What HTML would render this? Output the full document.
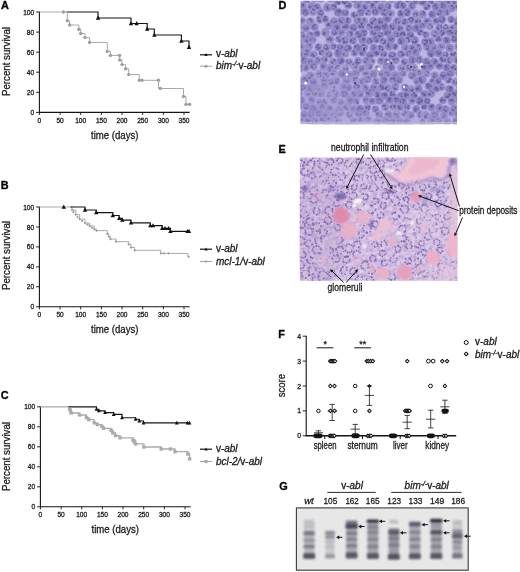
<!DOCTYPE html><html><head><meta charset="utf-8"><title>Figure</title><style>html,body{margin:0;padding:0;background:#fff}svg{display:block}</style></head><body><svg width="520" height="572" viewBox="0 0 520 572" font-family="Liberation Sans, sans-serif">
<rect width="520" height="572" fill="#fff"/>
<text x="1" y="9" font-size="10.9" text-anchor="start" fill="#000" font-weight="bold" stroke="#000" stroke-width="0.3" stroke-linejoin="round" >A</text>
<path d="M39.4 11.5V112.4H189.6" fill="none" stroke="#141414" stroke-width="1.1"/>
<path d="M36.0 12.0H39.4" stroke="#141414" stroke-width="0.9"/>
<text x="34.199999999999996" y="14.5" font-size="6.6" text-anchor="end" fill="#1a1a1a" stroke="#1a1a1a" stroke-width="0.28" >100</text>
<path d="M36.0 32.1H39.4" stroke="#141414" stroke-width="0.9"/>
<text x="34.199999999999996" y="34.6" font-size="6.6" text-anchor="end" fill="#1a1a1a" stroke="#1a1a1a" stroke-width="0.28" >80</text>
<path d="M36.0 52.2H39.4" stroke="#141414" stroke-width="0.9"/>
<text x="34.199999999999996" y="54.7" font-size="6.6" text-anchor="end" fill="#1a1a1a" stroke="#1a1a1a" stroke-width="0.28" >60</text>
<path d="M36.0 72.2H39.4" stroke="#141414" stroke-width="0.9"/>
<text x="34.199999999999996" y="74.7" font-size="6.6" text-anchor="end" fill="#1a1a1a" stroke="#1a1a1a" stroke-width="0.28" >40</text>
<path d="M36.0 92.3H39.4" stroke="#141414" stroke-width="0.9"/>
<text x="34.199999999999996" y="94.8" font-size="6.6" text-anchor="end" fill="#1a1a1a" stroke="#1a1a1a" stroke-width="0.28" >20</text>
<path d="M36.0 112.4H39.4" stroke="#141414" stroke-width="0.9"/>
<text x="34.199999999999996" y="114.9" font-size="6.6" text-anchor="end" fill="#1a1a1a" stroke="#1a1a1a" stroke-width="0.28" >0</text>
<path d="M39.4 112.4V115.0" stroke="#141414" stroke-width="0.9"/>
<text x="39.4" y="123.0" font-size="6.6" text-anchor="middle" fill="#1a1a1a" stroke="#1a1a1a" stroke-width="0.28" >0</text>
<path d="M60.1 112.4V115.0" stroke="#141414" stroke-width="0.9"/>
<text x="60.1" y="123.0" font-size="6.6" text-anchor="middle" fill="#1a1a1a" stroke="#1a1a1a" stroke-width="0.28" >50</text>
<path d="M80.7 112.4V115.0" stroke="#141414" stroke-width="0.9"/>
<text x="80.7" y="123.0" font-size="6.6" text-anchor="middle" fill="#1a1a1a" stroke="#1a1a1a" stroke-width="0.28" >100</text>
<path d="M101.4 112.4V115.0" stroke="#141414" stroke-width="0.9"/>
<text x="101.4" y="123.0" font-size="6.6" text-anchor="middle" fill="#1a1a1a" stroke="#1a1a1a" stroke-width="0.28" >150</text>
<path d="M122.0 112.4V115.0" stroke="#141414" stroke-width="0.9"/>
<text x="122.0" y="123.0" font-size="6.6" text-anchor="middle" fill="#1a1a1a" stroke="#1a1a1a" stroke-width="0.28" >200</text>
<path d="M142.7 112.4V115.0" stroke="#141414" stroke-width="0.9"/>
<text x="142.7" y="123.0" font-size="6.6" text-anchor="middle" fill="#1a1a1a" stroke="#1a1a1a" stroke-width="0.28" >250</text>
<path d="M163.4 112.4V115.0" stroke="#141414" stroke-width="0.9"/>
<text x="163.4" y="123.0" font-size="6.6" text-anchor="middle" fill="#1a1a1a" stroke="#1a1a1a" stroke-width="0.28" >300</text>
<path d="M184.0 112.4V115.0" stroke="#141414" stroke-width="0.9"/>
<text x="184.0" y="123.0" font-size="6.6" text-anchor="middle" fill="#1a1a1a" stroke="#1a1a1a" stroke-width="0.28" >350</text>
<text x="9.6" y="96" font-size="10" text-anchor="start" fill="#1a1a1a" textLength="69" lengthAdjust="spacingAndGlyphs" transform="rotate(-90 9.6 96)" stroke="#1a1a1a" stroke-width="0.28" >Percent survival</text>
<text x="91" y="138.8" font-size="10" text-anchor="start" fill="#1a1a1a" textLength="47.5" lengthAdjust="spacingAndGlyphs" stroke="#1a1a1a" stroke-width="0.28" >time (days)</text>
<path d="M66.5 12.0H98.0V18.0H131.0V23.5H147.2V29.0H154.3V35.0H181.4V41.0H189.0V47.2" fill="none" stroke="#141414" stroke-width="1.15"/>
<path d="M95.8 19.7L100.2 19.7L98.0 15.6Z" fill="#111"/>
<path d="M128.8 25.2L133.2 25.2L131.0 21.1Z" fill="#111"/>
<path d="M134.4 25.2L138.8 25.2L136.6 21.1Z" fill="#111"/>
<path d="M145.0 30.7L149.3 30.7L147.2 26.6Z" fill="#111"/>
<path d="M152.2 36.7L156.5 36.7L154.3 32.6Z" fill="#111"/>
<path d="M179.2 42.7L183.6 42.7L181.4 38.6Z" fill="#111"/>
<path d="M186.8 48.9L191.2 48.9L189.0 44.8Z" fill="#111"/>
<path d="M39.4 12.0H67.3V20.7H69.6V25.0H78.8V29.3H80.7V33.5H85.0V37.6H89.6V42.4H107.3V51.4H110.4V55.4H119.6V60.0H122.0V64.6H125.6V68.8H128.7V74.6H139.3V80.3H158.5V88.5H183.5V96.5H186.0V104.4H189.6" fill="none" stroke="#9f9f9f" stroke-width="0.9"/>
<circle cx="63.5" cy="12.0" r="1.7" fill="#9f9f9f"/>
<circle cx="67.3" cy="20.7" r="1.7" fill="#9f9f9f"/>
<circle cx="69.6" cy="25.0" r="1.7" fill="#9f9f9f"/>
<circle cx="78.8" cy="29.3" r="1.7" fill="#9f9f9f"/>
<circle cx="80.7" cy="33.5" r="1.7" fill="#9f9f9f"/>
<circle cx="85.0" cy="37.6" r="1.7" fill="#9f9f9f"/>
<circle cx="89.6" cy="42.4" r="1.7" fill="#9f9f9f"/>
<circle cx="107.3" cy="51.4" r="1.7" fill="#9f9f9f"/>
<circle cx="110.4" cy="55.4" r="1.7" fill="#9f9f9f"/>
<circle cx="119.6" cy="55.4" r="1.7" fill="#9f9f9f"/>
<circle cx="119.8" cy="60.0" r="1.7" fill="#9f9f9f"/>
<circle cx="122.0" cy="64.6" r="1.7" fill="#9f9f9f"/>
<circle cx="125.6" cy="68.8" r="1.7" fill="#9f9f9f"/>
<circle cx="128.7" cy="74.6" r="1.7" fill="#9f9f9f"/>
<circle cx="139.3" cy="80.3" r="1.7" fill="#9f9f9f"/>
<circle cx="142.0" cy="80.3" r="1.7" fill="#9f9f9f"/>
<circle cx="158.5" cy="80.3" r="1.7" fill="#9f9f9f"/>
<circle cx="160.3" cy="88.5" r="1.7" fill="#9f9f9f"/>
<circle cx="183.5" cy="96.5" r="1.7" fill="#9f9f9f"/>
<circle cx="186.0" cy="104.4" r="1.7" fill="#9f9f9f"/>
<circle cx="189.6" cy="104.4" r="1.7" fill="#9f9f9f"/>
<path d="M200 54.8H212" stroke="#141414" stroke-width="1.2"/>
<path d="M204.4 56.1L207.6 56.1L206.0 53.0Z" fill="#111"/>
<path d="M200 66.2H212" stroke="#9f9f9f" stroke-width="1"/>
<circle cx="206.0" cy="66.2" r="1.5" fill="#9f9f9f"/>
<text x="215.9" y="57.2" font-size="10" text-anchor="start" fill="#1a1a1a" stroke="#1a1a1a" stroke-width="0.28" >v-<tspan font-style="italic">abl</tspan></text>
<text x="215.9" y="68.6" font-size="10" text-anchor="start" fill="#1a1a1a" stroke="#1a1a1a" stroke-width="0.28" ><tspan font-style="italic">bim</tspan><tspan font-size="6.8" dy="-3" font-style="italic">-/-</tspan><tspan dy="3">v-</tspan><tspan font-style="italic">abl</tspan></text>
<text x="0.8" y="189" font-size="10.9" text-anchor="start" fill="#000" font-weight="bold" stroke="#000" stroke-width="0.3" stroke-linejoin="round" >B</text>
<path d="M39.4 206.5V306.8H189.6" fill="none" stroke="#141414" stroke-width="1.1"/>
<path d="M36.0 207.0H39.4" stroke="#141414" stroke-width="0.9"/>
<text x="34.199999999999996" y="209.5" font-size="6.6" text-anchor="end" fill="#1a1a1a" stroke="#1a1a1a" stroke-width="0.28" >100</text>
<path d="M36.0 227.0H39.4" stroke="#141414" stroke-width="0.9"/>
<text x="34.199999999999996" y="229.5" font-size="6.6" text-anchor="end" fill="#1a1a1a" stroke="#1a1a1a" stroke-width="0.28" >80</text>
<path d="M36.0 246.9H39.4" stroke="#141414" stroke-width="0.9"/>
<text x="34.199999999999996" y="249.4" font-size="6.6" text-anchor="end" fill="#1a1a1a" stroke="#1a1a1a" stroke-width="0.28" >60</text>
<path d="M36.0 266.9H39.4" stroke="#141414" stroke-width="0.9"/>
<text x="34.199999999999996" y="269.4" font-size="6.6" text-anchor="end" fill="#1a1a1a" stroke="#1a1a1a" stroke-width="0.28" >40</text>
<path d="M36.0 286.8H39.4" stroke="#141414" stroke-width="0.9"/>
<text x="34.199999999999996" y="289.3" font-size="6.6" text-anchor="end" fill="#1a1a1a" stroke="#1a1a1a" stroke-width="0.28" >20</text>
<path d="M36.0 306.8H39.4" stroke="#141414" stroke-width="0.9"/>
<text x="34.199999999999996" y="309.3" font-size="6.6" text-anchor="end" fill="#1a1a1a" stroke="#1a1a1a" stroke-width="0.28" >0</text>
<path d="M39.4 306.8V309.40000000000003" stroke="#141414" stroke-width="0.9"/>
<text x="39.4" y="317.40000000000003" font-size="6.6" text-anchor="middle" fill="#1a1a1a" stroke="#1a1a1a" stroke-width="0.28" >0</text>
<path d="M60.1 306.8V309.40000000000003" stroke="#141414" stroke-width="0.9"/>
<text x="60.1" y="317.40000000000003" font-size="6.6" text-anchor="middle" fill="#1a1a1a" stroke="#1a1a1a" stroke-width="0.28" >50</text>
<path d="M80.7 306.8V309.40000000000003" stroke="#141414" stroke-width="0.9"/>
<text x="80.7" y="317.40000000000003" font-size="6.6" text-anchor="middle" fill="#1a1a1a" stroke="#1a1a1a" stroke-width="0.28" >100</text>
<path d="M101.4 306.8V309.40000000000003" stroke="#141414" stroke-width="0.9"/>
<text x="101.4" y="317.40000000000003" font-size="6.6" text-anchor="middle" fill="#1a1a1a" stroke="#1a1a1a" stroke-width="0.28" >150</text>
<path d="M122.0 306.8V309.40000000000003" stroke="#141414" stroke-width="0.9"/>
<text x="122.0" y="317.40000000000003" font-size="6.6" text-anchor="middle" fill="#1a1a1a" stroke="#1a1a1a" stroke-width="0.28" >200</text>
<path d="M142.7 306.8V309.40000000000003" stroke="#141414" stroke-width="0.9"/>
<text x="142.7" y="317.40000000000003" font-size="6.6" text-anchor="middle" fill="#1a1a1a" stroke="#1a1a1a" stroke-width="0.28" >250</text>
<path d="M163.4 306.8V309.40000000000003" stroke="#141414" stroke-width="0.9"/>
<text x="163.4" y="317.40000000000003" font-size="6.6" text-anchor="middle" fill="#1a1a1a" stroke="#1a1a1a" stroke-width="0.28" >300</text>
<path d="M184.0 306.8V309.40000000000003" stroke="#141414" stroke-width="0.9"/>
<text x="184.0" y="317.40000000000003" font-size="6.6" text-anchor="middle" fill="#1a1a1a" stroke="#1a1a1a" stroke-width="0.28" >350</text>
<text x="9.6" y="290" font-size="10" text-anchor="start" fill="#1a1a1a" textLength="69" lengthAdjust="spacingAndGlyphs" transform="rotate(-90 9.6 290)" stroke="#1a1a1a" stroke-width="0.28" >Percent survival</text>
<text x="91" y="333.4" font-size="10" text-anchor="start" fill="#1a1a1a" textLength="47.5" lengthAdjust="spacingAndGlyphs" stroke="#1a1a1a" stroke-width="0.28" >time (days)</text>
<path d="M39.4 207.0H71.2H72.0V210.0H75.8V214.6H79.6V219.2H85.0V223.0H89.6V226.0H94.2V229.2H96.5V230.6H106.4H107.3V233.8H108.8V236.6H110.4V239.0H116.0V241.7H128.7V244.4H131.0V247.5H134.7V250.3H160.9V253.4H187.8V256.7H188.7" fill="none" stroke="#9f9f9f" stroke-width="0.9"/>
<path d="M70.5 207.0H85.0V210.0H96.2V212.6H112.8V215.5H119.2V218.3H122.3V220.1H131.0V222.9H150.3V225.6H162.2V228.3H170.4V231.4H188.7" fill="none" stroke="#141414" stroke-width="1.15"/>
<path d="M61.6 208.7L66.0 208.7L63.8 204.6Z" fill="#111"/>
<path d="M82.8 211.7L87.2 211.7L85.0 207.6Z" fill="#111"/>
<path d="M94.0 214.3L98.4 214.3L96.2 210.2Z" fill="#111"/>
<path d="M110.6 217.2L115.0 217.2L112.8 213.1Z" fill="#111"/>
<path d="M117.0 220.0L121.4 220.0L119.2 215.9Z" fill="#111"/>
<path d="M120.1 221.8L124.5 221.8L122.3 217.7Z" fill="#111"/>
<path d="M128.8 224.6L133.2 224.6L131.0 220.5Z" fill="#111"/>
<path d="M148.2 227.3L152.5 227.3L150.3 223.2Z" fill="#111"/>
<path d="M150.8 227.3L155.2 227.3L153.0 223.2Z" fill="#111"/>
<path d="M160.0 230.0L164.3 230.0L162.2 225.9Z" fill="#111"/>
<path d="M162.8 230.0L167.2 230.0L165.0 225.9Z" fill="#111"/>
<path d="M166.4 230.0L170.8 230.0L168.6 225.9Z" fill="#111"/>
<path d="M168.2 233.1L172.6 233.1L170.4 229.0Z" fill="#111"/>
<path d="M185.4 233.1L189.8 233.1L187.6 229.0Z" fill="#111"/>
<path d="M186.8 233.1L191.2 233.1L189.0 229.0Z" fill="#111"/>
<path d="M70.6 210.0L72.0 208.6L73.4 210.0L72.0 211.4Z" fill="#9f9f9f"/>
<path d="M72.1 212.0L73.5 210.6L74.9 212.0L73.5 213.4Z" fill="#9f9f9f"/>
<path d="M74.4 214.6L75.8 213.2L77.2 214.6L75.8 216.0Z" fill="#9f9f9f"/>
<path d="M76.1 217.0L77.5 215.6L78.9 217.0L77.5 218.4Z" fill="#9f9f9f"/>
<path d="M78.2 219.2L79.6 217.8L81.0 219.2L79.6 220.6Z" fill="#9f9f9f"/>
<path d="M80.6 221.0L82.0 219.6L83.4 221.0L82.0 222.4Z" fill="#9f9f9f"/>
<path d="M83.6 223.0L85.0 221.6L86.4 223.0L85.0 224.4Z" fill="#9f9f9f"/>
<path d="M86.1 224.6L87.5 223.2L88.9 224.6L87.5 226.0Z" fill="#9f9f9f"/>
<path d="M88.2 226.0L89.6 224.6L91.0 226.0L89.6 227.4Z" fill="#9f9f9f"/>
<path d="M90.6 227.7L92.0 226.3L93.4 227.7L92.0 229.1Z" fill="#9f9f9f"/>
<path d="M92.8 229.2L94.2 227.8L95.6 229.2L94.2 230.6Z" fill="#9f9f9f"/>
<path d="M95.1 230.6L96.5 229.2L97.9 230.6L96.5 232.0Z" fill="#9f9f9f"/>
<path d="M105.9 233.8L107.3 232.4L108.7 233.8L107.3 235.2Z" fill="#9f9f9f"/>
<path d="M107.4 236.6L108.8 235.2L110.2 236.6L108.8 238.0Z" fill="#9f9f9f"/>
<path d="M109.0 239.0L110.4 237.6L111.8 239.0L110.4 240.4Z" fill="#9f9f9f"/>
<path d="M114.6 241.7L116.0 240.3L117.4 241.7L116.0 243.1Z" fill="#9f9f9f"/>
<path d="M127.3 244.4L128.7 243.0L130.1 244.4L128.7 245.8Z" fill="#9f9f9f"/>
<path d="M129.6 247.5L131.0 246.1L132.4 247.5L131.0 248.9Z" fill="#9f9f9f"/>
<path d="M133.3 250.3L134.7 248.9L136.1 250.3L134.7 251.7Z" fill="#9f9f9f"/>
<path d="M159.5 253.4L160.9 252.0L162.3 253.4L160.9 254.8Z" fill="#9f9f9f"/>
<path d="M162.6 253.4L164.0 252.0L165.4 253.4L164.0 254.8Z" fill="#9f9f9f"/>
<path d="M167.2 253.4L168.6 252.0L170.0 253.4L168.6 254.8Z" fill="#9f9f9f"/>
<path d="M187.3 256.7L188.7 255.3L190.1 256.7L188.7 258.1Z" fill="#9f9f9f"/>
<path d="M200 249.2H212" stroke="#141414" stroke-width="1.2"/>
<path d="M204.4 250.5L207.6 250.5L206.0 247.4Z" fill="#111"/>
<path d="M200 261.5H212" stroke="#9f9f9f" stroke-width="1"/>
<path d="M204.6 261.5L206.0 260.1L207.4 261.5L206.0 262.9Z" fill="#9f9f9f"/>
<text x="215.9" y="252.2" font-size="10" text-anchor="start" fill="#1a1a1a" stroke="#1a1a1a" stroke-width="0.28" >v-<tspan font-style="italic">abl</tspan></text>
<text x="215.9" y="264.5" font-size="10" text-anchor="start" fill="#1a1a1a" stroke="#1a1a1a" stroke-width="0.28" ><tspan font-style="italic">mcl-1/</tspan>v-<tspan font-style="italic">abl</tspan></text>
<text x="0.8" y="399" font-size="10.9" text-anchor="start" fill="#000" font-weight="bold" stroke="#000" stroke-width="0.3" stroke-linejoin="round" >C</text>
<path d="M40.4 406.3V506.8H190.6" fill="none" stroke="#141414" stroke-width="1.1"/>
<path d="M37.0 406.8H40.4" stroke="#141414" stroke-width="0.9"/>
<text x="35.199999999999996" y="409.3" font-size="6.6" text-anchor="end" fill="#1a1a1a" stroke="#1a1a1a" stroke-width="0.28" >100</text>
<path d="M37.0 426.8H40.4" stroke="#141414" stroke-width="0.9"/>
<text x="35.199999999999996" y="429.3" font-size="6.6" text-anchor="end" fill="#1a1a1a" stroke="#1a1a1a" stroke-width="0.28" >80</text>
<path d="M37.0 446.8H40.4" stroke="#141414" stroke-width="0.9"/>
<text x="35.199999999999996" y="449.3" font-size="6.6" text-anchor="end" fill="#1a1a1a" stroke="#1a1a1a" stroke-width="0.28" >60</text>
<path d="M37.0 466.8H40.4" stroke="#141414" stroke-width="0.9"/>
<text x="35.199999999999996" y="469.3" font-size="6.6" text-anchor="end" fill="#1a1a1a" stroke="#1a1a1a" stroke-width="0.28" >40</text>
<path d="M37.0 486.8H40.4" stroke="#141414" stroke-width="0.9"/>
<text x="35.199999999999996" y="489.3" font-size="6.6" text-anchor="end" fill="#1a1a1a" stroke="#1a1a1a" stroke-width="0.28" >20</text>
<path d="M37.0 506.8H40.4" stroke="#141414" stroke-width="0.9"/>
<text x="35.199999999999996" y="509.3" font-size="6.6" text-anchor="end" fill="#1a1a1a" stroke="#1a1a1a" stroke-width="0.28" >0</text>
<path d="M40.4 506.8V509.40000000000003" stroke="#141414" stroke-width="0.9"/>
<text x="40.4" y="517.4" font-size="6.6" text-anchor="middle" fill="#1a1a1a" stroke="#1a1a1a" stroke-width="0.28" >0</text>
<path d="M61.1 506.8V509.40000000000003" stroke="#141414" stroke-width="0.9"/>
<text x="61.1" y="517.4" font-size="6.6" text-anchor="middle" fill="#1a1a1a" stroke="#1a1a1a" stroke-width="0.28" >50</text>
<path d="M81.7 506.8V509.40000000000003" stroke="#141414" stroke-width="0.9"/>
<text x="81.7" y="517.4" font-size="6.6" text-anchor="middle" fill="#1a1a1a" stroke="#1a1a1a" stroke-width="0.28" >100</text>
<path d="M102.4 506.8V509.40000000000003" stroke="#141414" stroke-width="0.9"/>
<text x="102.4" y="517.4" font-size="6.6" text-anchor="middle" fill="#1a1a1a" stroke="#1a1a1a" stroke-width="0.28" >150</text>
<path d="M123.0 506.8V509.40000000000003" stroke="#141414" stroke-width="0.9"/>
<text x="123.0" y="517.4" font-size="6.6" text-anchor="middle" fill="#1a1a1a" stroke="#1a1a1a" stroke-width="0.28" >200</text>
<path d="M143.7 506.8V509.40000000000003" stroke="#141414" stroke-width="0.9"/>
<text x="143.7" y="517.4" font-size="6.6" text-anchor="middle" fill="#1a1a1a" stroke="#1a1a1a" stroke-width="0.28" >250</text>
<path d="M164.4 506.8V509.40000000000003" stroke="#141414" stroke-width="0.9"/>
<text x="164.4" y="517.4" font-size="6.6" text-anchor="middle" fill="#1a1a1a" stroke="#1a1a1a" stroke-width="0.28" >300</text>
<path d="M185.0 506.8V509.40000000000003" stroke="#141414" stroke-width="0.9"/>
<text x="185.0" y="517.4" font-size="6.6" text-anchor="middle" fill="#1a1a1a" stroke="#1a1a1a" stroke-width="0.28" >350</text>
<text x="9.6" y="491" font-size="10" text-anchor="start" fill="#1a1a1a" textLength="69" lengthAdjust="spacingAndGlyphs" transform="rotate(-90 9.6 491)" stroke="#1a1a1a" stroke-width="0.28" >Percent survival</text>
<text x="91.5" y="533.4" font-size="10" text-anchor="start" fill="#1a1a1a" textLength="47.5" lengthAdjust="spacingAndGlyphs" stroke="#1a1a1a" stroke-width="0.28" >time (days)</text>
<path d="M40.4 406.8H68.8H69.6V409.2H71.2V413.0H79.6V415.0H86.5V417.7H88.8V419.7H94.2V422.8H97.3V424.6H101.8V426.5H103.7V428.3H111.0V430.2H112.8V432.9H115.5V435.6H120.0V437.8H133.0V440.2H135.6V443.9H143.9V447.0H161.2V449.0H175.0V451.7H187.8V454.0H189.6V458.9" fill="none" stroke="#ababab" stroke-width="1.3"/>
<path d="M68.5 406.8H96.5V409.2H98.8V410.8H105.0V412.6H113.7V414.4H122.0V417.7H135.6V419.2H139.3V421.0H143.5V422.9H189.6" fill="none" stroke="#141414" stroke-width="1.15"/>
<path d="M94.6 410.7L98.4 410.7L96.5 407.1Z" fill="#111"/>
<path d="M96.9 412.3L100.7 412.3L98.8 408.7Z" fill="#111"/>
<path d="M103.1 414.1L106.9 414.1L105.0 410.5Z" fill="#111"/>
<path d="M111.8 415.9L115.6 415.9L113.7 412.3Z" fill="#111"/>
<path d="M120.1 419.2L123.9 419.2L122.0 415.6Z" fill="#111"/>
<path d="M133.7 420.7L137.5 420.7L135.6 417.1Z" fill="#111"/>
<path d="M137.4 422.5L141.2 422.5L139.3 418.9Z" fill="#111"/>
<path d="M141.6 424.4L145.4 424.4L143.5 420.8Z" fill="#111"/>
<path d="M174.9 424.4L178.7 424.4L176.8 420.8Z" fill="#111"/>
<path d="M185.6 424.4L189.4 424.4L187.5 420.8Z" fill="#111"/>
<path d="M187.6 424.4L191.4 424.4L189.5 420.8Z" fill="#111"/>
<rect x="67.9" y="407.5" width="3.4" height="3.4" fill="#ababab"/>
<rect x="68.7" y="409.3" width="3.4" height="3.4" fill="#ababab"/>
<rect x="69.5" y="411.3" width="3.4" height="3.4" fill="#ababab"/>
<rect x="77.9" y="413.3" width="3.4" height="3.4" fill="#ababab"/>
<rect x="84.8" y="416.0" width="3.4" height="3.4" fill="#ababab"/>
<rect x="87.1" y="418.0" width="3.4" height="3.4" fill="#ababab"/>
<rect x="92.5" y="421.1" width="3.4" height="3.4" fill="#ababab"/>
<rect x="95.6" y="422.9" width="3.4" height="3.4" fill="#ababab"/>
<rect x="100.1" y="424.8" width="3.4" height="3.4" fill="#ababab"/>
<rect x="102.0" y="426.6" width="3.4" height="3.4" fill="#ababab"/>
<rect x="109.3" y="428.5" width="3.4" height="3.4" fill="#ababab"/>
<rect x="111.1" y="431.2" width="3.4" height="3.4" fill="#ababab"/>
<rect x="113.8" y="433.9" width="3.4" height="3.4" fill="#ababab"/>
<rect x="118.3" y="436.1" width="3.4" height="3.4" fill="#ababab"/>
<rect x="131.3" y="438.5" width="3.4" height="3.4" fill="#ababab"/>
<rect x="132.6" y="440.3" width="3.4" height="3.4" fill="#ababab"/>
<rect x="133.9" y="442.2" width="3.4" height="3.4" fill="#ababab"/>
<rect x="142.2" y="445.3" width="3.4" height="3.4" fill="#ababab"/>
<rect x="159.5" y="447.3" width="3.4" height="3.4" fill="#ababab"/>
<rect x="168.7" y="447.3" width="3.4" height="3.4" fill="#ababab"/>
<rect x="173.3" y="450.0" width="3.4" height="3.4" fill="#ababab"/>
<rect x="186.1" y="452.3" width="3.4" height="3.4" fill="#ababab"/>
<rect x="187.9" y="457.2" width="3.4" height="3.4" fill="#ababab"/>
<path d="M200 449.2H212" stroke="#141414" stroke-width="1.2"/>
<path d="M204.4 450.5L207.6 450.5L206.0 447.4Z" fill="#111"/>
<path d="M200 461.5H212" stroke="#9f9f9f" stroke-width="1"/>
<rect x="204.4" y="459.9" width="3.2" height="3.2" fill="#ababab"/>
<text x="215.9" y="452.2" font-size="10" text-anchor="start" fill="#1a1a1a" stroke="#1a1a1a" stroke-width="0.28" >v-<tspan font-style="italic">abl</tspan></text>
<text x="215.9" y="464.5" font-size="10" text-anchor="start" fill="#1a1a1a" stroke="#1a1a1a" stroke-width="0.28" ><tspan font-style="italic">bcl-2/</tspan>v-<tspan font-style="italic">abl</tspan></text>
<text x="278.5" y="9" font-size="10.9" text-anchor="start" fill="#000" font-weight="bold" stroke="#000" stroke-width="0.3" stroke-linejoin="round" >D</text>
<text x="278.5" y="152.6" font-size="10.9" text-anchor="start" fill="#000" font-weight="bold" stroke="#000" stroke-width="0.3" stroke-linejoin="round" >E</text>
<text x="278.3" y="338" font-size="10.9" text-anchor="start" fill="#000" font-weight="bold" stroke="#000" stroke-width="0.3" stroke-linejoin="round" >F</text>
<text x="279.2" y="489.6" font-size="10.9" text-anchor="start" fill="#000" font-weight="bold" stroke="#000" stroke-width="0.3" stroke-linejoin="round" >G</text>
<defs><clipPath id="cd"><rect x="300.6" y="0.8" width="156.4" height="123.4"/></clipPath><filter id="fd" x="0" y="0" width="100%" height="100%"><feGaussianBlur stdDeviation="0.55"/></filter><filter id="fb3" x="-30%" y="-30%" width="160%" height="160%"><feGaussianBlur stdDeviation="3"/></filter><filter id="fb1" x="-30%" y="-30%" width="160%" height="160%"><feGaussianBlur stdDeviation="1.2"/></filter></defs>
<g clip-path="url(#cd)">
<rect x="300.6" y="0.8" width="156.4" height="123.4" fill="#bdb6e3"/>
<g filter="url(#fb3)">
<ellipse cx="326" cy="95" rx="34" ry="24" fill="#a79dd5" opacity="0.8"/>
<ellipse cx="370" cy="119" rx="70" ry="8" fill="#b0a6d9" opacity="0.8"/>
<ellipse cx="380" cy="72" rx="45" ry="8" fill="#b4acdc" opacity="0.5"/>
<ellipse cx="447" cy="118" rx="18" ry="6" fill="#b4acdc" opacity="0.6"/>
<ellipse cx="379" cy="69" rx="6" ry="5" fill="#ffffff" opacity="0.6"/>
<ellipse cx="421" cy="66" rx="8" ry="6" fill="#e2ddf2" opacity="0.7"/>
<ellipse cx="347" cy="75" rx="7" ry="5" fill="#d6d0ec" opacity="0.6"/>
</g>
<g filter="url(#fd)">
<ellipse cx="364.6" cy="7.7" rx="3.8" ry="4.3" fill="#8e86c0" stroke="#a39bd0" stroke-width="0.5"/>
<circle cx="364.0" cy="8.6" r="0.8" fill="#695ba4"/>
<circle cx="364.4" cy="6.9" r="1.3" fill="#715ba4"/>
<circle cx="363.2" cy="8.8" r="0.9" fill="#6863a4"/>
<circle cx="365.1" cy="8.2" r="1.2" fill="#6f61a4"/>
<circle cx="366.0" cy="8.3" r="0.8" fill="#6a60a4"/>
<circle cx="363.6" cy="6.0" r="0.7" fill="#705ba4"/>
<ellipse cx="443.6" cy="75.7" rx="4.2" ry="4.4" fill="#8b83bf" stroke="#a39bd0" stroke-width="0.5"/>
<circle cx="445.6" cy="77.1" r="0.8" fill="#646aa6"/>
<circle cx="442.9" cy="77.6" r="0.7" fill="#725fa6"/>
<circle cx="445.4" cy="75.9" r="1.0" fill="#6e6ba6"/>
<circle cx="441.4" cy="75.4" r="1.1" fill="#7163a6"/>
<circle cx="443.0" cy="76.1" r="1.3" fill="#6f66a6"/>
<ellipse cx="426.9" cy="6.8" rx="3.8" ry="3.5" fill="#938bc3" stroke="#a39bd0" stroke-width="0.5"/>
<circle cx="428.3" cy="5.6" r="1.1" fill="#685aa4"/>
<circle cx="429.2" cy="6.6" r="1.0" fill="#655ba4"/>
<circle cx="426.6" cy="8.5" r="1.3" fill="#6965a4"/>
<circle cx="425.5" cy="8.3" r="1.2" fill="#6d5ca4"/>
<circle cx="426.4" cy="8.4" r="1.2" fill="#6964a4"/>
<ellipse cx="404.9" cy="128.6" rx="3.4" ry="4.0" fill="#8a81bf" stroke="#a39bd0" stroke-width="0.5"/>
<circle cx="403.9" cy="127.6" r="1.3" fill="#6c68a8"/>
<circle cx="405.8" cy="127.0" r="1.1" fill="#6c6ea8"/>
<circle cx="404.0" cy="128.7" r="1.3" fill="#7660a8"/>
<circle cx="406.0" cy="130.5" r="1.0" fill="#6e6ba8"/>
<circle cx="404.6" cy="130.7" r="1.1" fill="#6c63a8"/>
<circle cx="403.6" cy="126.8" r="1.1" fill="#706ca8"/>
<circle cx="404.5" cy="128.9" r="0.8" fill="#a59cd2"/>
<ellipse cx="301.7" cy="20.7" rx="3.8" ry="4.0" fill="#9990c6" stroke="#a39bd0" stroke-width="0.5"/>
<circle cx="301.9" cy="19.6" r="0.9" fill="#6e69a7"/>
<circle cx="301.6" cy="21.6" r="1.2" fill="#756ba7"/>
<circle cx="301.5" cy="21.5" r="0.8" fill="#756ea7"/>
<circle cx="303.9" cy="20.3" r="1.0" fill="#6f6ba7"/>
<circle cx="300.1" cy="20.3" r="1.2" fill="#6e64a7"/>
<ellipse cx="340.4" cy="47.8" rx="3.9" ry="4.2" fill="#8c84bf" stroke="#a39bd0" stroke-width="0.5"/>
<circle cx="342.0" cy="47.0" r="1.0" fill="#6260a4"/>
<circle cx="339.1" cy="47.5" r="1.0" fill="#6360a4"/>
<circle cx="340.2" cy="50.1" r="0.8" fill="#6762a4"/>
<circle cx="340.6" cy="48.6" r="1.0" fill="#6f5fa4"/>
<circle cx="339.0" cy="49.5" r="1.3" fill="#705ea4"/>
<circle cx="338.0" cy="47.9" r="0.7" fill="#6862a4"/>
<circle cx="339.9" cy="47.6" r="0.8" fill="#a59cd2"/>
<ellipse cx="311.1" cy="114.4" rx="3.8" ry="4.4" fill="#958bc6" stroke="#a39bd0" stroke-width="0.5"/>
<circle cx="310.3" cy="113.9" r="0.8" fill="#8976b7"/>
<circle cx="309.5" cy="115.0" r="1.2" fill="#8473b7"/>
<circle cx="309.8" cy="116.6" r="0.7" fill="#8072b7"/>
<circle cx="309.8" cy="115.9" r="1.2" fill="#827fb7"/>
<circle cx="312.4" cy="113.0" r="0.8" fill="#897cb7"/>
<circle cx="310.9" cy="114.0" r="0.8" fill="#a59cd2"/>
<ellipse cx="382.0" cy="73.5" rx="4.0" ry="4.5" fill="#998fc8" stroke="#a39bd0" stroke-width="0.5"/>
<circle cx="382.2" cy="75.5" r="1.3" fill="#787cb3"/>
<circle cx="383.6" cy="74.1" r="0.9" fill="#767bb3"/>
<circle cx="379.9" cy="73.3" r="0.8" fill="#8174b3"/>
<circle cx="381.8" cy="74.1" r="1.1" fill="#7879b3"/>
<circle cx="380.2" cy="74.2" r="0.9" fill="#7d73b3"/>
<ellipse cx="311.7" cy="6.5" rx="4.2" ry="4.3" fill="#9088c2" stroke="#a39bd0" stroke-width="0.5"/>
<circle cx="309.3" cy="7.0" r="1.2" fill="#7360a7"/>
<circle cx="313.3" cy="7.3" r="1.2" fill="#6c6aa7"/>
<circle cx="314.1" cy="5.8" r="0.7" fill="#6c5ea7"/>
<circle cx="312.9" cy="6.3" r="0.9" fill="#6a60a7"/>
<circle cx="310.7" cy="8.3" r="1.2" fill="#6965a7"/>
<circle cx="310.9" cy="6.8" r="0.7" fill="#6d62a7"/>
<ellipse cx="367.4" cy="107.4" rx="3.7" ry="3.6" fill="#9990c7" stroke="#a39bd0" stroke-width="0.5"/>
<circle cx="366.5" cy="107.5" r="1.2" fill="#746dab"/>
<circle cx="368.9" cy="106.6" r="1.2" fill="#7965ab"/>
<circle cx="368.8" cy="107.1" r="0.8" fill="#7067ab"/>
<circle cx="366.3" cy="108.3" r="1.3" fill="#6e71ab"/>
<circle cx="368.6" cy="108.9" r="1.0" fill="#736bab"/>
<ellipse cx="360.8" cy="120.5" rx="4.0" ry="4.1" fill="#a59bcf" stroke="#a39bd0" stroke-width="0.5"/>
<circle cx="359.9" cy="121.1" r="1.0" fill="#8284bb"/>
<circle cx="361.0" cy="121.5" r="1.2" fill="#8984bb"/>
<circle cx="360.6" cy="118.4" r="1.1" fill="#8279bb"/>
<circle cx="360.2" cy="119.8" r="1.1" fill="#8477bb"/>
<ellipse cx="354.4" cy="65.8" rx="4.2" ry="4.1" fill="#9c93c9" stroke="#a39bd0" stroke-width="0.5"/>
<circle cx="352.8" cy="63.9" r="1.2" fill="#706dae"/>
<circle cx="355.7" cy="67.3" r="1.3" fill="#736fae"/>
<circle cx="356.3" cy="66.3" r="0.9" fill="#7874ae"/>
<circle cx="356.7" cy="64.8" r="0.8" fill="#706cae"/>
<ellipse cx="359.8" cy="-0.8" rx="4.6" ry="4.3" fill="#938bc3" stroke="#a39bd0" stroke-width="0.5"/>
<circle cx="359.6" cy="-0.0" r="0.7" fill="#6d61a4"/>
<circle cx="360.1" cy="-1.6" r="1.1" fill="#655ba4"/>
<circle cx="360.4" cy="0.3" r="0.7" fill="#6a69a4"/>
<circle cx="361.6" cy="-1.7" r="1.1" fill="#6667a4"/>
<circle cx="358.7" cy="-0.6" r="0.8" fill="#695fa4"/>
<circle cx="360.3" cy="0.2" r="1.2" fill="#6963a4"/>
<circle cx="359.4" cy="-0.4" r="0.8" fill="#a59cd2"/>
<ellipse cx="320.9" cy="93.4" rx="3.8" ry="4.2" fill="#9b91ca" stroke="#a39bd0" stroke-width="0.5"/>
<circle cx="318.9" cy="94.9" r="1.1" fill="#8283bd"/>
<circle cx="319.4" cy="92.4" r="0.7" fill="#8389bd"/>
<circle cx="319.9" cy="94.5" r="1.2" fill="#9085bd"/>
<circle cx="318.5" cy="92.4" r="1.0" fill="#8780bd"/>
<circle cx="320.4" cy="94.2" r="1.2" fill="#8d7fbd"/>
<ellipse cx="385.9" cy="66.5" rx="3.5" ry="3.6" fill="#8f86c2" stroke="#a39bd0" stroke-width="0.5"/>
<circle cx="385.4" cy="65.6" r="1.3" fill="#766dae"/>
<circle cx="385.2" cy="66.7" r="0.7" fill="#7f76ae"/>
<circle cx="387.1" cy="65.2" r="1.1" fill="#7e71ae"/>
<circle cx="386.1" cy="65.9" r="0.7" fill="#7169ae"/>
<circle cx="385.5" cy="66.2" r="0.8" fill="#a59cd2"/>
<ellipse cx="320.7" cy="12.9" rx="3.6" ry="4.3" fill="#8a82bf" stroke="#a39bd0" stroke-width="0.5"/>
<circle cx="321.3" cy="12.4" r="1.0" fill="#6d6ba5"/>
<circle cx="318.4" cy="12.7" r="0.9" fill="#7265a5"/>
<circle cx="320.5" cy="10.8" r="1.1" fill="#6863a5"/>
<circle cx="321.0" cy="14.2" r="1.2" fill="#6d62a5"/>
<circle cx="320.2" cy="14.3" r="0.9" fill="#715ca5"/>
<circle cx="321.4" cy="14.4" r="1.3" fill="#7362a5"/>
<circle cx="321.2" cy="12.7" r="0.8" fill="#a59cd2"/>
<ellipse cx="344.9" cy="12.9" rx="4.2" ry="3.7" fill="#8b83bf" stroke="#a39bd0" stroke-width="0.5"/>
<circle cx="346.6" cy="13.1" r="1.1" fill="#6b5fa4"/>
<circle cx="342.7" cy="12.6" r="1.0" fill="#6766a4"/>
<circle cx="346.9" cy="12.7" r="1.1" fill="#7060a4"/>
<circle cx="345.6" cy="13.7" r="1.2" fill="#6b5ea4"/>
<circle cx="345.3" cy="13.3" r="0.8" fill="#a59cd2"/>
<ellipse cx="387.5" cy="32.5" rx="4.4" ry="4.4" fill="#8b83bf" stroke="#a39bd0" stroke-width="0.5"/>
<circle cx="386.8" cy="32.9" r="0.8" fill="#6862a4"/>
<circle cx="385.5" cy="34.0" r="0.9" fill="#6467a4"/>
<circle cx="386.9" cy="31.9" r="0.9" fill="#6f65a4"/>
<circle cx="386.7" cy="33.5" r="1.1" fill="#6a63a4"/>
<circle cx="389.6" cy="32.5" r="0.9" fill="#7160a4"/>
<circle cx="385.4" cy="31.9" r="0.8" fill="#6860a4"/>
<ellipse cx="371.3" cy="61.3" rx="4.0" ry="3.7" fill="#9990c6" stroke="#a39bd0" stroke-width="0.5"/>
<circle cx="373.6" cy="60.9" r="0.9" fill="#765fa8"/>
<circle cx="372.2" cy="60.6" r="1.1" fill="#7064a8"/>
<circle cx="369.2" cy="62.2" r="1.0" fill="#7366a8"/>
<circle cx="373.1" cy="61.8" r="0.7" fill="#6e5fa8"/>
<circle cx="371.2" cy="61.3" r="0.8" fill="#a59cd2"/>
<ellipse cx="336.9" cy="66.5" rx="3.8" ry="3.8" fill="#9d93c9" stroke="#a39bd0" stroke-width="0.5"/>
<circle cx="335.1" cy="67.8" r="1.1" fill="#7e70ae"/>
<circle cx="336.8" cy="65.8" r="0.7" fill="#756dae"/>
<circle cx="336.5" cy="67.4" r="0.9" fill="#7a6cae"/>
<circle cx="338.4" cy="65.9" r="1.0" fill="#7f71ae"/>
<circle cx="337.3" cy="65.6" r="0.7" fill="#7d6dae"/>
<ellipse cx="325.1" cy="115.1" rx="3.9" ry="3.9" fill="#a096cd" stroke="#a39bd0" stroke-width="0.5"/>
<circle cx="325.7" cy="115.1" r="1.3" fill="#8c81bc"/>
<circle cx="324.5" cy="115.6" r="0.8" fill="#8179bc"/>
<circle cx="325.3" cy="113.4" r="1.0" fill="#8f86bc"/>
<circle cx="325.7" cy="115.9" r="1.0" fill="#8b7abc"/>
<circle cx="324.5" cy="115.0" r="1.0" fill="#8287bc"/>
<circle cx="323.7" cy="115.4" r="1.1" fill="#8e83bc"/>
<ellipse cx="399.9" cy="-0.8" rx="3.6" ry="3.4" fill="#8a82be" stroke="#a39bd0" stroke-width="0.5"/>
<circle cx="401.4" cy="-2.8" r="1.1" fill="#635da4"/>
<circle cx="400.9" cy="-0.7" r="0.7" fill="#6866a4"/>
<circle cx="400.9" cy="-0.5" r="1.1" fill="#655ca4"/>
<circle cx="400.1" cy="-0.3" r="1.0" fill="#6f61a4"/>
<circle cx="399.8" cy="1.5" r="1.1" fill="#715ba4"/>
<ellipse cx="373.8" cy="88.1" rx="4.0" ry="4.2" fill="#9088c2" stroke="#a39bd0" stroke-width="0.5"/>
<circle cx="374.3" cy="87.6" r="0.7" fill="#6a65a8"/>
<circle cx="374.8" cy="87.2" r="1.2" fill="#6d65a8"/>
<circle cx="372.8" cy="89.8" r="1.2" fill="#7766a8"/>
<circle cx="372.5" cy="87.7" r="1.0" fill="#6f65a8"/>
<circle cx="373.3" cy="88.4" r="0.8" fill="#a59cd2"/>
<ellipse cx="380.2" cy="21.5" rx="3.6" ry="3.9" fill="#8981be" stroke="#a39bd0" stroke-width="0.5"/>
<circle cx="378.7" cy="21.0" r="0.9" fill="#6e5da4"/>
<circle cx="380.5" cy="22.9" r="0.9" fill="#6c63a4"/>
<circle cx="379.2" cy="21.6" r="1.3" fill="#6f64a4"/>
<circle cx="382.0" cy="21.5" r="1.0" fill="#6969a4"/>
<circle cx="378.9" cy="22.4" r="1.1" fill="#6466a4"/>
<circle cx="382.1" cy="22.7" r="0.7" fill="#6d66a4"/>
<ellipse cx="401.2" cy="96.0" rx="3.9" ry="3.9" fill="#877fbd" stroke="#a39bd0" stroke-width="0.5"/>
<circle cx="401.3" cy="96.9" r="1.2" fill="#705ba4"/>
<circle cx="401.9" cy="94.0" r="0.8" fill="#6565a4"/>
<circle cx="400.6" cy="98.1" r="1.2" fill="#6860a4"/>
<circle cx="399.4" cy="96.4" r="1.3" fill="#6c68a4"/>
<circle cx="401.8" cy="97.1" r="1.2" fill="#6f65a4"/>
<circle cx="403.1" cy="96.3" r="0.9" fill="#696aa4"/>
<ellipse cx="373.7" cy="129.2" rx="3.6" ry="3.8" fill="#8e86c1" stroke="#a39bd0" stroke-width="0.5"/>
<circle cx="373.1" cy="127.9" r="1.2" fill="#7166a8"/>
<circle cx="374.9" cy="130.9" r="1.3" fill="#7069a8"/>
<circle cx="372.7" cy="128.7" r="1.3" fill="#6f68a8"/>
<circle cx="372.9" cy="127.6" r="1.2" fill="#7661a8"/>
<ellipse cx="458.2" cy="6.2" rx="4.3" ry="4.4" fill="#958dc4" stroke="#a39bd0" stroke-width="0.5"/>
<circle cx="457.9" cy="5.6" r="0.9" fill="#6766a4"/>
<circle cx="459.4" cy="5.5" r="1.1" fill="#6d69a4"/>
<circle cx="458.5" cy="7.9" r="1.0" fill="#6769a4"/>
<circle cx="457.3" cy="7.6" r="1.1" fill="#6d67a4"/>
<circle cx="456.2" cy="6.1" r="1.2" fill="#6564a4"/>
<circle cx="458.4" cy="4.7" r="1.2" fill="#6569a4"/>
<ellipse cx="396.3" cy="34.2" rx="4.0" ry="3.6" fill="#8981be" stroke="#a39bd0" stroke-width="0.5"/>
<circle cx="397.2" cy="34.0" r="1.1" fill="#675ba4"/>
<circle cx="397.6" cy="35.7" r="1.1" fill="#6961a4"/>
<circle cx="398.3" cy="34.3" r="1.1" fill="#6464a4"/>
<circle cx="397.7" cy="35.7" r="1.1" fill="#6b5da4"/>
<circle cx="396.3" cy="34.7" r="0.8" fill="#a59cd2"/>
<ellipse cx="422.7" cy="1.3" rx="4.5" ry="4.4" fill="#8981be" stroke="#a39bd0" stroke-width="0.5"/>
<circle cx="423.3" cy="3.2" r="0.7" fill="#6261a4"/>
<circle cx="423.7" cy="0.6" r="1.3" fill="#635ea4"/>
<circle cx="423.5" cy="2.6" r="1.0" fill="#6b5ea4"/>
<circle cx="424.2" cy="1.8" r="1.1" fill="#7161a4"/>
<circle cx="421.7" cy="3.1" r="1.3" fill="#6664a4"/>
<ellipse cx="381.3" cy="61.1" rx="4.1" ry="3.8" fill="#8e86c1" stroke="#a39bd0" stroke-width="0.5"/>
<circle cx="379.7" cy="59.7" r="0.7" fill="#7169a7"/>
<circle cx="381.3" cy="60.4" r="0.9" fill="#6d60a7"/>
<circle cx="382.9" cy="60.7" r="0.8" fill="#7569a7"/>
<circle cx="381.1" cy="59.9" r="1.1" fill="#7064a7"/>
<ellipse cx="348.0" cy="87.6" rx="4.2" ry="4.1" fill="#958bc6" stroke="#a39bd0" stroke-width="0.5"/>
<circle cx="348.8" cy="87.9" r="1.3" fill="#857eb5"/>
<circle cx="347.4" cy="88.0" r="1.1" fill="#7c76b5"/>
<circle cx="349.8" cy="87.6" r="0.8" fill="#8272b5"/>
<circle cx="349.2" cy="89.0" r="1.2" fill="#7f7fb5"/>
<ellipse cx="311.7" cy="99.9" rx="3.5" ry="3.9" fill="#9a90c9" stroke="#a39bd0" stroke-width="0.5"/>
<circle cx="310.8" cy="99.8" r="1.1" fill="#7d74b8"/>
<circle cx="312.2" cy="99.4" r="0.8" fill="#7c82b8"/>
<circle cx="311.4" cy="98.5" r="1.1" fill="#7c80b8"/>
<circle cx="310.3" cy="99.2" r="1.0" fill="#847bb8"/>
<circle cx="309.9" cy="99.5" r="1.1" fill="#7e79b8"/>
<circle cx="313.6" cy="101.0" r="1.1" fill="#8778b8"/>
<ellipse cx="439.6" cy="66.1" rx="4.1" ry="3.7" fill="#8e86c0" stroke="#a39bd0" stroke-width="0.5"/>
<circle cx="437.8" cy="65.8" r="1.1" fill="#7260a6"/>
<circle cx="439.3" cy="65.3" r="1.3" fill="#6d65a6"/>
<circle cx="438.9" cy="66.9" r="0.8" fill="#6b60a6"/>
<circle cx="440.6" cy="65.9" r="1.2" fill="#7060a6"/>
<circle cx="439.1" cy="65.3" r="0.8" fill="#6f67a6"/>
<circle cx="438.0" cy="66.5" r="1.2" fill="#6f68a6"/>
<ellipse cx="313.4" cy="54.6" rx="4.5" ry="3.9" fill="#948cc4" stroke="#a39bd0" stroke-width="0.5"/>
<circle cx="311.1" cy="54.5" r="1.3" fill="#7669a8"/>
<circle cx="311.9" cy="54.5" r="1.3" fill="#7268a8"/>
<circle cx="314.0" cy="56.1" r="1.1" fill="#6965a8"/>
<circle cx="312.8" cy="55.0" r="1.3" fill="#686aa8"/>
<circle cx="312.6" cy="54.8" r="0.8" fill="#696da8"/>
<ellipse cx="310.3" cy="35.1" rx="4.0" ry="3.7" fill="#8e85c1" stroke="#a39bd0" stroke-width="0.5"/>
<circle cx="311.5" cy="33.3" r="0.9" fill="#7864ac"/>
<circle cx="310.4" cy="36.8" r="1.0" fill="#756aac"/>
<circle cx="310.8" cy="33.9" r="1.1" fill="#7269ac"/>
<circle cx="312.6" cy="35.7" r="1.1" fill="#706aac"/>
<circle cx="312.8" cy="35.5" r="1.0" fill="#7471ac"/>
<circle cx="310.0" cy="34.8" r="0.8" fill="#a59cd2"/>
<ellipse cx="426.2" cy="72.7" rx="4.4" ry="4.5" fill="#9890c6" stroke="#a39bd0" stroke-width="0.5"/>
<circle cx="426.2" cy="75.3" r="1.0" fill="#7565a9"/>
<circle cx="428.7" cy="73.1" r="0.7" fill="#7169a9"/>
<circle cx="426.5" cy="72.0" r="1.1" fill="#736ba9"/>
<circle cx="427.5" cy="70.6" r="0.8" fill="#7468a9"/>
<circle cx="427.7" cy="72.2" r="0.9" fill="#6f69a9"/>
<circle cx="426.3" cy="72.4" r="0.8" fill="#a59cd2"/>
<ellipse cx="362.0" cy="81.7" rx="4.1" ry="4.2" fill="#9a91c8" stroke="#a39bd0" stroke-width="0.5"/>
<circle cx="361.5" cy="82.9" r="0.8" fill="#786baf"/>
<circle cx="363.3" cy="80.4" r="0.8" fill="#7a73af"/>
<circle cx="361.5" cy="82.2" r="1.0" fill="#806daf"/>
<circle cx="361.2" cy="81.3" r="1.2" fill="#7b76af"/>
<circle cx="362.8" cy="82.3" r="0.8" fill="#7771af"/>
<circle cx="362.6" cy="79.6" r="0.8" fill="#7474af"/>
<circle cx="362.5" cy="81.6" r="0.8" fill="#a59cd2"/>
<ellipse cx="395.3" cy="86.8" rx="3.7" ry="4.2" fill="#958dc4" stroke="#a39bd0" stroke-width="0.5"/>
<circle cx="394.3" cy="88.5" r="1.2" fill="#6e69a5"/>
<circle cx="392.9" cy="86.7" r="0.8" fill="#706ba5"/>
<circle cx="396.0" cy="89.1" r="0.9" fill="#6e62a5"/>
<circle cx="395.6" cy="84.4" r="1.1" fill="#6d5ea5"/>
<circle cx="395.3" cy="88.5" r="0.7" fill="#6e6ba5"/>
<circle cx="396.2" cy="89.1" r="0.9" fill="#6d60a5"/>
<ellipse cx="396.9" cy="99.6" rx="4.5" ry="4.6" fill="#928ac2" stroke="#a39bd0" stroke-width="0.5"/>
<circle cx="396.5" cy="100.5" r="1.2" fill="#7063a4"/>
<circle cx="396.2" cy="98.9" r="1.0" fill="#625ba4"/>
<circle cx="397.8" cy="98.9" r="0.8" fill="#6a5ca4"/>
<circle cx="397.7" cy="99.9" r="1.2" fill="#635ba4"/>
<circle cx="395.1" cy="98.7" r="1.1" fill="#625ea4"/>
<circle cx="398.2" cy="99.8" r="1.2" fill="#635fa4"/>
<circle cx="396.9" cy="99.8" r="0.8" fill="#a59cd2"/>
<ellipse cx="318.9" cy="113.2" rx="4.5" ry="4.4" fill="#988ec8" stroke="#a39bd0" stroke-width="0.5"/>
<circle cx="317.2" cy="111.8" r="1.3" fill="#8d7bb9"/>
<circle cx="319.3" cy="112.7" r="0.9" fill="#827fb9"/>
<circle cx="317.1" cy="114.2" r="0.7" fill="#8b77b9"/>
<circle cx="319.3" cy="114.8" r="0.9" fill="#8b7ab9"/>
<circle cx="319.1" cy="113.6" r="0.8" fill="#a59cd2"/>
<ellipse cx="394.9" cy="46.6" rx="3.8" ry="3.6" fill="#968ec4" stroke="#a39bd0" stroke-width="0.5"/>
<circle cx="395.5" cy="45.2" r="1.1" fill="#6264a4"/>
<circle cx="393.0" cy="46.0" r="1.0" fill="#6a5fa4"/>
<circle cx="394.8" cy="47.7" r="1.2" fill="#6a5ba4"/>
<circle cx="395.8" cy="46.5" r="1.3" fill="#6c60a4"/>
<circle cx="396.6" cy="45.9" r="0.8" fill="#6362a4"/>
<ellipse cx="345.6" cy="26.3" rx="4.0" ry="4.2" fill="#9088c1" stroke="#a39bd0" stroke-width="0.5"/>
<circle cx="346.9" cy="24.6" r="1.1" fill="#6a5fa4"/>
<circle cx="343.4" cy="27.1" r="1.2" fill="#6568a4"/>
<circle cx="344.8" cy="26.9" r="1.1" fill="#6e5aa4"/>
<circle cx="347.8" cy="26.5" r="0.9" fill="#7064a4"/>
<circle cx="345.8" cy="27.6" r="1.1" fill="#7060a4"/>
<circle cx="346.0" cy="25.8" r="0.8" fill="#6265a4"/>
<ellipse cx="343.1" cy="86.9" rx="3.7" ry="4.2" fill="#9b91c9" stroke="#a39bd0" stroke-width="0.5"/>
<circle cx="345.2" cy="86.6" r="1.2" fill="#8382b8"/>
<circle cx="343.9" cy="86.6" r="0.7" fill="#8074b8"/>
<circle cx="343.8" cy="86.1" r="1.3" fill="#807cb8"/>
<circle cx="343.2" cy="87.5" r="1.1" fill="#8880b8"/>
<circle cx="345.1" cy="87.5" r="0.8" fill="#827ab8"/>
<ellipse cx="433.7" cy="47.8" rx="3.8" ry="4.5" fill="#938bc3" stroke="#a39bd0" stroke-width="0.5"/>
<circle cx="433.2" cy="49.4" r="1.0" fill="#6766a4"/>
<circle cx="432.6" cy="48.7" r="0.9" fill="#6c64a4"/>
<circle cx="432.5" cy="49.9" r="1.1" fill="#6b5da4"/>
<circle cx="434.6" cy="47.9" r="1.1" fill="#6b63a4"/>
<ellipse cx="378.0" cy="68.4" rx="3.4" ry="3.4" fill="#9e95ca" stroke="#a39bd0" stroke-width="0.5"/>
<circle cx="379.6" cy="68.1" r="1.0" fill="#736eb1"/>
<circle cx="376.8" cy="67.1" r="1.2" fill="#8373b1"/>
<circle cx="378.7" cy="68.2" r="1.3" fill="#8278b1"/>
<circle cx="378.1" cy="69.1" r="0.9" fill="#7e6bb1"/>
<circle cx="378.9" cy="68.2" r="1.3" fill="#7477b1"/>
<circle cx="377.8" cy="69.6" r="0.9" fill="#7372b1"/>
<circle cx="377.9" cy="68.9" r="0.8" fill="#a59cd2"/>
<ellipse cx="435.7" cy="6.6" rx="4.1" ry="4.2" fill="#8b83bf" stroke="#a39bd0" stroke-width="0.5"/>
<circle cx="436.9" cy="8.3" r="1.2" fill="#7066a4"/>
<circle cx="435.0" cy="5.8" r="1.1" fill="#6a69a4"/>
<circle cx="435.4" cy="4.0" r="0.8" fill="#6f64a4"/>
<circle cx="435.2" cy="6.1" r="1.0" fill="#6d60a4"/>
<circle cx="435.1" cy="5.2" r="1.0" fill="#6c61a4"/>
<ellipse cx="308.8" cy="46.5" rx="4.0" ry="4.1" fill="#9289c3" stroke="#a39bd0" stroke-width="0.5"/>
<circle cx="309.8" cy="44.5" r="0.7" fill="#7767aa"/>
<circle cx="309.9" cy="46.3" r="0.7" fill="#746eaa"/>
<circle cx="309.3" cy="44.6" r="0.9" fill="#786daa"/>
<circle cx="310.0" cy="44.5" r="1.0" fill="#6f6aaa"/>
<circle cx="309.5" cy="46.5" r="0.8" fill="#7567aa"/>
<circle cx="308.6" cy="46.6" r="0.8" fill="#a59cd2"/>
<ellipse cx="319.6" cy="19.6" rx="3.5" ry="4.1" fill="#938bc3" stroke="#a39bd0" stroke-width="0.5"/>
<circle cx="318.2" cy="17.7" r="1.2" fill="#6b63a7"/>
<circle cx="318.3" cy="20.3" r="0.9" fill="#7163a7"/>
<circle cx="318.7" cy="18.2" r="0.9" fill="#6a68a7"/>
<circle cx="319.2" cy="21.1" r="1.1" fill="#6767a7"/>
<circle cx="320.3" cy="21.1" r="1.0" fill="#655fa7"/>
<circle cx="318.6" cy="18.1" r="0.9" fill="#6e6aa7"/>
<ellipse cx="454.0" cy="0.4" rx="3.8" ry="3.6" fill="#8b83bf" stroke="#a39bd0" stroke-width="0.5"/>
<circle cx="455.0" cy="-0.1" r="1.0" fill="#6661a4"/>
<circle cx="453.2" cy="0.5" r="0.9" fill="#6469a4"/>
<circle cx="454.5" cy="-2.0" r="0.7" fill="#6d60a4"/>
<circle cx="454.0" cy="-2.1" r="0.9" fill="#6863a4"/>
<circle cx="454.2" cy="2.7" r="1.3" fill="#6463a4"/>
<ellipse cx="373.5" cy="74.1" rx="3.8" ry="4.3" fill="#9289c4" stroke="#a39bd0" stroke-width="0.5"/>
<circle cx="372.2" cy="74.6" r="1.1" fill="#7c7cb4"/>
<circle cx="373.7" cy="73.3" r="1.1" fill="#7f7cb4"/>
<circle cx="371.1" cy="75.1" r="0.9" fill="#796eb4"/>
<circle cx="374.9" cy="75.7" r="0.8" fill="#7671b4"/>
<ellipse cx="414.5" cy="40.2" rx="4.1" ry="4.2" fill="#8b83bf" stroke="#a39bd0" stroke-width="0.5"/>
<circle cx="416.4" cy="41.4" r="1.0" fill="#6b5aa4"/>
<circle cx="415.1" cy="39.3" r="0.8" fill="#6967a4"/>
<circle cx="413.3" cy="42.2" r="1.2" fill="#6a65a4"/>
<circle cx="415.4" cy="41.2" r="0.9" fill="#6264a4"/>
<circle cx="415.4" cy="42.5" r="1.0" fill="#6462a4"/>
<circle cx="414.4" cy="40.3" r="0.8" fill="#a59cd2"/>
<ellipse cx="430.4" cy="41.8" rx="4.2" ry="4.0" fill="#8d85c0" stroke="#a39bd0" stroke-width="0.5"/>
<circle cx="430.4" cy="43.2" r="0.9" fill="#6862a4"/>
<circle cx="431.1" cy="42.6" r="1.1" fill="#6c68a4"/>
<circle cx="430.2" cy="41.0" r="1.0" fill="#705fa4"/>
<circle cx="429.9" cy="40.0" r="0.7" fill="#6d5aa4"/>
<ellipse cx="376.1" cy="38.9" rx="4.0" ry="4.1" fill="#877fbd" stroke="#a39bd0" stroke-width="0.5"/>
<circle cx="376.8" cy="41.4" r="1.1" fill="#6b60a4"/>
<circle cx="376.4" cy="39.9" r="0.8" fill="#6467a4"/>
<circle cx="377.7" cy="40.7" r="0.7" fill="#6f61a4"/>
<circle cx="375.7" cy="36.9" r="1.1" fill="#645da4"/>
<ellipse cx="412.0" cy="5.8" rx="3.9" ry="4.4" fill="#8f87c1" stroke="#a39bd0" stroke-width="0.5"/>
<circle cx="410.5" cy="5.6" r="0.7" fill="#655ba4"/>
<circle cx="412.4" cy="8.0" r="1.0" fill="#6d61a4"/>
<circle cx="413.6" cy="4.0" r="1.0" fill="#645ca4"/>
<circle cx="412.1" cy="3.4" r="1.1" fill="#6e65a4"/>
<circle cx="411.6" cy="6.8" r="1.3" fill="#6a5da4"/>
<circle cx="411.4" cy="4.9" r="0.8" fill="#715fa4"/>
<circle cx="412.1" cy="6.0" r="0.8" fill="#a59cd2"/>
<ellipse cx="411.2" cy="20.2" rx="3.6" ry="3.7" fill="#8981be" stroke="#a39bd0" stroke-width="0.5"/>
<circle cx="412.5" cy="20.5" r="1.1" fill="#6c5da4"/>
<circle cx="410.5" cy="20.1" r="1.2" fill="#695aa4"/>
<circle cx="413.1" cy="18.7" r="0.9" fill="#655ea4"/>
<circle cx="409.4" cy="19.2" r="1.2" fill="#6561a4"/>
<circle cx="411.4" cy="17.8" r="1.0" fill="#6b5ea4"/>
<circle cx="410.7" cy="19.9" r="0.8" fill="#a59cd2"/>
<ellipse cx="348.0" cy="20.6" rx="3.5" ry="3.7" fill="#8b83bf" stroke="#a39bd0" stroke-width="0.5"/>
<circle cx="347.3" cy="21.7" r="1.2" fill="#6367a4"/>
<circle cx="347.7" cy="19.1" r="0.8" fill="#6d5ba4"/>
<circle cx="347.4" cy="21.0" r="0.9" fill="#6263a4"/>
<circle cx="347.5" cy="19.2" r="1.1" fill="#6f5ba4"/>
<circle cx="347.8" cy="19.3" r="0.7" fill="#6c5ba4"/>
<ellipse cx="424.4" cy="94.1" rx="4.0" ry="3.9" fill="#8b83bf" stroke="#a39bd0" stroke-width="0.5"/>
<circle cx="425.1" cy="95.0" r="0.8" fill="#6a5fa4"/>
<circle cx="423.8" cy="93.8" r="0.9" fill="#6669a4"/>
<circle cx="422.0" cy="93.2" r="1.0" fill="#7065a4"/>
<circle cx="424.5" cy="94.9" r="1.2" fill="#635aa4"/>
<ellipse cx="324.5" cy="59.3" rx="3.5" ry="3.6" fill="#958dc4" stroke="#a39bd0" stroke-width="0.5"/>
<circle cx="325.9" cy="59.3" r="1.0" fill="#7060a7"/>
<circle cx="325.9" cy="60.6" r="1.2" fill="#6a62a7"/>
<circle cx="322.2" cy="59.1" r="0.9" fill="#735fa7"/>
<circle cx="325.3" cy="59.9" r="0.9" fill="#7361a7"/>
<circle cx="326.3" cy="60.4" r="0.9" fill="#7061a7"/>
<circle cx="326.4" cy="58.4" r="0.8" fill="#676ba7"/>
<ellipse cx="369.7" cy="26.8" rx="4.0" ry="3.6" fill="#938bc3" stroke="#a39bd0" stroke-width="0.5"/>
<circle cx="368.9" cy="25.0" r="1.2" fill="#635aa4"/>
<circle cx="371.3" cy="27.2" r="1.1" fill="#675ba4"/>
<circle cx="371.8" cy="27.7" r="0.9" fill="#625fa4"/>
<circle cx="368.2" cy="24.8" r="1.0" fill="#6b66a4"/>
<circle cx="369.9" cy="25.3" r="0.9" fill="#6665a4"/>
<circle cx="371.1" cy="27.3" r="0.8" fill="#6e64a4"/>
<ellipse cx="432.7" cy="82.3" rx="4.1" ry="4.3" fill="#968ec5" stroke="#a39bd0" stroke-width="0.5"/>
<circle cx="431.6" cy="80.8" r="1.2" fill="#6468a5"/>
<circle cx="432.7" cy="80.0" r="1.0" fill="#6764a5"/>
<circle cx="433.9" cy="81.1" r="0.7" fill="#7269a5"/>
<circle cx="431.9" cy="81.1" r="0.9" fill="#6d67a5"/>
<circle cx="430.9" cy="84.0" r="1.2" fill="#6766a5"/>
<ellipse cx="314.5" cy="121.4" rx="4.1" ry="4.1" fill="#9990c8" stroke="#a39bd0" stroke-width="0.5"/>
<circle cx="316.8" cy="120.7" r="0.9" fill="#8076b5"/>
<circle cx="315.6" cy="122.7" r="1.0" fill="#7a76b5"/>
<circle cx="315.8" cy="121.7" r="1.2" fill="#8873b5"/>
<circle cx="313.1" cy="122.3" r="1.1" fill="#7c73b5"/>
<circle cx="312.8" cy="123.1" r="0.8" fill="#7f75b5"/>
<circle cx="314.4" cy="121.7" r="0.8" fill="#a59cd2"/>
<ellipse cx="409.0" cy="28.2" rx="4.1" ry="4.1" fill="#968ec4" stroke="#a39bd0" stroke-width="0.5"/>
<circle cx="409.5" cy="26.5" r="0.9" fill="#6f69a4"/>
<circle cx="411.3" cy="28.4" r="1.0" fill="#635da4"/>
<circle cx="407.9" cy="26.5" r="1.1" fill="#6c69a4"/>
<circle cx="409.0" cy="26.3" r="0.9" fill="#6466a4"/>
<circle cx="407.6" cy="29.1" r="0.9" fill="#675ea4"/>
<circle cx="408.3" cy="30.1" r="1.2" fill="#6c69a4"/>
<circle cx="409.2" cy="28.2" r="0.8" fill="#a59cd2"/>
<ellipse cx="381.5" cy="7.7" rx="4.4" ry="4.4" fill="#877fbd" stroke="#a39bd0" stroke-width="0.5"/>
<circle cx="380.6" cy="8.6" r="1.1" fill="#6a5ca4"/>
<circle cx="379.1" cy="8.4" r="1.3" fill="#695aa4"/>
<circle cx="381.4" cy="8.7" r="1.3" fill="#7062a4"/>
<circle cx="382.3" cy="9.3" r="0.8" fill="#7164a4"/>
<ellipse cx="420.5" cy="32.2" rx="3.6" ry="3.4" fill="#8f87c1" stroke="#a39bd0" stroke-width="0.5"/>
<circle cx="419.4" cy="31.0" r="1.2" fill="#715fa4"/>
<circle cx="419.4" cy="34.3" r="1.0" fill="#695aa4"/>
<circle cx="421.2" cy="31.6" r="0.9" fill="#6e5aa4"/>
<circle cx="418.5" cy="32.0" r="1.3" fill="#7063a4"/>
<circle cx="420.7" cy="30.9" r="1.2" fill="#6d5ea4"/>
<circle cx="418.6" cy="32.5" r="1.1" fill="#7060a4"/>
<ellipse cx="436.3" cy="21.1" rx="3.9" ry="3.6" fill="#938bc3" stroke="#a39bd0" stroke-width="0.5"/>
<circle cx="435.1" cy="20.0" r="1.2" fill="#685ca4"/>
<circle cx="437.4" cy="21.4" r="1.2" fill="#6a64a4"/>
<circle cx="435.7" cy="21.5" r="0.9" fill="#6865a4"/>
<circle cx="437.1" cy="19.0" r="0.7" fill="#6361a4"/>
<circle cx="434.3" cy="20.7" r="0.9" fill="#6663a4"/>
<circle cx="438.6" cy="20.8" r="1.1" fill="#705ba4"/>
<ellipse cx="310.1" cy="21.5" rx="4.6" ry="3.9" fill="#978ec6" stroke="#a39bd0" stroke-width="0.5"/>
<circle cx="309.8" cy="19.4" r="1.2" fill="#6e6aac"/>
<circle cx="310.7" cy="19.3" r="0.9" fill="#726bac"/>
<circle cx="311.5" cy="19.9" r="0.9" fill="#6e6fac"/>
<circle cx="311.2" cy="20.9" r="1.3" fill="#6f6eac"/>
<circle cx="309.6" cy="21.5" r="0.8" fill="#a59cd2"/>
<ellipse cx="399.4" cy="80.1" rx="3.6" ry="4.0" fill="#9189c3" stroke="#a39bd0" stroke-width="0.5"/>
<circle cx="398.4" cy="78.1" r="1.2" fill="#6b64a9"/>
<circle cx="399.5" cy="81.0" r="1.3" fill="#6d61a9"/>
<circle cx="400.6" cy="79.6" r="1.2" fill="#6e6ba9"/>
<circle cx="397.6" cy="81.7" r="1.1" fill="#746da9"/>
<circle cx="397.6" cy="80.0" r="0.9" fill="#7766a9"/>
<circle cx="397.3" cy="79.1" r="1.0" fill="#6a61a9"/>
<circle cx="399.9" cy="79.9" r="0.8" fill="#a59cd2"/>
<ellipse cx="404.7" cy="62.1" rx="3.9" ry="4.0" fill="#958dc4" stroke="#a39bd0" stroke-width="0.5"/>
<circle cx="403.2" cy="61.2" r="1.0" fill="#6666a7"/>
<circle cx="403.5" cy="62.2" r="1.0" fill="#756da7"/>
<circle cx="404.9" cy="63.8" r="1.3" fill="#7362a7"/>
<circle cx="402.9" cy="61.2" r="1.2" fill="#6961a7"/>
<circle cx="404.5" cy="63.5" r="0.8" fill="#7562a7"/>
<circle cx="405.7" cy="63.0" r="1.1" fill="#7564a7"/>
<ellipse cx="431.6" cy="107.4" rx="3.8" ry="3.9" fill="#8e85c0" stroke="#a39bd0" stroke-width="0.5"/>
<circle cx="430.5" cy="106.1" r="1.2" fill="#6b6ba5"/>
<circle cx="430.9" cy="106.8" r="0.8" fill="#6e5da5"/>
<circle cx="431.7" cy="106.7" r="1.2" fill="#725ca5"/>
<circle cx="432.2" cy="105.4" r="1.2" fill="#705fa5"/>
<ellipse cx="317.7" cy="60.4" rx="3.5" ry="4.1" fill="#968ec5" stroke="#a39bd0" stroke-width="0.5"/>
<circle cx="319.0" cy="60.5" r="1.1" fill="#6e6da8"/>
<circle cx="317.6" cy="58.7" r="1.0" fill="#7069a8"/>
<circle cx="317.1" cy="61.6" r="1.1" fill="#696ba8"/>
<circle cx="317.1" cy="60.7" r="0.9" fill="#736ca8"/>
<circle cx="318.5" cy="59.3" r="0.7" fill="#7667a8"/>
<circle cx="317.5" cy="60.8" r="0.8" fill="#a59cd2"/>
<ellipse cx="408.5" cy="53.0" rx="4.3" ry="4.1" fill="#948cc3" stroke="#a39bd0" stroke-width="0.5"/>
<circle cx="407.3" cy="54.5" r="0.9" fill="#715da4"/>
<circle cx="409.1" cy="51.5" r="0.8" fill="#6e65a4"/>
<circle cx="409.6" cy="52.1" r="1.1" fill="#645ba4"/>
<circle cx="407.8" cy="52.9" r="0.8" fill="#6f69a4"/>
<circle cx="408.6" cy="52.0" r="1.2" fill="#6b68a4"/>
<circle cx="408.5" cy="52.9" r="0.8" fill="#a59cd2"/>
<ellipse cx="453.4" cy="55.2" rx="3.8" ry="3.9" fill="#958dc4" stroke="#a39bd0" stroke-width="0.5"/>
<circle cx="454.0" cy="54.7" r="1.0" fill="#7069a4"/>
<circle cx="451.2" cy="54.1" r="1.2" fill="#6d68a4"/>
<circle cx="451.5" cy="54.3" r="1.1" fill="#6f5ca4"/>
<circle cx="455.0" cy="53.2" r="1.2" fill="#6d61a4"/>
<circle cx="452.7" cy="54.7" r="1.1" fill="#6a60a4"/>
<ellipse cx="299.2" cy="54.7" rx="4.3" ry="4.4" fill="#8880bd" stroke="#a39bd0" stroke-width="0.5"/>
<circle cx="299.0" cy="52.8" r="0.8" fill="#686aa5"/>
<circle cx="300.7" cy="54.7" r="1.3" fill="#6a6ba5"/>
<circle cx="299.3" cy="54.0" r="0.9" fill="#6d65a5"/>
<circle cx="300.7" cy="55.1" r="1.2" fill="#6c6ba5"/>
<ellipse cx="369.5" cy="40.8" rx="3.8" ry="3.8" fill="#8981be" stroke="#a39bd0" stroke-width="0.5"/>
<circle cx="367.0" cy="40.6" r="0.7" fill="#6868a4"/>
<circle cx="371.3" cy="41.1" r="1.1" fill="#6363a4"/>
<circle cx="369.9" cy="39.1" r="1.1" fill="#6d64a4"/>
<circle cx="367.6" cy="41.3" r="0.8" fill="#6b5da4"/>
<ellipse cx="312.9" cy="108.6" rx="4.4" ry="4.4" fill="#968cc7" stroke="#a39bd0" stroke-width="0.5"/>
<circle cx="314.7" cy="108.4" r="1.1" fill="#7a78b6"/>
<circle cx="313.8" cy="109.2" r="0.8" fill="#8780b6"/>
<circle cx="312.7" cy="109.8" r="1.0" fill="#7d78b6"/>
<circle cx="312.4" cy="109.5" r="1.1" fill="#7a71b6"/>
<circle cx="313.0" cy="107.6" r="1.3" fill="#7f80b6"/>
<circle cx="312.0" cy="108.2" r="0.7" fill="#857cb6"/>
<circle cx="312.4" cy="108.9" r="0.8" fill="#a59cd2"/>
<ellipse cx="379.3" cy="100.3" rx="4.4" ry="4.3" fill="#8a82bf" stroke="#a39bd0" stroke-width="0.5"/>
<circle cx="378.4" cy="99.5" r="1.2" fill="#695fa6"/>
<circle cx="379.7" cy="99.8" r="0.8" fill="#6b5fa6"/>
<circle cx="381.1" cy="99.7" r="1.2" fill="#6d67a6"/>
<circle cx="379.3" cy="99.1" r="1.0" fill="#725da6"/>
<circle cx="379.3" cy="100.2" r="0.8" fill="#a59cd2"/>
<ellipse cx="379.1" cy="129.3" rx="4.4" ry="4.0" fill="#8981bf" stroke="#a39bd0" stroke-width="0.5"/>
<circle cx="379.9" cy="129.8" r="1.0" fill="#676ca8"/>
<circle cx="378.7" cy="129.9" r="0.8" fill="#6966a8"/>
<circle cx="380.9" cy="130.0" r="1.3" fill="#6b6da8"/>
<circle cx="377.0" cy="129.1" r="0.8" fill="#7169a8"/>
<circle cx="379.2" cy="126.9" r="0.8" fill="#7266a8"/>
<ellipse cx="323.5" cy="66.2" rx="3.8" ry="4.4" fill="#968dc6" stroke="#a39bd0" stroke-width="0.5"/>
<circle cx="322.5" cy="67.0" r="1.2" fill="#7c66ac"/>
<circle cx="322.3" cy="64.7" r="0.8" fill="#7770ac"/>
<circle cx="324.2" cy="66.5" r="1.1" fill="#7366ac"/>
<circle cx="322.8" cy="66.0" r="1.1" fill="#6e6dac"/>
<ellipse cx="333.1" cy="72.6" rx="4.3" ry="4.0" fill="#a096cb" stroke="#a39bd0" stroke-width="0.5"/>
<circle cx="333.0" cy="74.0" r="1.3" fill="#8271b4"/>
<circle cx="334.8" cy="71.0" r="0.8" fill="#7e73b4"/>
<circle cx="331.4" cy="74.0" r="0.9" fill="#7872b4"/>
<circle cx="332.1" cy="74.2" r="0.8" fill="#846fb4"/>
<circle cx="333.5" cy="70.7" r="0.7" fill="#7c72b4"/>
<circle cx="330.8" cy="72.8" r="0.8" fill="#7872b4"/>
<ellipse cx="336.2" cy="80.8" rx="3.6" ry="4.1" fill="#998fc8" stroke="#a39bd0" stroke-width="0.5"/>
<circle cx="335.1" cy="82.1" r="1.1" fill="#7e79b8"/>
<circle cx="335.5" cy="81.5" r="1.2" fill="#8681b8"/>
<circle cx="337.2" cy="82.6" r="1.1" fill="#8a73b8"/>
<circle cx="337.8" cy="79.4" r="1.2" fill="#8977b8"/>
<circle cx="336.1" cy="81.4" r="0.9" fill="#7d79b8"/>
<circle cx="335.9" cy="82.3" r="1.0" fill="#8374b8"/>
<ellipse cx="317.1" cy="88.4" rx="4.3" ry="4.3" fill="#9d93cb" stroke="#a39bd0" stroke-width="0.5"/>
<circle cx="318.0" cy="88.8" r="0.8" fill="#837dba"/>
<circle cx="316.8" cy="89.0" r="0.8" fill="#867dba"/>
<circle cx="315.1" cy="86.8" r="0.7" fill="#8d7cba"/>
<circle cx="316.5" cy="88.7" r="0.9" fill="#877eba"/>
<circle cx="318.4" cy="89.3" r="1.2" fill="#8685ba"/>
<circle cx="317.4" cy="88.6" r="0.8" fill="#a59cd2"/>
<ellipse cx="422.2" cy="25.6" rx="4.0" ry="3.4" fill="#8b83bf" stroke="#a39bd0" stroke-width="0.5"/>
<circle cx="421.1" cy="25.8" r="1.2" fill="#6a64a4"/>
<circle cx="423.8" cy="24.5" r="1.1" fill="#6c5aa4"/>
<circle cx="422.5" cy="23.7" r="0.9" fill="#645fa4"/>
<circle cx="423.2" cy="24.8" r="1.1" fill="#6267a4"/>
<circle cx="421.1" cy="24.0" r="1.1" fill="#6261a4"/>
<circle cx="420.1" cy="26.3" r="1.2" fill="#6669a4"/>
<circle cx="422.1" cy="25.3" r="0.8" fill="#a59cd2"/>
<ellipse cx="451.0" cy="19.3" rx="3.5" ry="3.6" fill="#877fbd" stroke="#a39bd0" stroke-width="0.5"/>
<circle cx="452.2" cy="19.8" r="1.1" fill="#6f65a4"/>
<circle cx="451.5" cy="21.6" r="0.9" fill="#6561a4"/>
<circle cx="451.2" cy="18.2" r="0.7" fill="#7166a4"/>
<circle cx="451.6" cy="20.6" r="1.2" fill="#6d63a4"/>
<circle cx="451.1" cy="21.6" r="1.1" fill="#6466a4"/>
<ellipse cx="302.8" cy="6.4" rx="3.8" ry="4.1" fill="#8e86c1" stroke="#a39bd0" stroke-width="0.5"/>
<circle cx="300.7" cy="7.6" r="0.9" fill="#745ea6"/>
<circle cx="302.8" cy="5.5" r="1.2" fill="#6b5da6"/>
<circle cx="303.0" cy="5.3" r="0.8" fill="#6d60a6"/>
<circle cx="302.7" cy="3.9" r="1.0" fill="#705ea6"/>
<ellipse cx="301.2" cy="46.8" rx="3.9" ry="4.5" fill="#978fc5" stroke="#a39bd0" stroke-width="0.5"/>
<circle cx="301.7" cy="47.3" r="1.1" fill="#6b62a6"/>
<circle cx="300.7" cy="45.1" r="1.0" fill="#6c65a6"/>
<circle cx="300.6" cy="45.6" r="1.0" fill="#6e66a6"/>
<circle cx="300.3" cy="46.2" r="1.3" fill="#6b6ba6"/>
<ellipse cx="345.2" cy="68.8" rx="3.8" ry="4.2" fill="#9f96cb" stroke="#a39bd0" stroke-width="0.5"/>
<circle cx="347.1" cy="69.5" r="1.3" fill="#7770b2"/>
<circle cx="344.0" cy="69.2" r="1.2" fill="#807ab2"/>
<circle cx="344.0" cy="69.1" r="0.8" fill="#837bb2"/>
<circle cx="346.9" cy="68.5" r="1.1" fill="#7a6db2"/>
<circle cx="343.8" cy="70.3" r="0.9" fill="#7a73b2"/>
<circle cx="347.1" cy="68.8" r="1.0" fill="#826db2"/>
<ellipse cx="338.5" cy="122.1" rx="4.0" ry="4.0" fill="#a095cc" stroke="#a39bd0" stroke-width="0.5"/>
<circle cx="337.3" cy="121.7" r="1.2" fill="#8a7aba"/>
<circle cx="337.8" cy="120.2" r="0.8" fill="#8a7bba"/>
<circle cx="337.7" cy="121.2" r="0.8" fill="#8678ba"/>
<circle cx="336.7" cy="120.9" r="1.1" fill="#8382ba"/>
<circle cx="338.1" cy="122.0" r="0.8" fill="#a59cd2"/>
<ellipse cx="326.4" cy="47.8" rx="3.7" ry="4.4" fill="#938bc3" stroke="#a39bd0" stroke-width="0.5"/>
<circle cx="324.9" cy="48.7" r="1.2" fill="#6367a4"/>
<circle cx="327.3" cy="48.3" r="1.2" fill="#655da4"/>
<circle cx="326.6" cy="46.7" r="0.8" fill="#635ca4"/>
<circle cx="326.9" cy="49.2" r="0.9" fill="#6460a4"/>
<circle cx="326.4" cy="45.4" r="0.9" fill="#6869a4"/>
<circle cx="326.0" cy="47.3" r="0.8" fill="#a59cd2"/>
<ellipse cx="342.1" cy="73.8" rx="4.6" ry="4.1" fill="#958bc6" stroke="#a39bd0" stroke-width="0.5"/>
<circle cx="343.2" cy="75.2" r="1.2" fill="#887db6"/>
<circle cx="342.8" cy="72.6" r="0.9" fill="#7d70b6"/>
<circle cx="343.4" cy="74.5" r="1.2" fill="#7a72b6"/>
<circle cx="340.6" cy="74.3" r="1.2" fill="#867ab6"/>
<circle cx="340.6" cy="74.1" r="0.8" fill="#797fb6"/>
<ellipse cx="459.9" cy="87.2" rx="4.0" ry="4.0" fill="#938bc3" stroke="#a39bd0" stroke-width="0.5"/>
<circle cx="460.9" cy="87.6" r="0.8" fill="#6262a4"/>
<circle cx="459.6" cy="85.7" r="1.3" fill="#655da4"/>
<circle cx="462.3" cy="87.1" r="1.0" fill="#645ba4"/>
<circle cx="458.8" cy="88.9" r="1.2" fill="#6c65a4"/>
<ellipse cx="316.7" cy="7.2" rx="4.2" ry="3.9" fill="#8d85c0" stroke="#a39bd0" stroke-width="0.5"/>
<circle cx="316.2" cy="8.2" r="0.8" fill="#6767a6"/>
<circle cx="317.9" cy="7.4" r="1.2" fill="#7168a6"/>
<circle cx="316.1" cy="5.8" r="1.1" fill="#6a5ea6"/>
<circle cx="315.6" cy="6.2" r="1.0" fill="#6669a6"/>
<ellipse cx="372.5" cy="6.7" rx="4.1" ry="4.4" fill="#968ec4" stroke="#a39bd0" stroke-width="0.5"/>
<circle cx="372.9" cy="4.7" r="1.2" fill="#675aa4"/>
<circle cx="374.6" cy="8.0" r="1.3" fill="#6467a4"/>
<circle cx="371.9" cy="6.5" r="1.1" fill="#6c5aa4"/>
<circle cx="373.7" cy="5.2" r="0.8" fill="#6762a4"/>
<circle cx="371.9" cy="4.8" r="1.2" fill="#6d5aa4"/>
<ellipse cx="439.0" cy="-1.7" rx="3.9" ry="4.3" fill="#928ac2" stroke="#a39bd0" stroke-width="0.5"/>
<circle cx="438.1" cy="-1.1" r="1.1" fill="#6866a4"/>
<circle cx="437.4" cy="0.1" r="0.8" fill="#6962a4"/>
<circle cx="441.3" cy="-2.6" r="0.8" fill="#6d60a4"/>
<circle cx="439.8" cy="0.4" r="0.8" fill="#6e60a4"/>
<circle cx="439.4" cy="-3.7" r="1.2" fill="#7061a4"/>
<ellipse cx="419.8" cy="100.9" rx="4.2" ry="4.4" fill="#877fbd" stroke="#a39bd0" stroke-width="0.5"/>
<circle cx="421.6" cy="100.6" r="1.2" fill="#6765a4"/>
<circle cx="419.0" cy="99.1" r="0.8" fill="#635aa4"/>
<circle cx="418.6" cy="102.7" r="0.7" fill="#665aa4"/>
<circle cx="420.8" cy="100.9" r="1.3" fill="#6768a4"/>
<circle cx="419.2" cy="102.6" r="1.3" fill="#685ea4"/>
<circle cx="421.7" cy="101.0" r="1.0" fill="#6e66a4"/>
<ellipse cx="439.2" cy="108.1" rx="3.8" ry="4.5" fill="#928ac3" stroke="#a39bd0" stroke-width="0.5"/>
<circle cx="439.9" cy="109.1" r="1.0" fill="#6d62a6"/>
<circle cx="438.8" cy="109.1" r="0.7" fill="#7067a6"/>
<circle cx="439.9" cy="107.6" r="1.2" fill="#6a69a6"/>
<circle cx="441.4" cy="107.5" r="1.2" fill="#6d6ba6"/>
<ellipse cx="333.0" cy="62.0" rx="4.3" ry="4.3" fill="#9991c7" stroke="#a39bd0" stroke-width="0.5"/>
<circle cx="334.1" cy="60.2" r="0.8" fill="#6e62a9"/>
<circle cx="334.8" cy="60.4" r="1.1" fill="#6966a9"/>
<circle cx="332.3" cy="62.0" r="0.9" fill="#766ba9"/>
<circle cx="331.7" cy="62.2" r="1.0" fill="#736fa9"/>
<circle cx="332.5" cy="63.2" r="0.9" fill="#766ca9"/>
<circle cx="334.6" cy="61.1" r="0.7" fill="#796fa9"/>
<ellipse cx="452.0" cy="113.2" rx="3.5" ry="3.5" fill="#9e95ca" stroke="#a39bd0" stroke-width="0.5"/>
<circle cx="453.7" cy="112.3" r="1.0" fill="#7f74b0"/>
<circle cx="450.3" cy="113.6" r="1.3" fill="#726bb0"/>
<circle cx="452.5" cy="114.3" r="0.8" fill="#7a75b0"/>
<circle cx="452.5" cy="111.4" r="1.3" fill="#726fb0"/>
<circle cx="451.9" cy="112.3" r="1.0" fill="#7c6ab0"/>
<circle cx="452.5" cy="113.2" r="0.8" fill="#a59cd2"/>
<ellipse cx="438.5" cy="120.6" rx="4.5" ry="3.9" fill="#9d92ca" stroke="#a39bd0" stroke-width="0.5"/>
<circle cx="437.4" cy="119.7" r="0.8" fill="#8a82b9"/>
<circle cx="440.3" cy="120.8" r="1.0" fill="#8b76b9"/>
<circle cx="439.1" cy="120.8" r="1.2" fill="#8582b9"/>
<circle cx="438.0" cy="118.6" r="0.8" fill="#807bb9"/>
<circle cx="438.7" cy="121.4" r="0.8" fill="#8474b9"/>
<circle cx="437.8" cy="118.9" r="1.1" fill="#8077b9"/>
<circle cx="438.7" cy="120.9" r="0.8" fill="#a59cd2"/>
<ellipse cx="325.1" cy="75.6" rx="4.5" ry="4.3" fill="#958bc6" stroke="#a39bd0" stroke-width="0.5"/>
<circle cx="325.6" cy="74.6" r="1.3" fill="#7a7db5"/>
<circle cx="324.9" cy="74.8" r="0.8" fill="#7f78b5"/>
<circle cx="325.8" cy="74.3" r="0.7" fill="#8077b5"/>
<circle cx="326.7" cy="73.9" r="0.9" fill="#8678b5"/>
<circle cx="324.8" cy="75.3" r="0.8" fill="#a59cd2"/>
<ellipse cx="454.3" cy="108.8" rx="4.2" ry="4.4" fill="#8f87c1" stroke="#a39bd0" stroke-width="0.5"/>
<circle cx="455.2" cy="107.9" r="1.1" fill="#6c62a6"/>
<circle cx="453.4" cy="109.1" r="0.9" fill="#6e5fa6"/>
<circle cx="452.3" cy="110.0" r="1.0" fill="#7166a6"/>
<circle cx="454.0" cy="110.4" r="1.0" fill="#6c65a6"/>
<circle cx="454.1" cy="108.7" r="0.8" fill="#a59cd2"/>
<ellipse cx="348.2" cy="5.3" rx="3.9" ry="3.6" fill="#8880bd" stroke="#a39bd0" stroke-width="0.5"/>
<circle cx="349.2" cy="3.7" r="1.0" fill="#6967a4"/>
<circle cx="350.3" cy="5.9" r="1.1" fill="#6962a4"/>
<circle cx="347.1" cy="3.1" r="1.1" fill="#6b5ca4"/>
<circle cx="348.2" cy="4.7" r="1.1" fill="#6c64a4"/>
<circle cx="347.2" cy="6.1" r="1.2" fill="#6b5da4"/>
<circle cx="349.2" cy="6.7" r="0.8" fill="#6c5ea4"/>
<ellipse cx="432.0" cy="120.8" rx="4.5" ry="4.2" fill="#9d93ca" stroke="#a39bd0" stroke-width="0.5"/>
<circle cx="431.4" cy="120.7" r="0.9" fill="#817db6"/>
<circle cx="432.8" cy="120.5" r="1.0" fill="#7d7ab6"/>
<circle cx="432.4" cy="120.3" r="1.2" fill="#8571b6"/>
<circle cx="431.6" cy="120.4" r="1.0" fill="#8775b6"/>
<ellipse cx="301.4" cy="100.4" rx="3.7" ry="4.1" fill="#9188c4" stroke="#a39bd0" stroke-width="0.5"/>
<circle cx="301.0" cy="101.4" r="1.3" fill="#7a6db1"/>
<circle cx="302.0" cy="100.0" r="1.3" fill="#7573b1"/>
<circle cx="301.5" cy="99.5" r="1.0" fill="#816bb1"/>
<circle cx="301.2" cy="99.0" r="0.8" fill="#7d76b1"/>
<circle cx="301.2" cy="100.0" r="0.8" fill="#a59cd2"/>
<ellipse cx="306.5" cy="-0.6" rx="3.7" ry="3.9" fill="#8880be" stroke="#a39bd0" stroke-width="0.5"/>
<circle cx="305.7" cy="-0.4" r="1.3" fill="#6761a5"/>
<circle cx="306.8" cy="0.2" r="0.9" fill="#7161a5"/>
<circle cx="305.0" cy="-0.1" r="1.2" fill="#6466a5"/>
<circle cx="307.7" cy="1.4" r="1.1" fill="#7066a5"/>
<ellipse cx="417.9" cy="21.6" rx="4.3" ry="4.1" fill="#958dc4" stroke="#a39bd0" stroke-width="0.5"/>
<circle cx="419.4" cy="21.7" r="1.1" fill="#6264a4"/>
<circle cx="417.1" cy="21.5" r="1.0" fill="#6266a4"/>
<circle cx="416.0" cy="21.6" r="1.0" fill="#6464a4"/>
<circle cx="419.7" cy="20.6" r="0.9" fill="#7167a4"/>
<circle cx="417.7" cy="20.6" r="0.9" fill="#6864a4"/>
<circle cx="416.2" cy="21.8" r="1.2" fill="#715ca4"/>
<circle cx="418.4" cy="21.3" r="0.8" fill="#a59cd2"/>
<ellipse cx="414.1" cy="68.3" rx="3.7" ry="4.2" fill="#958dc5" stroke="#a39bd0" stroke-width="0.5"/>
<circle cx="413.0" cy="66.9" r="1.0" fill="#7868ab"/>
<circle cx="411.7" cy="67.5" r="1.0" fill="#7973ab"/>
<circle cx="414.5" cy="67.6" r="0.9" fill="#7264ab"/>
<circle cx="413.7" cy="69.8" r="1.1" fill="#7663ab"/>
<circle cx="414.0" cy="68.6" r="0.8" fill="#a59cd2"/>
<ellipse cx="304.1" cy="114.9" rx="4.4" ry="4.3" fill="#988ec7" stroke="#a39bd0" stroke-width="0.5"/>
<circle cx="302.8" cy="115.3" r="0.9" fill="#767ab3"/>
<circle cx="305.1" cy="115.3" r="1.0" fill="#8270b3"/>
<circle cx="302.4" cy="114.9" r="1.1" fill="#8278b3"/>
<circle cx="303.7" cy="116.7" r="1.1" fill="#7a78b3"/>
<ellipse cx="349.7" cy="33.6" rx="4.0" ry="3.6" fill="#948cc3" stroke="#a39bd0" stroke-width="0.5"/>
<circle cx="351.1" cy="32.1" r="1.2" fill="#715fa4"/>
<circle cx="350.4" cy="32.7" r="0.7" fill="#6a61a4"/>
<circle cx="351.6" cy="34.7" r="1.1" fill="#705da4"/>
<circle cx="350.2" cy="33.1" r="1.1" fill="#6667a4"/>
<circle cx="351.5" cy="33.1" r="1.2" fill="#6e64a4"/>
<circle cx="349.4" cy="34.0" r="0.8" fill="#a59cd2"/>
<ellipse cx="345.3" cy="53.7" rx="3.6" ry="3.6" fill="#958dc4" stroke="#a39bd0" stroke-width="0.5"/>
<circle cx="346.7" cy="55.9" r="0.7" fill="#686ba5"/>
<circle cx="343.9" cy="55.0" r="0.9" fill="#735ea5"/>
<circle cx="344.1" cy="54.0" r="1.1" fill="#6461a5"/>
<circle cx="343.6" cy="53.9" r="1.0" fill="#665fa5"/>
<circle cx="345.1" cy="54.1" r="0.8" fill="#a59cd2"/>
<ellipse cx="417.9" cy="48.0" rx="4.2" ry="4.6" fill="#958dc4" stroke="#a39bd0" stroke-width="0.5"/>
<circle cx="419.2" cy="49.0" r="0.9" fill="#715fa4"/>
<circle cx="419.0" cy="48.8" r="1.0" fill="#6369a4"/>
<circle cx="417.7" cy="49.3" r="1.2" fill="#6b5ca4"/>
<circle cx="417.3" cy="49.4" r="0.9" fill="#7161a4"/>
<circle cx="418.3" cy="45.6" r="1.3" fill="#6d61a4"/>
<circle cx="418.4" cy="48.2" r="0.8" fill="#a59cd2"/>
<ellipse cx="412.1" cy="127.5" rx="3.6" ry="3.6" fill="#8d84c0" stroke="#a39bd0" stroke-width="0.5"/>
<circle cx="411.7" cy="125.7" r="0.7" fill="#6f63a9"/>
<circle cx="410.2" cy="127.3" r="0.8" fill="#7464a9"/>
<circle cx="411.9" cy="128.2" r="1.1" fill="#6b69a9"/>
<circle cx="411.9" cy="130.0" r="1.2" fill="#6964a9"/>
<circle cx="411.5" cy="125.9" r="1.0" fill="#6e6ba9"/>
<circle cx="412.9" cy="129.0" r="0.8" fill="#786ea9"/>
<circle cx="411.7" cy="127.5" r="0.8" fill="#a59cd2"/>
<ellipse cx="365.5" cy="73.1" rx="4.3" ry="4.0" fill="#a197cc" stroke="#a39bd0" stroke-width="0.5"/>
<circle cx="367.3" cy="73.4" r="1.2" fill="#8275b4"/>
<circle cx="366.8" cy="72.1" r="0.7" fill="#7e7cb4"/>
<circle cx="366.2" cy="73.3" r="0.9" fill="#7e77b4"/>
<circle cx="364.6" cy="74.1" r="0.9" fill="#797db4"/>
<circle cx="364.6" cy="72.9" r="1.2" fill="#7970b4"/>
<circle cx="366.3" cy="74.0" r="1.0" fill="#8070b4"/>
<ellipse cx="418.2" cy="129.0" rx="3.9" ry="3.9" fill="#948cc4" stroke="#a39bd0" stroke-width="0.5"/>
<circle cx="420.6" cy="129.1" r="1.2" fill="#6b6aa7"/>
<circle cx="417.0" cy="128.2" r="1.3" fill="#6d5ea7"/>
<circle cx="418.9" cy="128.9" r="0.7" fill="#7561a7"/>
<circle cx="419.1" cy="128.5" r="1.2" fill="#696aa7"/>
<circle cx="417.8" cy="129.6" r="1.2" fill="#715ea7"/>
<circle cx="416.4" cy="129.6" r="1.3" fill="#6864a7"/>
<circle cx="418.2" cy="129.4" r="0.8" fill="#a59cd2"/>
<ellipse cx="363.7" cy="47.2" rx="4.4" ry="4.2" fill="#8f87c1" stroke="#a39bd0" stroke-width="0.5"/>
<circle cx="364.7" cy="45.2" r="0.7" fill="#665aa4"/>
<circle cx="361.7" cy="46.9" r="0.8" fill="#6560a4"/>
<circle cx="364.0" cy="48.2" r="1.0" fill="#695ea4"/>
<circle cx="363.2" cy="45.3" r="1.0" fill="#6360a4"/>
<circle cx="363.4" cy="48.5" r="0.9" fill="#6664a4"/>
<circle cx="365.1" cy="47.5" r="0.8" fill="#6f5ba4"/>
<circle cx="363.4" cy="46.9" r="0.8" fill="#a59cd2"/>
<ellipse cx="362.5" cy="39.8" rx="4.2" ry="3.9" fill="#8d85c0" stroke="#a39bd0" stroke-width="0.5"/>
<circle cx="364.1" cy="39.0" r="1.1" fill="#695ba4"/>
<circle cx="363.2" cy="39.3" r="1.1" fill="#6361a4"/>
<circle cx="363.5" cy="40.0" r="1.2" fill="#7165a4"/>
<circle cx="362.7" cy="39.1" r="0.8" fill="#6e5da4"/>
<ellipse cx="354.3" cy="-0.9" rx="4.1" ry="3.8" fill="#8981be" stroke="#a39bd0" stroke-width="0.5"/>
<circle cx="355.1" cy="0.4" r="1.0" fill="#645ca4"/>
<circle cx="353.4" cy="-0.4" r="0.9" fill="#7064a4"/>
<circle cx="356.0" cy="0.6" r="0.8" fill="#635da4"/>
<circle cx="354.9" cy="-1.4" r="1.2" fill="#6663a4"/>
<circle cx="354.3" cy="-2.6" r="1.3" fill="#7061a4"/>
<circle cx="354.8" cy="-3.1" r="0.8" fill="#6a5ea4"/>
<ellipse cx="416.2" cy="109.1" rx="3.8" ry="4.1" fill="#8e86c1" stroke="#a39bd0" stroke-width="0.5"/>
<circle cx="415.7" cy="108.4" r="1.1" fill="#6665a7"/>
<circle cx="417.3" cy="109.5" r="1.0" fill="#6868a7"/>
<circle cx="415.1" cy="110.2" r="1.0" fill="#716ca7"/>
<circle cx="415.0" cy="108.8" r="0.9" fill="#735ea7"/>
<circle cx="415.3" cy="110.9" r="1.1" fill="#716ba7"/>
<ellipse cx="352.9" cy="40.4" rx="3.9" ry="4.0" fill="#8c84bf" stroke="#a39bd0" stroke-width="0.5"/>
<circle cx="351.0" cy="41.2" r="0.7" fill="#665fa4"/>
<circle cx="351.6" cy="40.0" r="1.1" fill="#6861a4"/>
<circle cx="354.7" cy="38.9" r="0.9" fill="#6766a4"/>
<circle cx="350.9" cy="40.7" r="0.8" fill="#6d5da4"/>
<circle cx="353.6" cy="42.6" r="0.9" fill="#625ca4"/>
<circle cx="350.7" cy="41.6" r="0.8" fill="#665ca4"/>
<ellipse cx="451.6" cy="7.8" rx="3.8" ry="4.3" fill="#8c84bf" stroke="#a39bd0" stroke-width="0.5"/>
<circle cx="452.5" cy="8.0" r="0.8" fill="#6260a4"/>
<circle cx="451.9" cy="6.2" r="1.0" fill="#635ea4"/>
<circle cx="454.2" cy="7.7" r="0.8" fill="#7160a4"/>
<circle cx="452.0" cy="5.7" r="0.8" fill="#635fa4"/>
<circle cx="451.8" cy="7.5" r="0.8" fill="#a59cd2"/>
<ellipse cx="341.1" cy="102.4" rx="3.8" ry="3.7" fill="#9e94cb" stroke="#a39bd0" stroke-width="0.5"/>
<circle cx="341.8" cy="101.5" r="1.2" fill="#8480b9"/>
<circle cx="342.4" cy="103.6" r="0.8" fill="#8581b9"/>
<circle cx="340.1" cy="102.7" r="1.2" fill="#8484b9"/>
<circle cx="342.2" cy="102.5" r="1.1" fill="#827ab9"/>
<circle cx="340.0" cy="103.0" r="1.0" fill="#807eb9"/>
<circle cx="340.0" cy="102.0" r="1.0" fill="#847fb9"/>
<circle cx="341.3" cy="102.4" r="0.8" fill="#a59cd2"/>
<ellipse cx="392.3" cy="55.3" rx="4.1" ry="4.0" fill="#8a82be" stroke="#a39bd0" stroke-width="0.5"/>
<circle cx="393.6" cy="57.4" r="1.1" fill="#7266a4"/>
<circle cx="394.5" cy="54.4" r="1.1" fill="#6768a4"/>
<circle cx="394.5" cy="56.3" r="0.9" fill="#655aa4"/>
<circle cx="389.9" cy="56.0" r="1.1" fill="#6860a4"/>
<circle cx="393.6" cy="56.3" r="1.0" fill="#645fa4"/>
<circle cx="392.5" cy="56.6" r="1.0" fill="#7064a4"/>
<circle cx="392.5" cy="55.4" r="0.8" fill="#a59cd2"/>
<ellipse cx="319.3" cy="74.0" rx="4.0" ry="4.5" fill="#9e94ca" stroke="#a39bd0" stroke-width="0.5"/>
<circle cx="320.6" cy="75.5" r="0.7" fill="#766eb2"/>
<circle cx="320.2" cy="73.4" r="0.8" fill="#747cb2"/>
<circle cx="318.0" cy="73.8" r="1.1" fill="#786fb2"/>
<circle cx="320.6" cy="76.1" r="0.9" fill="#816db2"/>
<circle cx="320.3" cy="73.2" r="1.0" fill="#7b6cb2"/>
<ellipse cx="410.3" cy="35.0" rx="3.8" ry="3.8" fill="#8880bd" stroke="#a39bd0" stroke-width="0.5"/>
<circle cx="408.3" cy="35.0" r="1.2" fill="#6e64a4"/>
<circle cx="409.9" cy="36.6" r="0.8" fill="#6d65a4"/>
<circle cx="410.2" cy="36.2" r="1.2" fill="#6569a4"/>
<circle cx="412.4" cy="34.1" r="0.9" fill="#6c65a4"/>
<circle cx="411.9" cy="36.6" r="0.8" fill="#6962a4"/>
<circle cx="412.6" cy="35.9" r="1.1" fill="#6363a4"/>
<ellipse cx="344.4" cy="93.8" rx="4.3" ry="3.7" fill="#978dc8" stroke="#a39bd0" stroke-width="0.5"/>
<circle cx="345.0" cy="93.6" r="0.8" fill="#8678b9"/>
<circle cx="345.1" cy="92.4" r="0.9" fill="#8077b9"/>
<circle cx="343.2" cy="92.4" r="1.2" fill="#7f7ab9"/>
<circle cx="346.4" cy="94.1" r="1.1" fill="#7d7fb9"/>
<circle cx="343.7" cy="95.7" r="1.3" fill="#7e77b9"/>
<circle cx="342.4" cy="92.2" r="0.7" fill="#8574b9"/>
<circle cx="344.2" cy="94.2" r="0.8" fill="#a59cd2"/>
<ellipse cx="376.2" cy="-0.0" rx="4.2" ry="4.4" fill="#8e86c0" stroke="#a39bd0" stroke-width="0.5"/>
<circle cx="374.9" cy="-0.4" r="1.3" fill="#6e67a4"/>
<circle cx="376.4" cy="1.1" r="0.8" fill="#7162a4"/>
<circle cx="376.0" cy="0.6" r="1.2" fill="#6361a4"/>
<circle cx="374.9" cy="0.3" r="1.2" fill="#6963a4"/>
<circle cx="376.8" cy="-2.0" r="1.0" fill="#685ca4"/>
<ellipse cx="342.9" cy="127.6" rx="4.5" ry="4.2" fill="#8f86c2" stroke="#a39bd0" stroke-width="0.5"/>
<circle cx="343.9" cy="127.5" r="0.8" fill="#7c6fad"/>
<circle cx="340.7" cy="126.6" r="0.8" fill="#716aad"/>
<circle cx="342.5" cy="129.4" r="1.2" fill="#7b6aad"/>
<circle cx="343.7" cy="126.8" r="1.0" fill="#7a67ad"/>
<ellipse cx="431.1" cy="93.3" rx="4.0" ry="4.4" fill="#928ac2" stroke="#a39bd0" stroke-width="0.5"/>
<circle cx="432.5" cy="93.0" r="1.1" fill="#6967a4"/>
<circle cx="429.0" cy="94.2" r="1.2" fill="#645ca4"/>
<circle cx="430.3" cy="95.0" r="0.8" fill="#685ea4"/>
<circle cx="430.7" cy="91.0" r="0.8" fill="#6463a4"/>
<ellipse cx="299.8" cy="68.1" rx="4.4" ry="4.3" fill="#8b83c0" stroke="#a39bd0" stroke-width="0.5"/>
<circle cx="301.3" cy="66.9" r="1.2" fill="#6967a8"/>
<circle cx="301.7" cy="68.0" r="0.8" fill="#716fa8"/>
<circle cx="299.4" cy="68.8" r="0.8" fill="#756fa8"/>
<circle cx="299.5" cy="69.2" r="0.7" fill="#756ca8"/>
<circle cx="297.7" cy="67.1" r="0.9" fill="#6b63a8"/>
<ellipse cx="438.2" cy="80.6" rx="3.5" ry="4.2" fill="#8a82bf" stroke="#a39bd0" stroke-width="0.5"/>
<circle cx="438.3" cy="83.0" r="1.2" fill="#6a67a5"/>
<circle cx="439.8" cy="82.0" r="0.7" fill="#6a63a5"/>
<circle cx="438.4" cy="81.9" r="1.1" fill="#6861a5"/>
<circle cx="437.2" cy="80.4" r="1.2" fill="#6a65a5"/>
<ellipse cx="306.4" cy="39.3" rx="4.1" ry="4.3" fill="#958cc4" stroke="#a39bd0" stroke-width="0.5"/>
<circle cx="307.5" cy="37.2" r="0.7" fill="#7765aa"/>
<circle cx="306.9" cy="41.7" r="1.0" fill="#7972aa"/>
<circle cx="307.9" cy="40.6" r="0.7" fill="#7969aa"/>
<circle cx="306.3" cy="40.9" r="1.2" fill="#6d65aa"/>
<ellipse cx="458.4" cy="99.9" rx="4.3" ry="3.7" fill="#9189c2" stroke="#a39bd0" stroke-width="0.5"/>
<circle cx="459.6" cy="99.9" r="1.0" fill="#6865a4"/>
<circle cx="458.5" cy="100.6" r="0.7" fill="#625ba4"/>
<circle cx="457.8" cy="102.0" r="0.8" fill="#6d5ca4"/>
<circle cx="456.8" cy="97.8" r="1.2" fill="#6666a4"/>
<circle cx="457.9" cy="98.1" r="1.2" fill="#6c65a4"/>
<circle cx="458.4" cy="99.9" r="0.8" fill="#a59cd2"/>
<ellipse cx="402.7" cy="101.4" rx="4.3" ry="3.9" fill="#8880be" stroke="#a39bd0" stroke-width="0.5"/>
<circle cx="400.7" cy="101.7" r="1.0" fill="#6862a4"/>
<circle cx="403.6" cy="99.9" r="1.3" fill="#6c5ea4"/>
<circle cx="403.5" cy="102.6" r="1.1" fill="#6c60a4"/>
<circle cx="403.1" cy="102.2" r="0.8" fill="#6667a4"/>
<circle cx="402.3" cy="101.6" r="0.8" fill="#a59cd2"/>
<ellipse cx="305.3" cy="79.3" rx="4.4" ry="4.0" fill="#9b92c8" stroke="#a39bd0" stroke-width="0.5"/>
<circle cx="307.1" cy="80.6" r="1.2" fill="#7771b0"/>
<circle cx="305.8" cy="78.0" r="0.7" fill="#7e6ab0"/>
<circle cx="303.5" cy="79.2" r="1.1" fill="#7e71b0"/>
<circle cx="306.4" cy="79.8" r="1.1" fill="#806fb0"/>
<circle cx="304.4" cy="81.6" r="1.0" fill="#7a78b0"/>
<circle cx="304.7" cy="78.3" r="1.0" fill="#726ab0"/>
<ellipse cx="449.4" cy="60.1" rx="4.1" ry="4.0" fill="#948cc3" stroke="#a39bd0" stroke-width="0.5"/>
<circle cx="448.8" cy="59.8" r="1.0" fill="#695fa4"/>
<circle cx="448.3" cy="58.9" r="0.9" fill="#6362a4"/>
<circle cx="448.6" cy="61.0" r="0.9" fill="#6f5fa4"/>
<circle cx="449.4" cy="62.5" r="1.1" fill="#6a63a4"/>
<circle cx="449.3" cy="60.1" r="0.8" fill="#a59cd2"/>
<ellipse cx="397.4" cy="21.0" rx="4.5" ry="4.0" fill="#948cc3" stroke="#a39bd0" stroke-width="0.5"/>
<circle cx="398.9" cy="22.6" r="1.1" fill="#625ea4"/>
<circle cx="396.1" cy="22.6" r="0.8" fill="#7060a4"/>
<circle cx="396.7" cy="20.1" r="1.1" fill="#6e5ca4"/>
<circle cx="396.0" cy="20.8" r="0.9" fill="#7069a4"/>
<circle cx="397.0" cy="20.1" r="1.3" fill="#6c62a4"/>
<circle cx="397.6" cy="20.9" r="0.8" fill="#a59cd2"/>
<ellipse cx="447.2" cy="122.0" rx="3.7" ry="3.9" fill="#998fc8" stroke="#a39bd0" stroke-width="0.5"/>
<circle cx="446.6" cy="121.8" r="0.7" fill="#797ab5"/>
<circle cx="446.3" cy="121.7" r="1.2" fill="#7e7cb5"/>
<circle cx="446.0" cy="122.3" r="1.2" fill="#827fb5"/>
<circle cx="447.9" cy="123.6" r="1.2" fill="#7b71b5"/>
<circle cx="445.7" cy="121.7" r="0.8" fill="#8678b5"/>
<ellipse cx="346.4" cy="106.9" rx="4.7" ry="4.1" fill="#9f96cb" stroke="#a39bd0" stroke-width="0.5"/>
<circle cx="347.1" cy="109.2" r="1.0" fill="#8773b5"/>
<circle cx="344.7" cy="107.6" r="1.3" fill="#8471b5"/>
<circle cx="345.5" cy="107.5" r="1.0" fill="#8177b5"/>
<circle cx="346.0" cy="106.2" r="0.7" fill="#7f73b5"/>
<ellipse cx="348.9" cy="62.1" rx="3.9" ry="3.8" fill="#988fc6" stroke="#a39bd0" stroke-width="0.5"/>
<circle cx="346.9" cy="60.8" r="0.9" fill="#7163a9"/>
<circle cx="350.1" cy="61.1" r="0.8" fill="#6e63a9"/>
<circle cx="351.1" cy="61.8" r="1.0" fill="#7366a9"/>
<circle cx="349.3" cy="63.2" r="1.0" fill="#7461a9"/>
<circle cx="348.2" cy="62.0" r="1.3" fill="#6d6ca9"/>
<circle cx="348.7" cy="62.0" r="0.8" fill="#a59cd2"/>
<ellipse cx="444.3" cy="115.4" rx="4.0" ry="4.1" fill="#9c92ca" stroke="#a39bd0" stroke-width="0.5"/>
<circle cx="443.9" cy="114.5" r="1.1" fill="#7e7fb9"/>
<circle cx="444.0" cy="114.4" r="0.8" fill="#7f7eb9"/>
<circle cx="443.3" cy="117.2" r="1.2" fill="#8474b9"/>
<circle cx="444.6" cy="114.7" r="0.7" fill="#8374b9"/>
<circle cx="445.8" cy="114.0" r="0.8" fill="#8475b9"/>
<circle cx="444.8" cy="115.9" r="1.1" fill="#8379b9"/>
<ellipse cx="445.2" cy="54.6" rx="3.4" ry="3.4" fill="#958dc4" stroke="#a39bd0" stroke-width="0.5"/>
<circle cx="444.3" cy="55.1" r="1.2" fill="#715aa4"/>
<circle cx="446.6" cy="52.8" r="0.9" fill="#6961a4"/>
<circle cx="446.3" cy="55.4" r="1.1" fill="#6769a4"/>
<circle cx="443.1" cy="56.0" r="0.8" fill="#6a62a4"/>
<circle cx="446.8" cy="55.7" r="1.0" fill="#6a60a4"/>
<circle cx="447.2" cy="55.0" r="1.2" fill="#6966a4"/>
<circle cx="445.3" cy="54.6" r="0.8" fill="#a59cd2"/>
<ellipse cx="317.2" cy="128.5" rx="3.7" ry="4.0" fill="#968dc5" stroke="#a39bd0" stroke-width="0.5"/>
<circle cx="316.3" cy="129.8" r="1.1" fill="#6b6caa"/>
<circle cx="318.3" cy="128.9" r="0.9" fill="#6e6faa"/>
<circle cx="318.8" cy="127.1" r="1.2" fill="#7468aa"/>
<circle cx="316.0" cy="127.2" r="0.9" fill="#6c6daa"/>
<circle cx="317.7" cy="128.1" r="0.8" fill="#6e6caa"/>
<circle cx="316.7" cy="126.6" r="1.2" fill="#7665aa"/>
<circle cx="316.9" cy="128.8" r="0.8" fill="#a59cd2"/>
<ellipse cx="373.7" cy="21.6" rx="4.4" ry="4.6" fill="#928ac2" stroke="#a39bd0" stroke-width="0.5"/>
<circle cx="373.0" cy="21.0" r="0.8" fill="#6e67a4"/>
<circle cx="371.5" cy="22.5" r="1.0" fill="#715ca4"/>
<circle cx="375.1" cy="19.5" r="1.0" fill="#665fa4"/>
<circle cx="373.9" cy="20.9" r="0.7" fill="#6367a4"/>
<circle cx="374.7" cy="19.9" r="0.7" fill="#6d5fa4"/>
<circle cx="371.9" cy="23.3" r="1.2" fill="#6a5aa4"/>
<ellipse cx="446.3" cy="11.8" rx="4.0" ry="4.2" fill="#938bc3" stroke="#a39bd0" stroke-width="0.5"/>
<circle cx="447.0" cy="11.2" r="0.7" fill="#6668a4"/>
<circle cx="447.3" cy="11.2" r="1.0" fill="#705ca4"/>
<circle cx="444.1" cy="11.5" r="0.8" fill="#7169a4"/>
<circle cx="447.1" cy="13.6" r="1.1" fill="#685ca4"/>
<ellipse cx="373.8" cy="48.1" rx="3.9" ry="4.3" fill="#9088c1" stroke="#a39bd0" stroke-width="0.5"/>
<circle cx="374.9" cy="49.7" r="0.8" fill="#6268a4"/>
<circle cx="373.6" cy="48.6" r="1.3" fill="#6765a4"/>
<circle cx="372.8" cy="46.1" r="0.8" fill="#6a61a4"/>
<circle cx="373.0" cy="48.6" r="0.7" fill="#6569a4"/>
<circle cx="374.9" cy="47.3" r="0.7" fill="#6461a4"/>
<ellipse cx="298.4" cy="93.6" rx="4.0" ry="3.8" fill="#9188c3" stroke="#a39bd0" stroke-width="0.5"/>
<circle cx="297.2" cy="94.1" r="1.2" fill="#796fb0"/>
<circle cx="299.0" cy="93.1" r="0.8" fill="#786eb0"/>
<circle cx="297.1" cy="94.2" r="1.2" fill="#7577b0"/>
<circle cx="297.8" cy="95.3" r="0.7" fill="#736bb0"/>
<circle cx="297.1" cy="94.1" r="0.8" fill="#796fb0"/>
<ellipse cx="397.6" cy="5.4" rx="3.8" ry="3.7" fill="#8f87c1" stroke="#a39bd0" stroke-width="0.5"/>
<circle cx="398.9" cy="3.3" r="1.0" fill="#6764a4"/>
<circle cx="397.4" cy="4.7" r="0.9" fill="#685ca4"/>
<circle cx="398.4" cy="6.3" r="1.2" fill="#6f5ea4"/>
<circle cx="397.8" cy="3.7" r="0.8" fill="#6b63a4"/>
<circle cx="397.5" cy="7.0" r="1.2" fill="#6265a4"/>
<circle cx="397.3" cy="7.1" r="1.2" fill="#6968a4"/>
<ellipse cx="441.4" cy="87.0" rx="3.9" ry="3.9" fill="#978fc5" stroke="#a39bd0" stroke-width="0.5"/>
<circle cx="443.0" cy="88.0" r="0.8" fill="#725fa4"/>
<circle cx="440.1" cy="88.3" r="1.0" fill="#6d61a4"/>
<circle cx="440.6" cy="87.6" r="1.1" fill="#675ca4"/>
<circle cx="441.6" cy="84.5" r="1.1" fill="#6c63a4"/>
<circle cx="441.5" cy="88.8" r="0.9" fill="#6a6aa4"/>
<circle cx="439.5" cy="88.7" r="1.0" fill="#6d5aa4"/>
<ellipse cx="307.8" cy="93.1" rx="3.7" ry="3.9" fill="#a096cc" stroke="#a39bd0" stroke-width="0.5"/>
<circle cx="308.2" cy="94.7" r="0.9" fill="#7e7fb6"/>
<circle cx="309.7" cy="94.1" r="0.8" fill="#7c74b6"/>
<circle cx="308.8" cy="94.5" r="0.8" fill="#8577b6"/>
<circle cx="307.2" cy="94.4" r="0.9" fill="#7b72b6"/>
<ellipse cx="353.2" cy="109.3" rx="3.8" ry="4.3" fill="#9d93ca" stroke="#a39bd0" stroke-width="0.5"/>
<circle cx="352.3" cy="109.5" r="1.2" fill="#817cb3"/>
<circle cx="353.2" cy="108.5" r="1.2" fill="#817ab3"/>
<circle cx="354.3" cy="109.8" r="0.8" fill="#7b71b3"/>
<circle cx="353.8" cy="107.7" r="0.9" fill="#7b77b3"/>
<circle cx="353.4" cy="109.3" r="0.8" fill="#a59cd2"/>
<ellipse cx="386.9" cy="62.0" rx="4.1" ry="4.1" fill="#8f87c2" stroke="#a39bd0" stroke-width="0.5"/>
<circle cx="387.3" cy="63.8" r="0.9" fill="#7067a8"/>
<circle cx="386.0" cy="59.7" r="1.0" fill="#686da8"/>
<circle cx="386.9" cy="60.2" r="1.1" fill="#7269a8"/>
<circle cx="385.4" cy="62.0" r="0.8" fill="#7169a8"/>
<ellipse cx="362.4" cy="52.3" rx="3.8" ry="4.2" fill="#958dc4" stroke="#a39bd0" stroke-width="0.5"/>
<circle cx="361.9" cy="54.2" r="1.2" fill="#6466a4"/>
<circle cx="360.8" cy="50.7" r="0.8" fill="#6762a4"/>
<circle cx="364.5" cy="50.9" r="0.9" fill="#695aa4"/>
<circle cx="363.2" cy="51.8" r="0.9" fill="#6561a4"/>
<circle cx="361.2" cy="53.6" r="1.2" fill="#725fa4"/>
<circle cx="360.8" cy="53.3" r="1.2" fill="#6968a4"/>
<ellipse cx="443.5" cy="5.1" rx="4.4" ry="4.7" fill="#8c84bf" stroke="#a39bd0" stroke-width="0.5"/>
<circle cx="443.6" cy="6.2" r="0.9" fill="#6e66a4"/>
<circle cx="442.3" cy="6.9" r="1.0" fill="#6c5ea4"/>
<circle cx="444.3" cy="4.9" r="0.9" fill="#6764a4"/>
<circle cx="442.0" cy="5.1" r="1.0" fill="#6368a4"/>
<circle cx="442.4" cy="6.3" r="1.0" fill="#6f5aa4"/>
<circle cx="442.7" cy="4.3" r="1.2" fill="#6461a4"/>
<circle cx="443.2" cy="5.3" r="0.8" fill="#a59cd2"/>
<ellipse cx="329.1" cy="54.4" rx="3.6" ry="3.6" fill="#8c83bf" stroke="#a39bd0" stroke-width="0.5"/>
<circle cx="330.4" cy="55.8" r="0.9" fill="#6c69a5"/>
<circle cx="330.9" cy="55.1" r="1.0" fill="#6764a5"/>
<circle cx="330.3" cy="54.7" r="1.0" fill="#6561a5"/>
<circle cx="326.7" cy="54.2" r="1.0" fill="#7366a5"/>
<circle cx="329.9" cy="55.5" r="0.9" fill="#6965a5"/>
<circle cx="329.0" cy="54.7" r="0.8" fill="#a59cd2"/>
<ellipse cx="411.4" cy="89.2" rx="3.5" ry="3.8" fill="#938bc3" stroke="#a39bd0" stroke-width="0.5"/>
<circle cx="411.9" cy="90.7" r="1.0" fill="#7165a4"/>
<circle cx="412.4" cy="89.0" r="0.8" fill="#6e5fa4"/>
<circle cx="412.0" cy="90.8" r="0.7" fill="#6c60a4"/>
<circle cx="412.7" cy="90.2" r="1.2" fill="#6764a4"/>
<circle cx="410.3" cy="89.5" r="1.2" fill="#6767a4"/>
<circle cx="411.0" cy="88.9" r="0.8" fill="#a59cd2"/>
<ellipse cx="366.0" cy="100.1" rx="3.7" ry="4.1" fill="#958cc5" stroke="#a39bd0" stroke-width="0.5"/>
<circle cx="365.1" cy="98.7" r="0.8" fill="#7963ab"/>
<circle cx="364.4" cy="99.8" r="0.9" fill="#7a6dab"/>
<circle cx="367.2" cy="99.4" r="0.9" fill="#746bab"/>
<circle cx="365.0" cy="100.4" r="0.7" fill="#7967ab"/>
<ellipse cx="375.5" cy="11.8" rx="4.1" ry="4.0" fill="#8b83bf" stroke="#a39bd0" stroke-width="0.5"/>
<circle cx="373.7" cy="12.6" r="1.0" fill="#6a69a4"/>
<circle cx="373.5" cy="10.6" r="0.8" fill="#6f60a4"/>
<circle cx="375.6" cy="10.8" r="1.2" fill="#6e60a4"/>
<circle cx="373.1" cy="11.7" r="0.8" fill="#665ba4"/>
<circle cx="376.7" cy="11.2" r="1.0" fill="#6367a4"/>
<circle cx="376.2" cy="13.3" r="0.8" fill="#645ba4"/>
<circle cx="375.1" cy="11.5" r="0.8" fill="#a59cd2"/>
<ellipse cx="381.6" cy="87.0" rx="4.0" ry="3.9" fill="#9088c2" stroke="#a39bd0" stroke-width="0.5"/>
<circle cx="381.9" cy="88.3" r="0.8" fill="#7167a6"/>
<circle cx="380.9" cy="85.6" r="1.0" fill="#6d5ea6"/>
<circle cx="381.9" cy="88.2" r="1.0" fill="#7469a6"/>
<circle cx="383.1" cy="88.4" r="1.3" fill="#6b65a6"/>
<circle cx="380.8" cy="86.5" r="0.9" fill="#705ea6"/>
<circle cx="383.3" cy="87.0" r="0.9" fill="#6c5ea6"/>
<ellipse cx="403.0" cy="5.7" rx="3.8" ry="3.8" fill="#8a82be" stroke="#a39bd0" stroke-width="0.5"/>
<circle cx="403.0" cy="6.9" r="0.9" fill="#6b61a4"/>
<circle cx="404.2" cy="6.7" r="0.7" fill="#645ba4"/>
<circle cx="402.2" cy="5.3" r="1.2" fill="#6265a4"/>
<circle cx="401.9" cy="3.6" r="1.1" fill="#705da4"/>
<ellipse cx="312.8" cy="11.7" rx="4.5" ry="4.1" fill="#988fc6" stroke="#a39bd0" stroke-width="0.5"/>
<circle cx="313.6" cy="13.8" r="0.9" fill="#7465a8"/>
<circle cx="313.6" cy="9.9" r="1.3" fill="#746ea8"/>
<circle cx="311.9" cy="12.2" r="1.0" fill="#7367a8"/>
<circle cx="313.4" cy="9.3" r="1.1" fill="#7462a8"/>
<circle cx="312.7" cy="11.7" r="0.8" fill="#a59cd2"/>
<ellipse cx="393.5" cy="106.9" rx="4.2" ry="4.1" fill="#9890c6" stroke="#a39bd0" stroke-width="0.5"/>
<circle cx="394.2" cy="106.5" r="1.1" fill="#6e6aa6"/>
<circle cx="391.0" cy="106.7" r="1.2" fill="#705ea6"/>
<circle cx="394.6" cy="107.1" r="1.0" fill="#745fa6"/>
<circle cx="394.4" cy="105.7" r="1.2" fill="#6a60a6"/>
<ellipse cx="356.2" cy="100.8" rx="3.6" ry="4.1" fill="#9f95ca" stroke="#a39bd0" stroke-width="0.5"/>
<circle cx="354.3" cy="101.5" r="0.8" fill="#7775b0"/>
<circle cx="354.8" cy="99.7" r="1.1" fill="#7977b0"/>
<circle cx="357.2" cy="102.8" r="1.3" fill="#7777b0"/>
<circle cx="357.0" cy="101.9" r="1.1" fill="#7377b0"/>
<circle cx="357.3" cy="103.0" r="1.3" fill="#776db0"/>
<circle cx="356.6" cy="100.1" r="1.2" fill="#8079b0"/>
<ellipse cx="340.8" cy="60.6" rx="4.2" ry="4.5" fill="#8c83c0" stroke="#a39bd0" stroke-width="0.5"/>
<circle cx="340.6" cy="62.6" r="1.3" fill="#7362a8"/>
<circle cx="341.4" cy="61.1" r="1.1" fill="#6c67a8"/>
<circle cx="343.0" cy="60.4" r="1.1" fill="#746aa8"/>
<circle cx="342.7" cy="61.3" r="1.0" fill="#706aa8"/>
<circle cx="342.5" cy="60.9" r="1.1" fill="#7560a8"/>
<circle cx="341.4" cy="59.9" r="1.2" fill="#6f68a8"/>
<ellipse cx="434.6" cy="115.1" rx="4.6" ry="4.4" fill="#978dc7" stroke="#a39bd0" stroke-width="0.5"/>
<circle cx="435.0" cy="113.0" r="1.1" fill="#817bb5"/>
<circle cx="436.8" cy="114.4" r="0.9" fill="#817bb5"/>
<circle cx="434.3" cy="116.9" r="0.8" fill="#7c7cb5"/>
<circle cx="433.3" cy="116.3" r="0.9" fill="#8275b5"/>
<circle cx="433.0" cy="113.4" r="0.9" fill="#8777b5"/>
<ellipse cx="406.8" cy="106.8" rx="3.8" ry="4.1" fill="#9088c2" stroke="#a39bd0" stroke-width="0.5"/>
<circle cx="408.4" cy="108.7" r="0.8" fill="#6a65a5"/>
<circle cx="406.2" cy="107.3" r="0.7" fill="#6e69a5"/>
<circle cx="407.7" cy="107.1" r="1.2" fill="#6969a5"/>
<circle cx="408.4" cy="106.4" r="1.1" fill="#666aa5"/>
<circle cx="405.6" cy="106.5" r="1.0" fill="#6663a5"/>
<circle cx="406.6" cy="106.4" r="0.8" fill="#a59cd2"/>
<ellipse cx="323.0" cy="120.3" rx="3.8" ry="4.1" fill="#998fc9" stroke="#a39bd0" stroke-width="0.5"/>
<circle cx="321.8" cy="119.4" r="1.2" fill="#8a77ba"/>
<circle cx="321.3" cy="119.7" r="1.1" fill="#8c7eba"/>
<circle cx="323.7" cy="121.4" r="0.8" fill="#8c75ba"/>
<circle cx="324.1" cy="122.6" r="0.9" fill="#8584ba"/>
<circle cx="325.0" cy="121.1" r="0.9" fill="#8277ba"/>
<ellipse cx="365.4" cy="113.1" rx="4.4" ry="3.9" fill="#998fc8" stroke="#a39bd0" stroke-width="0.5"/>
<circle cx="365.2" cy="112.3" r="1.1" fill="#7c6fb4"/>
<circle cx="363.5" cy="112.7" r="1.1" fill="#7c77b4"/>
<circle cx="364.6" cy="113.4" r="1.1" fill="#787cb4"/>
<circle cx="364.7" cy="111.3" r="1.3" fill="#7e6fb4"/>
<circle cx="365.8" cy="112.8" r="0.8" fill="#a59cd2"/>
<ellipse cx="439.8" cy="12.4" rx="3.9" ry="4.0" fill="#8f87c1" stroke="#a39bd0" stroke-width="0.5"/>
<circle cx="441.2" cy="12.0" r="0.7" fill="#6b67a4"/>
<circle cx="439.8" cy="13.5" r="1.3" fill="#6d66a4"/>
<circle cx="438.1" cy="14.1" r="1.2" fill="#6467a4"/>
<circle cx="439.9" cy="10.7" r="0.7" fill="#7166a4"/>
<circle cx="440.3" cy="11.5" r="1.2" fill="#6762a4"/>
<circle cx="440.4" cy="12.1" r="1.1" fill="#685ca4"/>
<circle cx="439.9" cy="12.6" r="0.8" fill="#a59cd2"/>
<ellipse cx="406.8" cy="95.1" rx="4.1" ry="4.3" fill="#9189c2" stroke="#a39bd0" stroke-width="0.5"/>
<circle cx="405.2" cy="94.6" r="1.2" fill="#6261a4"/>
<circle cx="405.4" cy="96.1" r="1.2" fill="#6262a4"/>
<circle cx="406.1" cy="95.2" r="1.1" fill="#685da4"/>
<circle cx="405.9" cy="93.9" r="1.3" fill="#6a67a4"/>
<circle cx="405.4" cy="94.3" r="1.2" fill="#6a61a4"/>
<circle cx="407.9" cy="95.0" r="1.0" fill="#6960a4"/>
<ellipse cx="363.9" cy="21.0" rx="4.2" ry="3.8" fill="#958dc4" stroke="#a39bd0" stroke-width="0.5"/>
<circle cx="364.0" cy="22.3" r="0.7" fill="#685ea4"/>
<circle cx="361.7" cy="22.2" r="1.1" fill="#6e60a4"/>
<circle cx="364.0" cy="19.2" r="1.0" fill="#6c5ca4"/>
<circle cx="364.7" cy="19.9" r="0.9" fill="#6369a4"/>
<ellipse cx="357.5" cy="47.8" rx="4.2" ry="4.4" fill="#877fbd" stroke="#a39bd0" stroke-width="0.5"/>
<circle cx="357.7" cy="49.2" r="0.9" fill="#6c63a4"/>
<circle cx="355.4" cy="46.6" r="1.3" fill="#6866a4"/>
<circle cx="358.4" cy="47.0" r="0.8" fill="#6d67a4"/>
<circle cx="357.7" cy="47.2" r="1.0" fill="#6f68a4"/>
<circle cx="358.7" cy="47.7" r="0.7" fill="#6562a4"/>
<circle cx="357.8" cy="49.2" r="1.0" fill="#665fa4"/>
<circle cx="357.5" cy="48.0" r="0.8" fill="#a59cd2"/>
<ellipse cx="384.8" cy="26.8" rx="4.1" ry="4.3" fill="#8880bd" stroke="#a39bd0" stroke-width="0.5"/>
<circle cx="382.6" cy="25.7" r="0.7" fill="#6e5fa4"/>
<circle cx="384.6" cy="27.4" r="1.0" fill="#625aa4"/>
<circle cx="383.3" cy="26.6" r="1.0" fill="#6b5fa4"/>
<circle cx="384.7" cy="27.6" r="1.2" fill="#7165a4"/>
<circle cx="385.6" cy="25.6" r="1.1" fill="#655ca4"/>
<ellipse cx="346.7" cy="79.9" rx="4.5" ry="4.2" fill="#988ec7" stroke="#a39bd0" stroke-width="0.5"/>
<circle cx="346.7" cy="81.7" r="0.8" fill="#817cb5"/>
<circle cx="348.4" cy="79.7" r="1.2" fill="#8670b5"/>
<circle cx="347.3" cy="78.7" r="0.9" fill="#7e7db5"/>
<circle cx="347.4" cy="81.7" r="0.8" fill="#8578b5"/>
<circle cx="345.1" cy="80.5" r="1.1" fill="#837bb5"/>
<circle cx="347.4" cy="79.8" r="0.7" fill="#8574b5"/>
<circle cx="346.5" cy="79.5" r="0.8" fill="#a59cd2"/>
<ellipse cx="383.5" cy="54.1" rx="4.1" ry="3.8" fill="#968ec4" stroke="#a39bd0" stroke-width="0.5"/>
<circle cx="384.9" cy="55.1" r="1.3" fill="#6461a4"/>
<circle cx="385.5" cy="53.2" r="0.9" fill="#6a5ca4"/>
<circle cx="381.9" cy="54.6" r="1.0" fill="#6d5ca4"/>
<circle cx="382.7" cy="54.1" r="1.2" fill="#6667a4"/>
<circle cx="383.7" cy="54.0" r="0.8" fill="#a59cd2"/>
<ellipse cx="313.7" cy="82.3" rx="4.0" ry="4.6" fill="#988fc8" stroke="#a39bd0" stroke-width="0.5"/>
<circle cx="314.8" cy="81.8" r="1.2" fill="#7a79b5"/>
<circle cx="314.4" cy="83.4" r="0.8" fill="#827db5"/>
<circle cx="311.6" cy="83.1" r="1.0" fill="#8678b5"/>
<circle cx="311.6" cy="81.8" r="1.2" fill="#7a73b5"/>
<circle cx="313.4" cy="83.0" r="1.0" fill="#7a72b5"/>
<ellipse cx="447.6" cy="0.0" rx="4.1" ry="4.3" fill="#8e86c0" stroke="#a39bd0" stroke-width="0.5"/>
<circle cx="448.6" cy="2.4" r="1.2" fill="#715ca4"/>
<circle cx="447.0" cy="1.1" r="0.8" fill="#6564a4"/>
<circle cx="448.6" cy="-0.4" r="1.3" fill="#7069a4"/>
<circle cx="447.6" cy="-2.3" r="0.7" fill="#6264a4"/>
<circle cx="447.0" cy="-2.4" r="1.3" fill="#6269a4"/>
<ellipse cx="320.6" cy="-1.5" rx="4.4" ry="3.7" fill="#8d85c0" stroke="#a39bd0" stroke-width="0.5"/>
<circle cx="319.5" cy="-2.6" r="1.2" fill="#6c5da4"/>
<circle cx="320.3" cy="-3.0" r="1.2" fill="#6b66a4"/>
<circle cx="319.5" cy="-1.3" r="1.2" fill="#715ba4"/>
<circle cx="322.0" cy="-0.9" r="1.2" fill="#6f63a4"/>
<circle cx="321.0" cy="-3.0" r="1.2" fill="#705ca4"/>
<circle cx="320.5" cy="-1.1" r="0.8" fill="#a59cd2"/>
<ellipse cx="442.2" cy="128.8" rx="4.4" ry="3.9" fill="#928ac3" stroke="#a39bd0" stroke-width="0.5"/>
<circle cx="441.5" cy="127.2" r="1.1" fill="#7065a6"/>
<circle cx="443.9" cy="128.5" r="1.1" fill="#6765a6"/>
<circle cx="441.8" cy="128.4" r="0.8" fill="#6760a6"/>
<circle cx="443.6" cy="128.8" r="1.1" fill="#7262a6"/>
<ellipse cx="459.3" cy="72.6" rx="4.0" ry="3.8" fill="#8a82bf" stroke="#a39bd0" stroke-width="0.5"/>
<circle cx="460.3" cy="72.5" r="0.8" fill="#6a6aa4"/>
<circle cx="460.5" cy="72.9" r="1.3" fill="#695ea4"/>
<circle cx="458.7" cy="73.1" r="1.0" fill="#6463a4"/>
<circle cx="459.8" cy="72.0" r="0.7" fill="#6e5ba4"/>
<circle cx="459.7" cy="72.6" r="0.8" fill="#a59cd2"/>
<ellipse cx="439.5" cy="27.7" rx="3.9" ry="3.9" fill="#8d85c0" stroke="#a39bd0" stroke-width="0.5"/>
<circle cx="438.7" cy="29.0" r="1.3" fill="#7161a4"/>
<circle cx="437.3" cy="28.2" r="0.9" fill="#655da4"/>
<circle cx="441.1" cy="26.6" r="1.0" fill="#6b66a4"/>
<circle cx="438.3" cy="26.1" r="0.7" fill="#6a65a4"/>
<circle cx="441.6" cy="27.6" r="0.8" fill="#6c67a4"/>
<circle cx="439.6" cy="27.6" r="0.8" fill="#a59cd2"/>
<ellipse cx="387.2" cy="18.9" rx="4.5" ry="4.3" fill="#8e86c0" stroke="#a39bd0" stroke-width="0.5"/>
<circle cx="388.0" cy="19.7" r="1.0" fill="#675ca4"/>
<circle cx="386.6" cy="20.5" r="0.7" fill="#6c64a4"/>
<circle cx="385.4" cy="19.2" r="0.8" fill="#6f61a4"/>
<circle cx="388.7" cy="18.3" r="0.8" fill="#715aa4"/>
<circle cx="386.3" cy="18.6" r="1.0" fill="#6b66a4"/>
<circle cx="386.7" cy="18.0" r="0.9" fill="#6b67a4"/>
<ellipse cx="319.1" cy="102.6" rx="3.5" ry="3.8" fill="#9d93cb" stroke="#a39bd0" stroke-width="0.5"/>
<circle cx="321.4" cy="101.6" r="0.9" fill="#8379ba"/>
<circle cx="320.1" cy="103.6" r="1.0" fill="#837cba"/>
<circle cx="318.2" cy="102.4" r="1.1" fill="#8c78ba"/>
<circle cx="320.4" cy="104.3" r="1.0" fill="#8a86ba"/>
<circle cx="320.0" cy="102.3" r="1.0" fill="#827cba"/>
<circle cx="318.6" cy="101.5" r="0.7" fill="#8985ba"/>
<ellipse cx="408.4" cy="-1.0" rx="3.8" ry="4.1" fill="#9189c2" stroke="#a39bd0" stroke-width="0.5"/>
<circle cx="409.5" cy="-0.2" r="1.3" fill="#7060a4"/>
<circle cx="407.0" cy="0.4" r="1.3" fill="#6b62a4"/>
<circle cx="408.1" cy="-1.9" r="1.2" fill="#6c68a4"/>
<circle cx="409.1" cy="-1.3" r="0.8" fill="#665da4"/>
<circle cx="406.5" cy="0.4" r="1.1" fill="#6861a4"/>
<circle cx="410.4" cy="-0.1" r="0.9" fill="#685ea4"/>
<ellipse cx="419.2" cy="59.5" rx="4.1" ry="4.3" fill="#938bc3" stroke="#a39bd0" stroke-width="0.5"/>
<circle cx="420.7" cy="60.0" r="0.8" fill="#6b65a5"/>
<circle cx="419.8" cy="58.5" r="1.2" fill="#6b5ca5"/>
<circle cx="416.8" cy="60.5" r="0.9" fill="#6b5fa5"/>
<circle cx="418.0" cy="58.5" r="0.9" fill="#6d5ca5"/>
<circle cx="420.4" cy="61.3" r="1.1" fill="#6861a5"/>
<circle cx="419.5" cy="58.7" r="0.8" fill="#7269a5"/>
<circle cx="418.8" cy="59.6" r="0.8" fill="#a59cd2"/>
<ellipse cx="392.8" cy="26.7" rx="3.7" ry="4.1" fill="#8f87c1" stroke="#a39bd0" stroke-width="0.5"/>
<circle cx="393.0" cy="28.6" r="1.3" fill="#6d5ca4"/>
<circle cx="390.6" cy="25.7" r="1.0" fill="#6660a4"/>
<circle cx="391.7" cy="27.8" r="0.8" fill="#6562a4"/>
<circle cx="391.9" cy="26.8" r="1.3" fill="#6d62a4"/>
<circle cx="390.5" cy="27.1" r="1.1" fill="#7162a4"/>
<circle cx="392.8" cy="27.4" r="1.0" fill="#6e5ba4"/>
<circle cx="392.4" cy="27.0" r="0.8" fill="#a59cd2"/>
<ellipse cx="427.3" cy="47.2" rx="4.2" ry="3.6" fill="#948cc3" stroke="#a39bd0" stroke-width="0.5"/>
<circle cx="427.0" cy="46.2" r="0.8" fill="#6963a4"/>
<circle cx="427.2" cy="47.8" r="1.1" fill="#6865a4"/>
<circle cx="427.5" cy="49.5" r="0.9" fill="#665ba4"/>
<circle cx="428.0" cy="46.3" r="1.1" fill="#6c68a4"/>
<circle cx="425.5" cy="45.6" r="0.7" fill="#715ca4"/>
<circle cx="427.9" cy="49.3" r="1.3" fill="#675ea4"/>
<circle cx="427.1" cy="47.2" r="0.8" fill="#a59cd2"/>
<ellipse cx="388.0" cy="6.1" rx="3.6" ry="4.1" fill="#8b83bf" stroke="#a39bd0" stroke-width="0.5"/>
<circle cx="388.9" cy="6.8" r="1.2" fill="#715da4"/>
<circle cx="388.6" cy="7.2" r="0.8" fill="#6760a4"/>
<circle cx="389.5" cy="8.2" r="1.0" fill="#6866a4"/>
<circle cx="388.7" cy="6.4" r="1.1" fill="#715ca4"/>
<circle cx="388.9" cy="6.8" r="1.2" fill="#6764a4"/>
<circle cx="389.6" cy="5.7" r="1.2" fill="#6365a4"/>
<circle cx="388.0" cy="6.1" r="0.8" fill="#a59cd2"/>
<ellipse cx="412.1" cy="100.5" rx="3.8" ry="4.0" fill="#948cc3" stroke="#a39bd0" stroke-width="0.5"/>
<circle cx="411.1" cy="101.3" r="1.0" fill="#6563a4"/>
<circle cx="413.3" cy="100.9" r="1.2" fill="#6764a4"/>
<circle cx="413.2" cy="98.2" r="0.8" fill="#6661a4"/>
<circle cx="411.9" cy="99.9" r="1.1" fill="#6466a4"/>
<ellipse cx="436.1" cy="88.7" rx="3.8" ry="3.5" fill="#8981be" stroke="#a39bd0" stroke-width="0.5"/>
<circle cx="437.2" cy="89.4" r="1.2" fill="#6569a4"/>
<circle cx="436.5" cy="89.6" r="0.7" fill="#6862a4"/>
<circle cx="436.9" cy="89.3" r="0.9" fill="#6265a4"/>
<circle cx="436.0" cy="87.4" r="0.7" fill="#6861a4"/>
<circle cx="436.7" cy="88.3" r="1.1" fill="#695ba4"/>
<circle cx="434.8" cy="89.0" r="0.7" fill="#6b60a4"/>
<ellipse cx="360.9" cy="12.0" rx="3.8" ry="4.3" fill="#877fbd" stroke="#a39bd0" stroke-width="0.5"/>
<circle cx="359.4" cy="11.7" r="0.8" fill="#6f68a4"/>
<circle cx="361.6" cy="12.6" r="0.9" fill="#6267a4"/>
<circle cx="361.4" cy="11.0" r="0.9" fill="#675ca4"/>
<circle cx="360.4" cy="10.8" r="1.1" fill="#6663a4"/>
<circle cx="361.3" cy="11.8" r="0.8" fill="#a59cd2"/>
<ellipse cx="401.0" cy="53.9" rx="3.9" ry="4.0" fill="#8b83bf" stroke="#a39bd0" stroke-width="0.5"/>
<circle cx="402.3" cy="54.7" r="1.0" fill="#6e5ca4"/>
<circle cx="401.8" cy="52.9" r="1.0" fill="#6c62a4"/>
<circle cx="400.6" cy="52.5" r="0.7" fill="#625fa4"/>
<circle cx="403.4" cy="54.7" r="1.3" fill="#685fa4"/>
<circle cx="400.5" cy="53.9" r="0.8" fill="#a59cd2"/>
<ellipse cx="358.4" cy="113.5" rx="3.6" ry="3.8" fill="#978dc8" stroke="#a39bd0" stroke-width="0.5"/>
<circle cx="357.8" cy="114.0" r="0.9" fill="#8472b7"/>
<circle cx="357.7" cy="113.4" r="1.1" fill="#7c77b7"/>
<circle cx="360.2" cy="114.6" r="1.3" fill="#7d7fb7"/>
<circle cx="360.5" cy="112.1" r="1.3" fill="#8a76b7"/>
<circle cx="356.7" cy="114.5" r="0.9" fill="#7d7bb7"/>
<circle cx="358.8" cy="113.8" r="0.8" fill="#a59cd2"/>
<ellipse cx="329.4" cy="109.3" rx="4.5" ry="4.3" fill="#9d92cb" stroke="#a39bd0" stroke-width="0.5"/>
<circle cx="329.5" cy="106.9" r="1.2" fill="#8c81ba"/>
<circle cx="330.0" cy="108.5" r="1.2" fill="#8077ba"/>
<circle cx="328.2" cy="108.7" r="0.9" fill="#8485ba"/>
<circle cx="331.2" cy="108.1" r="0.8" fill="#8b81ba"/>
<ellipse cx="358.1" cy="61.0" rx="3.6" ry="3.9" fill="#8e86c1" stroke="#a39bd0" stroke-width="0.5"/>
<circle cx="357.5" cy="62.6" r="0.9" fill="#6a64a8"/>
<circle cx="356.6" cy="62.5" r="1.2" fill="#6f60a8"/>
<circle cx="357.6" cy="60.4" r="1.3" fill="#6961a8"/>
<circle cx="357.0" cy="63.4" r="1.2" fill="#7666a8"/>
<circle cx="358.6" cy="62.7" r="1.1" fill="#6866a8"/>
<circle cx="357.9" cy="61.8" r="1.0" fill="#746ca8"/>
<circle cx="358.5" cy="61.2" r="0.8" fill="#a59cd2"/>
<ellipse cx="405.1" cy="87.9" rx="3.9" ry="4.1" fill="#8d85c0" stroke="#a39bd0" stroke-width="0.5"/>
<circle cx="404.1" cy="89.0" r="0.8" fill="#6661a4"/>
<circle cx="406.5" cy="90.0" r="1.2" fill="#6d5fa4"/>
<circle cx="406.3" cy="85.9" r="0.9" fill="#665aa4"/>
<circle cx="403.1" cy="87.1" r="1.0" fill="#6b5fa4"/>
<ellipse cx="375.5" cy="109.1" rx="3.6" ry="3.7" fill="#8c83c0" stroke="#a39bd0" stroke-width="0.5"/>
<circle cx="374.4" cy="107.1" r="0.7" fill="#7863ab"/>
<circle cx="374.1" cy="107.7" r="0.8" fill="#706cab"/>
<circle cx="376.5" cy="109.8" r="1.0" fill="#7364ab"/>
<circle cx="375.6" cy="111.7" r="1.1" fill="#7870ab"/>
<ellipse cx="307.8" cy="120.2" rx="4.0" ry="3.6" fill="#9c93ca" stroke="#a39bd0" stroke-width="0.5"/>
<circle cx="307.3" cy="121.5" r="1.0" fill="#8374b4"/>
<circle cx="308.3" cy="122.4" r="1.0" fill="#7f7ab4"/>
<circle cx="306.8" cy="120.3" r="1.3" fill="#8276b4"/>
<circle cx="309.6" cy="120.4" r="1.0" fill="#7a73b4"/>
<circle cx="307.0" cy="120.1" r="1.3" fill="#8474b4"/>
<circle cx="308.7" cy="121.2" r="1.2" fill="#7a75b4"/>
<ellipse cx="354.0" cy="121.3" rx="4.5" ry="3.8" fill="#9f94cc" stroke="#a39bd0" stroke-width="0.5"/>
<circle cx="353.9" cy="120.3" r="0.7" fill="#867fbb"/>
<circle cx="352.0" cy="121.8" r="1.3" fill="#8879bb"/>
<circle cx="353.5" cy="121.8" r="1.0" fill="#8284bb"/>
<circle cx="354.7" cy="119.7" r="1.3" fill="#8981bb"/>
<circle cx="354.4" cy="122.9" r="0.7" fill="#807cbb"/>
<ellipse cx="306.9" cy="52.5" rx="4.4" ry="4.6" fill="#978fc5" stroke="#a39bd0" stroke-width="0.5"/>
<circle cx="307.8" cy="51.2" r="1.1" fill="#6966a8"/>
<circle cx="305.8" cy="54.4" r="1.0" fill="#7560a8"/>
<circle cx="306.2" cy="50.4" r="0.9" fill="#7662a8"/>
<circle cx="305.6" cy="54.3" r="1.3" fill="#6a6ea8"/>
<circle cx="307.2" cy="54.1" r="1.0" fill="#696da8"/>
<ellipse cx="330.8" cy="-1.4" rx="4.0" ry="3.8" fill="#8a82be" stroke="#a39bd0" stroke-width="0.5"/>
<circle cx="332.3" cy="-1.6" r="0.9" fill="#6661a4"/>
<circle cx="329.0" cy="-2.9" r="1.2" fill="#6e5da4"/>
<circle cx="331.5" cy="-3.6" r="1.1" fill="#6965a4"/>
<circle cx="330.9" cy="-2.2" r="1.2" fill="#6361a4"/>
<circle cx="331.0" cy="-3.1" r="1.0" fill="#6d67a4"/>
<ellipse cx="302.8" cy="87.1" rx="3.7" ry="3.4" fill="#9188c4" stroke="#a39bd0" stroke-width="0.5"/>
<circle cx="301.9" cy="89.5" r="1.2" fill="#836bb2"/>
<circle cx="305.0" cy="88.0" r="1.3" fill="#7771b2"/>
<circle cx="301.9" cy="87.3" r="0.8" fill="#7a79b2"/>
<circle cx="302.0" cy="87.9" r="0.8" fill="#7870b2"/>
<circle cx="301.2" cy="86.1" r="0.9" fill="#7b6eb2"/>
<circle cx="301.3" cy="87.8" r="1.1" fill="#8078b2"/>
<circle cx="302.4" cy="87.4" r="0.8" fill="#a59cd2"/>
<ellipse cx="324.7" cy="102.5" rx="3.5" ry="3.5" fill="#a399ce" stroke="#a39bd0" stroke-width="0.5"/>
<circle cx="324.8" cy="100.6" r="0.8" fill="#8680bc"/>
<circle cx="325.7" cy="102.9" r="1.3" fill="#8380bc"/>
<circle cx="323.4" cy="102.2" r="1.3" fill="#897dbc"/>
<circle cx="324.5" cy="101.9" r="0.9" fill="#8c80bc"/>
<circle cx="324.1" cy="100.3" r="1.2" fill="#8187bc"/>
<circle cx="323.5" cy="100.8" r="1.1" fill="#8f79bc"/>
<ellipse cx="450.1" cy="129.6" rx="4.2" ry="3.8" fill="#958dc4" stroke="#a39bd0" stroke-width="0.5"/>
<circle cx="450.6" cy="128.7" r="1.0" fill="#735da5"/>
<circle cx="449.3" cy="130.0" r="1.2" fill="#6a68a5"/>
<circle cx="451.1" cy="129.5" r="0.8" fill="#735da5"/>
<circle cx="450.6" cy="127.9" r="1.0" fill="#6b5ca5"/>
<circle cx="448.9" cy="130.6" r="1.0" fill="#6562a5"/>
<ellipse cx="336.0" cy="93.8" rx="3.7" ry="3.8" fill="#9d93cb" stroke="#a39bd0" stroke-width="0.5"/>
<circle cx="336.2" cy="95.4" r="0.8" fill="#837bbd"/>
<circle cx="335.4" cy="93.7" r="1.1" fill="#8a83bd"/>
<circle cx="337.1" cy="93.3" r="1.1" fill="#8986bd"/>
<circle cx="336.6" cy="96.3" r="1.0" fill="#8683bd"/>
<circle cx="336.5" cy="94.3" r="0.9" fill="#8b7abd"/>
<ellipse cx="438.5" cy="38.7" rx="3.9" ry="4.1" fill="#938bc3" stroke="#a39bd0" stroke-width="0.5"/>
<circle cx="439.6" cy="39.7" r="1.1" fill="#645ca4"/>
<circle cx="438.8" cy="37.3" r="1.0" fill="#6c5ba4"/>
<circle cx="437.3" cy="40.0" r="1.1" fill="#6a66a4"/>
<circle cx="437.5" cy="38.0" r="0.8" fill="#695da4"/>
<circle cx="437.5" cy="38.9" r="0.8" fill="#6b69a4"/>
<circle cx="436.6" cy="39.9" r="0.9" fill="#695aa4"/>
<ellipse cx="387.4" cy="73.2" rx="4.2" ry="4.2" fill="#988ec7" stroke="#a39bd0" stroke-width="0.5"/>
<circle cx="387.7" cy="74.5" r="0.8" fill="#8171b2"/>
<circle cx="388.1" cy="72.9" r="0.8" fill="#7a7bb2"/>
<circle cx="388.6" cy="74.7" r="1.1" fill="#8371b2"/>
<circle cx="388.4" cy="75.6" r="0.8" fill="#7d79b2"/>
<circle cx="387.1" cy="72.7" r="1.0" fill="#7e79b2"/>
<circle cx="385.2" cy="72.5" r="1.0" fill="#7778b2"/>
<ellipse cx="422.6" cy="122.2" rx="3.5" ry="3.8" fill="#9b92c9" stroke="#a39bd0" stroke-width="0.5"/>
<circle cx="424.7" cy="121.9" r="0.7" fill="#7b78b1"/>
<circle cx="421.8" cy="122.0" r="0.7" fill="#7f6eb1"/>
<circle cx="422.3" cy="121.3" r="0.7" fill="#7a77b1"/>
<circle cx="422.3" cy="120.1" r="1.0" fill="#7d79b1"/>
<ellipse cx="330.8" cy="81.9" rx="3.9" ry="3.4" fill="#968cc7" stroke="#a39bd0" stroke-width="0.5"/>
<circle cx="330.7" cy="83.9" r="1.0" fill="#8079b9"/>
<circle cx="331.8" cy="83.0" r="1.0" fill="#7e80b9"/>
<circle cx="332.3" cy="82.6" r="1.1" fill="#7e78b9"/>
<circle cx="331.4" cy="82.8" r="0.9" fill="#7f80b9"/>
<circle cx="330.4" cy="81.8" r="0.8" fill="#a59cd2"/>
<ellipse cx="377.4" cy="28.1" rx="4.1" ry="4.1" fill="#8c84bf" stroke="#a39bd0" stroke-width="0.5"/>
<circle cx="379.9" cy="27.9" r="1.3" fill="#7163a4"/>
<circle cx="377.4" cy="29.2" r="0.8" fill="#6f67a4"/>
<circle cx="377.9" cy="27.1" r="1.0" fill="#635aa4"/>
<circle cx="375.4" cy="27.4" r="1.2" fill="#715ca4"/>
<circle cx="376.9" cy="26.6" r="1.1" fill="#6461a4"/>
<ellipse cx="323.5" cy="79.9" rx="3.5" ry="3.9" fill="#a399cd" stroke="#a39bd0" stroke-width="0.5"/>
<circle cx="323.2" cy="77.7" r="1.0" fill="#8681b7"/>
<circle cx="323.6" cy="78.3" r="0.8" fill="#8379b7"/>
<circle cx="322.6" cy="79.9" r="0.9" fill="#7f73b7"/>
<circle cx="325.7" cy="80.2" r="1.0" fill="#7e72b7"/>
<circle cx="324.0" cy="81.2" r="1.3" fill="#8980b7"/>
<circle cx="323.1" cy="80.8" r="1.1" fill="#8381b7"/>
<ellipse cx="390.7" cy="13.4" rx="4.0" ry="3.7" fill="#968ec4" stroke="#a39bd0" stroke-width="0.5"/>
<circle cx="390.6" cy="14.1" r="1.0" fill="#6c5ca4"/>
<circle cx="391.7" cy="12.8" r="0.7" fill="#685fa4"/>
<circle cx="390.4" cy="14.9" r="1.1" fill="#645ea4"/>
<circle cx="390.0" cy="13.9" r="1.0" fill="#6a60a4"/>
<circle cx="389.4" cy="11.2" r="0.8" fill="#675aa4"/>
<ellipse cx="298.2" cy="80.5" rx="4.2" ry="4.0" fill="#8e85c1" stroke="#a39bd0" stroke-width="0.5"/>
<circle cx="298.7" cy="78.4" r="1.2" fill="#7872ad"/>
<circle cx="298.1" cy="79.8" r="1.2" fill="#6e69ad"/>
<circle cx="298.5" cy="82.8" r="0.8" fill="#7a6cad"/>
<circle cx="300.2" cy="81.8" r="0.8" fill="#6e6ead"/>
<circle cx="297.6" cy="79.5" r="1.1" fill="#796aad"/>
<ellipse cx="310.0" cy="62.2" rx="3.8" ry="4.2" fill="#938bc4" stroke="#a39bd0" stroke-width="0.5"/>
<circle cx="309.0" cy="61.5" r="1.2" fill="#786ba9"/>
<circle cx="312.3" cy="61.8" r="1.1" fill="#7462a9"/>
<circle cx="311.5" cy="61.4" r="0.9" fill="#786ea9"/>
<circle cx="308.6" cy="63.7" r="0.8" fill="#6e6ca9"/>
<circle cx="311.2" cy="61.0" r="0.8" fill="#7865a9"/>
<ellipse cx="388.6" cy="114.9" rx="3.9" ry="4.4" fill="#988fc7" stroke="#a39bd0" stroke-width="0.5"/>
<circle cx="387.9" cy="114.8" r="0.7" fill="#7978b3"/>
<circle cx="389.5" cy="113.6" r="1.0" fill="#7b72b3"/>
<circle cx="389.1" cy="114.1" r="1.2" fill="#8577b3"/>
<circle cx="386.6" cy="114.1" r="1.3" fill="#8375b3"/>
<circle cx="389.9" cy="116.4" r="1.1" fill="#837bb3"/>
<ellipse cx="428.9" cy="86.3" rx="4.1" ry="3.7" fill="#8b83bf" stroke="#a39bd0" stroke-width="0.5"/>
<circle cx="428.0" cy="86.5" r="1.2" fill="#685ca4"/>
<circle cx="428.4" cy="84.6" r="1.2" fill="#6967a4"/>
<circle cx="428.4" cy="87.8" r="0.9" fill="#6869a4"/>
<circle cx="430.8" cy="86.2" r="0.9" fill="#6f5da4"/>
<circle cx="427.0" cy="84.6" r="1.1" fill="#6564a4"/>
<ellipse cx="446.7" cy="40.3" rx="4.1" ry="3.8" fill="#8a82be" stroke="#a39bd0" stroke-width="0.5"/>
<circle cx="445.6" cy="38.4" r="1.1" fill="#6462a4"/>
<circle cx="446.5" cy="39.6" r="1.0" fill="#7069a4"/>
<circle cx="447.3" cy="40.4" r="1.1" fill="#6260a4"/>
<circle cx="445.7" cy="41.0" r="1.0" fill="#6569a4"/>
<circle cx="446.8" cy="41.6" r="0.9" fill="#6a62a4"/>
<ellipse cx="419.2" cy="73.2" rx="3.9" ry="3.6" fill="#9990c7" stroke="#a39bd0" stroke-width="0.5"/>
<circle cx="418.6" cy="71.7" r="0.9" fill="#756aab"/>
<circle cx="419.3" cy="71.8" r="0.9" fill="#716bab"/>
<circle cx="419.9" cy="72.7" r="1.2" fill="#6c68ab"/>
<circle cx="418.4" cy="71.8" r="0.8" fill="#776dab"/>
<circle cx="418.9" cy="73.7" r="0.8" fill="#7070ab"/>
<circle cx="418.7" cy="71.1" r="0.9" fill="#7a67ab"/>
<circle cx="419.5" cy="72.7" r="0.8" fill="#a59cd2"/>
<ellipse cx="367.8" cy="0.1" rx="4.1" ry="3.9" fill="#8880bd" stroke="#a39bd0" stroke-width="0.5"/>
<circle cx="366.4" cy="-1.2" r="1.2" fill="#6e5da4"/>
<circle cx="368.7" cy="-0.0" r="1.2" fill="#655ba4"/>
<circle cx="367.6" cy="-0.9" r="1.3" fill="#6f5aa4"/>
<circle cx="368.6" cy="0.5" r="0.8" fill="#6364a4"/>
<circle cx="366.9" cy="-0.8" r="0.9" fill="#6f5aa4"/>
<circle cx="369.4" cy="-1.3" r="0.8" fill="#6262a4"/>
<ellipse cx="406.9" cy="122.6" rx="4.4" ry="4.5" fill="#968cc6" stroke="#a39bd0" stroke-width="0.5"/>
<circle cx="407.5" cy="123.2" r="1.1" fill="#7f74b1"/>
<circle cx="407.8" cy="124.0" r="0.9" fill="#826bb1"/>
<circle cx="405.6" cy="122.8" r="1.2" fill="#7a6db1"/>
<circle cx="404.7" cy="121.7" r="1.3" fill="#7571b1"/>
<circle cx="406.8" cy="121.1" r="0.8" fill="#837ab1"/>
<circle cx="405.9" cy="122.6" r="1.2" fill="#806bb1"/>
<ellipse cx="339.0" cy="39.1" rx="3.6" ry="3.8" fill="#9189c2" stroke="#a39bd0" stroke-width="0.5"/>
<circle cx="339.2" cy="39.8" r="1.3" fill="#7061a4"/>
<circle cx="338.5" cy="37.5" r="0.7" fill="#6367a4"/>
<circle cx="339.9" cy="41.2" r="1.0" fill="#675ca4"/>
<circle cx="337.4" cy="38.2" r="1.0" fill="#6f5ca4"/>
<circle cx="339.4" cy="38.8" r="0.8" fill="#a59cd2"/>
<ellipse cx="369.1" cy="65.7" rx="4.2" ry="4.5" fill="#9a91c7" stroke="#a39bd0" stroke-width="0.5"/>
<circle cx="368.6" cy="67.1" r="0.7" fill="#7e6bae"/>
<circle cx="370.3" cy="65.4" r="1.1" fill="#7d6bae"/>
<circle cx="371.0" cy="66.9" r="1.2" fill="#7d70ae"/>
<circle cx="367.7" cy="64.2" r="1.2" fill="#776fae"/>
<circle cx="370.1" cy="67.9" r="1.3" fill="#716cae"/>
<circle cx="369.6" cy="67.0" r="0.7" fill="#7a73ae"/>
<circle cx="368.7" cy="66.2" r="0.8" fill="#a59cd2"/>
<ellipse cx="453.5" cy="28.0" rx="3.9" ry="3.7" fill="#968ec4" stroke="#a39bd0" stroke-width="0.5"/>
<circle cx="452.5" cy="27.9" r="1.0" fill="#655aa4"/>
<circle cx="453.0" cy="25.9" r="0.7" fill="#6e63a4"/>
<circle cx="452.0" cy="27.1" r="0.8" fill="#6260a4"/>
<circle cx="451.0" cy="27.8" r="1.0" fill="#665aa4"/>
<ellipse cx="448.2" cy="79.8" rx="3.5" ry="3.8" fill="#9088c1" stroke="#a39bd0" stroke-width="0.5"/>
<circle cx="448.7" cy="80.4" r="0.9" fill="#7064a4"/>
<circle cx="447.7" cy="80.2" r="0.8" fill="#6466a4"/>
<circle cx="448.4" cy="81.6" r="1.3" fill="#7260a4"/>
<circle cx="449.9" cy="81.4" r="0.9" fill="#725ca4"/>
<circle cx="450.6" cy="79.1" r="1.2" fill="#6464a4"/>
<circle cx="449.1" cy="80.0" r="0.9" fill="#6d60a4"/>
<circle cx="447.7" cy="79.7" r="0.8" fill="#a59cd2"/>
<ellipse cx="434.2" cy="61.9" rx="4.4" ry="3.9" fill="#8e86c0" stroke="#a39bd0" stroke-width="0.5"/>
<circle cx="434.7" cy="63.1" r="1.3" fill="#6f69a5"/>
<circle cx="436.0" cy="61.3" r="1.2" fill="#6764a5"/>
<circle cx="435.6" cy="61.2" r="1.1" fill="#6c63a5"/>
<circle cx="435.4" cy="59.8" r="0.7" fill="#7163a5"/>
<ellipse cx="328.8" cy="25.2" rx="3.7" ry="4.2" fill="#948cc3" stroke="#a39bd0" stroke-width="0.5"/>
<circle cx="328.7" cy="24.3" r="1.0" fill="#7062a4"/>
<circle cx="327.9" cy="25.1" r="1.3" fill="#6f60a4"/>
<circle cx="329.0" cy="24.0" r="0.9" fill="#6e60a4"/>
<circle cx="329.8" cy="25.5" r="0.8" fill="#6b64a4"/>
<ellipse cx="299.5" cy="119.8" rx="4.6" ry="4.1" fill="#9b91c8" stroke="#a39bd0" stroke-width="0.5"/>
<circle cx="299.4" cy="121.6" r="1.2" fill="#766fb1"/>
<circle cx="297.4" cy="119.2" r="0.9" fill="#7476b1"/>
<circle cx="299.0" cy="118.5" r="1.2" fill="#7a6db1"/>
<circle cx="299.1" cy="118.9" r="0.9" fill="#766fb1"/>
<circle cx="301.9" cy="119.5" r="1.1" fill="#7977b1"/>
<circle cx="300.9" cy="121.1" r="1.0" fill="#7c76b1"/>
<circle cx="299.7" cy="119.7" r="0.8" fill="#a59cd2"/>
<ellipse cx="327.2" cy="127.0" rx="4.4" ry="4.0" fill="#978ec6" stroke="#a39bd0" stroke-width="0.5"/>
<circle cx="326.6" cy="127.7" r="0.9" fill="#7b72ae"/>
<circle cx="326.2" cy="126.3" r="1.1" fill="#7e67ae"/>
<circle cx="326.8" cy="127.9" r="0.8" fill="#7772ae"/>
<circle cx="327.9" cy="125.0" r="1.0" fill="#7569ae"/>
<ellipse cx="356.9" cy="86.8" rx="3.9" ry="3.9" fill="#988fc7" stroke="#a39bd0" stroke-width="0.5"/>
<circle cx="359.1" cy="86.1" r="1.0" fill="#726bb0"/>
<circle cx="356.1" cy="84.4" r="1.3" fill="#7670b0"/>
<circle cx="357.5" cy="86.0" r="1.3" fill="#7278b0"/>
<circle cx="359.3" cy="86.8" r="0.8" fill="#7373b0"/>
<circle cx="357.6" cy="86.9" r="1.3" fill="#756cb0"/>
<circle cx="354.3" cy="86.9" r="0.9" fill="#806eb0"/>
<circle cx="357.0" cy="87.0" r="0.8" fill="#a59cd2"/>
<ellipse cx="354.5" cy="52.9" rx="3.7" ry="3.5" fill="#928ac3" stroke="#a39bd0" stroke-width="0.5"/>
<circle cx="353.9" cy="53.6" r="1.0" fill="#6c5fa4"/>
<circle cx="355.3" cy="52.9" r="0.9" fill="#6a60a4"/>
<circle cx="353.5" cy="51.0" r="1.1" fill="#6b5fa4"/>
<circle cx="354.6" cy="54.1" r="1.2" fill="#6461a4"/>
<ellipse cx="375.9" cy="52.9" rx="3.6" ry="3.6" fill="#8a81be" stroke="#a39bd0" stroke-width="0.5"/>
<circle cx="377.7" cy="53.7" r="1.3" fill="#6c65a4"/>
<circle cx="375.0" cy="53.0" r="1.1" fill="#7264a4"/>
<circle cx="376.8" cy="54.2" r="1.0" fill="#6466a4"/>
<circle cx="376.5" cy="52.5" r="0.8" fill="#7061a4"/>
<circle cx="376.9" cy="52.5" r="1.3" fill="#665da4"/>
<ellipse cx="359.7" cy="94.0" rx="4.1" ry="4.2" fill="#968dc6" stroke="#a39bd0" stroke-width="0.5"/>
<circle cx="358.5" cy="93.6" r="1.2" fill="#7474af"/>
<circle cx="361.1" cy="95.7" r="0.8" fill="#776aaf"/>
<circle cx="359.6" cy="95.5" r="1.1" fill="#8073af"/>
<circle cx="360.7" cy="94.4" r="1.1" fill="#7a6daf"/>
<circle cx="362.0" cy="94.5" r="0.9" fill="#7973af"/>
<circle cx="359.9" cy="93.5" r="0.8" fill="#a59cd2"/>
<ellipse cx="334.4" cy="32.0" rx="3.7" ry="4.0" fill="#9189c2" stroke="#a39bd0" stroke-width="0.5"/>
<circle cx="333.0" cy="33.2" r="0.8" fill="#695fa4"/>
<circle cx="335.2" cy="32.5" r="1.1" fill="#715ea4"/>
<circle cx="334.9" cy="31.0" r="0.9" fill="#6568a4"/>
<circle cx="336.2" cy="32.9" r="0.8" fill="#715ca4"/>
<circle cx="336.0" cy="33.9" r="0.8" fill="#675fa4"/>
<circle cx="334.1" cy="33.9" r="1.0" fill="#6865a4"/>
<circle cx="334.3" cy="32.2" r="0.8" fill="#a59cd2"/>
<ellipse cx="400.0" cy="107.3" rx="3.8" ry="3.7" fill="#9088c2" stroke="#a39bd0" stroke-width="0.5"/>
<circle cx="398.3" cy="106.2" r="1.0" fill="#745ea6"/>
<circle cx="400.3" cy="108.5" r="1.1" fill="#6963a6"/>
<circle cx="399.3" cy="107.4" r="0.8" fill="#6566a6"/>
<circle cx="399.0" cy="108.1" r="1.2" fill="#6b64a6"/>
<ellipse cx="441.5" cy="46.3" rx="4.2" ry="3.6" fill="#968ec4" stroke="#a39bd0" stroke-width="0.5"/>
<circle cx="440.7" cy="46.4" r="1.1" fill="#6561a4"/>
<circle cx="441.2" cy="45.7" r="1.0" fill="#6d68a4"/>
<circle cx="441.9" cy="46.9" r="0.8" fill="#6668a4"/>
<circle cx="442.2" cy="46.3" r="0.9" fill="#6f65a4"/>
<circle cx="442.5" cy="47.1" r="0.9" fill="#715fa4"/>
<circle cx="441.7" cy="46.1" r="0.8" fill="#a59cd2"/>
<ellipse cx="338.0" cy="1.2" rx="4.3" ry="4.0" fill="#8a82be" stroke="#a39bd0" stroke-width="0.5"/>
<circle cx="338.6" cy="3.2" r="1.2" fill="#6b61a4"/>
<circle cx="339.3" cy="3.1" r="0.9" fill="#655ba4"/>
<circle cx="337.6" cy="-1.0" r="1.2" fill="#675fa4"/>
<circle cx="339.6" cy="3.2" r="0.8" fill="#6d69a4"/>
<circle cx="337.3" cy="2.3" r="0.7" fill="#6e5ca4"/>
<circle cx="336.9" cy="1.5" r="0.7" fill="#6d66a4"/>
<ellipse cx="375.8" cy="81.6" rx="3.6" ry="4.0" fill="#9890c6" stroke="#a39bd0" stroke-width="0.5"/>
<circle cx="375.8" cy="80.7" r="1.0" fill="#7268ab"/>
<circle cx="374.8" cy="79.5" r="0.8" fill="#736cab"/>
<circle cx="374.9" cy="79.6" r="1.1" fill="#6b6eab"/>
<circle cx="377.8" cy="83.2" r="1.0" fill="#7971ab"/>
<circle cx="375.9" cy="80.5" r="1.2" fill="#7372ab"/>
<circle cx="376.1" cy="82.9" r="1.0" fill="#7163ab"/>
<ellipse cx="312.7" cy="39.5" rx="3.6" ry="4.1" fill="#948bc4" stroke="#a39bd0" stroke-width="0.5"/>
<circle cx="310.2" cy="40.1" r="1.0" fill="#776fab"/>
<circle cx="311.6" cy="39.6" r="0.8" fill="#7670ab"/>
<circle cx="314.4" cy="40.0" r="0.9" fill="#776dab"/>
<circle cx="311.9" cy="39.0" r="1.1" fill="#7870ab"/>
<circle cx="312.6" cy="38.7" r="0.7" fill="#6e68ab"/>
<circle cx="312.4" cy="39.8" r="0.8" fill="#a59cd2"/>
<ellipse cx="363.6" cy="32.8" rx="4.0" ry="4.1" fill="#8e86c0" stroke="#a39bd0" stroke-width="0.5"/>
<circle cx="363.7" cy="35.0" r="0.8" fill="#6668a4"/>
<circle cx="364.2" cy="34.7" r="1.2" fill="#645ba4"/>
<circle cx="361.9" cy="32.7" r="1.2" fill="#715ca4"/>
<circle cx="365.4" cy="31.6" r="1.0" fill="#6e5ca4"/>
<circle cx="361.6" cy="32.8" r="1.2" fill="#6c69a4"/>
<circle cx="363.3" cy="31.7" r="1.1" fill="#625aa4"/>
<ellipse cx="408.6" cy="67.2" rx="4.0" ry="4.4" fill="#9b92c8" stroke="#a39bd0" stroke-width="0.5"/>
<circle cx="408.0" cy="66.8" r="1.2" fill="#776aab"/>
<circle cx="408.0" cy="65.9" r="1.0" fill="#746aab"/>
<circle cx="408.0" cy="68.1" r="1.2" fill="#7266ab"/>
<circle cx="410.0" cy="69.4" r="1.0" fill="#7871ab"/>
<circle cx="408.3" cy="66.8" r="0.8" fill="#a59cd2"/>
<ellipse cx="350.3" cy="100.0" rx="4.0" ry="4.5" fill="#978dc7" stroke="#a39bd0" stroke-width="0.5"/>
<circle cx="349.6" cy="100.3" r="1.2" fill="#7873b4"/>
<circle cx="349.2" cy="99.8" r="0.8" fill="#7e76b4"/>
<circle cx="351.0" cy="99.0" r="0.8" fill="#7c73b4"/>
<circle cx="351.5" cy="100.8" r="1.2" fill="#827db4"/>
<circle cx="350.8" cy="99.6" r="1.0" fill="#867eb4"/>
<circle cx="349.7" cy="101.5" r="1.3" fill="#867eb4"/>
<ellipse cx="299.0" cy="11.9" rx="4.3" ry="4.1" fill="#9188c2" stroke="#a39bd0" stroke-width="0.5"/>
<circle cx="300.7" cy="10.2" r="1.1" fill="#656aa5"/>
<circle cx="298.4" cy="11.1" r="0.8" fill="#6565a5"/>
<circle cx="297.7" cy="10.6" r="1.2" fill="#6766a5"/>
<circle cx="297.3" cy="12.1" r="1.2" fill="#726ba5"/>
<circle cx="300.1" cy="11.5" r="1.1" fill="#7267a5"/>
<ellipse cx="458.5" cy="46.7" rx="4.0" ry="4.2" fill="#938bc3" stroke="#a39bd0" stroke-width="0.5"/>
<circle cx="456.7" cy="46.4" r="0.9" fill="#6564a4"/>
<circle cx="460.1" cy="46.5" r="0.9" fill="#7061a4"/>
<circle cx="458.3" cy="44.2" r="1.2" fill="#715da4"/>
<circle cx="460.6" cy="45.4" r="1.1" fill="#705ba4"/>
<circle cx="460.9" cy="46.1" r="1.3" fill="#6e61a4"/>
<circle cx="459.9" cy="47.8" r="0.8" fill="#6567a4"/>
<ellipse cx="450.2" cy="73.1" rx="4.4" ry="4.2" fill="#8981be" stroke="#a39bd0" stroke-width="0.5"/>
<circle cx="449.0" cy="71.1" r="1.2" fill="#675fa5"/>
<circle cx="450.9" cy="73.6" r="0.8" fill="#6d5da5"/>
<circle cx="449.8" cy="71.4" r="1.1" fill="#656aa5"/>
<circle cx="448.6" cy="74.5" r="1.3" fill="#6569a5"/>
<circle cx="450.0" cy="73.1" r="0.8" fill="#a59cd2"/>
<ellipse cx="334.0" cy="115.2" rx="4.1" ry="4.5" fill="#a499cf" stroke="#a39bd0" stroke-width="0.5"/>
<circle cx="335.4" cy="113.1" r="0.8" fill="#9387be"/>
<circle cx="331.4" cy="114.9" r="1.3" fill="#8d89be"/>
<circle cx="335.4" cy="116.9" r="1.3" fill="#8d89be"/>
<circle cx="332.6" cy="114.2" r="1.2" fill="#857fbe"/>
<circle cx="334.0" cy="114.8" r="0.8" fill="#a59cd2"/>
<ellipse cx="317.0" cy="33.4" rx="3.5" ry="3.7" fill="#8c83c0" stroke="#a39bd0" stroke-width="0.5"/>
<circle cx="317.5" cy="34.2" r="0.8" fill="#7364a9"/>
<circle cx="314.9" cy="33.1" r="0.8" fill="#6d6ca9"/>
<circle cx="318.4" cy="32.6" r="0.9" fill="#726aa9"/>
<circle cx="316.7" cy="32.6" r="1.2" fill="#6966a9"/>
<circle cx="317.9" cy="34.2" r="1.3" fill="#6d62a9"/>
<circle cx="316.2" cy="33.1" r="1.2" fill="#706fa9"/>
<ellipse cx="442.7" cy="59.4" rx="3.7" ry="3.7" fill="#948cc3" stroke="#a39bd0" stroke-width="0.5"/>
<circle cx="442.2" cy="60.7" r="1.2" fill="#6566a4"/>
<circle cx="445.1" cy="59.8" r="0.9" fill="#7163a4"/>
<circle cx="442.2" cy="59.0" r="0.7" fill="#725fa4"/>
<circle cx="441.3" cy="57.4" r="0.9" fill="#6469a4"/>
<circle cx="440.8" cy="59.1" r="1.2" fill="#6f5fa4"/>
<circle cx="444.8" cy="60.7" r="1.1" fill="#6c61a4"/>
<ellipse cx="325.0" cy="19.1" rx="4.0" ry="3.7" fill="#948cc3" stroke="#a39bd0" stroke-width="0.5"/>
<circle cx="324.7" cy="20.1" r="1.3" fill="#6b68a4"/>
<circle cx="326.4" cy="19.4" r="0.8" fill="#656aa4"/>
<circle cx="326.4" cy="19.2" r="1.0" fill="#705ca4"/>
<circle cx="326.5" cy="20.4" r="1.0" fill="#7269a4"/>
<circle cx="325.2" cy="17.0" r="1.2" fill="#6e60a4"/>
<circle cx="324.2" cy="19.3" r="1.1" fill="#656aa4"/>
<ellipse cx="358.7" cy="34.5" rx="4.4" ry="4.2" fill="#8b83bf" stroke="#a39bd0" stroke-width="0.5"/>
<circle cx="357.7" cy="33.2" r="0.7" fill="#685ca4"/>
<circle cx="357.3" cy="32.4" r="0.9" fill="#6a62a4"/>
<circle cx="360.1" cy="34.9" r="1.0" fill="#6d5ca4"/>
<circle cx="359.4" cy="36.5" r="1.2" fill="#6a60a4"/>
<circle cx="357.6" cy="33.5" r="1.2" fill="#6f64a4"/>
<ellipse cx="349.8" cy="75.5" rx="4.2" ry="4.6" fill="#9c92ca" stroke="#a39bd0" stroke-width="0.5"/>
<circle cx="351.5" cy="74.7" r="0.9" fill="#857bb5"/>
<circle cx="348.4" cy="75.5" r="0.9" fill="#8676b5"/>
<circle cx="350.1" cy="74.6" r="1.3" fill="#7c75b5"/>
<circle cx="348.9" cy="75.3" r="1.2" fill="#7d7bb5"/>
<circle cx="348.1" cy="74.4" r="1.2" fill="#8076b5"/>
<circle cx="348.2" cy="74.1" r="1.0" fill="#7d73b5"/>
<circle cx="349.3" cy="75.0" r="0.8" fill="#a59cd2"/>
<ellipse cx="333.3" cy="7.1" rx="3.8" ry="3.6" fill="#8c84bf" stroke="#a39bd0" stroke-width="0.5"/>
<circle cx="333.6" cy="6.0" r="1.3" fill="#6469a4"/>
<circle cx="333.0" cy="5.8" r="1.3" fill="#6b5ba4"/>
<circle cx="335.7" cy="6.9" r="1.0" fill="#6860a4"/>
<circle cx="331.1" cy="7.6" r="1.1" fill="#6e68a4"/>
<circle cx="334.3" cy="8.6" r="0.8" fill="#6265a4"/>
<circle cx="334.9" cy="5.7" r="1.2" fill="#6e64a4"/>
<circle cx="333.6" cy="7.2" r="0.8" fill="#a59cd2"/>
<ellipse cx="438.5" cy="53.2" rx="4.0" ry="3.9" fill="#8b83bf" stroke="#a39bd0" stroke-width="0.5"/>
<circle cx="439.2" cy="54.0" r="1.3" fill="#6867a4"/>
<circle cx="438.8" cy="53.8" r="1.0" fill="#6e67a4"/>
<circle cx="437.3" cy="51.7" r="1.0" fill="#6d67a4"/>
<circle cx="440.5" cy="52.5" r="0.8" fill="#6a5fa4"/>
<circle cx="439.3" cy="54.3" r="0.7" fill="#6968a4"/>
<circle cx="437.6" cy="52.9" r="0.9" fill="#6761a4"/>
<ellipse cx="449.8" cy="47.9" rx="4.1" ry="4.1" fill="#8f87c1" stroke="#a39bd0" stroke-width="0.5"/>
<circle cx="450.2" cy="48.2" r="1.3" fill="#6c63a4"/>
<circle cx="449.0" cy="48.1" r="1.3" fill="#6f63a4"/>
<circle cx="449.1" cy="48.9" r="0.7" fill="#645ba4"/>
<circle cx="450.2" cy="46.9" r="0.8" fill="#6569a4"/>
<circle cx="448.8" cy="47.4" r="1.0" fill="#7066a4"/>
<circle cx="449.8" cy="47.5" r="0.8" fill="#a59cd2"/>
<ellipse cx="358.0" cy="20.9" rx="4.3" ry="4.3" fill="#8e86c0" stroke="#a39bd0" stroke-width="0.5"/>
<circle cx="357.7" cy="19.9" r="0.7" fill="#6468a4"/>
<circle cx="358.9" cy="19.6" r="1.1" fill="#625ba4"/>
<circle cx="358.6" cy="21.8" r="1.3" fill="#6566a4"/>
<circle cx="358.8" cy="23.0" r="1.2" fill="#6565a4"/>
<circle cx="357.6" cy="21.4" r="0.8" fill="#a59cd2"/>
<ellipse cx="298.5" cy="27.1" rx="4.1" ry="4.1" fill="#8e85c0" stroke="#a39bd0" stroke-width="0.5"/>
<circle cx="298.6" cy="28.3" r="1.1" fill="#6b67a6"/>
<circle cx="297.6" cy="25.8" r="1.1" fill="#6c6aa6"/>
<circle cx="297.7" cy="27.2" r="1.0" fill="#6c63a6"/>
<circle cx="297.2" cy="28.0" r="0.9" fill="#6b67a6"/>
<circle cx="299.3" cy="28.8" r="1.2" fill="#6b63a6"/>
<circle cx="299.1" cy="26.8" r="1.3" fill="#6b61a6"/>
<ellipse cx="347.8" cy="126.7" rx="3.8" ry="4.1" fill="#978ec6" stroke="#a39bd0" stroke-width="0.5"/>
<circle cx="348.7" cy="126.9" r="1.0" fill="#7175af"/>
<circle cx="347.7" cy="124.4" r="1.2" fill="#776eaf"/>
<circle cx="347.8" cy="126.1" r="0.7" fill="#7676af"/>
<circle cx="349.9" cy="126.7" r="0.8" fill="#7e6daf"/>
<circle cx="349.7" cy="127.9" r="0.9" fill="#7868af"/>
<ellipse cx="425.9" cy="34.7" rx="3.5" ry="3.5" fill="#8b83bf" stroke="#a39bd0" stroke-width="0.5"/>
<circle cx="425.9" cy="32.7" r="0.8" fill="#6367a4"/>
<circle cx="425.7" cy="33.7" r="0.7" fill="#6c5fa4"/>
<circle cx="424.8" cy="36.4" r="0.8" fill="#685fa4"/>
<circle cx="424.2" cy="33.1" r="1.0" fill="#695ca4"/>
<ellipse cx="334.1" cy="21.3" rx="4.3" ry="4.1" fill="#9189c2" stroke="#a39bd0" stroke-width="0.5"/>
<circle cx="336.2" cy="21.3" r="0.9" fill="#6a5ca4"/>
<circle cx="334.3" cy="22.1" r="0.8" fill="#6f5da4"/>
<circle cx="333.4" cy="21.9" r="1.1" fill="#6364a4"/>
<circle cx="335.5" cy="21.8" r="0.9" fill="#6565a4"/>
<circle cx="331.7" cy="21.3" r="0.7" fill="#6366a4"/>
<circle cx="333.6" cy="21.3" r="0.8" fill="#a59cd2"/>
<ellipse cx="399.9" cy="28.2" rx="3.9" ry="4.0" fill="#9088c1" stroke="#a39bd0" stroke-width="0.5"/>
<circle cx="398.9" cy="29.8" r="1.0" fill="#685ca4"/>
<circle cx="401.4" cy="28.0" r="1.1" fill="#6b5ea4"/>
<circle cx="399.4" cy="28.6" r="1.0" fill="#6461a4"/>
<circle cx="399.1" cy="27.4" r="1.0" fill="#7065a4"/>
<ellipse cx="416.9" cy="81.3" rx="3.6" ry="4.0" fill="#948bc3" stroke="#a39bd0" stroke-width="0.5"/>
<circle cx="416.6" cy="82.3" r="1.1" fill="#6c6da6"/>
<circle cx="416.0" cy="81.7" r="0.9" fill="#7268a6"/>
<circle cx="418.5" cy="81.3" r="1.1" fill="#6869a6"/>
<circle cx="418.4" cy="81.8" r="0.8" fill="#7465a6"/>
<circle cx="417.6" cy="81.7" r="1.1" fill="#6a69a6"/>
<circle cx="417.6" cy="80.9" r="0.8" fill="#6d5ea6"/>
<ellipse cx="434.6" cy="33.7" rx="3.9" ry="4.2" fill="#948cc3" stroke="#a39bd0" stroke-width="0.5"/>
<circle cx="435.9" cy="35.6" r="0.7" fill="#6468a4"/>
<circle cx="434.1" cy="35.5" r="0.9" fill="#6a5aa4"/>
<circle cx="436.9" cy="33.3" r="0.8" fill="#6a5ca4"/>
<circle cx="434.9" cy="36.0" r="0.8" fill="#6e5ba4"/>
<circle cx="435.5" cy="31.9" r="0.8" fill="#6765a4"/>
<circle cx="434.9" cy="33.7" r="0.8" fill="#a59cd2"/>
<ellipse cx="391.1" cy="67.4" rx="4.0" ry="4.0" fill="#9087c3" stroke="#a39bd0" stroke-width="0.5"/>
<circle cx="392.0" cy="67.8" r="0.8" fill="#7271af"/>
<circle cx="390.9" cy="68.9" r="1.3" fill="#716daf"/>
<circle cx="392.1" cy="66.9" r="1.2" fill="#796faf"/>
<circle cx="391.1" cy="65.5" r="1.3" fill="#716daf"/>
<circle cx="393.2" cy="68.0" r="0.9" fill="#7f73af"/>
<circle cx="389.5" cy="67.0" r="1.2" fill="#7a6aaf"/>
<ellipse cx="430.0" cy="66.6" rx="4.2" ry="3.6" fill="#9087c2" stroke="#a39bd0" stroke-width="0.5"/>
<circle cx="429.2" cy="65.7" r="0.9" fill="#7566a7"/>
<circle cx="431.2" cy="66.3" r="0.9" fill="#7164a7"/>
<circle cx="428.2" cy="67.3" r="1.2" fill="#6e6da7"/>
<circle cx="428.9" cy="66.4" r="0.8" fill="#7466a7"/>
<circle cx="431.3" cy="65.9" r="1.3" fill="#6c6da7"/>
<ellipse cx="330.0" cy="39.3" rx="4.4" ry="4.1" fill="#968ec5" stroke="#a39bd0" stroke-width="0.5"/>
<circle cx="328.3" cy="39.3" r="1.3" fill="#6e5ca4"/>
<circle cx="330.8" cy="39.2" r="1.1" fill="#6a5aa4"/>
<circle cx="330.8" cy="40.3" r="0.9" fill="#6765a4"/>
<circle cx="329.8" cy="37.6" r="0.9" fill="#705da4"/>
<ellipse cx="399.2" cy="121.8" rx="4.1" ry="4.5" fill="#998fc8" stroke="#a39bd0" stroke-width="0.5"/>
<circle cx="400.9" cy="122.1" r="1.1" fill="#7f76b4"/>
<circle cx="397.9" cy="122.3" r="1.0" fill="#7b70b4"/>
<circle cx="397.9" cy="121.6" r="1.0" fill="#7977b4"/>
<circle cx="400.6" cy="122.0" r="1.3" fill="#7c76b4"/>
<circle cx="399.2" cy="122.3" r="0.8" fill="#a59cd2"/>
<ellipse cx="330.2" cy="68.5" rx="4.2" ry="4.4" fill="#9990c8" stroke="#a39bd0" stroke-width="0.5"/>
<circle cx="331.8" cy="67.1" r="1.2" fill="#7573b0"/>
<circle cx="329.9" cy="70.1" r="0.8" fill="#7d69b0"/>
<circle cx="329.2" cy="67.8" r="1.0" fill="#7e6cb0"/>
<circle cx="329.4" cy="69.0" r="0.8" fill="#7f6eb0"/>
<circle cx="329.6" cy="70.5" r="1.0" fill="#7c6cb0"/>
<circle cx="330.4" cy="69.7" r="0.7" fill="#7d6db0"/>
<ellipse cx="372.4" cy="101.2" rx="3.8" ry="3.6" fill="#9289c3" stroke="#a39bd0" stroke-width="0.5"/>
<circle cx="372.9" cy="100.6" r="1.1" fill="#7568a8"/>
<circle cx="371.9" cy="99.1" r="0.8" fill="#6d61a8"/>
<circle cx="370.8" cy="101.0" r="1.0" fill="#7062a8"/>
<circle cx="372.2" cy="101.8" r="0.8" fill="#7366a8"/>
<ellipse cx="404.9" cy="21.6" rx="3.9" ry="3.7" fill="#8d85c0" stroke="#a39bd0" stroke-width="0.5"/>
<circle cx="404.0" cy="23.5" r="0.9" fill="#7160a4"/>
<circle cx="405.1" cy="22.3" r="0.9" fill="#6e65a4"/>
<circle cx="402.8" cy="22.8" r="0.9" fill="#655da4"/>
<circle cx="404.9" cy="19.9" r="1.0" fill="#655aa4"/>
<ellipse cx="383.0" cy="-1.1" rx="3.5" ry="3.9" fill="#9189c2" stroke="#a39bd0" stroke-width="0.5"/>
<circle cx="380.6" cy="-1.8" r="0.9" fill="#6263a4"/>
<circle cx="382.4" cy="-1.0" r="0.9" fill="#6267a4"/>
<circle cx="384.0" cy="-0.2" r="1.2" fill="#6c5aa4"/>
<circle cx="382.4" cy="-0.2" r="0.8" fill="#6f61a4"/>
<circle cx="383.2" cy="-1.1" r="0.8" fill="#a59cd2"/>
<ellipse cx="363.5" cy="128.4" rx="3.8" ry="3.7" fill="#978ec5" stroke="#a39bd0" stroke-width="0.5"/>
<circle cx="363.8" cy="129.6" r="1.1" fill="#6b6caa"/>
<circle cx="364.1" cy="127.7" r="1.0" fill="#7666aa"/>
<circle cx="361.5" cy="128.2" r="1.2" fill="#6b68aa"/>
<circle cx="363.5" cy="129.1" r="1.2" fill="#7167aa"/>
<circle cx="361.5" cy="128.6" r="1.1" fill="#7563aa"/>
<ellipse cx="380.8" cy="48.3" rx="3.9" ry="3.6" fill="#9189c2" stroke="#a39bd0" stroke-width="0.5"/>
<circle cx="379.4" cy="46.3" r="1.1" fill="#715aa4"/>
<circle cx="382.5" cy="49.5" r="1.2" fill="#7160a4"/>
<circle cx="380.4" cy="46.8" r="0.9" fill="#705ea4"/>
<circle cx="381.2" cy="47.0" r="1.1" fill="#6363a4"/>
<circle cx="379.9" cy="49.0" r="1.1" fill="#6666a4"/>
<circle cx="381.2" cy="48.3" r="0.8" fill="#a59cd2"/>
<ellipse cx="385.4" cy="106.7" rx="3.9" ry="4.2" fill="#9890c6" stroke="#a39bd0" stroke-width="0.5"/>
<circle cx="384.4" cy="105.8" r="1.0" fill="#7265a7"/>
<circle cx="383.9" cy="105.5" r="0.9" fill="#6863a7"/>
<circle cx="382.9" cy="106.1" r="1.0" fill="#7464a7"/>
<circle cx="385.5" cy="108.8" r="1.2" fill="#6c60a7"/>
<circle cx="385.1" cy="105.5" r="1.1" fill="#7268a7"/>
<ellipse cx="402.5" cy="34.2" rx="4.0" ry="3.8" fill="#9088c1" stroke="#a39bd0" stroke-width="0.5"/>
<circle cx="400.9" cy="34.3" r="1.2" fill="#6261a4"/>
<circle cx="404.4" cy="34.4" r="1.1" fill="#6362a4"/>
<circle cx="404.4" cy="34.9" r="0.9" fill="#635fa4"/>
<circle cx="400.5" cy="34.1" r="0.7" fill="#6c61a4"/>
<circle cx="403.4" cy="33.0" r="1.2" fill="#705aa4"/>
<circle cx="401.8" cy="32.8" r="0.8" fill="#6a5fa4"/>
<ellipse cx="456.1" cy="121.3" rx="3.9" ry="4.1" fill="#938ac5" stroke="#a39bd0" stroke-width="0.5"/>
<circle cx="454.0" cy="121.8" r="0.9" fill="#7b7db3"/>
<circle cx="456.0" cy="122.6" r="0.8" fill="#7f72b3"/>
<circle cx="456.5" cy="120.7" r="1.0" fill="#7d72b3"/>
<circle cx="454.9" cy="120.4" r="1.0" fill="#7a6eb3"/>
<circle cx="457.3" cy="120.2" r="1.2" fill="#8172b3"/>
<circle cx="455.5" cy="123.2" r="1.1" fill="#7b6fb3"/>
<ellipse cx="306.1" cy="67.4" rx="4.3" ry="4.2" fill="#9a91c7" stroke="#a39bd0" stroke-width="0.5"/>
<circle cx="306.7" cy="65.7" r="1.0" fill="#7865aa"/>
<circle cx="306.6" cy="68.6" r="1.0" fill="#6a69aa"/>
<circle cx="305.2" cy="67.7" r="1.0" fill="#6b72aa"/>
<circle cx="307.0" cy="67.9" r="1.1" fill="#7663aa"/>
<circle cx="305.1" cy="69.7" r="0.9" fill="#6d70aa"/>
<ellipse cx="345.1" cy="1.3" rx="4.4" ry="3.9" fill="#928ac2" stroke="#a39bd0" stroke-width="0.5"/>
<circle cx="344.9" cy="3.0" r="1.3" fill="#685ca4"/>
<circle cx="343.2" cy="2.4" r="1.0" fill="#675fa4"/>
<circle cx="345.3" cy="2.0" r="1.0" fill="#685fa4"/>
<circle cx="345.7" cy="1.6" r="0.7" fill="#675ea4"/>
<circle cx="343.0" cy="0.9" r="1.0" fill="#6969a4"/>
<circle cx="346.6" cy="1.4" r="1.1" fill="#6c64a4"/>
<circle cx="345.3" cy="1.0" r="0.8" fill="#a59cd2"/>
<ellipse cx="306.4" cy="106.4" rx="3.8" ry="3.4" fill="#9188c4" stroke="#a39bd0" stroke-width="0.5"/>
<circle cx="306.5" cy="108.0" r="1.3" fill="#796db3"/>
<circle cx="305.8" cy="108.1" r="0.8" fill="#8379b3"/>
<circle cx="304.6" cy="108.0" r="1.0" fill="#7b77b3"/>
<circle cx="306.5" cy="104.5" r="0.9" fill="#7b7ab3"/>
<circle cx="305.6" cy="108.2" r="1.2" fill="#7974b3"/>
<circle cx="306.6" cy="107.6" r="0.8" fill="#7d76b3"/>
<circle cx="306.2" cy="106.3" r="0.8" fill="#a59cd2"/>
<ellipse cx="389.6" cy="99.7" rx="4.2" ry="3.9" fill="#8e86c0" stroke="#a39bd0" stroke-width="0.5"/>
<circle cx="390.2" cy="98.0" r="1.1" fill="#7064a5"/>
<circle cx="389.4" cy="100.3" r="1.2" fill="#6c60a5"/>
<circle cx="388.5" cy="99.7" r="1.1" fill="#645fa5"/>
<circle cx="388.9" cy="99.4" r="1.3" fill="#6a61a5"/>
<circle cx="390.9" cy="97.9" r="0.9" fill="#6769a5"/>
<circle cx="388.3" cy="97.8" r="0.9" fill="#676aa5"/>
<ellipse cx="426.4" cy="61.9" rx="3.9" ry="4.5" fill="#8a82bf" stroke="#a39bd0" stroke-width="0.5"/>
<circle cx="428.6" cy="63.3" r="1.2" fill="#7068a5"/>
<circle cx="427.2" cy="62.2" r="0.7" fill="#6464a5"/>
<circle cx="428.6" cy="63.0" r="1.0" fill="#6668a5"/>
<circle cx="425.3" cy="63.3" r="1.0" fill="#6f61a5"/>
<circle cx="425.7" cy="60.2" r="0.8" fill="#6961a5"/>
<ellipse cx="424.3" cy="106.6" rx="3.5" ry="3.5" fill="#8b83bf" stroke="#a39bd0" stroke-width="0.5"/>
<circle cx="423.0" cy="107.7" r="1.2" fill="#6762a5"/>
<circle cx="425.3" cy="105.8" r="0.9" fill="#645ea5"/>
<circle cx="424.7" cy="107.6" r="1.2" fill="#6e69a5"/>
<circle cx="422.7" cy="106.3" r="0.8" fill="#6e5ea5"/>
<ellipse cx="318.4" cy="47.2" rx="3.8" ry="3.9" fill="#8e86c1" stroke="#a39bd0" stroke-width="0.5"/>
<circle cx="318.3" cy="49.2" r="0.8" fill="#755ea7"/>
<circle cx="318.0" cy="45.1" r="1.2" fill="#6763a7"/>
<circle cx="318.8" cy="48.5" r="1.2" fill="#7565a7"/>
<circle cx="316.7" cy="47.1" r="1.2" fill="#6e66a7"/>
<circle cx="319.2" cy="48.0" r="1.3" fill="#7366a7"/>
<ellipse cx="415.7" cy="14.2" rx="3.5" ry="3.9" fill="#938bc3" stroke="#a39bd0" stroke-width="0.5"/>
<circle cx="414.5" cy="14.1" r="1.2" fill="#6464a4"/>
<circle cx="414.1" cy="14.3" r="0.8" fill="#6769a4"/>
<circle cx="416.6" cy="13.4" r="1.0" fill="#6460a4"/>
<circle cx="416.6" cy="14.6" r="1.2" fill="#6a5da4"/>
<circle cx="415.3" cy="14.7" r="0.8" fill="#a59cd2"/>
<ellipse cx="422.5" cy="14.3" rx="4.1" ry="4.1" fill="#958dc4" stroke="#a39bd0" stroke-width="0.5"/>
<circle cx="421.4" cy="14.0" r="0.8" fill="#6468a4"/>
<circle cx="423.9" cy="14.6" r="0.8" fill="#6662a4"/>
<circle cx="421.3" cy="14.5" r="0.8" fill="#6568a4"/>
<circle cx="423.4" cy="12.0" r="1.2" fill="#6b65a4"/>
<circle cx="424.3" cy="13.2" r="1.0" fill="#675da4"/>
<ellipse cx="357.5" cy="128.8" rx="4.0" ry="4.4" fill="#9088c2" stroke="#a39bd0" stroke-width="0.5"/>
<circle cx="356.7" cy="128.6" r="1.0" fill="#6e66aa"/>
<circle cx="356.1" cy="128.6" r="0.8" fill="#796faa"/>
<circle cx="357.5" cy="127.1" r="1.0" fill="#6b66aa"/>
<circle cx="355.8" cy="130.1" r="0.7" fill="#7665aa"/>
<circle cx="357.2" cy="130.6" r="0.9" fill="#7870aa"/>
<circle cx="358.4" cy="128.9" r="0.7" fill="#7270aa"/>
<circle cx="357.3" cy="129.1" r="0.8" fill="#a59cd2"/>
<ellipse cx="454.6" cy="38.7" rx="3.6" ry="4.2" fill="#8981be" stroke="#a39bd0" stroke-width="0.5"/>
<circle cx="454.9" cy="37.2" r="0.8" fill="#655ba4"/>
<circle cx="455.6" cy="39.7" r="1.2" fill="#6367a4"/>
<circle cx="453.1" cy="36.6" r="1.2" fill="#6c67a4"/>
<circle cx="452.6" cy="39.9" r="1.0" fill="#6c63a4"/>
<circle cx="454.4" cy="39.7" r="1.1" fill="#6563a4"/>
<circle cx="454.5" cy="38.8" r="0.8" fill="#a59cd2"/>
<ellipse cx="446.9" cy="67.6" rx="4.0" ry="4.4" fill="#8f86c1" stroke="#a39bd0" stroke-width="0.5"/>
<circle cx="446.2" cy="66.3" r="1.3" fill="#6764a5"/>
<circle cx="448.2" cy="68.7" r="0.8" fill="#6c60a5"/>
<circle cx="445.9" cy="66.8" r="1.3" fill="#6d63a5"/>
<circle cx="445.9" cy="69.2" r="1.0" fill="#6d62a5"/>
<ellipse cx="388.9" cy="46.2" rx="4.2" ry="4.5" fill="#8f87c1" stroke="#a39bd0" stroke-width="0.5"/>
<circle cx="387.8" cy="45.3" r="0.9" fill="#695aa4"/>
<circle cx="388.2" cy="45.9" r="1.3" fill="#6c62a4"/>
<circle cx="387.1" cy="46.5" r="0.8" fill="#6e69a4"/>
<circle cx="388.4" cy="43.7" r="1.0" fill="#6a5fa4"/>
<circle cx="388.9" cy="47.0" r="0.9" fill="#675aa4"/>
<ellipse cx="322.0" cy="106.5" rx="3.8" ry="3.5" fill="#9e94cb" stroke="#a39bd0" stroke-width="0.5"/>
<circle cx="320.3" cy="108.2" r="0.8" fill="#837aba"/>
<circle cx="322.6" cy="104.8" r="1.0" fill="#8479ba"/>
<circle cx="323.0" cy="107.1" r="1.2" fill="#8181ba"/>
<circle cx="321.3" cy="105.9" r="1.0" fill="#7f76ba"/>
<ellipse cx="427.4" cy="21.5" rx="4.3" ry="3.8" fill="#8c84bf" stroke="#a39bd0" stroke-width="0.5"/>
<circle cx="426.9" cy="20.9" r="1.3" fill="#7063a4"/>
<circle cx="425.6" cy="21.2" r="0.8" fill="#6963a4"/>
<circle cx="427.3" cy="20.8" r="1.1" fill="#6c5ca4"/>
<circle cx="427.7" cy="20.8" r="0.9" fill="#635fa4"/>
<ellipse cx="442.1" cy="19.4" rx="3.9" ry="4.6" fill="#8981be" stroke="#a39bd0" stroke-width="0.5"/>
<circle cx="443.6" cy="19.3" r="1.0" fill="#685aa4"/>
<circle cx="443.5" cy="19.1" r="1.3" fill="#6d5da4"/>
<circle cx="442.9" cy="20.3" r="1.0" fill="#6b64a4"/>
<circle cx="441.6" cy="21.0" r="1.1" fill="#6c67a4"/>
<circle cx="439.9" cy="20.7" r="0.9" fill="#6a64a4"/>
<circle cx="441.9" cy="19.8" r="0.8" fill="#a59cd2"/>
<ellipse cx="412.2" cy="60.0" rx="3.9" ry="4.3" fill="#8c84bf" stroke="#a39bd0" stroke-width="0.5"/>
<circle cx="412.6" cy="61.4" r="1.2" fill="#726aa5"/>
<circle cx="413.1" cy="58.9" r="0.7" fill="#6864a5"/>
<circle cx="413.1" cy="59.5" r="0.8" fill="#6665a5"/>
<circle cx="412.9" cy="58.6" r="0.9" fill="#6c6aa5"/>
<ellipse cx="301.6" cy="35.0" rx="3.7" ry="4.0" fill="#9087c2" stroke="#a39bd0" stroke-width="0.5"/>
<circle cx="303.8" cy="36.2" r="1.2" fill="#6b69a8"/>
<circle cx="302.5" cy="35.6" r="0.7" fill="#756ea8"/>
<circle cx="299.9" cy="33.9" r="1.1" fill="#6c6ca8"/>
<circle cx="300.8" cy="35.4" r="0.9" fill="#756fa8"/>
<circle cx="301.1" cy="33.3" r="0.8" fill="#7262a8"/>
<circle cx="301.7" cy="34.3" r="0.8" fill="#686da8"/>
<circle cx="301.8" cy="34.6" r="0.8" fill="#a59cd2"/>
<ellipse cx="354.1" cy="94.5" rx="4.4" ry="4.0" fill="#9c92c9" stroke="#a39bd0" stroke-width="0.5"/>
<circle cx="354.9" cy="94.3" r="1.1" fill="#7b75b2"/>
<circle cx="352.9" cy="93.0" r="1.2" fill="#7775b2"/>
<circle cx="354.2" cy="93.8" r="0.8" fill="#8073b2"/>
<circle cx="354.1" cy="95.8" r="0.9" fill="#766eb2"/>
<circle cx="354.9" cy="95.5" r="0.8" fill="#7f71b2"/>
<ellipse cx="410.4" cy="115.1" rx="4.2" ry="3.6" fill="#9389c4" stroke="#a39bd0" stroke-width="0.5"/>
<circle cx="409.1" cy="113.8" r="0.9" fill="#756cb0"/>
<circle cx="410.8" cy="116.7" r="1.1" fill="#7e6db0"/>
<circle cx="410.1" cy="116.0" r="0.8" fill="#7d76b0"/>
<circle cx="412.7" cy="115.7" r="1.0" fill="#7b73b0"/>
<circle cx="410.7" cy="115.6" r="1.1" fill="#7877b0"/>
<ellipse cx="401.2" cy="13.9" rx="4.0" ry="4.1" fill="#938bc3" stroke="#a39bd0" stroke-width="0.5"/>
<circle cx="400.2" cy="11.6" r="1.3" fill="#6662a4"/>
<circle cx="402.4" cy="13.0" r="0.8" fill="#6661a4"/>
<circle cx="398.9" cy="14.4" r="1.0" fill="#6365a4"/>
<circle cx="399.6" cy="12.3" r="0.8" fill="#6a66a4"/>
<circle cx="400.7" cy="13.4" r="0.9" fill="#6e61a4"/>
<circle cx="401.3" cy="14.6" r="1.3" fill="#6560a4"/>
<ellipse cx="391.1" cy="39.0" rx="4.3" ry="4.5" fill="#8b83bf" stroke="#a39bd0" stroke-width="0.5"/>
<circle cx="390.2" cy="40.1" r="0.9" fill="#6d61a4"/>
<circle cx="391.4" cy="40.5" r="0.8" fill="#6a64a4"/>
<circle cx="389.9" cy="39.3" r="0.8" fill="#6763a4"/>
<circle cx="392.5" cy="39.0" r="1.1" fill="#6865a4"/>
<circle cx="390.4" cy="39.0" r="0.9" fill="#705ea4"/>
<ellipse cx="429.8" cy="26.0" rx="3.8" ry="3.9" fill="#968ec4" stroke="#a39bd0" stroke-width="0.5"/>
<circle cx="430.8" cy="25.4" r="0.9" fill="#635ba4"/>
<circle cx="429.8" cy="25.2" r="0.9" fill="#6c68a4"/>
<circle cx="429.8" cy="24.3" r="0.8" fill="#6c66a4"/>
<circle cx="432.2" cy="26.9" r="0.9" fill="#6669a4"/>
<circle cx="430.2" cy="25.7" r="0.8" fill="#a59cd2"/>
<ellipse cx="414.0" cy="95.7" rx="3.9" ry="3.5" fill="#8e86c0" stroke="#a39bd0" stroke-width="0.5"/>
<circle cx="415.6" cy="95.2" r="1.3" fill="#7165a4"/>
<circle cx="415.7" cy="95.7" r="1.2" fill="#6a62a4"/>
<circle cx="414.3" cy="93.1" r="1.1" fill="#645ca4"/>
<circle cx="414.6" cy="95.8" r="1.3" fill="#6769a4"/>
<circle cx="416.2" cy="96.1" r="0.8" fill="#6368a4"/>
<circle cx="411.7" cy="94.9" r="0.8" fill="#6269a4"/>
<ellipse cx="457.1" cy="32.6" rx="4.0" ry="3.8" fill="#8880bd" stroke="#a39bd0" stroke-width="0.5"/>
<circle cx="457.6" cy="32.0" r="1.0" fill="#6763a4"/>
<circle cx="455.5" cy="33.5" r="1.0" fill="#6a5ba4"/>
<circle cx="458.4" cy="31.5" r="0.7" fill="#6d5ea4"/>
<circle cx="457.4" cy="31.6" r="1.1" fill="#6a5ca4"/>
<circle cx="457.4" cy="32.1" r="1.1" fill="#7063a4"/>
<circle cx="457.4" cy="32.3" r="0.8" fill="#a59cd2"/>
<ellipse cx="314.3" cy="26.9" rx="4.2" ry="4.0" fill="#938ac4" stroke="#a39bd0" stroke-width="0.5"/>
<circle cx="315.0" cy="28.1" r="0.8" fill="#7465ab"/>
<circle cx="313.5" cy="25.9" r="1.3" fill="#6d64ab"/>
<circle cx="315.5" cy="25.1" r="0.9" fill="#7768ab"/>
<circle cx="313.5" cy="28.0" r="1.2" fill="#6c6eab"/>
<circle cx="312.9" cy="27.1" r="0.9" fill="#766fab"/>
<circle cx="314.3" cy="24.5" r="0.8" fill="#6f69ab"/>
<ellipse cx="396.5" cy="114.6" rx="4.3" ry="4.5" fill="#9f95ca" stroke="#a39bd0" stroke-width="0.5"/>
<circle cx="395.4" cy="114.1" r="1.0" fill="#8175b1"/>
<circle cx="394.6" cy="115.2" r="0.7" fill="#7479b1"/>
<circle cx="397.4" cy="116.7" r="0.9" fill="#7a78b1"/>
<circle cx="397.3" cy="114.4" r="0.9" fill="#7c6db1"/>
<ellipse cx="359.9" cy="108.8" rx="4.1" ry="4.0" fill="#9188c3" stroke="#a39bd0" stroke-width="0.5"/>
<circle cx="358.2" cy="108.4" r="0.8" fill="#7a6cb0"/>
<circle cx="359.9" cy="108.1" r="1.3" fill="#7a77b0"/>
<circle cx="359.6" cy="106.8" r="0.9" fill="#7670b0"/>
<circle cx="358.4" cy="110.0" r="0.8" fill="#7870b0"/>
<circle cx="360.4" cy="108.3" r="0.9" fill="#8071b0"/>
<circle cx="362.3" cy="108.5" r="0.9" fill="#7174b0"/>
<ellipse cx="451.6" cy="101.0" rx="3.9" ry="4.6" fill="#9189c2" stroke="#a39bd0" stroke-width="0.5"/>
<circle cx="451.8" cy="100.3" r="0.8" fill="#7162a4"/>
<circle cx="453.2" cy="100.9" r="0.7" fill="#6468a4"/>
<circle cx="451.6" cy="100.0" r="1.2" fill="#625ca4"/>
<circle cx="451.0" cy="100.5" r="1.2" fill="#6f65a4"/>
<circle cx="450.0" cy="100.2" r="0.8" fill="#6b67a4"/>
<ellipse cx="345.2" cy="40.3" rx="4.2" ry="4.5" fill="#928ac2" stroke="#a39bd0" stroke-width="0.5"/>
<circle cx="344.4" cy="41.6" r="1.1" fill="#665aa4"/>
<circle cx="343.3" cy="39.2" r="0.8" fill="#6e5ca4"/>
<circle cx="346.7" cy="41.8" r="0.9" fill="#6369a4"/>
<circle cx="343.3" cy="39.0" r="1.1" fill="#715fa4"/>
<circle cx="343.6" cy="39.7" r="1.0" fill="#6b69a4"/>
<circle cx="344.4" cy="42.4" r="1.2" fill="#6c5ea4"/>
<circle cx="345.2" cy="40.1" r="0.8" fill="#a59cd2"/>
<ellipse cx="329.2" cy="119.9" rx="4.2" ry="4.3" fill="#a197cd" stroke="#a39bd0" stroke-width="0.5"/>
<circle cx="329.2" cy="118.1" r="0.8" fill="#8278bc"/>
<circle cx="329.2" cy="119.2" r="0.7" fill="#8479bc"/>
<circle cx="328.2" cy="122.3" r="0.8" fill="#8587bc"/>
<circle cx="328.2" cy="119.1" r="1.0" fill="#817dbc"/>
<circle cx="328.1" cy="118.3" r="1.0" fill="#8387bc"/>
<ellipse cx="349.7" cy="114.4" rx="3.9" ry="4.1" fill="#a297cd" stroke="#a39bd0" stroke-width="0.5"/>
<circle cx="349.6" cy="116.8" r="0.9" fill="#877fbb"/>
<circle cx="347.8" cy="113.1" r="1.0" fill="#837ebb"/>
<circle cx="347.4" cy="115.3" r="0.9" fill="#8b82bb"/>
<circle cx="349.2" cy="115.7" r="1.1" fill="#8e79bb"/>
<circle cx="350.8" cy="115.6" r="1.2" fill="#8286bb"/>
<circle cx="350.0" cy="114.5" r="0.8" fill="#a59cd2"/>
<ellipse cx="405.0" cy="47.3" rx="3.9" ry="3.7" fill="#948cc3" stroke="#a39bd0" stroke-width="0.5"/>
<circle cx="405.5" cy="49.0" r="0.8" fill="#6565a4"/>
<circle cx="405.9" cy="47.0" r="1.2" fill="#635aa4"/>
<circle cx="405.0" cy="47.9" r="1.1" fill="#6768a4"/>
<circle cx="406.5" cy="47.1" r="0.9" fill="#6468a4"/>
<circle cx="406.2" cy="49.2" r="0.8" fill="#6d5ea4"/>
<circle cx="406.2" cy="47.4" r="0.8" fill="#6b60a4"/>
<circle cx="405.3" cy="46.9" r="0.8" fill="#a59cd2"/>
<ellipse cx="424.9" cy="41.8" rx="3.7" ry="3.6" fill="#8c84bf" stroke="#a39bd0" stroke-width="0.5"/>
<circle cx="424.6" cy="40.7" r="1.1" fill="#675ea4"/>
<circle cx="424.8" cy="44.2" r="1.2" fill="#695ca4"/>
<circle cx="427.0" cy="40.7" r="1.3" fill="#7062a4"/>
<circle cx="427.1" cy="42.3" r="0.8" fill="#6c62a4"/>
<circle cx="426.7" cy="43.7" r="0.8" fill="#7060a4"/>
<circle cx="426.2" cy="40.8" r="1.1" fill="#695aa4"/>
<circle cx="424.4" cy="41.8" r="0.8" fill="#a59cd2"/>
<ellipse cx="445.7" cy="27.5" rx="3.6" ry="3.4" fill="#938bc3" stroke="#a39bd0" stroke-width="0.5"/>
<circle cx="447.6" cy="27.5" r="1.1" fill="#7062a4"/>
<circle cx="447.1" cy="29.1" r="0.8" fill="#6b68a4"/>
<circle cx="444.8" cy="28.2" r="1.2" fill="#6c5aa4"/>
<circle cx="444.5" cy="27.7" r="0.8" fill="#715ba4"/>
<circle cx="445.8" cy="25.2" r="0.9" fill="#645da4"/>
<circle cx="444.2" cy="28.4" r="1.2" fill="#6f69a4"/>
<circle cx="445.3" cy="27.5" r="0.8" fill="#a59cd2"/>
<ellipse cx="421.9" cy="80.0" rx="4.5" ry="4.5" fill="#9087c1" stroke="#a39bd0" stroke-width="0.5"/>
<circle cx="419.8" cy="78.5" r="1.2" fill="#7063a7"/>
<circle cx="421.6" cy="81.5" r="1.2" fill="#7061a7"/>
<circle cx="421.2" cy="79.4" r="1.0" fill="#705ea7"/>
<circle cx="419.7" cy="80.2" r="1.2" fill="#736aa7"/>
<circle cx="421.7" cy="81.5" r="0.8" fill="#725fa7"/>
<ellipse cx="298.0" cy="41.2" rx="4.3" ry="4.3" fill="#8981be" stroke="#a39bd0" stroke-width="0.5"/>
<circle cx="299.2" cy="41.0" r="0.9" fill="#6e5ca5"/>
<circle cx="297.1" cy="39.2" r="1.0" fill="#666aa5"/>
<circle cx="298.3" cy="40.2" r="1.2" fill="#6a62a5"/>
<circle cx="298.0" cy="43.5" r="1.1" fill="#676ba5"/>
<circle cx="295.4" cy="40.7" r="1.1" fill="#7364a5"/>
<circle cx="298.1" cy="43.6" r="0.8" fill="#6463a5"/>
<ellipse cx="402.9" cy="73.2" rx="3.8" ry="3.8" fill="#9289c4" stroke="#a39bd0" stroke-width="0.5"/>
<circle cx="403.2" cy="74.3" r="1.2" fill="#756baf"/>
<circle cx="402.8" cy="71.0" r="1.0" fill="#7972af"/>
<circle cx="402.4" cy="74.0" r="0.9" fill="#796faf"/>
<circle cx="403.8" cy="73.2" r="1.2" fill="#7270af"/>
<circle cx="402.1" cy="71.6" r="0.9" fill="#756daf"/>
<circle cx="402.8" cy="73.4" r="0.8" fill="#a59cd2"/>
<ellipse cx="369.8" cy="55.3" rx="3.9" ry="3.7" fill="#8a82be" stroke="#a39bd0" stroke-width="0.5"/>
<circle cx="371.3" cy="55.7" r="1.2" fill="#655da4"/>
<circle cx="372.0" cy="55.8" r="0.8" fill="#725fa4"/>
<circle cx="367.7" cy="56.5" r="1.1" fill="#6d5fa4"/>
<circle cx="369.1" cy="56.0" r="0.8" fill="#6b64a4"/>
<ellipse cx="445.5" cy="109.5" rx="4.3" ry="4.2" fill="#9087c2" stroke="#a39bd0" stroke-width="0.5"/>
<circle cx="445.4" cy="106.9" r="0.8" fill="#7466a8"/>
<circle cx="443.9" cy="109.6" r="1.0" fill="#736ba8"/>
<circle cx="446.2" cy="110.8" r="0.8" fill="#736aa8"/>
<circle cx="445.7" cy="110.8" r="1.1" fill="#6d63a8"/>
<ellipse cx="425.7" cy="115.1" rx="4.1" ry="4.2" fill="#988fc7" stroke="#a39bd0" stroke-width="0.5"/>
<circle cx="425.7" cy="117.1" r="1.1" fill="#8179b2"/>
<circle cx="424.7" cy="116.0" r="1.0" fill="#776fb2"/>
<circle cx="425.6" cy="117.2" r="1.2" fill="#806fb2"/>
<circle cx="426.0" cy="116.4" r="1.0" fill="#7a6cb2"/>
<circle cx="426.7" cy="114.3" r="0.9" fill="#7f76b2"/>
<ellipse cx="383.8" cy="95.8" rx="4.7" ry="3.8" fill="#8c84c0" stroke="#a39bd0" stroke-width="0.5"/>
<circle cx="381.8" cy="95.0" r="0.7" fill="#695ea5"/>
<circle cx="386.1" cy="95.0" r="1.3" fill="#6c65a5"/>
<circle cx="385.1" cy="93.7" r="1.3" fill="#6468a5"/>
<circle cx="382.8" cy="94.1" r="0.9" fill="#716ca5"/>
<circle cx="384.5" cy="95.5" r="0.9" fill="#6960a5"/>
<ellipse cx="383.0" cy="41.1" rx="4.0" ry="3.5" fill="#928ac2" stroke="#a39bd0" stroke-width="0.5"/>
<circle cx="381.2" cy="39.9" r="0.9" fill="#6668a4"/>
<circle cx="382.0" cy="39.3" r="1.0" fill="#6b62a4"/>
<circle cx="383.1" cy="40.2" r="0.8" fill="#6c66a4"/>
<circle cx="384.9" cy="42.8" r="0.9" fill="#6a5da4"/>
<circle cx="385.1" cy="41.4" r="1.1" fill="#645ba4"/>
<circle cx="383.8" cy="43.4" r="1.2" fill="#6a5ea4"/>
<circle cx="383.5" cy="41.5" r="0.8" fill="#a59cd2"/>
<ellipse cx="310.2" cy="75.6" rx="4.3" ry="4.0" fill="#988fc7" stroke="#a39bd0" stroke-width="0.5"/>
<circle cx="310.7" cy="75.9" r="1.0" fill="#7f73b0"/>
<circle cx="311.1" cy="75.2" r="1.2" fill="#816cb0"/>
<circle cx="311.7" cy="74.9" r="1.2" fill="#7572b0"/>
<circle cx="309.4" cy="78.0" r="1.2" fill="#756cb0"/>
<circle cx="310.2" cy="75.6" r="0.8" fill="#a59cd2"/>
<ellipse cx="412.2" cy="75.5" rx="4.2" ry="4.1" fill="#948bc4" stroke="#a39bd0" stroke-width="0.5"/>
<circle cx="412.9" cy="76.7" r="0.9" fill="#716dac"/>
<circle cx="413.3" cy="74.5" r="1.0" fill="#6e6fac"/>
<circle cx="414.3" cy="74.6" r="1.2" fill="#786dac"/>
<circle cx="411.0" cy="77.8" r="1.1" fill="#7865ac"/>
<circle cx="413.5" cy="75.8" r="0.8" fill="#756cac"/>
<ellipse cx="353.4" cy="27.7" rx="4.0" ry="4.0" fill="#877fbd" stroke="#a39bd0" stroke-width="0.5"/>
<circle cx="353.1" cy="28.5" r="0.9" fill="#6f69a4"/>
<circle cx="354.1" cy="30.0" r="0.8" fill="#7168a4"/>
<circle cx="351.1" cy="27.7" r="1.0" fill="#6d67a4"/>
<circle cx="355.2" cy="29.0" r="0.9" fill="#635da4"/>
<ellipse cx="322.2" cy="52.3" rx="3.5" ry="3.6" fill="#958dc4" stroke="#a39bd0" stroke-width="0.5"/>
<circle cx="322.6" cy="51.3" r="0.9" fill="#6a68a6"/>
<circle cx="321.9" cy="51.6" r="1.1" fill="#6468a6"/>
<circle cx="320.0" cy="51.5" r="0.8" fill="#6f62a6"/>
<circle cx="320.2" cy="53.6" r="1.3" fill="#6565a6"/>
<circle cx="320.3" cy="53.6" r="1.3" fill="#6a66a6"/>
<circle cx="320.5" cy="52.3" r="1.2" fill="#6d66a6"/>
<circle cx="321.9" cy="52.5" r="0.8" fill="#a59cd2"/>
<ellipse cx="449.7" cy="89.1" rx="4.4" ry="3.8" fill="#877fbd" stroke="#a39bd0" stroke-width="0.5"/>
<circle cx="450.3" cy="89.7" r="0.7" fill="#655ea4"/>
<circle cx="450.2" cy="87.9" r="1.2" fill="#7060a4"/>
<circle cx="449.9" cy="91.6" r="0.9" fill="#6b61a4"/>
<circle cx="450.5" cy="87.1" r="1.1" fill="#6e5da4"/>
<circle cx="450.9" cy="87.9" r="1.1" fill="#705aa4"/>
<circle cx="451.2" cy="90.1" r="1.2" fill="#6963a4"/>
<ellipse cx="355.6" cy="73.6" rx="4.2" ry="3.9" fill="#978dc7" stroke="#a39bd0" stroke-width="0.5"/>
<circle cx="355.3" cy="72.2" r="1.0" fill="#857ab5"/>
<circle cx="355.6" cy="71.8" r="0.7" fill="#7b77b5"/>
<circle cx="356.9" cy="73.5" r="0.8" fill="#817cb5"/>
<circle cx="354.5" cy="74.9" r="1.2" fill="#807db5"/>
<circle cx="354.5" cy="74.3" r="1.1" fill="#807cb5"/>
<circle cx="357.7" cy="72.8" r="1.1" fill="#8877b5"/>
<circle cx="356.0" cy="73.8" r="0.8" fill="#a59cd2"/>
<ellipse cx="457.3" cy="21.4" rx="3.5" ry="4.2" fill="#8c84bf" stroke="#a39bd0" stroke-width="0.5"/>
<circle cx="459.0" cy="23.0" r="0.9" fill="#6e5ea4"/>
<circle cx="458.9" cy="21.4" r="0.8" fill="#685fa4"/>
<circle cx="457.6" cy="23.3" r="0.7" fill="#715fa4"/>
<circle cx="459.0" cy="20.4" r="0.9" fill="#6e5ea4"/>
<circle cx="456.0" cy="23.6" r="1.3" fill="#6861a4"/>
<ellipse cx="324.5" cy="86.1" rx="4.1" ry="3.8" fill="#9e93cb" stroke="#a39bd0" stroke-width="0.5"/>
<circle cx="325.0" cy="85.7" r="1.0" fill="#8980bb"/>
<circle cx="324.9" cy="84.3" r="1.2" fill="#837abb"/>
<circle cx="322.7" cy="84.8" r="1.2" fill="#857fbb"/>
<circle cx="324.7" cy="84.1" r="1.2" fill="#8c7bbb"/>
<circle cx="327.0" cy="86.2" r="0.8" fill="#8284bb"/>
<circle cx="323.1" cy="86.0" r="0.8" fill="#8483bb"/>
<circle cx="324.7" cy="86.2" r="0.8" fill="#a59cd2"/>
<ellipse cx="339.9" cy="113.1" rx="4.0" ry="3.4" fill="#988ec9" stroke="#a39bd0" stroke-width="0.5"/>
<circle cx="340.2" cy="114.1" r="1.3" fill="#8986bb"/>
<circle cx="339.6" cy="112.4" r="1.3" fill="#8486bb"/>
<circle cx="338.3" cy="112.4" r="1.2" fill="#8c81bb"/>
<circle cx="338.7" cy="113.6" r="0.8" fill="#877fbb"/>
<circle cx="339.1" cy="112.0" r="1.0" fill="#867fbb"/>
<circle cx="339.8" cy="115.6" r="0.8" fill="#8182bb"/>
<ellipse cx="392.4" cy="93.9" rx="3.6" ry="3.5" fill="#8f87c1" stroke="#a39bd0" stroke-width="0.5"/>
<circle cx="391.1" cy="95.1" r="0.9" fill="#6560a4"/>
<circle cx="393.6" cy="95.0" r="1.0" fill="#6869a4"/>
<circle cx="394.7" cy="94.7" r="0.7" fill="#6761a4"/>
<circle cx="391.6" cy="94.2" r="1.1" fill="#6666a4"/>
<circle cx="390.8" cy="92.0" r="1.2" fill="#6665a4"/>
<ellipse cx="392.0" cy="122.3" rx="4.3" ry="4.6" fill="#988fc8" stroke="#a39bd0" stroke-width="0.5"/>
<circle cx="393.1" cy="122.0" r="0.9" fill="#8174b4"/>
<circle cx="389.9" cy="120.9" r="1.0" fill="#776fb4"/>
<circle cx="392.8" cy="123.2" r="0.7" fill="#787cb4"/>
<circle cx="393.7" cy="121.1" r="1.0" fill="#7b7db4"/>
<circle cx="393.5" cy="122.7" r="1.2" fill="#7872b4"/>
<ellipse cx="430.9" cy="0.6" rx="3.7" ry="3.9" fill="#8d85c0" stroke="#a39bd0" stroke-width="0.5"/>
<circle cx="433.0" cy="-0.1" r="1.0" fill="#6765a4"/>
<circle cx="429.8" cy="-0.2" r="1.0" fill="#715da4"/>
<circle cx="432.1" cy="2.4" r="1.1" fill="#675aa4"/>
<circle cx="430.2" cy="0.6" r="1.3" fill="#625ca4"/>
<circle cx="431.8" cy="0.1" r="1.2" fill="#6f5fa4"/>
<ellipse cx="333.6" cy="99.7" rx="3.6" ry="3.8" fill="#988dc8" stroke="#a39bd0" stroke-width="0.5"/>
<circle cx="332.2" cy="100.0" r="1.1" fill="#827bbd"/>
<circle cx="334.4" cy="98.2" r="1.2" fill="#8286bd"/>
<circle cx="332.0" cy="97.7" r="1.1" fill="#887dbd"/>
<circle cx="333.9" cy="101.9" r="1.1" fill="#8c85bd"/>
<circle cx="333.3" cy="98.6" r="0.7" fill="#8a84bd"/>
<circle cx="334.1" cy="99.1" r="0.8" fill="#8381bd"/>
<ellipse cx="455.0" cy="94.0" rx="4.2" ry="4.4" fill="#8f87c1" stroke="#a39bd0" stroke-width="0.5"/>
<circle cx="454.4" cy="93.9" r="1.0" fill="#6e69a4"/>
<circle cx="454.3" cy="93.5" r="1.0" fill="#6e68a4"/>
<circle cx="452.9" cy="93.3" r="1.2" fill="#6268a4"/>
<circle cx="455.4" cy="95.0" r="0.9" fill="#6b64a4"/>
<circle cx="454.5" cy="95.7" r="0.8" fill="#6662a4"/>
<circle cx="456.6" cy="92.6" r="0.8" fill="#6766a4"/>
<ellipse cx="365.3" cy="88.2" rx="3.8" ry="4.1" fill="#9990c7" stroke="#a39bd0" stroke-width="0.5"/>
<circle cx="365.8" cy="86.8" r="1.0" fill="#6d71ac"/>
<circle cx="365.5" cy="87.3" r="1.2" fill="#7766ac"/>
<circle cx="364.6" cy="85.8" r="0.8" fill="#7b71ac"/>
<circle cx="367.0" cy="88.7" r="1.3" fill="#7a68ac"/>
<circle cx="365.8" cy="90.5" r="0.9" fill="#6e69ac"/>
<ellipse cx="341.4" cy="20.6" rx="4.1" ry="4.1" fill="#9189c2" stroke="#a39bd0" stroke-width="0.5"/>
<circle cx="342.2" cy="23.0" r="0.7" fill="#6566a4"/>
<circle cx="339.8" cy="20.4" r="1.0" fill="#665aa4"/>
<circle cx="341.3" cy="22.2" r="0.9" fill="#7066a4"/>
<circle cx="340.9" cy="21.5" r="0.8" fill="#7061a4"/>
<ellipse cx="395.4" cy="75.5" rx="4.4" ry="4.2" fill="#948bc5" stroke="#a39bd0" stroke-width="0.5"/>
<circle cx="395.5" cy="74.6" r="0.9" fill="#7968af"/>
<circle cx="394.1" cy="77.0" r="1.2" fill="#736caf"/>
<circle cx="393.3" cy="76.0" r="1.2" fill="#7c71af"/>
<circle cx="395.6" cy="78.1" r="1.1" fill="#7372af"/>
<ellipse cx="449.9" cy="32.3" rx="3.9" ry="3.9" fill="#8c84bf" stroke="#a39bd0" stroke-width="0.5"/>
<circle cx="452.0" cy="33.0" r="1.2" fill="#6d5da4"/>
<circle cx="450.2" cy="31.1" r="0.7" fill="#6c61a4"/>
<circle cx="450.2" cy="31.4" r="1.3" fill="#6c5ca4"/>
<circle cx="448.0" cy="31.5" r="1.1" fill="#6a69a4"/>
<ellipse cx="442.9" cy="100.3" rx="3.5" ry="3.9" fill="#8e86c0" stroke="#a39bd0" stroke-width="0.5"/>
<circle cx="440.5" cy="100.1" r="1.0" fill="#6964a4"/>
<circle cx="441.2" cy="101.1" r="1.2" fill="#6b5fa4"/>
<circle cx="442.6" cy="99.7" r="0.8" fill="#655ea4"/>
<circle cx="444.6" cy="100.0" r="1.3" fill="#7164a4"/>
<circle cx="442.5" cy="101.1" r="0.7" fill="#6461a4"/>
<ellipse cx="396.0" cy="60.1" rx="3.6" ry="3.9" fill="#938ac3" stroke="#a39bd0" stroke-width="0.5"/>
<circle cx="395.4" cy="59.0" r="1.0" fill="#716ca6"/>
<circle cx="394.9" cy="62.3" r="0.8" fill="#6667a6"/>
<circle cx="396.8" cy="59.6" r="0.9" fill="#6a6ca6"/>
<circle cx="393.7" cy="59.6" r="1.3" fill="#6d5ea6"/>
<circle cx="397.1" cy="59.8" r="1.2" fill="#7168a6"/>
<circle cx="397.2" cy="59.3" r="1.1" fill="#6a69a6"/>
<circle cx="396.1" cy="60.4" r="0.8" fill="#a59cd2"/>
<ellipse cx="303.1" cy="129.3" rx="3.9" ry="3.6" fill="#9189c2" stroke="#a39bd0" stroke-width="0.5"/>
<circle cx="301.1" cy="130.3" r="1.1" fill="#6f6ba7"/>
<circle cx="302.6" cy="130.4" r="0.7" fill="#6f6da7"/>
<circle cx="305.3" cy="130.0" r="0.8" fill="#766aa7"/>
<circle cx="303.1" cy="127.2" r="0.8" fill="#745ea7"/>
<circle cx="303.5" cy="131.2" r="0.8" fill="#6b5fa7"/>
<circle cx="303.8" cy="129.3" r="0.9" fill="#756ca7"/>
<ellipse cx="392.6" cy="80.1" rx="4.2" ry="4.1" fill="#978fc6" stroke="#a39bd0" stroke-width="0.5"/>
<circle cx="395.0" cy="80.4" r="1.3" fill="#756aaa"/>
<circle cx="392.4" cy="79.2" r="1.1" fill="#6e63aa"/>
<circle cx="391.4" cy="79.5" r="0.9" fill="#7367aa"/>
<circle cx="394.1" cy="78.0" r="1.3" fill="#6d6faa"/>
<circle cx="391.4" cy="78.0" r="0.9" fill="#6d70aa"/>
<circle cx="392.5" cy="80.4" r="0.8" fill="#a59cd2"/>
<ellipse cx="418.6" cy="88.6" rx="4.0" ry="4.3" fill="#9289c2" stroke="#a39bd0" stroke-width="0.5"/>
<circle cx="416.5" cy="89.5" r="0.9" fill="#6369a4"/>
<circle cx="416.1" cy="88.5" r="0.7" fill="#655aa4"/>
<circle cx="419.6" cy="89.7" r="1.1" fill="#6c65a4"/>
<circle cx="417.8" cy="88.3" r="1.2" fill="#6a5ca4"/>
<circle cx="417.3" cy="89.3" r="0.9" fill="#6262a4"/>
<circle cx="419.5" cy="86.6" r="1.0" fill="#6e68a4"/>
<ellipse cx="424.7" cy="67.8" rx="3.5" ry="3.8" fill="#9189c3" stroke="#a39bd0" stroke-width="0.5"/>
<circle cx="424.5" cy="66.6" r="0.9" fill="#7065a9"/>
<circle cx="425.1" cy="68.6" r="0.8" fill="#7661a9"/>
<circle cx="426.1" cy="66.8" r="0.9" fill="#6965a9"/>
<circle cx="424.4" cy="66.5" r="1.2" fill="#6e64a9"/>
<circle cx="423.8" cy="67.9" r="0.8" fill="#7469a9"/>
<circle cx="423.0" cy="67.7" r="0.9" fill="#7365a9"/>
<ellipse cx="407.0" cy="39.7" rx="3.7" ry="4.1" fill="#968ec4" stroke="#a39bd0" stroke-width="0.5"/>
<circle cx="408.0" cy="37.5" r="1.0" fill="#6869a4"/>
<circle cx="409.0" cy="39.9" r="1.0" fill="#675ca4"/>
<circle cx="407.4" cy="38.8" r="0.9" fill="#645fa4"/>
<circle cx="407.8" cy="38.9" r="1.0" fill="#6662a4"/>
<circle cx="408.9" cy="41.3" r="1.0" fill="#6a62a4"/>
<circle cx="407.7" cy="38.3" r="1.3" fill="#6660a4"/>
<circle cx="407.0" cy="39.6" r="0.8" fill="#a59cd2"/>
<ellipse cx="412.1" cy="47.7" rx="4.0" ry="3.4" fill="#948cc3" stroke="#a39bd0" stroke-width="0.5"/>
<circle cx="412.5" cy="49.3" r="1.3" fill="#6e64a4"/>
<circle cx="411.9" cy="46.7" r="1.0" fill="#645fa4"/>
<circle cx="411.4" cy="48.6" r="1.1" fill="#6363a4"/>
<circle cx="412.1" cy="48.4" r="0.9" fill="#6f5ca4"/>
<circle cx="413.2" cy="47.6" r="0.8" fill="#6d5ea4"/>
<ellipse cx="341.3" cy="32.0" rx="3.9" ry="3.9" fill="#9088c1" stroke="#a39bd0" stroke-width="0.5"/>
<circle cx="343.0" cy="32.4" r="0.7" fill="#6b65a4"/>
<circle cx="340.9" cy="33.1" r="0.9" fill="#6264a4"/>
<circle cx="342.1" cy="31.8" r="1.0" fill="#6c68a4"/>
<circle cx="340.8" cy="33.5" r="1.1" fill="#6868a4"/>
<circle cx="340.3" cy="31.7" r="0.7" fill="#6964a4"/>
<circle cx="341.3" cy="31.6" r="0.8" fill="#a59cd2"/>
<ellipse cx="366.3" cy="60.8" rx="4.2" ry="4.4" fill="#968dc5" stroke="#a39bd0" stroke-width="0.5"/>
<circle cx="366.3" cy="60.0" r="1.2" fill="#6a68a7"/>
<circle cx="365.3" cy="61.9" r="1.1" fill="#7162a7"/>
<circle cx="365.5" cy="60.8" r="1.0" fill="#726ba7"/>
<circle cx="367.2" cy="58.9" r="1.2" fill="#706ea7"/>
<circle cx="366.1" cy="60.3" r="0.8" fill="#a59cd2"/>
<ellipse cx="392.0" cy="-0.8" rx="3.9" ry="4.1" fill="#948cc3" stroke="#a39bd0" stroke-width="0.5"/>
<circle cx="392.0" cy="-2.1" r="1.1" fill="#6a5fa4"/>
<circle cx="394.0" cy="-0.4" r="0.8" fill="#6565a4"/>
<circle cx="392.9" cy="-1.4" r="1.0" fill="#6f5aa4"/>
<circle cx="390.9" cy="-3.1" r="1.1" fill="#6d5ba4"/>
<circle cx="390.7" cy="-2.1" r="0.7" fill="#6b64a4"/>
<ellipse cx="338.7" cy="109.5" rx="3.4" ry="4.1" fill="#a298cd" stroke="#a39bd0" stroke-width="0.5"/>
<circle cx="338.2" cy="109.0" r="0.7" fill="#827fb9"/>
<circle cx="338.9" cy="107.4" r="0.8" fill="#8584b9"/>
<circle cx="340.9" cy="109.7" r="1.1" fill="#8780b9"/>
<circle cx="336.4" cy="110.5" r="0.9" fill="#8382b9"/>
<ellipse cx="401.4" cy="68.1" rx="4.1" ry="3.5" fill="#9990c7" stroke="#a39bd0" stroke-width="0.5"/>
<circle cx="400.5" cy="68.1" r="1.0" fill="#7a6dae"/>
<circle cx="403.4" cy="67.8" r="0.8" fill="#7967ae"/>
<circle cx="402.5" cy="68.6" r="0.8" fill="#7c72ae"/>
<circle cx="403.4" cy="68.9" r="1.0" fill="#7769ae"/>
<circle cx="402.0" cy="69.7" r="0.8" fill="#7d75ae"/>
<ellipse cx="338.0" cy="12.2" rx="3.9" ry="4.2" fill="#8880bd" stroke="#a39bd0" stroke-width="0.5"/>
<circle cx="340.2" cy="11.3" r="1.2" fill="#6265a4"/>
<circle cx="336.5" cy="11.5" r="0.8" fill="#6767a4"/>
<circle cx="338.9" cy="11.7" r="1.0" fill="#6964a4"/>
<circle cx="338.8" cy="11.7" r="1.3" fill="#6b69a4"/>
<circle cx="337.2" cy="11.3" r="0.8" fill="#6361a4"/>
<circle cx="339.1" cy="10.3" r="1.1" fill="#6264a4"/>
<ellipse cx="457.7" cy="59.8" rx="3.9" ry="4.2" fill="#8b83bf" stroke="#a39bd0" stroke-width="0.5"/>
<circle cx="456.4" cy="61.9" r="1.1" fill="#635ca4"/>
<circle cx="457.0" cy="61.0" r="1.2" fill="#6961a4"/>
<circle cx="457.7" cy="61.4" r="0.8" fill="#6d5ea4"/>
<circle cx="458.0" cy="59.0" r="1.3" fill="#6d68a4"/>
<circle cx="456.3" cy="59.6" r="0.8" fill="#6766a4"/>
<circle cx="457.8" cy="61.3" r="0.9" fill="#6f61a4"/>
<ellipse cx="313.7" cy="65.9" rx="3.9" ry="4.5" fill="#8f86c2" stroke="#a39bd0" stroke-width="0.5"/>
<circle cx="312.5" cy="66.5" r="1.2" fill="#6c63ab"/>
<circle cx="311.5" cy="67.0" r="0.9" fill="#6c6aab"/>
<circle cx="311.9" cy="65.6" r="1.0" fill="#7b6bab"/>
<circle cx="313.9" cy="64.9" r="1.0" fill="#7667ab"/>
<circle cx="314.1" cy="64.5" r="0.8" fill="#6f68ab"/>
<circle cx="313.5" cy="65.9" r="0.8" fill="#a59cd2"/>
<ellipse cx="377.4" cy="122.0" rx="4.5" ry="3.8" fill="#988ec8" stroke="#a39bd0" stroke-width="0.5"/>
<circle cx="376.6" cy="124.3" r="1.1" fill="#8972b6"/>
<circle cx="379.7" cy="121.3" r="1.1" fill="#7e7cb6"/>
<circle cx="378.8" cy="120.8" r="1.2" fill="#827fb6"/>
<circle cx="378.5" cy="122.2" r="1.3" fill="#837eb6"/>
<circle cx="378.7" cy="122.1" r="0.8" fill="#7d7eb6"/>
<ellipse cx="303.8" cy="59.9" rx="3.9" ry="4.2" fill="#8b83bf" stroke="#a39bd0" stroke-width="0.5"/>
<circle cx="302.9" cy="59.9" r="1.2" fill="#7567a7"/>
<circle cx="303.1" cy="59.4" r="0.7" fill="#6d5ea7"/>
<circle cx="304.4" cy="60.8" r="0.8" fill="#7666a7"/>
<circle cx="303.9" cy="59.1" r="1.2" fill="#6b5ea7"/>
<circle cx="304.3" cy="60.3" r="0.8" fill="#a59cd2"/>
<ellipse cx="338.2" cy="53.2" rx="4.1" ry="4.5" fill="#8a82bf" stroke="#a39bd0" stroke-width="0.5"/>
<circle cx="337.6" cy="54.5" r="0.9" fill="#6766a5"/>
<circle cx="337.7" cy="50.8" r="1.1" fill="#6467a5"/>
<circle cx="339.4" cy="52.4" r="1.0" fill="#6f67a5"/>
<circle cx="338.0" cy="54.0" r="1.3" fill="#7365a5"/>
<circle cx="338.2" cy="52.5" r="1.2" fill="#6f67a5"/>
<circle cx="337.2" cy="51.9" r="1.2" fill="#696aa5"/>
<circle cx="338.6" cy="52.7" r="0.8" fill="#a59cd2"/>
<ellipse cx="427.1" cy="100.9" rx="3.8" ry="3.6" fill="#8a82be" stroke="#a39bd0" stroke-width="0.5"/>
<circle cx="426.0" cy="99.5" r="1.0" fill="#6868a4"/>
<circle cx="427.9" cy="103.0" r="1.0" fill="#6969a4"/>
<circle cx="427.4" cy="101.6" r="1.3" fill="#685fa4"/>
<circle cx="425.5" cy="101.8" r="1.0" fill="#7061a4"/>
<circle cx="428.4" cy="99.8" r="1.0" fill="#7061a4"/>
<circle cx="427.3" cy="101.3" r="0.8" fill="#a59cd2"/>
<ellipse cx="407.4" cy="12.2" rx="3.8" ry="4.4" fill="#8c84bf" stroke="#a39bd0" stroke-width="0.5"/>
<circle cx="408.3" cy="11.8" r="1.2" fill="#6f5ca4"/>
<circle cx="406.3" cy="10.3" r="0.9" fill="#6b5da4"/>
<circle cx="407.6" cy="14.8" r="0.9" fill="#6867a4"/>
<circle cx="406.4" cy="14.4" r="1.3" fill="#6c64a4"/>
<circle cx="408.6" cy="11.3" r="1.0" fill="#675da4"/>
<ellipse cx="314.6" cy="93.5" rx="4.1" ry="3.7" fill="#a399ce" stroke="#a39bd0" stroke-width="0.5"/>
<circle cx="316.0" cy="93.9" r="1.2" fill="#8185bb"/>
<circle cx="315.9" cy="93.0" r="1.1" fill="#8976bb"/>
<circle cx="312.9" cy="92.3" r="0.8" fill="#857ebb"/>
<circle cx="315.3" cy="94.1" r="1.2" fill="#897dbb"/>
<circle cx="314.3" cy="94.7" r="1.2" fill="#8e80bb"/>
<circle cx="312.6" cy="93.9" r="0.9" fill="#807abb"/>
<ellipse cx="367.9" cy="119.9" rx="4.1" ry="3.7" fill="#a499ce" stroke="#a39bd0" stroke-width="0.5"/>
<circle cx="367.9" cy="119.0" r="1.3" fill="#8477bb"/>
<circle cx="367.8" cy="118.1" r="0.9" fill="#8e76bb"/>
<circle cx="368.0" cy="120.6" r="1.0" fill="#8580bb"/>
<circle cx="369.4" cy="118.5" r="1.1" fill="#8e77bb"/>
<circle cx="367.8" cy="119.9" r="0.8" fill="#a59cd2"/>
<ellipse cx="305.5" cy="12.2" rx="3.5" ry="4.1" fill="#8a81bf" stroke="#a39bd0" stroke-width="0.5"/>
<circle cx="303.3" cy="12.6" r="0.9" fill="#6a66a8"/>
<circle cx="305.4" cy="11.4" r="1.2" fill="#716da8"/>
<circle cx="305.8" cy="9.7" r="0.8" fill="#7169a8"/>
<circle cx="307.1" cy="13.7" r="1.1" fill="#716aa8"/>
<circle cx="304.0" cy="10.5" r="1.1" fill="#7067a8"/>
<ellipse cx="298.4" cy="106.6" rx="4.0" ry="4.3" fill="#8e85c2" stroke="#a39bd0" stroke-width="0.5"/>
<circle cx="297.2" cy="106.3" r="1.2" fill="#7b68ae"/>
<circle cx="299.6" cy="105.7" r="1.0" fill="#7273ae"/>
<circle cx="299.8" cy="106.0" r="1.2" fill="#7168ae"/>
<circle cx="297.0" cy="106.9" r="1.1" fill="#736cae"/>
<circle cx="296.9" cy="105.5" r="1.0" fill="#746cae"/>
<ellipse cx="432.3" cy="14.3" rx="3.9" ry="4.1" fill="#877fbd" stroke="#a39bd0" stroke-width="0.5"/>
<circle cx="431.9" cy="13.3" r="1.0" fill="#6d67a4"/>
<circle cx="432.9" cy="15.2" r="0.8" fill="#675aa4"/>
<circle cx="431.8" cy="15.5" r="1.0" fill="#6f63a4"/>
<circle cx="430.5" cy="14.5" r="1.0" fill="#6d5ba4"/>
<ellipse cx="336.6" cy="26.7" rx="4.5" ry="3.9" fill="#9088c1" stroke="#a39bd0" stroke-width="0.5"/>
<circle cx="336.9" cy="28.7" r="0.9" fill="#7161a4"/>
<circle cx="337.7" cy="26.3" r="0.7" fill="#6960a4"/>
<circle cx="337.3" cy="27.7" r="1.3" fill="#6e5ca4"/>
<circle cx="337.6" cy="28.4" r="1.1" fill="#6c5ba4"/>
<circle cx="335.3" cy="26.6" r="0.8" fill="#6867a4"/>
<circle cx="337.4" cy="26.3" r="1.0" fill="#675ca4"/>
<ellipse cx="383.9" cy="80.1" rx="4.0" ry="4.5" fill="#9087c2" stroke="#a39bd0" stroke-width="0.5"/>
<circle cx="385.8" cy="78.9" r="1.0" fill="#786eab"/>
<circle cx="384.2" cy="78.7" r="1.3" fill="#7272ab"/>
<circle cx="385.6" cy="79.5" r="1.1" fill="#7166ab"/>
<circle cx="384.3" cy="79.5" r="0.9" fill="#796fab"/>
<circle cx="384.7" cy="80.7" r="1.0" fill="#756dab"/>
<circle cx="382.3" cy="82.2" r="0.8" fill="#7964ab"/>
<ellipse cx="442.2" cy="32.4" rx="3.8" ry="3.7" fill="#8f87c1" stroke="#a39bd0" stroke-width="0.5"/>
<circle cx="442.6" cy="32.9" r="0.7" fill="#6664a4"/>
<circle cx="443.4" cy="32.6" r="1.0" fill="#6f5aa4"/>
<circle cx="443.7" cy="33.4" r="0.9" fill="#6a63a4"/>
<circle cx="442.0" cy="34.8" r="1.1" fill="#6f68a4"/>
<circle cx="441.5" cy="31.2" r="0.7" fill="#6d63a4"/>
<ellipse cx="405.3" cy="113.8" rx="4.1" ry="4.0" fill="#9d94c9" stroke="#a39bd0" stroke-width="0.5"/>
<circle cx="404.6" cy="113.7" r="0.8" fill="#796faf"/>
<circle cx="405.7" cy="112.6" r="0.9" fill="#736caf"/>
<circle cx="405.3" cy="111.6" r="0.7" fill="#7173af"/>
<circle cx="403.3" cy="114.8" r="0.9" fill="#7573af"/>
<circle cx="402.9" cy="114.4" r="0.9" fill="#7b6eaf"/>
<ellipse cx="373.6" cy="32.8" rx="4.2" ry="3.6" fill="#9088c1" stroke="#a39bd0" stroke-width="0.5"/>
<circle cx="374.1" cy="34.1" r="1.1" fill="#705ca4"/>
<circle cx="375.0" cy="33.4" r="1.1" fill="#6664a4"/>
<circle cx="372.0" cy="31.3" r="0.8" fill="#6766a4"/>
<circle cx="372.2" cy="32.8" r="0.9" fill="#705ca4"/>
<ellipse cx="333.3" cy="46.5" rx="3.4" ry="3.5" fill="#9088c1" stroke="#a39bd0" stroke-width="0.5"/>
<circle cx="334.0" cy="47.5" r="0.9" fill="#635ba4"/>
<circle cx="335.2" cy="46.0" r="1.2" fill="#6665a4"/>
<circle cx="332.6" cy="45.5" r="0.9" fill="#6f67a4"/>
<circle cx="334.4" cy="46.8" r="1.2" fill="#6865a4"/>
<circle cx="333.8" cy="47.7" r="1.0" fill="#6864a4"/>
<circle cx="333.6" cy="46.7" r="0.8" fill="#a59cd2"/>
<ellipse cx="306.1" cy="28.2" rx="4.0" ry="4.0" fill="#9188c3" stroke="#a39bd0" stroke-width="0.5"/>
<circle cx="303.9" cy="27.7" r="0.9" fill="#746eab"/>
<circle cx="305.4" cy="28.8" r="0.9" fill="#706cab"/>
<circle cx="306.9" cy="29.1" r="0.9" fill="#7a6dab"/>
<circle cx="307.4" cy="27.8" r="1.0" fill="#6c65ab"/>
<circle cx="305.5" cy="28.9" r="0.8" fill="#6e6cab"/>
<circle cx="307.9" cy="27.4" r="0.7" fill="#786aab"/>
<ellipse cx="377.2" cy="94.1" rx="4.2" ry="4.3" fill="#958dc4" stroke="#a39bd0" stroke-width="0.5"/>
<circle cx="377.0" cy="93.4" r="1.3" fill="#736ba7"/>
<circle cx="377.8" cy="94.3" r="1.0" fill="#7466a7"/>
<circle cx="377.3" cy="96.5" r="1.2" fill="#6664a7"/>
<circle cx="376.6" cy="95.8" r="0.8" fill="#6c5fa7"/>
<circle cx="378.7" cy="95.9" r="0.9" fill="#665ea7"/>
<ellipse cx="401.2" cy="40.9" rx="4.1" ry="4.0" fill="#8880bd" stroke="#a39bd0" stroke-width="0.5"/>
<circle cx="399.7" cy="39.7" r="1.0" fill="#6760a4"/>
<circle cx="401.3" cy="42.0" r="1.0" fill="#6367a4"/>
<circle cx="400.4" cy="43.0" r="1.1" fill="#6860a4"/>
<circle cx="400.7" cy="41.2" r="1.1" fill="#6663a4"/>
<circle cx="400.1" cy="42.7" r="0.7" fill="#6660a4"/>
<ellipse cx="455.4" cy="81.9" rx="3.9" ry="4.0" fill="#958dc4" stroke="#a39bd0" stroke-width="0.5"/>
<circle cx="457.5" cy="83.3" r="1.1" fill="#6462a4"/>
<circle cx="456.4" cy="82.3" r="1.3" fill="#715ba4"/>
<circle cx="457.3" cy="82.3" r="1.1" fill="#6c61a4"/>
<circle cx="453.9" cy="80.9" r="0.9" fill="#6560a4"/>
<circle cx="453.8" cy="82.7" r="0.8" fill="#655fa4"/>
<circle cx="455.6" cy="81.6" r="0.8" fill="#a59cd2"/>
<ellipse cx="394.9" cy="126.7" rx="3.6" ry="3.7" fill="#9a91c7" stroke="#a39bd0" stroke-width="0.5"/>
<circle cx="394.5" cy="125.6" r="1.0" fill="#6d63ab"/>
<circle cx="396.3" cy="126.3" r="1.0" fill="#6f73ab"/>
<circle cx="395.2" cy="126.0" r="1.1" fill="#7970ab"/>
<circle cx="392.3" cy="126.2" r="0.9" fill="#7164ab"/>
<circle cx="395.8" cy="126.7" r="1.0" fill="#7272ab"/>
<ellipse cx="447.3" cy="95.7" rx="3.8" ry="3.9" fill="#9088c1" stroke="#a39bd0" stroke-width="0.5"/>
<circle cx="446.5" cy="96.8" r="1.1" fill="#6d5ca4"/>
<circle cx="448.1" cy="96.7" r="1.3" fill="#635ea4"/>
<circle cx="449.6" cy="94.6" r="1.3" fill="#685ea4"/>
<circle cx="446.2" cy="97.1" r="0.9" fill="#7165a4"/>
<ellipse cx="367.3" cy="79.5" rx="4.2" ry="3.7" fill="#9188c4" stroke="#a39bd0" stroke-width="0.5"/>
<circle cx="367.2" cy="80.1" r="1.0" fill="#746baf"/>
<circle cx="368.8" cy="77.4" r="1.2" fill="#7f72af"/>
<circle cx="367.2" cy="81.9" r="0.8" fill="#7173af"/>
<circle cx="368.3" cy="77.2" r="0.8" fill="#7376af"/>
<circle cx="367.1" cy="79.9" r="0.8" fill="#a59cd2"/>
<ellipse cx="415.8" cy="28.2" rx="4.4" ry="4.1" fill="#8d85c0" stroke="#a39bd0" stroke-width="0.5"/>
<circle cx="417.1" cy="26.2" r="0.9" fill="#6465a4"/>
<circle cx="416.0" cy="27.4" r="1.3" fill="#6965a4"/>
<circle cx="417.3" cy="27.6" r="1.1" fill="#6d65a4"/>
<circle cx="417.5" cy="29.9" r="0.8" fill="#6464a4"/>
<circle cx="417.0" cy="29.0" r="0.9" fill="#7067a4"/>
<ellipse cx="379.2" cy="114.2" rx="3.7" ry="4.0" fill="#9a90c8" stroke="#a39bd0" stroke-width="0.5"/>
<circle cx="377.2" cy="113.5" r="1.2" fill="#7976b3"/>
<circle cx="377.8" cy="114.4" r="1.1" fill="#7c6eb3"/>
<circle cx="376.7" cy="114.4" r="0.9" fill="#8470b3"/>
<circle cx="380.8" cy="116.2" r="0.8" fill="#7b76b3"/>
<circle cx="381.5" cy="114.7" r="0.8" fill="#8377b3"/>
<ellipse cx="385.1" cy="120.6" rx="4.6" ry="3.9" fill="#9d93ca" stroke="#a39bd0" stroke-width="0.5"/>
<circle cx="387.2" cy="119.7" r="1.0" fill="#8176b7"/>
<circle cx="383.6" cy="122.1" r="1.2" fill="#8574b7"/>
<circle cx="384.9" cy="119.0" r="0.7" fill="#8881b7"/>
<circle cx="384.8" cy="122.5" r="1.0" fill="#8380b7"/>
<circle cx="387.3" cy="121.1" r="0.8" fill="#7c7db7"/>
<ellipse cx="368.3" cy="12.6" rx="3.5" ry="3.5" fill="#968ec4" stroke="#a39bd0" stroke-width="0.5"/>
<circle cx="366.5" cy="13.8" r="1.0" fill="#6e64a4"/>
<circle cx="368.3" cy="11.1" r="1.0" fill="#6260a4"/>
<circle cx="367.5" cy="13.7" r="0.8" fill="#635ba4"/>
<circle cx="369.0" cy="11.5" r="0.8" fill="#7063a4"/>
<circle cx="366.8" cy="13.8" r="0.7" fill="#6662a4"/>
<ellipse cx="354.5" cy="79.4" rx="4.3" ry="3.7" fill="#9f95cb" stroke="#a39bd0" stroke-width="0.5"/>
<circle cx="354.2" cy="78.7" r="1.3" fill="#7b6fb3"/>
<circle cx="353.9" cy="79.7" r="1.0" fill="#8476b3"/>
<circle cx="355.2" cy="78.0" r="1.2" fill="#7f77b3"/>
<circle cx="354.0" cy="80.3" r="0.8" fill="#8277b3"/>
<circle cx="356.8" cy="78.2" r="0.9" fill="#7d70b3"/>
<ellipse cx="431.0" cy="53.2" rx="4.1" ry="4.5" fill="#8880bd" stroke="#a39bd0" stroke-width="0.5"/>
<circle cx="431.7" cy="53.9" r="0.9" fill="#635fa4"/>
<circle cx="431.1" cy="55.6" r="1.0" fill="#6b64a4"/>
<circle cx="429.5" cy="54.1" r="1.1" fill="#6d63a4"/>
<circle cx="431.3" cy="55.8" r="1.1" fill="#6b60a4"/>
<circle cx="431.4" cy="54.1" r="0.7" fill="#6765a4"/>
<circle cx="431.3" cy="55.3" r="0.9" fill="#636aa4"/>
<ellipse cx="314.2" cy="-1.7" rx="3.6" ry="4.0" fill="#887fbd" stroke="#a39bd0" stroke-width="0.5"/>
<circle cx="312.7" cy="-2.7" r="0.7" fill="#6666a5"/>
<circle cx="316.0" cy="-3.1" r="1.0" fill="#6b6ba5"/>
<circle cx="313.6" cy="-1.8" r="1.1" fill="#7365a5"/>
<circle cx="316.3" cy="-0.2" r="0.8" fill="#6562a5"/>
<circle cx="315.7" cy="-1.9" r="0.8" fill="#6b68a5"/>
<circle cx="313.6" cy="-0.8" r="1.0" fill="#6e63a5"/>
<ellipse cx="358.0" cy="5.4" rx="4.4" ry="3.9" fill="#9189c2" stroke="#a39bd0" stroke-width="0.5"/>
<circle cx="358.6" cy="4.6" r="0.9" fill="#6364a4"/>
<circle cx="358.8" cy="6.7" r="0.8" fill="#6a67a4"/>
<circle cx="358.2" cy="6.8" r="0.9" fill="#6d5fa4"/>
<circle cx="358.6" cy="5.6" r="1.0" fill="#6766a4"/>
<circle cx="359.1" cy="5.8" r="0.9" fill="#7165a4"/>
<ellipse cx="311.0" cy="128.4" rx="4.2" ry="3.8" fill="#978ec5" stroke="#a39bd0" stroke-width="0.5"/>
<circle cx="312.5" cy="128.3" r="0.8" fill="#736ba9"/>
<circle cx="312.5" cy="129.4" r="0.8" fill="#7269a9"/>
<circle cx="312.0" cy="130.6" r="1.2" fill="#6c6ba9"/>
<circle cx="311.9" cy="128.4" r="1.1" fill="#7269a9"/>
<circle cx="310.7" cy="129.2" r="1.1" fill="#756ca9"/>
<ellipse cx="325.4" cy="32.6" rx="4.1" ry="4.6" fill="#958dc4" stroke="#a39bd0" stroke-width="0.5"/>
<circle cx="324.0" cy="33.9" r="1.2" fill="#675ca4"/>
<circle cx="324.9" cy="33.3" r="0.8" fill="#6969a4"/>
<circle cx="324.8" cy="33.5" r="0.9" fill="#635fa4"/>
<circle cx="324.2" cy="32.8" r="1.2" fill="#6f5fa4"/>
<circle cx="324.3" cy="33.6" r="0.8" fill="#6869a4"/>
<ellipse cx="333.1" cy="89.1" rx="3.9" ry="4.6" fill="#a79cd0" stroke="#a39bd0" stroke-width="0.5"/>
<circle cx="333.1" cy="90.2" r="1.3" fill="#8c80bd"/>
<circle cx="333.9" cy="91.2" r="1.1" fill="#8978bd"/>
<circle cx="334.4" cy="89.3" r="0.8" fill="#867cbd"/>
<circle cx="334.3" cy="87.2" r="1.1" fill="#857abd"/>
<circle cx="333.1" cy="89.6" r="0.8" fill="#a59cd2"/>
<ellipse cx="297.5" cy="0.3" rx="3.9" ry="4.1" fill="#8c84c0" stroke="#a39bd0" stroke-width="0.5"/>
<circle cx="299.2" cy="-0.4" r="1.2" fill="#7260a4"/>
<circle cx="297.1" cy="-1.3" r="1.1" fill="#6c5fa4"/>
<circle cx="297.2" cy="-1.6" r="0.9" fill="#6b65a4"/>
<circle cx="297.8" cy="-0.4" r="0.9" fill="#6369a4"/>
<circle cx="298.6" cy="0.3" r="1.3" fill="#725ea4"/>
<circle cx="296.3" cy="-0.0" r="0.9" fill="#6861a4"/>
<ellipse cx="426.7" cy="127.9" rx="4.0" ry="4.1" fill="#958dc4" stroke="#a39bd0" stroke-width="0.5"/>
<circle cx="425.7" cy="129.6" r="0.8" fill="#6b5fa7"/>
<circle cx="424.2" cy="127.6" r="1.2" fill="#756ea7"/>
<circle cx="428.8" cy="128.4" r="0.7" fill="#6c67a7"/>
<circle cx="426.8" cy="128.8" r="0.9" fill="#736da7"/>
<circle cx="424.8" cy="126.7" r="1.0" fill="#6c65a7"/>
<circle cx="426.6" cy="128.2" r="0.8" fill="#a59cd2"/>
<ellipse cx="361.2" cy="26.0" rx="3.9" ry="4.0" fill="#9189c2" stroke="#a39bd0" stroke-width="0.5"/>
<circle cx="362.0" cy="26.0" r="0.9" fill="#6b5ea4"/>
<circle cx="359.3" cy="26.4" r="1.2" fill="#6767a4"/>
<circle cx="361.3" cy="23.8" r="1.1" fill="#6d5ba4"/>
<circle cx="361.9" cy="23.7" r="1.1" fill="#625ea4"/>
<circle cx="360.1" cy="27.2" r="0.9" fill="#6660a4"/>
<circle cx="363.0" cy="27.3" r="0.9" fill="#6961a4"/>
<ellipse cx="347.8" cy="48.2" rx="4.3" ry="4.0" fill="#8981be" stroke="#a39bd0" stroke-width="0.5"/>
<circle cx="345.9" cy="49.9" r="0.9" fill="#6860a4"/>
<circle cx="349.4" cy="47.5" r="1.0" fill="#6264a4"/>
<circle cx="350.1" cy="48.4" r="1.2" fill="#6f62a4"/>
<circle cx="349.0" cy="46.7" r="1.3" fill="#6a68a4"/>
<circle cx="349.3" cy="48.5" r="1.2" fill="#6463a4"/>
<circle cx="347.4" cy="47.9" r="0.8" fill="#a59cd2"/>
<ellipse cx="369.2" cy="93.1" rx="4.2" ry="4.4" fill="#948bc4" stroke="#a39bd0" stroke-width="0.5"/>
<circle cx="368.0" cy="93.3" r="1.3" fill="#7262aa"/>
<circle cx="370.1" cy="90.6" r="1.0" fill="#746aaa"/>
<circle cx="368.8" cy="94.7" r="0.7" fill="#766daa"/>
<circle cx="366.9" cy="92.9" r="1.0" fill="#6c6aaa"/>
<circle cx="368.5" cy="93.6" r="0.9" fill="#746caa"/>
<ellipse cx="354.3" cy="14.9" rx="3.8" ry="3.5" fill="#968ec4" stroke="#a39bd0" stroke-width="0.5"/>
<circle cx="353.7" cy="13.1" r="0.8" fill="#6f5ca4"/>
<circle cx="352.7" cy="14.4" r="1.2" fill="#6d66a4"/>
<circle cx="356.6" cy="15.2" r="1.0" fill="#6f62a4"/>
<circle cx="354.1" cy="16.1" r="1.3" fill="#6b5ea4"/>
<circle cx="353.1" cy="14.5" r="0.8" fill="#6b61a4"/>
<ellipse cx="458.2" cy="113.8" rx="4.0" ry="4.4" fill="#8f86c2" stroke="#a39bd0" stroke-width="0.5"/>
<circle cx="458.4" cy="113.1" r="1.1" fill="#796eaf"/>
<circle cx="459.1" cy="114.4" r="1.1" fill="#746eaf"/>
<circle cx="458.6" cy="114.8" r="0.9" fill="#716aaf"/>
<circle cx="456.3" cy="113.5" r="1.0" fill="#7474af"/>
<circle cx="459.0" cy="113.2" r="0.7" fill="#746caf"/>
<ellipse cx="380.3" cy="34.9" rx="3.6" ry="3.5" fill="#8a82be" stroke="#a39bd0" stroke-width="0.5"/>
<circle cx="379.2" cy="35.6" r="0.8" fill="#625fa4"/>
<circle cx="381.6" cy="33.4" r="0.8" fill="#6266a4"/>
<circle cx="379.2" cy="36.2" r="1.1" fill="#6261a4"/>
<circle cx="382.3" cy="33.6" r="0.7" fill="#6b65a4"/>
<circle cx="380.1" cy="35.6" r="0.9" fill="#655da4"/>
<circle cx="380.4" cy="34.5" r="0.8" fill="#a59cd2"/>
<ellipse cx="330.1" cy="94.9" rx="3.9" ry="4.1" fill="#a69bd0" stroke="#a39bd0" stroke-width="0.5"/>
<circle cx="328.7" cy="93.3" r="1.1" fill="#8486be"/>
<circle cx="328.1" cy="96.4" r="1.3" fill="#9189be"/>
<circle cx="328.0" cy="96.3" r="0.9" fill="#937cbe"/>
<circle cx="330.2" cy="95.7" r="0.7" fill="#887bbe"/>
<ellipse cx="387.9" cy="88.4" rx="3.9" ry="4.6" fill="#948cc3" stroke="#a39bd0" stroke-width="0.5"/>
<circle cx="386.9" cy="88.2" r="0.8" fill="#6f5ca5"/>
<circle cx="387.9" cy="89.7" r="0.9" fill="#6960a5"/>
<circle cx="386.8" cy="87.3" r="1.1" fill="#6769a5"/>
<circle cx="385.7" cy="88.3" r="1.2" fill="#6465a5"/>
<circle cx="387.7" cy="88.8" r="0.8" fill="#a59cd2"/>
<ellipse cx="327.5" cy="7.6" rx="4.2" ry="4.3" fill="#9088c1" stroke="#a39bd0" stroke-width="0.5"/>
<circle cx="327.6" cy="8.9" r="0.8" fill="#6c63a4"/>
<circle cx="327.7" cy="8.8" r="1.3" fill="#6868a4"/>
<circle cx="327.4" cy="6.5" r="0.8" fill="#655da4"/>
<circle cx="326.6" cy="7.3" r="1.0" fill="#6e63a4"/>
<ellipse cx="420.4" cy="114.3" rx="3.6" ry="4.1" fill="#9e95ca" stroke="#a39bd0" stroke-width="0.5"/>
<circle cx="419.7" cy="116.3" r="1.0" fill="#7778af"/>
<circle cx="419.6" cy="115.4" r="1.0" fill="#7f72af"/>
<circle cx="419.1" cy="116.4" r="1.1" fill="#7c72af"/>
<circle cx="419.1" cy="114.2" r="1.1" fill="#756faf"/>
<circle cx="420.0" cy="112.1" r="0.9" fill="#726aaf"/>
<circle cx="419.3" cy="113.5" r="1.1" fill="#7e69af"/>
<circle cx="420.1" cy="114.3" r="0.8" fill="#a59cd2"/>
<ellipse cx="434.8" cy="75.4" rx="4.0" ry="4.0" fill="#968dc5" stroke="#a39bd0" stroke-width="0.5"/>
<circle cx="435.5" cy="75.7" r="1.3" fill="#7663a7"/>
<circle cx="433.6" cy="77.1" r="1.3" fill="#7266a7"/>
<circle cx="434.7" cy="76.4" r="1.1" fill="#6b6ca7"/>
<circle cx="434.2" cy="75.6" r="0.9" fill="#7464a7"/>
<circle cx="434.6" cy="74.2" r="1.3" fill="#696aa7"/>
<circle cx="434.8" cy="75.4" r="0.8" fill="#a59cd2"/>
<ellipse cx="415.6" cy="52.3" rx="4.1" ry="3.9" fill="#8f87c1" stroke="#a39bd0" stroke-width="0.5"/>
<circle cx="415.4" cy="51.3" r="0.9" fill="#6565a4"/>
<circle cx="415.6" cy="50.7" r="1.3" fill="#6e69a4"/>
<circle cx="414.6" cy="52.7" r="0.8" fill="#695da4"/>
<circle cx="414.4" cy="51.7" r="0.9" fill="#6269a4"/>
<ellipse cx="384.5" cy="12.2" rx="4.3" ry="3.9" fill="#8d85c0" stroke="#a39bd0" stroke-width="0.5"/>
<circle cx="384.5" cy="10.0" r="1.0" fill="#655ca4"/>
<circle cx="384.0" cy="13.2" r="0.8" fill="#6768a4"/>
<circle cx="382.7" cy="13.8" r="0.9" fill="#6d5ba4"/>
<circle cx="384.8" cy="14.7" r="1.1" fill="#6b63a4"/>
<circle cx="384.8" cy="12.3" r="0.8" fill="#a59cd2"/>
<ellipse cx="389.7" cy="126.9" rx="4.4" ry="4.1" fill="#8e85c1" stroke="#a39bd0" stroke-width="0.5"/>
<circle cx="389.9" cy="129.1" r="1.2" fill="#7669ab"/>
<circle cx="388.1" cy="128.6" r="0.9" fill="#6e6cab"/>
<circle cx="388.7" cy="125.8" r="1.0" fill="#6c69ab"/>
<circle cx="390.3" cy="127.4" r="0.7" fill="#796eab"/>
<circle cx="390.0" cy="125.1" r="1.2" fill="#6d71ab"/>
<circle cx="390.5" cy="128.7" r="0.9" fill="#7771ab"/>
<ellipse cx="309.9" cy="88.5" rx="4.5" ry="4.3" fill="#998fc8" stroke="#a39bd0" stroke-width="0.5"/>
<circle cx="309.0" cy="88.1" r="0.7" fill="#8873b6"/>
<circle cx="309.1" cy="87.8" r="1.2" fill="#8780b6"/>
<circle cx="310.6" cy="89.4" r="1.2" fill="#807db6"/>
<circle cx="308.6" cy="89.5" r="0.7" fill="#8174b6"/>
<circle cx="308.8" cy="89.1" r="0.7" fill="#7e7fb6"/>
<ellipse cx="453.7" cy="67.7" rx="3.5" ry="3.6" fill="#8e86c0" stroke="#a39bd0" stroke-width="0.5"/>
<circle cx="451.7" cy="67.5" r="1.1" fill="#6761a5"/>
<circle cx="453.3" cy="66.8" r="1.1" fill="#6d5ca5"/>
<circle cx="454.2" cy="66.3" r="0.8" fill="#6d60a5"/>
<circle cx="452.6" cy="68.2" r="0.7" fill="#696ba5"/>
<circle cx="455.3" cy="69.1" r="1.1" fill="#635ea5"/>
<ellipse cx="459.6" cy="128.5" rx="3.8" ry="4.1" fill="#8880be" stroke="#a39bd0" stroke-width="0.5"/>
<circle cx="458.6" cy="126.6" r="1.2" fill="#6b5ea5"/>
<circle cx="459.4" cy="127.1" r="0.8" fill="#675da5"/>
<circle cx="458.5" cy="126.8" r="1.0" fill="#675fa5"/>
<circle cx="458.7" cy="129.8" r="0.9" fill="#6466a5"/>
<circle cx="458.1" cy="128.6" r="1.0" fill="#735fa5"/>
<ellipse cx="361.7" cy="68.6" rx="4.1" ry="3.7" fill="#9e95ca" stroke="#a39bd0" stroke-width="0.5"/>
<circle cx="362.9" cy="66.5" r="1.0" fill="#7a73b2"/>
<circle cx="361.9" cy="69.3" r="1.1" fill="#7b75b2"/>
<circle cx="360.7" cy="68.0" r="1.2" fill="#7478b2"/>
<circle cx="363.1" cy="68.8" r="1.1" fill="#746fb2"/>
<circle cx="360.1" cy="70.6" r="1.1" fill="#7579b2"/>
<circle cx="360.9" cy="67.8" r="1.1" fill="#7c75b2"/>
<ellipse cx="415.7" cy="1.0" rx="3.7" ry="3.8" fill="#8880bd" stroke="#a39bd0" stroke-width="0.5"/>
<circle cx="414.5" cy="3.3" r="0.8" fill="#7063a4"/>
<circle cx="414.4" cy="0.6" r="1.1" fill="#695da4"/>
<circle cx="416.3" cy="0.8" r="0.8" fill="#7069a4"/>
<circle cx="417.7" cy="-0.4" r="1.2" fill="#6462a4"/>
<circle cx="415.2" cy="1.5" r="1.1" fill="#6f64a4"/>
<circle cx="379" cy="69" r="1.8" fill="#f4f2fa"/>
<circle cx="305.6" cy="83" r="1.6" fill="#f4f2fa"/>
<circle cx="421.5" cy="64.5" r="1.5" fill="#f4f2fa"/>
<circle cx="347" cy="74.5" r="1.2" fill="#f4f2fa"/>
<circle cx="388" cy="62" r="1.0" fill="#f4f2fa"/>
<circle cx="404" cy="87" r="1.2" fill="#f4f2fa"/>
<circle cx="364" cy="49" r="0.9" fill="#2d2560"/>
<circle cx="391.5" cy="63" r="0.9" fill="#2d2560"/>
<circle cx="355" cy="83" r="0.9" fill="#2d2560"/>
<circle cx="411" cy="67" r="0.9" fill="#2d2560"/>
<circle cx="422" cy="66.5" r="0.9" fill="#2d2560"/>
</g>
<rect x="300.6" y="121.60000000000001" width="156.4" height="2.6" fill="#bdb3dc" opacity="0.8"/>
</g>
<defs><clipPath id="ce"><rect x="299.8" y="157.4" width="157.5" height="123.4"/></clipPath><filter id="fe" filterUnits="userSpaceOnUse" x="299.8" y="157.4" width="157.5" height="123.4"><feTurbulence type="fractalNoise" baseFrequency="0.27" numOctaves="2" seed="11" result="n"/><feColorMatrix in="n" type="matrix" values="1.6 0 0 0 -0.3  1.6 0 0 0 -0.3  1.6 0 0 0 -0.3  0 0 0 0 1"/><feComponentTransfer><feFuncR type="table" tableValues="0.46 0.54 0.63 0.70 0.76"/><feFuncG type="table" tableValues="0.35 0.42 0.51 0.58 0.65"/><feFuncB type="table" tableValues="0.65 0.70 0.75 0.79 0.83"/></feComponentTransfer><feGaussianBlur stdDeviation="0.4"/></filter><filter id="fb2" x="-30%" y="-30%" width="160%" height="160%"><feGaussianBlur stdDeviation="2"/></filter><filter id="fb07" x="-30%" y="-30%" width="160%" height="160%"><feGaussianBlur stdDeviation="0.8"/></filter><filter id="fb05" x="-5%" y="-5%" width="110%" height="110%"><feGaussianBlur stdDeviation="0.55"/></filter></defs>
<g clip-path="url(#ce)">
<rect x="299.8" y="157.4" width="157.5" height="123.4" fill="#b49bcb" filter="url(#fe)"/>
<g filter="url(#fb05)">
<circle cx="397.9" cy="248.9" r="1.7" fill="#d3bcdc" opacity="0.55"/>
<circle cx="396.5" cy="251.9" r="1.03" fill="#7f68b0" opacity="0.9"/>
<circle cx="395.8" cy="250.5" r="0.71" fill="#7f68b0" opacity="0.9"/>
<circle cx="395.4" cy="249.0" r="0.75" fill="#7f68b0" opacity="0.9"/>
<circle cx="395.5" cy="246.8" r="0.95" fill="#8a73b7" opacity="0.9"/>
<circle cx="398.3" cy="245.9" r="1.05" fill="#745daa" opacity="0.9"/>
<circle cx="399.8" cy="247.1" r="0.83" fill="#8a73b7" opacity="0.9"/>
<circle cx="401.0" cy="247.9" r="0.84" fill="#7f68b0" opacity="0.9"/>
<circle cx="400.1" cy="250.1" r="1.05" fill="#7f68b0" opacity="0.9"/>
<circle cx="399.1" cy="251.8" r="0.89" fill="#8a73b7" opacity="0.9"/>
<circle cx="425.0" cy="273.7" r="1.8" fill="#d3bcdc" opacity="0.55"/>
<circle cx="427.7" cy="272.8" r="0.85" fill="#745daa" opacity="0.9"/>
<circle cx="426.5" cy="276.5" r="0.96" fill="#8a73b7" opacity="0.9"/>
<circle cx="424.5" cy="276.9" r="1.05" fill="#7f68b0" opacity="0.9"/>
<circle cx="422.8" cy="275.7" r="0.71" fill="#7f68b0" opacity="0.9"/>
<circle cx="422.6" cy="272.0" r="1.05" fill="#8a73b7" opacity="0.9"/>
<circle cx="424.2" cy="270.8" r="1.08" fill="#7f68b0" opacity="0.9"/>
<circle cx="416.3" cy="271.2" r="2.5" fill="#d3bcdc" opacity="0.55"/>
<circle cx="413.0" cy="268.6" r="0.75" fill="#7f68b0" opacity="0.9"/>
<circle cx="416.1" cy="266.8" r="0.96" fill="#745daa" opacity="0.9"/>
<circle cx="419.5" cy="268.5" r="0.83" fill="#7f68b0" opacity="0.9"/>
<circle cx="420.3" cy="270.9" r="0.71" fill="#8a73b7" opacity="0.9"/>
<circle cx="419.7" cy="272.8" r="0.97" fill="#8a73b7" opacity="0.9"/>
<circle cx="418.2" cy="274.4" r="0.94" fill="#8a73b7" opacity="0.9"/>
<circle cx="415.3" cy="275.0" r="0.71" fill="#8a73b7" opacity="0.9"/>
<circle cx="413.0" cy="272.9" r="1.07" fill="#7f68b0" opacity="0.9"/>
<circle cx="304.4" cy="214.9" r="2.2" fill="#d3bcdc" opacity="0.55"/>
<circle cx="300.5" cy="215.4" r="0.87" fill="#745daa" opacity="0.9"/>
<circle cx="306.6" cy="212.2" r="0.85" fill="#8a73b7" opacity="0.9"/>
<circle cx="308.3" cy="215.3" r="0.91" fill="#745daa" opacity="0.9"/>
<circle cx="307.0" cy="216.8" r="0.76" fill="#7f68b0" opacity="0.9"/>
<circle cx="303.4" cy="218.0" r="0.83" fill="#7f68b0" opacity="0.9"/>
<circle cx="301.0" cy="216.9" r="0.80" fill="#745daa" opacity="0.9"/>
<circle cx="373.7" cy="187.8" r="2.4" fill="#d3bcdc" opacity="0.55"/>
<circle cx="372.9" cy="191.4" r="0.81" fill="#8a73b7" opacity="0.9"/>
<circle cx="371.1" cy="191.1" r="0.70" fill="#7f68b0" opacity="0.9"/>
<circle cx="369.7" cy="188.2" r="0.90" fill="#7f68b0" opacity="0.9"/>
<circle cx="370.2" cy="186.4" r="1.10" fill="#7f68b0" opacity="0.9"/>
<circle cx="375.3" cy="184.2" r="0.76" fill="#8a73b7" opacity="0.9"/>
<circle cx="377.0" cy="186.3" r="0.74" fill="#7f68b0" opacity="0.9"/>
<circle cx="377.8" cy="188.3" r="1.05" fill="#7f68b0" opacity="0.9"/>
<circle cx="376.6" cy="189.9" r="0.99" fill="#7f68b0" opacity="0.9"/>
<circle cx="301.9" cy="184.1" r="2.2" fill="#d3bcdc" opacity="0.55"/>
<circle cx="305.2" cy="182.1" r="0.86" fill="#745daa" opacity="0.9"/>
<circle cx="304.7" cy="186.1" r="0.82" fill="#745daa" opacity="0.9"/>
<circle cx="302.4" cy="188.1" r="0.94" fill="#7f68b0" opacity="0.9"/>
<circle cx="301.0" cy="187.3" r="0.84" fill="#8a73b7" opacity="0.9"/>
<circle cx="298.3" cy="185.4" r="1.10" fill="#8a73b7" opacity="0.9"/>
<circle cx="298.3" cy="183.9" r="0.74" fill="#8a73b7" opacity="0.9"/>
<circle cx="299.4" cy="181.5" r="1.06" fill="#8a73b7" opacity="0.9"/>
<circle cx="343.8" cy="270.5" r="2.2" fill="#d3bcdc" opacity="0.55"/>
<circle cx="342.8" cy="267.1" r="1.08" fill="#745daa" opacity="0.9"/>
<circle cx="346.5" cy="267.6" r="1.01" fill="#8a73b7" opacity="0.9"/>
<circle cx="347.1" cy="270.0" r="0.75" fill="#7f68b0" opacity="0.9"/>
<circle cx="345.2" cy="274.1" r="0.88" fill="#745daa" opacity="0.9"/>
<circle cx="341.5" cy="273.2" r="0.75" fill="#745daa" opacity="0.9"/>
<circle cx="340.6" cy="270.5" r="1.00" fill="#745daa" opacity="0.9"/>
<circle cx="341.2" cy="268.5" r="0.92" fill="#745daa" opacity="0.9"/>
<circle cx="397.0" cy="173.0" r="2.0" fill="#d3bcdc" opacity="0.55"/>
<circle cx="397.8" cy="169.7" r="0.93" fill="#7f68b0" opacity="0.9"/>
<circle cx="399.7" cy="171.3" r="0.96" fill="#745daa" opacity="0.9"/>
<circle cx="400.5" cy="173.0" r="0.93" fill="#7f68b0" opacity="0.9"/>
<circle cx="399.1" cy="175.0" r="0.96" fill="#7f68b0" opacity="0.9"/>
<circle cx="397.7" cy="176.6" r="0.87" fill="#745daa" opacity="0.9"/>
<circle cx="396.2" cy="175.8" r="0.71" fill="#8a73b7" opacity="0.9"/>
<circle cx="394.5" cy="174.5" r="0.89" fill="#8a73b7" opacity="0.9"/>
<circle cx="393.6" cy="172.3" r="0.74" fill="#745daa" opacity="0.9"/>
<circle cx="395.0" cy="171.0" r="0.91" fill="#8a73b7" opacity="0.9"/>
<circle cx="395.9" cy="170.2" r="1.01" fill="#8a73b7" opacity="0.9"/>
<circle cx="300.1" cy="264.9" r="2.6" fill="#d3bcdc" opacity="0.55"/>
<circle cx="303.1" cy="262.0" r="0.71" fill="#8a73b7" opacity="0.9"/>
<circle cx="304.0" cy="263.9" r="0.74" fill="#8a73b7" opacity="0.9"/>
<circle cx="304.2" cy="265.5" r="1.05" fill="#7f68b0" opacity="0.9"/>
<circle cx="303.3" cy="267.7" r="0.98" fill="#7f68b0" opacity="0.9"/>
<circle cx="300.5" cy="268.6" r="1.09" fill="#8a73b7" opacity="0.9"/>
<circle cx="297.2" cy="267.5" r="1.09" fill="#7f68b0" opacity="0.9"/>
<circle cx="295.6" cy="265.5" r="0.71" fill="#7f68b0" opacity="0.9"/>
<circle cx="296.8" cy="263.1" r="1.01" fill="#745daa" opacity="0.9"/>
<circle cx="297.3" cy="261.3" r="1.10" fill="#7f68b0" opacity="0.9"/>
<circle cx="300.9" cy="260.8" r="1.08" fill="#8a73b7" opacity="0.9"/>
<circle cx="332.8" cy="184.0" r="2.0" fill="#d3bcdc" opacity="0.55"/>
<circle cx="331.1" cy="186.4" r="1.00" fill="#745daa" opacity="0.9"/>
<circle cx="330.5" cy="185.8" r="0.73" fill="#745daa" opacity="0.9"/>
<circle cx="329.1" cy="183.2" r="1.02" fill="#7f68b0" opacity="0.9"/>
<circle cx="333.7" cy="180.6" r="0.89" fill="#745daa" opacity="0.9"/>
<circle cx="336.0" cy="182.7" r="0.98" fill="#745daa" opacity="0.9"/>
<circle cx="336.4" cy="183.6" r="0.76" fill="#745daa" opacity="0.9"/>
<circle cx="335.4" cy="185.9" r="0.73" fill="#7f68b0" opacity="0.9"/>
<circle cx="333.3" cy="187.4" r="1.06" fill="#745daa" opacity="0.9"/>
<circle cx="454.5" cy="265.1" r="2.4" fill="#d3bcdc" opacity="0.55"/>
<circle cx="454.2" cy="268.5" r="1.06" fill="#7f68b0" opacity="0.9"/>
<circle cx="450.9" cy="266.0" r="0.73" fill="#8a73b7" opacity="0.9"/>
<circle cx="451.9" cy="262.6" r="0.73" fill="#7f68b0" opacity="0.9"/>
<circle cx="453.3" cy="261.9" r="0.83" fill="#745daa" opacity="0.9"/>
<circle cx="457.3" cy="262.4" r="0.92" fill="#8a73b7" opacity="0.9"/>
<circle cx="458.7" cy="264.4" r="0.87" fill="#7f68b0" opacity="0.9"/>
<circle cx="457.9" cy="266.5" r="1.07" fill="#8a73b7" opacity="0.9"/>
<circle cx="332.1" cy="273.5" r="2.1" fill="#d3bcdc" opacity="0.55"/>
<circle cx="335.0" cy="275.0" r="0.80" fill="#745daa" opacity="0.9"/>
<circle cx="330.8" cy="276.6" r="0.91" fill="#745daa" opacity="0.9"/>
<circle cx="329.3" cy="275.8" r="0.97" fill="#8a73b7" opacity="0.9"/>
<circle cx="328.5" cy="274.3" r="0.90" fill="#8a73b7" opacity="0.9"/>
<circle cx="329.3" cy="272.2" r="0.78" fill="#745daa" opacity="0.9"/>
<circle cx="330.7" cy="270.5" r="0.81" fill="#7f68b0" opacity="0.9"/>
<circle cx="332.2" cy="270.2" r="0.73" fill="#7f68b0" opacity="0.9"/>
<circle cx="334.4" cy="271.2" r="0.76" fill="#7f68b0" opacity="0.9"/>
<circle cx="440.6" cy="194.3" r="2.1" fill="#d3bcdc" opacity="0.55"/>
<circle cx="443.6" cy="192.7" r="1.03" fill="#7f68b0" opacity="0.9"/>
<circle cx="443.4" cy="196.6" r="0.88" fill="#745daa" opacity="0.9"/>
<circle cx="440.4" cy="197.3" r="0.83" fill="#745daa" opacity="0.9"/>
<circle cx="439.1" cy="197.7" r="0.83" fill="#745daa" opacity="0.9"/>
<circle cx="437.7" cy="195.4" r="0.82" fill="#8a73b7" opacity="0.9"/>
<circle cx="437.0" cy="194.2" r="0.93" fill="#7f68b0" opacity="0.9"/>
<circle cx="438.0" cy="192.2" r="0.98" fill="#745daa" opacity="0.9"/>
<circle cx="439.5" cy="191.1" r="1.05" fill="#8a73b7" opacity="0.9"/>
<circle cx="441.9" cy="191.4" r="0.84" fill="#8a73b7" opacity="0.9"/>
<circle cx="356.7" cy="177.9" r="1.6" fill="#d3bcdc" opacity="0.55"/>
<circle cx="354.8" cy="176.1" r="1.08" fill="#745daa" opacity="0.9"/>
<circle cx="356.8" cy="175.5" r="0.84" fill="#8a73b7" opacity="0.9"/>
<circle cx="358.7" cy="175.7" r="0.79" fill="#7f68b0" opacity="0.9"/>
<circle cx="359.3" cy="177.1" r="0.99" fill="#8a73b7" opacity="0.9"/>
<circle cx="357.4" cy="180.6" r="0.98" fill="#8a73b7" opacity="0.9"/>
<circle cx="355.6" cy="180.6" r="1.00" fill="#8a73b7" opacity="0.9"/>
<circle cx="354.0" cy="179.3" r="1.06" fill="#745daa" opacity="0.9"/>
<circle cx="354.3" cy="178.0" r="0.74" fill="#745daa" opacity="0.9"/>
<circle cx="322.7" cy="165.4" r="2.5" fill="#d3bcdc" opacity="0.55"/>
<circle cx="324.4" cy="162.1" r="0.97" fill="#8a73b7" opacity="0.9"/>
<circle cx="326.3" cy="163.0" r="1.04" fill="#7f68b0" opacity="0.9"/>
<circle cx="326.7" cy="165.8" r="0.90" fill="#7f68b0" opacity="0.9"/>
<circle cx="325.8" cy="167.4" r="0.74" fill="#7f68b0" opacity="0.9"/>
<circle cx="322.3" cy="169.7" r="1.05" fill="#8a73b7" opacity="0.9"/>
<circle cx="319.9" cy="168.0" r="0.76" fill="#7f68b0" opacity="0.9"/>
<circle cx="318.6" cy="166.8" r="1.01" fill="#8a73b7" opacity="0.9"/>
<circle cx="319.7" cy="163.3" r="0.73" fill="#745daa" opacity="0.9"/>
<circle cx="300.3" cy="241.1" r="2.6" fill="#d3bcdc" opacity="0.55"/>
<circle cx="304.0" cy="243.8" r="1.06" fill="#8a73b7" opacity="0.9"/>
<circle cx="301.7" cy="244.5" r="0.78" fill="#8a73b7" opacity="0.9"/>
<circle cx="300.3" cy="244.8" r="0.79" fill="#8a73b7" opacity="0.9"/>
<circle cx="298.5" cy="244.7" r="0.84" fill="#7f68b0" opacity="0.9"/>
<circle cx="296.3" cy="242.0" r="0.81" fill="#8a73b7" opacity="0.9"/>
<circle cx="296.7" cy="239.8" r="0.98" fill="#7f68b0" opacity="0.9"/>
<circle cx="297.8" cy="237.7" r="0.84" fill="#7f68b0" opacity="0.9"/>
<circle cx="300.1" cy="236.8" r="1.10" fill="#745daa" opacity="0.9"/>
<circle cx="302.4" cy="237.5" r="0.81" fill="#745daa" opacity="0.9"/>
<circle cx="304.4" cy="239.3" r="0.97" fill="#745daa" opacity="0.9"/>
<circle cx="353.0" cy="195.6" r="2.3" fill="#d3bcdc" opacity="0.55"/>
<circle cx="356.5" cy="197.7" r="1.05" fill="#745daa" opacity="0.9"/>
<circle cx="354.2" cy="199.2" r="1.05" fill="#8a73b7" opacity="0.9"/>
<circle cx="351.7" cy="199.3" r="0.95" fill="#745daa" opacity="0.9"/>
<circle cx="349.7" cy="197.4" r="0.81" fill="#7f68b0" opacity="0.9"/>
<circle cx="349.7" cy="193.6" r="0.75" fill="#8a73b7" opacity="0.9"/>
<circle cx="352.6" cy="192.4" r="0.89" fill="#745daa" opacity="0.9"/>
<circle cx="355.0" cy="192.4" r="0.77" fill="#745daa" opacity="0.9"/>
<circle cx="356.5" cy="193.9" r="0.79" fill="#8a73b7" opacity="0.9"/>
<circle cx="356.8" cy="195.4" r="0.95" fill="#745daa" opacity="0.9"/>
<circle cx="428.7" cy="216.7" r="2.4" fill="#d3bcdc" opacity="0.55"/>
<circle cx="427.3" cy="220.5" r="0.81" fill="#7f68b0" opacity="0.9"/>
<circle cx="426.0" cy="219.7" r="0.78" fill="#8a73b7" opacity="0.9"/>
<circle cx="424.5" cy="217.4" r="0.75" fill="#8a73b7" opacity="0.9"/>
<circle cx="426.2" cy="214.3" r="0.86" fill="#8a73b7" opacity="0.9"/>
<circle cx="430.6" cy="213.7" r="0.80" fill="#8a73b7" opacity="0.9"/>
<circle cx="432.4" cy="215.5" r="1.03" fill="#745daa" opacity="0.9"/>
<circle cx="430.0" cy="220.3" r="0.80" fill="#745daa" opacity="0.9"/>
<circle cx="417.9" cy="261.7" r="2.1" fill="#d3bcdc" opacity="0.55"/>
<circle cx="418.3" cy="258.5" r="0.95" fill="#745daa" opacity="0.9"/>
<circle cx="420.9" cy="260.1" r="0.81" fill="#745daa" opacity="0.9"/>
<circle cx="420.8" cy="261.5" r="0.91" fill="#8a73b7" opacity="0.9"/>
<circle cx="420.7" cy="263.4" r="1.09" fill="#8a73b7" opacity="0.9"/>
<circle cx="418.3" cy="264.8" r="0.76" fill="#7f68b0" opacity="0.9"/>
<circle cx="417.4" cy="265.2" r="1.01" fill="#745daa" opacity="0.9"/>
<circle cx="415.2" cy="264.2" r="0.70" fill="#7f68b0" opacity="0.9"/>
<circle cx="414.1" cy="261.0" r="0.72" fill="#8a73b7" opacity="0.9"/>
<circle cx="415.0" cy="259.7" r="0.86" fill="#8a73b7" opacity="0.9"/>
<circle cx="417.3" cy="258.6" r="0.72" fill="#8a73b7" opacity="0.9"/>
<circle cx="302.6" cy="254.6" r="2.1" fill="#d3bcdc" opacity="0.55"/>
<circle cx="306.4" cy="254.7" r="0.77" fill="#8a73b7" opacity="0.9"/>
<circle cx="305.4" cy="256.7" r="0.86" fill="#745daa" opacity="0.9"/>
<circle cx="303.9" cy="257.6" r="0.90" fill="#7f68b0" opacity="0.9"/>
<circle cx="301.7" cy="257.8" r="1.08" fill="#7f68b0" opacity="0.9"/>
<circle cx="299.5" cy="256.8" r="0.90" fill="#745daa" opacity="0.9"/>
<circle cx="299.0" cy="254.0" r="0.88" fill="#745daa" opacity="0.9"/>
<circle cx="299.6" cy="252.5" r="0.72" fill="#745daa" opacity="0.9"/>
<circle cx="304.0" cy="251.9" r="1.07" fill="#7f68b0" opacity="0.9"/>
<circle cx="305.4" cy="253.5" r="0.88" fill="#745daa" opacity="0.9"/>
<circle cx="301.2" cy="163.2" r="2.0" fill="#d3bcdc" opacity="0.55"/>
<circle cx="300.4" cy="165.9" r="0.72" fill="#7f68b0" opacity="0.9"/>
<circle cx="298.4" cy="164.8" r="1.05" fill="#745daa" opacity="0.9"/>
<circle cx="298.0" cy="163.1" r="0.95" fill="#745daa" opacity="0.9"/>
<circle cx="300.2" cy="160.1" r="0.90" fill="#8a73b7" opacity="0.9"/>
<circle cx="301.9" cy="160.4" r="1.00" fill="#745daa" opacity="0.9"/>
<circle cx="304.3" cy="161.5" r="0.81" fill="#7f68b0" opacity="0.9"/>
<circle cx="304.1" cy="162.6" r="1.09" fill="#745daa" opacity="0.9"/>
<circle cx="303.1" cy="165.2" r="1.09" fill="#8a73b7" opacity="0.9"/>
<circle cx="302.9" cy="166.3" r="1.07" fill="#8a73b7" opacity="0.9"/>
<circle cx="330.8" cy="250.7" r="1.7" fill="#d3bcdc" opacity="0.55"/>
<circle cx="332.3" cy="248.6" r="0.95" fill="#7f68b0" opacity="0.9"/>
<circle cx="332.9" cy="249.5" r="0.94" fill="#7f68b0" opacity="0.9"/>
<circle cx="333.2" cy="251.1" r="0.80" fill="#745daa" opacity="0.9"/>
<circle cx="332.6" cy="253.0" r="0.74" fill="#8a73b7" opacity="0.9"/>
<circle cx="330.2" cy="253.1" r="0.86" fill="#7f68b0" opacity="0.9"/>
<circle cx="330.6" cy="247.6" r="1.00" fill="#8a73b7" opacity="0.9"/>
<circle cx="446.2" cy="273.6" r="2.4" fill="#d3bcdc" opacity="0.55"/>
<circle cx="450.5" cy="273.3" r="0.72" fill="#745daa" opacity="0.9"/>
<circle cx="449.7" cy="275.6" r="0.73" fill="#7f68b0" opacity="0.9"/>
<circle cx="446.2" cy="277.2" r="0.86" fill="#745daa" opacity="0.9"/>
<circle cx="443.1" cy="275.5" r="1.02" fill="#7f68b0" opacity="0.9"/>
<circle cx="442.7" cy="271.5" r="0.87" fill="#745daa" opacity="0.9"/>
<circle cx="448.9" cy="271.4" r="1.03" fill="#8a73b7" opacity="0.9"/>
<circle cx="382.4" cy="253.1" r="1.8" fill="#d3bcdc" opacity="0.55"/>
<circle cx="385.6" cy="254.2" r="1.00" fill="#8a73b7" opacity="0.9"/>
<circle cx="384.1" cy="255.5" r="0.83" fill="#8a73b7" opacity="0.9"/>
<circle cx="382.3" cy="256.5" r="0.76" fill="#745daa" opacity="0.9"/>
<circle cx="380.2" cy="255.3" r="0.89" fill="#8a73b7" opacity="0.9"/>
<circle cx="379.5" cy="253.7" r="1.07" fill="#7f68b0" opacity="0.9"/>
<circle cx="379.8" cy="251.3" r="0.95" fill="#8a73b7" opacity="0.9"/>
<circle cx="382.2" cy="250.4" r="1.00" fill="#745daa" opacity="0.9"/>
<circle cx="384.0" cy="250.9" r="0.99" fill="#745daa" opacity="0.9"/>
<circle cx="316.8" cy="249.8" r="2.5" fill="#d3bcdc" opacity="0.55"/>
<circle cx="315.2" cy="254.0" r="0.76" fill="#745daa" opacity="0.9"/>
<circle cx="314.2" cy="252.3" r="0.93" fill="#8a73b7" opacity="0.9"/>
<circle cx="312.4" cy="250.4" r="1.05" fill="#7f68b0" opacity="0.9"/>
<circle cx="312.8" cy="248.7" r="0.70" fill="#7f68b0" opacity="0.9"/>
<circle cx="313.8" cy="246.9" r="0.90" fill="#7f68b0" opacity="0.9"/>
<circle cx="316.4" cy="246.0" r="1.07" fill="#745daa" opacity="0.9"/>
<circle cx="319.0" cy="246.6" r="0.79" fill="#7f68b0" opacity="0.9"/>
<circle cx="320.3" cy="248.3" r="0.82" fill="#7f68b0" opacity="0.9"/>
<circle cx="321.1" cy="249.8" r="1.00" fill="#8a73b7" opacity="0.9"/>
<circle cx="319.7" cy="252.8" r="0.85" fill="#745daa" opacity="0.9"/>
<circle cx="318.6" cy="253.1" r="1.04" fill="#8a73b7" opacity="0.9"/>
<circle cx="305.6" cy="274.1" r="2.5" fill="#d3bcdc" opacity="0.55"/>
<circle cx="301.7" cy="275.5" r="1.10" fill="#8a73b7" opacity="0.9"/>
<circle cx="301.6" cy="273.1" r="1.08" fill="#8a73b7" opacity="0.9"/>
<circle cx="303.5" cy="270.9" r="0.72" fill="#8a73b7" opacity="0.9"/>
<circle cx="304.8" cy="270.4" r="0.75" fill="#8a73b7" opacity="0.9"/>
<circle cx="307.4" cy="270.5" r="0.77" fill="#8a73b7" opacity="0.9"/>
<circle cx="309.6" cy="272.2" r="0.73" fill="#7f68b0" opacity="0.9"/>
<circle cx="309.4" cy="275.0" r="0.94" fill="#745daa" opacity="0.9"/>
<circle cx="308.9" cy="275.5" r="0.89" fill="#745daa" opacity="0.9"/>
<circle cx="305.7" cy="277.9" r="1.00" fill="#745daa" opacity="0.9"/>
<circle cx="302.7" cy="277.1" r="0.84" fill="#7f68b0" opacity="0.9"/>
<circle cx="314.2" cy="199.4" r="2.2" fill="#d3bcdc" opacity="0.55"/>
<circle cx="313.9" cy="203.1" r="0.81" fill="#7f68b0" opacity="0.9"/>
<circle cx="312.5" cy="202.5" r="0.86" fill="#7f68b0" opacity="0.9"/>
<circle cx="310.8" cy="201.6" r="1.09" fill="#745daa" opacity="0.9"/>
<circle cx="310.5" cy="198.4" r="0.94" fill="#7f68b0" opacity="0.9"/>
<circle cx="311.8" cy="196.6" r="0.81" fill="#7f68b0" opacity="0.9"/>
<circle cx="313.8" cy="195.9" r="0.72" fill="#7f68b0" opacity="0.9"/>
<circle cx="315.9" cy="195.9" r="0.77" fill="#745daa" opacity="0.9"/>
<circle cx="316.9" cy="197.9" r="0.95" fill="#7f68b0" opacity="0.9"/>
<circle cx="317.8" cy="199.7" r="0.99" fill="#8a73b7" opacity="0.9"/>
<circle cx="316.1" cy="202.1" r="0.99" fill="#7f68b0" opacity="0.9"/>
<circle cx="353.3" cy="271.4" r="2.1" fill="#d3bcdc" opacity="0.55"/>
<circle cx="352.8" cy="268.0" r="1.06" fill="#8a73b7" opacity="0.9"/>
<circle cx="354.6" cy="268.1" r="0.84" fill="#8a73b7" opacity="0.9"/>
<circle cx="356.2" cy="270.3" r="0.74" fill="#7f68b0" opacity="0.9"/>
<circle cx="356.6" cy="271.6" r="0.85" fill="#8a73b7" opacity="0.9"/>
<circle cx="356.2" cy="273.1" r="0.90" fill="#7f68b0" opacity="0.9"/>
<circle cx="354.3" cy="274.5" r="0.79" fill="#745daa" opacity="0.9"/>
<circle cx="351.7" cy="274.2" r="0.97" fill="#8a73b7" opacity="0.9"/>
<circle cx="350.1" cy="273.1" r="0.90" fill="#7f68b0" opacity="0.9"/>
<circle cx="349.9" cy="271.3" r="0.81" fill="#7f68b0" opacity="0.9"/>
<circle cx="350.8" cy="269.5" r="1.08" fill="#7f68b0" opacity="0.9"/>
<circle cx="385.7" cy="196.0" r="2.2" fill="#d3bcdc" opacity="0.55"/>
<circle cx="382.4" cy="197.7" r="0.94" fill="#7f68b0" opacity="0.9"/>
<circle cx="381.9" cy="195.5" r="0.85" fill="#8a73b7" opacity="0.9"/>
<circle cx="383.1" cy="193.1" r="0.90" fill="#8a73b7" opacity="0.9"/>
<circle cx="385.6" cy="192.8" r="0.82" fill="#8a73b7" opacity="0.9"/>
<circle cx="387.7" cy="192.9" r="0.78" fill="#745daa" opacity="0.9"/>
<circle cx="389.0" cy="193.9" r="0.83" fill="#7f68b0" opacity="0.9"/>
<circle cx="388.8" cy="195.9" r="0.98" fill="#7f68b0" opacity="0.9"/>
<circle cx="388.7" cy="198.0" r="1.01" fill="#745daa" opacity="0.9"/>
<circle cx="386.4" cy="199.2" r="0.93" fill="#7f68b0" opacity="0.9"/>
<circle cx="312.1" cy="175.8" r="1.9" fill="#d3bcdc" opacity="0.55"/>
<circle cx="311.4" cy="173.0" r="1.05" fill="#745daa" opacity="0.9"/>
<circle cx="313.3" cy="172.5" r="0.86" fill="#7f68b0" opacity="0.9"/>
<circle cx="314.4" cy="174.4" r="0.94" fill="#8a73b7" opacity="0.9"/>
<circle cx="315.5" cy="176.5" r="1.00" fill="#745daa" opacity="0.9"/>
<circle cx="314.3" cy="178.3" r="0.81" fill="#8a73b7" opacity="0.9"/>
<circle cx="311.8" cy="178.4" r="1.08" fill="#745daa" opacity="0.9"/>
<circle cx="308.7" cy="176.3" r="0.88" fill="#8a73b7" opacity="0.9"/>
<circle cx="309.6" cy="174.4" r="0.84" fill="#8a73b7" opacity="0.9"/>
<circle cx="363.7" cy="186.7" r="1.6" fill="#d3bcdc" opacity="0.55"/>
<circle cx="362.9" cy="188.9" r="0.94" fill="#8a73b7" opacity="0.9"/>
<circle cx="361.0" cy="185.9" r="0.86" fill="#745daa" opacity="0.9"/>
<circle cx="361.8" cy="184.5" r="0.76" fill="#745daa" opacity="0.9"/>
<circle cx="363.9" cy="183.9" r="0.77" fill="#7f68b0" opacity="0.9"/>
<circle cx="366.7" cy="185.9" r="0.84" fill="#7f68b0" opacity="0.9"/>
<circle cx="366.2" cy="188.2" r="0.90" fill="#745daa" opacity="0.9"/>
<circle cx="364.8" cy="188.7" r="0.94" fill="#745daa" opacity="0.9"/>
<circle cx="393.3" cy="259.4" r="2.1" fill="#d3bcdc" opacity="0.55"/>
<circle cx="396.4" cy="258.3" r="0.90" fill="#8a73b7" opacity="0.9"/>
<circle cx="396.5" cy="260.5" r="0.82" fill="#8a73b7" opacity="0.9"/>
<circle cx="395.1" cy="262.2" r="0.73" fill="#745daa" opacity="0.9"/>
<circle cx="392.9" cy="262.7" r="0.77" fill="#8a73b7" opacity="0.9"/>
<circle cx="390.2" cy="260.2" r="0.95" fill="#7f68b0" opacity="0.9"/>
<circle cx="390.7" cy="257.9" r="0.87" fill="#8a73b7" opacity="0.9"/>
<circle cx="393.7" cy="255.6" r="0.80" fill="#8a73b7" opacity="0.9"/>
<circle cx="371.6" cy="209.4" r="2.5" fill="#d3bcdc" opacity="0.55"/>
<circle cx="375.0" cy="210.6" r="0.82" fill="#8a73b7" opacity="0.9"/>
<circle cx="373.2" cy="212.6" r="0.97" fill="#7f68b0" opacity="0.9"/>
<circle cx="372.2" cy="213.2" r="1.07" fill="#745daa" opacity="0.9"/>
<circle cx="369.1" cy="213.1" r="0.87" fill="#8a73b7" opacity="0.9"/>
<circle cx="367.9" cy="211.3" r="0.72" fill="#745daa" opacity="0.9"/>
<circle cx="370.9" cy="205.3" r="0.94" fill="#8a73b7" opacity="0.9"/>
<circle cx="372.4" cy="205.7" r="1.00" fill="#745daa" opacity="0.9"/>
<circle cx="375.5" cy="209.3" r="0.72" fill="#7f68b0" opacity="0.9"/>
<circle cx="316.6" cy="211.0" r="2.1" fill="#d3bcdc" opacity="0.55"/>
<circle cx="314.1" cy="213.3" r="0.94" fill="#8a73b7" opacity="0.9"/>
<circle cx="313.4" cy="211.6" r="0.97" fill="#7f68b0" opacity="0.9"/>
<circle cx="313.7" cy="210.1" r="1.08" fill="#8a73b7" opacity="0.9"/>
<circle cx="314.6" cy="208.1" r="1.02" fill="#7f68b0" opacity="0.9"/>
<circle cx="318.7" cy="208.5" r="0.75" fill="#8a73b7" opacity="0.9"/>
<circle cx="319.5" cy="210.1" r="1.03" fill="#8a73b7" opacity="0.9"/>
<circle cx="319.4" cy="212.4" r="0.80" fill="#8a73b7" opacity="0.9"/>
<circle cx="317.7" cy="214.0" r="0.89" fill="#8a73b7" opacity="0.9"/>
<circle cx="316.7" cy="214.9" r="0.79" fill="#745daa" opacity="0.9"/>
<circle cx="323.3" cy="261.6" r="2.5" fill="#d3bcdc" opacity="0.55"/>
<circle cx="320.0" cy="262.9" r="0.84" fill="#745daa" opacity="0.9"/>
<circle cx="320.3" cy="258.6" r="0.81" fill="#745daa" opacity="0.9"/>
<circle cx="326.4" cy="259.6" r="0.91" fill="#7f68b0" opacity="0.9"/>
<circle cx="327.5" cy="261.7" r="1.04" fill="#8a73b7" opacity="0.9"/>
<circle cx="326.3" cy="263.7" r="0.81" fill="#7f68b0" opacity="0.9"/>
<circle cx="324.4" cy="265.6" r="0.75" fill="#745daa" opacity="0.9"/>
<circle cx="359.2" cy="279.4" r="2.1" fill="#d3bcdc" opacity="0.55"/>
<circle cx="358.9" cy="282.8" r="0.77" fill="#7f68b0" opacity="0.9"/>
<circle cx="356.4" cy="281.1" r="0.75" fill="#8a73b7" opacity="0.9"/>
<circle cx="355.5" cy="279.3" r="1.02" fill="#745daa" opacity="0.9"/>
<circle cx="357.0" cy="277.4" r="0.92" fill="#7f68b0" opacity="0.9"/>
<circle cx="358.1" cy="276.1" r="0.86" fill="#745daa" opacity="0.9"/>
<circle cx="361.9" cy="277.2" r="0.92" fill="#8a73b7" opacity="0.9"/>
<circle cx="362.5" cy="279.3" r="0.74" fill="#8a73b7" opacity="0.9"/>
<circle cx="361.6" cy="281.6" r="0.96" fill="#8a73b7" opacity="0.9"/>
<circle cx="360.4" cy="282.2" r="0.90" fill="#8a73b7" opacity="0.9"/>
<circle cx="313.8" cy="191.0" r="2.4" fill="#d3bcdc" opacity="0.55"/>
<circle cx="314.8" cy="187.2" r="0.76" fill="#8a73b7" opacity="0.9"/>
<circle cx="317.3" cy="189.8" r="0.89" fill="#7f68b0" opacity="0.9"/>
<circle cx="316.8" cy="193.8" r="0.98" fill="#8a73b7" opacity="0.9"/>
<circle cx="315.4" cy="194.9" r="0.96" fill="#8a73b7" opacity="0.9"/>
<circle cx="312.7" cy="194.3" r="0.92" fill="#7f68b0" opacity="0.9"/>
<circle cx="311.1" cy="194.1" r="0.94" fill="#745daa" opacity="0.9"/>
<circle cx="309.8" cy="191.4" r="0.91" fill="#7f68b0" opacity="0.9"/>
<circle cx="310.3" cy="188.6" r="0.72" fill="#8a73b7" opacity="0.9"/>
<circle cx="312.5" cy="187.0" r="0.71" fill="#745daa" opacity="0.9"/>
<circle cx="356.7" cy="254.4" r="2.3" fill="#d3bcdc" opacity="0.55"/>
<circle cx="360.1" cy="252.8" r="1.07" fill="#8a73b7" opacity="0.9"/>
<circle cx="357.0" cy="258.1" r="0.78" fill="#745daa" opacity="0.9"/>
<circle cx="355.7" cy="258.2" r="0.94" fill="#7f68b0" opacity="0.9"/>
<circle cx="353.6" cy="256.0" r="1.02" fill="#7f68b0" opacity="0.9"/>
<circle cx="353.0" cy="254.1" r="1.00" fill="#7f68b0" opacity="0.9"/>
<circle cx="354.0" cy="252.2" r="0.99" fill="#7f68b0" opacity="0.9"/>
<circle cx="356.5" cy="250.7" r="0.86" fill="#745daa" opacity="0.9"/>
<circle cx="358.6" cy="251.4" r="0.84" fill="#8a73b7" opacity="0.9"/>
<circle cx="421.8" cy="243.1" r="1.7" fill="#d3bcdc" opacity="0.55"/>
<circle cx="424.1" cy="242.9" r="0.75" fill="#745daa" opacity="0.9"/>
<circle cx="423.9" cy="244.1" r="0.71" fill="#745daa" opacity="0.9"/>
<circle cx="423.4" cy="245.7" r="0.75" fill="#7f68b0" opacity="0.9"/>
<circle cx="420.9" cy="245.8" r="0.93" fill="#7f68b0" opacity="0.9"/>
<circle cx="419.1" cy="244.4" r="1.03" fill="#745daa" opacity="0.9"/>
<circle cx="419.1" cy="242.8" r="0.77" fill="#745daa" opacity="0.9"/>
<circle cx="420.4" cy="241.1" r="1.02" fill="#7f68b0" opacity="0.9"/>
<circle cx="421.4" cy="240.9" r="0.93" fill="#8a73b7" opacity="0.9"/>
<circle cx="423.6" cy="241.1" r="0.84" fill="#7f68b0" opacity="0.9"/>
<circle cx="357.0" cy="244.3" r="2.1" fill="#d3bcdc" opacity="0.55"/>
<circle cx="360.5" cy="244.3" r="0.97" fill="#8a73b7" opacity="0.9"/>
<circle cx="358.7" cy="247.2" r="1.06" fill="#7f68b0" opacity="0.9"/>
<circle cx="354.2" cy="245.1" r="0.86" fill="#7f68b0" opacity="0.9"/>
<circle cx="354.1" cy="242.4" r="0.80" fill="#745daa" opacity="0.9"/>
<circle cx="355.7" cy="241.5" r="1.04" fill="#8a73b7" opacity="0.9"/>
<circle cx="357.3" cy="241.4" r="1.10" fill="#8a73b7" opacity="0.9"/>
<circle cx="359.5" cy="241.5" r="0.88" fill="#7f68b0" opacity="0.9"/>
<circle cx="402.1" cy="229.1" r="2.2" fill="#d3bcdc" opacity="0.55"/>
<circle cx="406.0" cy="228.1" r="1.03" fill="#8a73b7" opacity="0.9"/>
<circle cx="405.4" cy="230.9" r="1.04" fill="#745daa" opacity="0.9"/>
<circle cx="404.4" cy="232.0" r="1.07" fill="#7f68b0" opacity="0.9"/>
<circle cx="401.2" cy="232.1" r="0.95" fill="#8a73b7" opacity="0.9"/>
<circle cx="399.6" cy="231.0" r="0.70" fill="#7f68b0" opacity="0.9"/>
<circle cx="398.5" cy="229.7" r="0.78" fill="#745daa" opacity="0.9"/>
<circle cx="399.2" cy="227.4" r="0.86" fill="#745daa" opacity="0.9"/>
<circle cx="400.6" cy="226.0" r="1.03" fill="#745daa" opacity="0.9"/>
<circle cx="402.7" cy="225.5" r="0.76" fill="#7f68b0" opacity="0.9"/>
<circle cx="404.9" cy="226.4" r="0.90" fill="#8a73b7" opacity="0.9"/>
<circle cx="301.6" cy="224.9" r="2.1" fill="#d3bcdc" opacity="0.55"/>
<circle cx="304.9" cy="226.1" r="1.06" fill="#7f68b0" opacity="0.9"/>
<circle cx="303.5" cy="227.9" r="0.81" fill="#7f68b0" opacity="0.9"/>
<circle cx="301.9" cy="227.8" r="0.97" fill="#7f68b0" opacity="0.9"/>
<circle cx="300.5" cy="227.7" r="1.03" fill="#7f68b0" opacity="0.9"/>
<circle cx="298.5" cy="226.4" r="0.93" fill="#745daa" opacity="0.9"/>
<circle cx="298.5" cy="223.7" r="0.87" fill="#8a73b7" opacity="0.9"/>
<circle cx="299.9" cy="222.0" r="1.05" fill="#8a73b7" opacity="0.9"/>
<circle cx="303.2" cy="221.9" r="0.94" fill="#745daa" opacity="0.9"/>
<circle cx="304.7" cy="224.0" r="1.01" fill="#745daa" opacity="0.9"/>
<circle cx="339.3" cy="240.3" r="2.1" fill="#d3bcdc" opacity="0.55"/>
<circle cx="341.7" cy="237.7" r="0.91" fill="#7f68b0" opacity="0.9"/>
<circle cx="343.0" cy="239.6" r="0.79" fill="#7f68b0" opacity="0.9"/>
<circle cx="342.5" cy="240.8" r="0.95" fill="#7f68b0" opacity="0.9"/>
<circle cx="341.3" cy="242.5" r="0.82" fill="#8a73b7" opacity="0.9"/>
<circle cx="339.1" cy="243.5" r="0.72" fill="#7f68b0" opacity="0.9"/>
<circle cx="337.4" cy="243.5" r="0.77" fill="#8a73b7" opacity="0.9"/>
<circle cx="336.5" cy="241.6" r="0.85" fill="#8a73b7" opacity="0.9"/>
<circle cx="336.9" cy="237.4" r="0.77" fill="#7f68b0" opacity="0.9"/>
<circle cx="372.7" cy="258.2" r="1.9" fill="#d3bcdc" opacity="0.55"/>
<circle cx="374.0" cy="255.7" r="0.92" fill="#8a73b7" opacity="0.9"/>
<circle cx="375.8" cy="257.0" r="0.76" fill="#8a73b7" opacity="0.9"/>
<circle cx="375.8" cy="259.4" r="1.00" fill="#745daa" opacity="0.9"/>
<circle cx="374.5" cy="260.8" r="0.94" fill="#8a73b7" opacity="0.9"/>
<circle cx="371.0" cy="261.1" r="0.81" fill="#7f68b0" opacity="0.9"/>
<circle cx="370.1" cy="259.0" r="1.08" fill="#8a73b7" opacity="0.9"/>
<circle cx="370.3" cy="257.3" r="1.02" fill="#7f68b0" opacity="0.9"/>
<circle cx="372.1" cy="255.2" r="1.03" fill="#8a73b7" opacity="0.9"/>
<circle cx="436.8" cy="242.3" r="2.0" fill="#d3bcdc" opacity="0.55"/>
<circle cx="437.6" cy="239.7" r="0.83" fill="#8a73b7" opacity="0.9"/>
<circle cx="439.3" cy="240.4" r="0.83" fill="#745daa" opacity="0.9"/>
<circle cx="439.7" cy="242.6" r="0.94" fill="#7f68b0" opacity="0.9"/>
<circle cx="439.0" cy="244.5" r="0.77" fill="#7f68b0" opacity="0.9"/>
<circle cx="437.6" cy="245.5" r="0.80" fill="#7f68b0" opacity="0.9"/>
<circle cx="434.2" cy="244.1" r="0.88" fill="#7f68b0" opacity="0.9"/>
<circle cx="434.1" cy="242.1" r="0.94" fill="#8a73b7" opacity="0.9"/>
<circle cx="434.0" cy="240.5" r="1.06" fill="#8a73b7" opacity="0.9"/>
<circle cx="436.3" cy="238.9" r="0.73" fill="#745daa" opacity="0.9"/>
<circle cx="447.4" cy="216.3" r="2.2" fill="#d3bcdc" opacity="0.55"/>
<circle cx="448.0" cy="212.6" r="1.03" fill="#745daa" opacity="0.9"/>
<circle cx="450.6" cy="214.0" r="0.82" fill="#7f68b0" opacity="0.9"/>
<circle cx="450.8" cy="217.3" r="0.93" fill="#8a73b7" opacity="0.9"/>
<circle cx="449.3" cy="218.7" r="0.85" fill="#745daa" opacity="0.9"/>
<circle cx="447.6" cy="219.5" r="0.96" fill="#8a73b7" opacity="0.9"/>
<circle cx="445.1" cy="219.4" r="0.85" fill="#745daa" opacity="0.9"/>
<circle cx="444.0" cy="217.6" r="1.03" fill="#745daa" opacity="0.9"/>
<circle cx="444.4" cy="215.1" r="0.95" fill="#8a73b7" opacity="0.9"/>
<circle cx="408.7" cy="246.2" r="1.9" fill="#d3bcdc" opacity="0.55"/>
<circle cx="410.8" cy="244.4" r="0.80" fill="#8a73b7" opacity="0.9"/>
<circle cx="411.9" cy="246.2" r="1.00" fill="#745daa" opacity="0.9"/>
<circle cx="411.3" cy="248.2" r="1.07" fill="#8a73b7" opacity="0.9"/>
<circle cx="407.5" cy="248.6" r="0.90" fill="#8a73b7" opacity="0.9"/>
<circle cx="406.4" cy="247.8" r="1.04" fill="#8a73b7" opacity="0.9"/>
<circle cx="405.5" cy="246.3" r="1.06" fill="#8a73b7" opacity="0.9"/>
<circle cx="406.7" cy="244.1" r="0.87" fill="#7f68b0" opacity="0.9"/>
<circle cx="414.8" cy="178.6" r="2.4" fill="#d3bcdc" opacity="0.55"/>
<circle cx="411.3" cy="178.9" r="0.76" fill="#7f68b0" opacity="0.9"/>
<circle cx="413.5" cy="175.0" r="0.90" fill="#8a73b7" opacity="0.9"/>
<circle cx="417.4" cy="176.3" r="1.07" fill="#8a73b7" opacity="0.9"/>
<circle cx="418.5" cy="178.5" r="0.73" fill="#7f68b0" opacity="0.9"/>
<circle cx="416.9" cy="181.3" r="1.04" fill="#745daa" opacity="0.9"/>
<circle cx="415.3" cy="182.3" r="0.80" fill="#7f68b0" opacity="0.9"/>
<circle cx="412.7" cy="181.5" r="0.71" fill="#745daa" opacity="0.9"/>
<circle cx="411.8" cy="180.5" r="1.02" fill="#745daa" opacity="0.9"/>
<circle cx="404.6" cy="209.3" r="2.4" fill="#d3bcdc" opacity="0.55"/>
<circle cx="401.9" cy="206.2" r="1.10" fill="#745daa" opacity="0.9"/>
<circle cx="405.7" cy="205.4" r="0.88" fill="#7f68b0" opacity="0.9"/>
<circle cx="407.8" cy="206.7" r="1.08" fill="#8a73b7" opacity="0.9"/>
<circle cx="408.5" cy="209.2" r="1.06" fill="#745daa" opacity="0.9"/>
<circle cx="407.8" cy="211.3" r="0.87" fill="#7f68b0" opacity="0.9"/>
<circle cx="406.8" cy="212.7" r="0.72" fill="#745daa" opacity="0.9"/>
<circle cx="402.9" cy="212.6" r="0.77" fill="#7f68b0" opacity="0.9"/>
<circle cx="401.3" cy="210.9" r="0.70" fill="#745daa" opacity="0.9"/>
<circle cx="400.5" cy="209.1" r="1.07" fill="#7f68b0" opacity="0.9"/>
<circle cx="330.3" cy="161.8" r="1.8" fill="#d3bcdc" opacity="0.55"/>
<circle cx="331.9" cy="164.5" r="1.07" fill="#8a73b7" opacity="0.9"/>
<circle cx="329.6" cy="164.9" r="0.76" fill="#745daa" opacity="0.9"/>
<circle cx="328.4" cy="164.3" r="0.86" fill="#7f68b0" opacity="0.9"/>
<circle cx="327.4" cy="162.5" r="0.84" fill="#745daa" opacity="0.9"/>
<circle cx="328.2" cy="160.0" r="0.72" fill="#7f68b0" opacity="0.9"/>
<circle cx="330.0" cy="158.7" r="0.98" fill="#8a73b7" opacity="0.9"/>
<circle cx="332.0" cy="159.3" r="1.10" fill="#7f68b0" opacity="0.9"/>
<circle cx="333.2" cy="160.3" r="0.86" fill="#745daa" opacity="0.9"/>
<circle cx="333.6" cy="162.2" r="0.96" fill="#745daa" opacity="0.9"/>
<circle cx="299.9" cy="207.4" r="1.8" fill="#d3bcdc" opacity="0.55"/>
<circle cx="300.2" cy="204.5" r="0.96" fill="#7f68b0" opacity="0.9"/>
<circle cx="303.1" cy="206.6" r="0.75" fill="#745daa" opacity="0.9"/>
<circle cx="302.2" cy="208.9" r="0.72" fill="#8a73b7" opacity="0.9"/>
<circle cx="301.0" cy="210.6" r="0.82" fill="#745daa" opacity="0.9"/>
<circle cx="297.1" cy="208.9" r="0.86" fill="#7f68b0" opacity="0.9"/>
<circle cx="297.2" cy="206.9" r="0.98" fill="#7f68b0" opacity="0.9"/>
<circle cx="298.2" cy="204.7" r="0.79" fill="#8a73b7" opacity="0.9"/>
<circle cx="358.7" cy="161.9" r="1.6" fill="#d3bcdc" opacity="0.55"/>
<circle cx="356.1" cy="161.7" r="0.89" fill="#8a73b7" opacity="0.9"/>
<circle cx="357.0" cy="159.6" r="0.99" fill="#7f68b0" opacity="0.9"/>
<circle cx="358.9" cy="159.1" r="1.09" fill="#745daa" opacity="0.9"/>
<circle cx="361.4" cy="161.6" r="0.88" fill="#7f68b0" opacity="0.9"/>
<circle cx="361.3" cy="163.4" r="0.88" fill="#7f68b0" opacity="0.9"/>
<circle cx="357.9" cy="164.3" r="0.82" fill="#7f68b0" opacity="0.9"/>
<circle cx="356.4" cy="163.1" r="0.96" fill="#8a73b7" opacity="0.9"/>
<circle cx="427.8" cy="236.7" r="2.1" fill="#d3bcdc" opacity="0.55"/>
<circle cx="424.9" cy="238.0" r="1.02" fill="#745daa" opacity="0.9"/>
<circle cx="424.7" cy="236.7" r="1.05" fill="#8a73b7" opacity="0.9"/>
<circle cx="425.7" cy="234.0" r="1.09" fill="#7f68b0" opacity="0.9"/>
<circle cx="427.0" cy="233.1" r="0.96" fill="#7f68b0" opacity="0.9"/>
<circle cx="429.3" cy="233.3" r="0.77" fill="#7f68b0" opacity="0.9"/>
<circle cx="430.5" cy="235.5" r="0.79" fill="#745daa" opacity="0.9"/>
<circle cx="431.4" cy="237.1" r="1.01" fill="#8a73b7" opacity="0.9"/>
<circle cx="429.7" cy="239.3" r="0.83" fill="#7f68b0" opacity="0.9"/>
<circle cx="428.2" cy="239.8" r="0.98" fill="#7f68b0" opacity="0.9"/>
<circle cx="426.9" cy="239.7" r="0.95" fill="#745daa" opacity="0.9"/>
<circle cx="395.7" cy="200.7" r="2.6" fill="#d3bcdc" opacity="0.55"/>
<circle cx="394.7" cy="196.2" r="0.76" fill="#7f68b0" opacity="0.9"/>
<circle cx="397.0" cy="197.2" r="1.08" fill="#8a73b7" opacity="0.9"/>
<circle cx="398.5" cy="198.2" r="0.85" fill="#745daa" opacity="0.9"/>
<circle cx="400.1" cy="199.6" r="0.96" fill="#8a73b7" opacity="0.9"/>
<circle cx="399.2" cy="202.8" r="0.98" fill="#745daa" opacity="0.9"/>
<circle cx="398.0" cy="204.2" r="0.97" fill="#8a73b7" opacity="0.9"/>
<circle cx="395.2" cy="205.2" r="1.01" fill="#7f68b0" opacity="0.9"/>
<circle cx="392.2" cy="202.0" r="0.79" fill="#745daa" opacity="0.9"/>
<circle cx="391.5" cy="200.1" r="0.84" fill="#745daa" opacity="0.9"/>
<circle cx="316.8" cy="227.2" r="2.6" fill="#d3bcdc" opacity="0.55"/>
<circle cx="316.5" cy="222.8" r="0.79" fill="#7f68b0" opacity="0.9"/>
<circle cx="319.3" cy="223.5" r="0.76" fill="#745daa" opacity="0.9"/>
<circle cx="321.0" cy="225.9" r="1.01" fill="#7f68b0" opacity="0.9"/>
<circle cx="319.9" cy="230.0" r="0.92" fill="#7f68b0" opacity="0.9"/>
<circle cx="318.2" cy="230.9" r="1.08" fill="#7f68b0" opacity="0.9"/>
<circle cx="316.5" cy="231.1" r="1.03" fill="#8a73b7" opacity="0.9"/>
<circle cx="313.5" cy="229.4" r="0.77" fill="#8a73b7" opacity="0.9"/>
<circle cx="313.1" cy="228.4" r="0.77" fill="#745daa" opacity="0.9"/>
<circle cx="313.4" cy="225.3" r="1.06" fill="#7f68b0" opacity="0.9"/>
<circle cx="314.1" cy="223.9" r="1.01" fill="#8a73b7" opacity="0.9"/>
<circle cx="335.4" cy="193.4" r="2.3" fill="#d3bcdc" opacity="0.55"/>
<circle cx="338.4" cy="196.0" r="0.78" fill="#7f68b0" opacity="0.9"/>
<circle cx="335.3" cy="196.9" r="0.76" fill="#8a73b7" opacity="0.9"/>
<circle cx="333.9" cy="196.5" r="0.80" fill="#7f68b0" opacity="0.9"/>
<circle cx="333.5" cy="190.3" r="0.92" fill="#745daa" opacity="0.9"/>
<circle cx="335.2" cy="189.5" r="0.80" fill="#7f68b0" opacity="0.9"/>
<circle cx="337.5" cy="190.4" r="1.03" fill="#8a73b7" opacity="0.9"/>
<circle cx="393.6" cy="189.5" r="2.3" fill="#d3bcdc" opacity="0.55"/>
<circle cx="395.0" cy="186.3" r="0.96" fill="#7f68b0" opacity="0.9"/>
<circle cx="395.7" cy="186.9" r="0.84" fill="#7f68b0" opacity="0.9"/>
<circle cx="396.7" cy="191.6" r="0.76" fill="#7f68b0" opacity="0.9"/>
<circle cx="395.0" cy="192.6" r="0.92" fill="#8a73b7" opacity="0.9"/>
<circle cx="392.8" cy="192.8" r="1.05" fill="#7f68b0" opacity="0.9"/>
<circle cx="390.9" cy="191.5" r="0.90" fill="#745daa" opacity="0.9"/>
<circle cx="390.1" cy="190.4" r="1.02" fill="#745daa" opacity="0.9"/>
<circle cx="390.7" cy="187.8" r="1.06" fill="#745daa" opacity="0.9"/>
<circle cx="392.1" cy="185.7" r="1.06" fill="#7f68b0" opacity="0.9"/>
<circle cx="365.2" cy="196.8" r="1.8" fill="#d3bcdc" opacity="0.55"/>
<circle cx="366.0" cy="199.4" r="1.04" fill="#7f68b0" opacity="0.9"/>
<circle cx="364.2" cy="199.8" r="1.07" fill="#8a73b7" opacity="0.9"/>
<circle cx="363.2" cy="198.3" r="0.83" fill="#8a73b7" opacity="0.9"/>
<circle cx="363.3" cy="194.2" r="0.84" fill="#7f68b0" opacity="0.9"/>
<circle cx="365.5" cy="194.2" r="0.77" fill="#8a73b7" opacity="0.9"/>
<circle cx="367.3" cy="194.7" r="0.90" fill="#7f68b0" opacity="0.9"/>
<circle cx="367.9" cy="196.4" r="1.06" fill="#7f68b0" opacity="0.9"/>
<circle cx="367.6" cy="198.6" r="1.10" fill="#7f68b0" opacity="0.9"/>
<circle cx="423.0" cy="187.7" r="1.9" fill="#d3bcdc" opacity="0.55"/>
<circle cx="425.9" cy="187.8" r="0.90" fill="#745daa" opacity="0.9"/>
<circle cx="424.4" cy="190.3" r="0.98" fill="#745daa" opacity="0.9"/>
<circle cx="422.5" cy="190.4" r="1.06" fill="#7f68b0" opacity="0.9"/>
<circle cx="420.9" cy="190.1" r="0.92" fill="#745daa" opacity="0.9"/>
<circle cx="419.8" cy="188.0" r="0.80" fill="#8a73b7" opacity="0.9"/>
<circle cx="419.9" cy="186.3" r="0.84" fill="#745daa" opacity="0.9"/>
<circle cx="424.3" cy="184.7" r="0.77" fill="#7f68b0" opacity="0.9"/>
<circle cx="425.8" cy="186.1" r="0.74" fill="#8a73b7" opacity="0.9"/>
<circle cx="342.0" cy="176.5" r="2.1" fill="#d3bcdc" opacity="0.55"/>
<circle cx="338.6" cy="177.1" r="0.78" fill="#7f68b0" opacity="0.9"/>
<circle cx="343.8" cy="173.4" r="1.04" fill="#745daa" opacity="0.9"/>
<circle cx="345.7" cy="175.9" r="0.85" fill="#7f68b0" opacity="0.9"/>
<circle cx="344.9" cy="177.9" r="1.02" fill="#7f68b0" opacity="0.9"/>
<circle cx="342.6" cy="180.1" r="0.89" fill="#8a73b7" opacity="0.9"/>
<circle cx="340.3" cy="179.7" r="1.01" fill="#7f68b0" opacity="0.9"/>
<circle cx="395.6" cy="216.0" r="2.2" fill="#d3bcdc" opacity="0.55"/>
<circle cx="393.6" cy="212.8" r="1.06" fill="#745daa" opacity="0.9"/>
<circle cx="395.3" cy="212.4" r="0.98" fill="#745daa" opacity="0.9"/>
<circle cx="398.8" cy="215.6" r="0.93" fill="#7f68b0" opacity="0.9"/>
<circle cx="399.4" cy="216.8" r="1.08" fill="#745daa" opacity="0.9"/>
<circle cx="396.7" cy="219.0" r="0.84" fill="#745daa" opacity="0.9"/>
<circle cx="394.5" cy="219.6" r="1.00" fill="#8a73b7" opacity="0.9"/>
<circle cx="393.4" cy="218.3" r="0.72" fill="#745daa" opacity="0.9"/>
<circle cx="392.2" cy="214.2" r="0.82" fill="#7f68b0" opacity="0.9"/>
<circle cx="417.1" cy="230.3" r="2.1" fill="#d3bcdc" opacity="0.55"/>
<circle cx="419.8" cy="228.4" r="1.08" fill="#7f68b0" opacity="0.9"/>
<circle cx="420.7" cy="230.2" r="0.75" fill="#8a73b7" opacity="0.9"/>
<circle cx="419.4" cy="232.2" r="1.02" fill="#7f68b0" opacity="0.9"/>
<circle cx="415.4" cy="233.6" r="1.00" fill="#745daa" opacity="0.9"/>
<circle cx="414.1" cy="232.5" r="0.84" fill="#7f68b0" opacity="0.9"/>
<circle cx="414.0" cy="229.5" r="0.96" fill="#745daa" opacity="0.9"/>
<circle cx="416.3" cy="226.6" r="0.91" fill="#7f68b0" opacity="0.9"/>
<circle cx="418.7" cy="227.6" r="1.03" fill="#7f68b0" opacity="0.9"/>
<circle cx="371.6" cy="270.5" r="2.2" fill="#d3bcdc" opacity="0.55"/>
<circle cx="368.9" cy="267.8" r="1.06" fill="#7f68b0" opacity="0.9"/>
<circle cx="370.7" cy="267.1" r="0.96" fill="#8a73b7" opacity="0.9"/>
<circle cx="373.0" cy="266.9" r="0.85" fill="#8a73b7" opacity="0.9"/>
<circle cx="374.4" cy="269.1" r="0.72" fill="#7f68b0" opacity="0.9"/>
<circle cx="375.2" cy="270.9" r="1.06" fill="#8a73b7" opacity="0.9"/>
<circle cx="374.0" cy="272.7" r="0.71" fill="#8a73b7" opacity="0.9"/>
<circle cx="371.9" cy="274.1" r="1.04" fill="#745daa" opacity="0.9"/>
<circle cx="369.0" cy="273.5" r="0.81" fill="#745daa" opacity="0.9"/>
<circle cx="439.7" cy="224.7" r="2.3" fill="#d3bcdc" opacity="0.55"/>
<circle cx="440.7" cy="228.1" r="1.09" fill="#7f68b0" opacity="0.9"/>
<circle cx="436.4" cy="224.2" r="1.06" fill="#745daa" opacity="0.9"/>
<circle cx="436.0" cy="222.8" r="0.76" fill="#7f68b0" opacity="0.9"/>
<circle cx="439.0" cy="221.1" r="0.70" fill="#745daa" opacity="0.9"/>
<circle cx="441.3" cy="220.9" r="0.75" fill="#7f68b0" opacity="0.9"/>
<circle cx="442.5" cy="222.1" r="1.08" fill="#8a73b7" opacity="0.9"/>
<circle cx="443.8" cy="224.8" r="0.80" fill="#745daa" opacity="0.9"/>
<circle cx="442.9" cy="227.0" r="0.99" fill="#7f68b0" opacity="0.9"/>
<circle cx="367.2" cy="228.4" r="2.6" fill="#d3bcdc" opacity="0.55"/>
<circle cx="369.4" cy="225.2" r="0.80" fill="#8a73b7" opacity="0.9"/>
<circle cx="370.8" cy="226.7" r="1.05" fill="#8a73b7" opacity="0.9"/>
<circle cx="370.9" cy="228.8" r="0.93" fill="#7f68b0" opacity="0.9"/>
<circle cx="370.1" cy="231.6" r="0.89" fill="#7f68b0" opacity="0.9"/>
<circle cx="367.2" cy="232.9" r="1.09" fill="#7f68b0" opacity="0.9"/>
<circle cx="366.5" cy="232.2" r="1.04" fill="#7f68b0" opacity="0.9"/>
<circle cx="363.9" cy="230.6" r="0.95" fill="#7f68b0" opacity="0.9"/>
<circle cx="362.7" cy="228.3" r="0.84" fill="#7f68b0" opacity="0.9"/>
<circle cx="363.9" cy="225.7" r="1.04" fill="#8a73b7" opacity="0.9"/>
<circle cx="368.1" cy="224.2" r="0.95" fill="#8a73b7" opacity="0.9"/>
<circle cx="360.5" cy="205.8" r="2.5" fill="#d3bcdc" opacity="0.55"/>
<circle cx="356.4" cy="207.3" r="0.87" fill="#8a73b7" opacity="0.9"/>
<circle cx="356.5" cy="203.8" r="0.87" fill="#745daa" opacity="0.9"/>
<circle cx="357.5" cy="203.4" r="0.95" fill="#8a73b7" opacity="0.9"/>
<circle cx="359.3" cy="201.5" r="1.02" fill="#745daa" opacity="0.9"/>
<circle cx="361.8" cy="201.9" r="0.87" fill="#745daa" opacity="0.9"/>
<circle cx="364.4" cy="203.9" r="0.95" fill="#7f68b0" opacity="0.9"/>
<circle cx="360.2" cy="209.6" r="0.88" fill="#8a73b7" opacity="0.9"/>
<circle cx="358.1" cy="209.6" r="1.09" fill="#7f68b0" opacity="0.9"/>
<circle cx="346.5" cy="259.8" r="2.0" fill="#d3bcdc" opacity="0.55"/>
<circle cx="343.0" cy="258.9" r="0.74" fill="#8a73b7" opacity="0.9"/>
<circle cx="345.3" cy="256.9" r="1.05" fill="#745daa" opacity="0.9"/>
<circle cx="347.0" cy="256.4" r="1.05" fill="#745daa" opacity="0.9"/>
<circle cx="348.4" cy="256.7" r="0.86" fill="#745daa" opacity="0.9"/>
<circle cx="350.0" cy="259.6" r="1.04" fill="#7f68b0" opacity="0.9"/>
<circle cx="349.2" cy="261.3" r="0.82" fill="#745daa" opacity="0.9"/>
<circle cx="346.4" cy="262.8" r="1.08" fill="#745daa" opacity="0.9"/>
<circle cx="343.9" cy="262.0" r="0.89" fill="#8a73b7" opacity="0.9"/>
<circle cx="343.2" cy="261.2" r="0.93" fill="#8a73b7" opacity="0.9"/>
<circle cx="310.2" cy="260.6" r="2.1" fill="#d3bcdc" opacity="0.55"/>
<circle cx="310.7" cy="257.1" r="1.03" fill="#745daa" opacity="0.9"/>
<circle cx="312.2" cy="258.2" r="0.85" fill="#745daa" opacity="0.9"/>
<circle cx="312.7" cy="263.3" r="1.08" fill="#8a73b7" opacity="0.9"/>
<circle cx="310.0" cy="263.8" r="0.95" fill="#7f68b0" opacity="0.9"/>
<circle cx="308.3" cy="262.9" r="0.71" fill="#745daa" opacity="0.9"/>
<circle cx="307.5" cy="261.6" r="1.06" fill="#8a73b7" opacity="0.9"/>
<circle cx="307.1" cy="260.0" r="1.10" fill="#745daa" opacity="0.9"/>
<circle cx="336.0" cy="258.5" r="2.2" fill="#d3bcdc" opacity="0.55"/>
<circle cx="338.9" cy="260.8" r="0.86" fill="#8a73b7" opacity="0.9"/>
<circle cx="337.3" cy="261.8" r="0.91" fill="#745daa" opacity="0.9"/>
<circle cx="335.6" cy="261.9" r="0.87" fill="#745daa" opacity="0.9"/>
<circle cx="332.2" cy="258.5" r="1.06" fill="#745daa" opacity="0.9"/>
<circle cx="333.8" cy="255.3" r="0.76" fill="#7f68b0" opacity="0.9"/>
<circle cx="337.1" cy="254.9" r="1.06" fill="#8a73b7" opacity="0.9"/>
<circle cx="338.1" cy="255.9" r="0.93" fill="#7f68b0" opacity="0.9"/>
<circle cx="339.6" cy="258.6" r="0.94" fill="#7f68b0" opacity="0.9"/>
<circle cx="453.9" cy="280.6" r="2.3" fill="#d3bcdc" opacity="0.55"/>
<circle cx="455.6" cy="277.2" r="1.07" fill="#745daa" opacity="0.9"/>
<circle cx="457.3" cy="278.6" r="0.77" fill="#8a73b7" opacity="0.9"/>
<circle cx="457.4" cy="281.1" r="0.87" fill="#7f68b0" opacity="0.9"/>
<circle cx="456.1" cy="283.1" r="0.76" fill="#7f68b0" opacity="0.9"/>
<circle cx="454.8" cy="284.0" r="0.99" fill="#7f68b0" opacity="0.9"/>
<circle cx="452.6" cy="284.0" r="0.85" fill="#8a73b7" opacity="0.9"/>
<circle cx="451.2" cy="282.4" r="0.71" fill="#7f68b0" opacity="0.9"/>
<circle cx="450.2" cy="280.0" r="0.92" fill="#8a73b7" opacity="0.9"/>
<circle cx="451.2" cy="278.6" r="0.87" fill="#7f68b0" opacity="0.9"/>
<circle cx="432.4" cy="184.5" r="2.3" fill="#d3bcdc" opacity="0.55"/>
<circle cx="430.8" cy="181.1" r="0.87" fill="#745daa" opacity="0.9"/>
<circle cx="433.7" cy="181.2" r="0.88" fill="#8a73b7" opacity="0.9"/>
<circle cx="435.5" cy="182.2" r="0.98" fill="#8a73b7" opacity="0.9"/>
<circle cx="436.4" cy="184.6" r="1.03" fill="#745daa" opacity="0.9"/>
<circle cx="434.9" cy="187.2" r="0.74" fill="#7f68b0" opacity="0.9"/>
<circle cx="433.7" cy="187.7" r="0.78" fill="#7f68b0" opacity="0.9"/>
<circle cx="429.1" cy="186.7" r="0.85" fill="#745daa" opacity="0.9"/>
<circle cx="428.7" cy="184.5" r="1.07" fill="#8a73b7" opacity="0.9"/>
<circle cx="323.4" cy="232.7" r="2.2" fill="#d3bcdc" opacity="0.55"/>
<circle cx="321.6" cy="235.8" r="0.85" fill="#7f68b0" opacity="0.9"/>
<circle cx="319.8" cy="233.9" r="0.75" fill="#7f68b0" opacity="0.9"/>
<circle cx="320.1" cy="232.3" r="1.05" fill="#745daa" opacity="0.9"/>
<circle cx="324.6" cy="229.8" r="1.06" fill="#7f68b0" opacity="0.9"/>
<circle cx="327.0" cy="231.3" r="1.00" fill="#745daa" opacity="0.9"/>
<circle cx="326.6" cy="233.3" r="1.09" fill="#8a73b7" opacity="0.9"/>
<circle cx="324.3" cy="236.4" r="1.08" fill="#8a73b7" opacity="0.9"/>
<circle cx="365.0" cy="177.3" r="2.0" fill="#d3bcdc" opacity="0.55"/>
<circle cx="362.9" cy="174.6" r="0.72" fill="#8a73b7" opacity="0.9"/>
<circle cx="367.0" cy="175.2" r="0.81" fill="#7f68b0" opacity="0.9"/>
<circle cx="368.4" cy="176.2" r="0.72" fill="#745daa" opacity="0.9"/>
<circle cx="367.6" cy="178.1" r="0.91" fill="#745daa" opacity="0.9"/>
<circle cx="362.4" cy="179.6" r="0.85" fill="#8a73b7" opacity="0.9"/>
<circle cx="362.1" cy="178.1" r="0.75" fill="#8a73b7" opacity="0.9"/>
<circle cx="397.8" cy="162.8" r="2.4" fill="#d3bcdc" opacity="0.55"/>
<circle cx="401.2" cy="164.5" r="0.78" fill="#8a73b7" opacity="0.9"/>
<circle cx="396.1" cy="166.2" r="0.71" fill="#745daa" opacity="0.9"/>
<circle cx="394.0" cy="164.6" r="0.84" fill="#8a73b7" opacity="0.9"/>
<circle cx="394.8" cy="160.3" r="0.97" fill="#7f68b0" opacity="0.9"/>
<circle cx="401.5" cy="162.7" r="1.10" fill="#7f68b0" opacity="0.9"/>
<circle cx="311.1" cy="164.5" r="2.3" fill="#d3bcdc" opacity="0.55"/>
<circle cx="311.2" cy="160.4" r="0.97" fill="#745daa" opacity="0.9"/>
<circle cx="314.0" cy="161.5" r="1.09" fill="#8a73b7" opacity="0.9"/>
<circle cx="314.5" cy="163.8" r="1.02" fill="#745daa" opacity="0.9"/>
<circle cx="314.6" cy="165.6" r="1.06" fill="#8a73b7" opacity="0.9"/>
<circle cx="312.8" cy="167.9" r="0.89" fill="#745daa" opacity="0.9"/>
<circle cx="307.4" cy="164.8" r="1.08" fill="#745daa" opacity="0.9"/>
<circle cx="308.0" cy="162.4" r="1.00" fill="#745daa" opacity="0.9"/>
<circle cx="309.8" cy="160.7" r="1.08" fill="#7f68b0" opacity="0.9"/>
<circle cx="447.6" cy="203.6" r="2.3" fill="#d3bcdc" opacity="0.55"/>
<circle cx="448.4" cy="207.1" r="0.71" fill="#745daa" opacity="0.9"/>
<circle cx="446.5" cy="207.2" r="0.80" fill="#8a73b7" opacity="0.9"/>
<circle cx="445.0" cy="206.1" r="0.75" fill="#8a73b7" opacity="0.9"/>
<circle cx="444.3" cy="203.5" r="0.74" fill="#7f68b0" opacity="0.9"/>
<circle cx="444.6" cy="201.6" r="0.76" fill="#8a73b7" opacity="0.9"/>
<circle cx="446.0" cy="200.6" r="1.07" fill="#8a73b7" opacity="0.9"/>
<circle cx="450.9" cy="201.5" r="0.94" fill="#745daa" opacity="0.9"/>
<circle cx="451.1" cy="203.7" r="0.75" fill="#745daa" opacity="0.9"/>
<circle cx="308.6" cy="243.4" r="2.0" fill="#d3bcdc" opacity="0.55"/>
<circle cx="308.0" cy="246.5" r="0.97" fill="#7f68b0" opacity="0.9"/>
<circle cx="306.4" cy="246.0" r="0.88" fill="#7f68b0" opacity="0.9"/>
<circle cx="305.1" cy="244.6" r="0.77" fill="#7f68b0" opacity="0.9"/>
<circle cx="305.3" cy="242.2" r="1.02" fill="#745daa" opacity="0.9"/>
<circle cx="307.1" cy="240.2" r="0.75" fill="#7f68b0" opacity="0.9"/>
<circle cx="310.3" cy="240.6" r="0.94" fill="#7f68b0" opacity="0.9"/>
<circle cx="312.0" cy="244.4" r="1.07" fill="#8a73b7" opacity="0.9"/>
<circle cx="339.8" cy="250.0" r="2.3" fill="#d3bcdc" opacity="0.55"/>
<circle cx="343.0" cy="248.5" r="0.99" fill="#745daa" opacity="0.9"/>
<circle cx="343.6" cy="251.4" r="0.76" fill="#7f68b0" opacity="0.9"/>
<circle cx="341.1" cy="253.7" r="1.00" fill="#8a73b7" opacity="0.9"/>
<circle cx="338.6" cy="253.9" r="0.71" fill="#8a73b7" opacity="0.9"/>
<circle cx="337.3" cy="252.5" r="0.71" fill="#745daa" opacity="0.9"/>
<circle cx="336.1" cy="249.6" r="0.98" fill="#745daa" opacity="0.9"/>
<circle cx="336.1" cy="248.5" r="0.83" fill="#745daa" opacity="0.9"/>
<circle cx="338.6" cy="246.9" r="1.05" fill="#7f68b0" opacity="0.9"/>
<circle cx="339.9" cy="246.5" r="0.82" fill="#8a73b7" opacity="0.9"/>
<circle cx="341.6" cy="247.1" r="0.99" fill="#7f68b0" opacity="0.9"/>
<circle cx="381.2" cy="173.9" r="2.1" fill="#d3bcdc" opacity="0.55"/>
<circle cx="383.7" cy="176.0" r="0.84" fill="#745daa" opacity="0.9"/>
<circle cx="381.7" cy="177.5" r="0.91" fill="#745daa" opacity="0.9"/>
<circle cx="379.9" cy="177.2" r="0.71" fill="#745daa" opacity="0.9"/>
<circle cx="378.2" cy="175.5" r="1.02" fill="#8a73b7" opacity="0.9"/>
<circle cx="379.3" cy="171.0" r="0.85" fill="#8a73b7" opacity="0.9"/>
<circle cx="380.3" cy="171.0" r="0.77" fill="#745daa" opacity="0.9"/>
<circle cx="382.6" cy="170.7" r="1.00" fill="#7f68b0" opacity="0.9"/>
<circle cx="384.7" cy="172.8" r="0.96" fill="#8a73b7" opacity="0.9"/>
<circle cx="384.9" cy="174.3" r="0.87" fill="#7f68b0" opacity="0.9"/>
<circle cx="336.7" cy="203.2" r="1.8" fill="#d3bcdc" opacity="0.55"/>
<circle cx="337.3" cy="200.1" r="1.08" fill="#745daa" opacity="0.9"/>
<circle cx="338.8" cy="200.9" r="0.73" fill="#8a73b7" opacity="0.9"/>
<circle cx="339.0" cy="205.6" r="1.08" fill="#8a73b7" opacity="0.9"/>
<circle cx="337.3" cy="206.0" r="0.73" fill="#745daa" opacity="0.9"/>
<circle cx="335.6" cy="206.2" r="1.02" fill="#8a73b7" opacity="0.9"/>
<circle cx="333.7" cy="204.1" r="0.89" fill="#8a73b7" opacity="0.9"/>
<circle cx="334.1" cy="202.3" r="0.93" fill="#8a73b7" opacity="0.9"/>
<circle cx="412.1" cy="238.2" r="2.4" fill="#d3bcdc" opacity="0.55"/>
<circle cx="413.4" cy="234.9" r="0.73" fill="#7f68b0" opacity="0.9"/>
<circle cx="415.1" cy="235.4" r="0.74" fill="#8a73b7" opacity="0.9"/>
<circle cx="416.2" cy="237.8" r="0.85" fill="#8a73b7" opacity="0.9"/>
<circle cx="411.4" cy="242.3" r="1.01" fill="#8a73b7" opacity="0.9"/>
<circle cx="408.8" cy="240.4" r="0.86" fill="#8a73b7" opacity="0.9"/>
<circle cx="408.3" cy="237.1" r="0.72" fill="#8a73b7" opacity="0.9"/>
<circle cx="437.9" cy="216.7" r="1.7" fill="#d3bcdc" opacity="0.55"/>
<circle cx="440.4" cy="216.6" r="0.73" fill="#7f68b0" opacity="0.9"/>
<circle cx="437.8" cy="219.6" r="0.71" fill="#745daa" opacity="0.9"/>
<circle cx="435.8" cy="218.9" r="0.82" fill="#7f68b0" opacity="0.9"/>
<circle cx="435.7" cy="217.7" r="0.75" fill="#7f68b0" opacity="0.9"/>
<circle cx="435.3" cy="215.0" r="1.05" fill="#745daa" opacity="0.9"/>
<circle cx="436.8" cy="214.4" r="0.72" fill="#7f68b0" opacity="0.9"/>
<circle cx="438.4" cy="214.3" r="0.85" fill="#8a73b7" opacity="0.9"/>
<circle cx="440.5" cy="215.4" r="0.76" fill="#7f68b0" opacity="0.9"/>
<circle cx="334.9" cy="171.7" r="2.4" fill="#d3bcdc" opacity="0.55"/>
<circle cx="338.2" cy="173.3" r="0.82" fill="#8a73b7" opacity="0.9"/>
<circle cx="336.7" cy="175.4" r="0.73" fill="#8a73b7" opacity="0.9"/>
<circle cx="335.3" cy="175.3" r="1.07" fill="#8a73b7" opacity="0.9"/>
<circle cx="333.0" cy="174.7" r="0.95" fill="#7f68b0" opacity="0.9"/>
<circle cx="330.7" cy="172.4" r="0.81" fill="#745daa" opacity="0.9"/>
<circle cx="331.7" cy="169.5" r="0.81" fill="#745daa" opacity="0.9"/>
<circle cx="333.7" cy="167.9" r="0.81" fill="#8a73b7" opacity="0.9"/>
<circle cx="336.3" cy="168.1" r="0.88" fill="#7f68b0" opacity="0.9"/>
<circle cx="338.0" cy="168.8" r="0.80" fill="#745daa" opacity="0.9"/>
<circle cx="416.4" cy="206.2" r="1.8" fill="#d3bcdc" opacity="0.55"/>
<circle cx="417.3" cy="203.0" r="0.83" fill="#8a73b7" opacity="0.9"/>
<circle cx="418.8" cy="204.1" r="0.87" fill="#7f68b0" opacity="0.9"/>
<circle cx="419.1" cy="206.3" r="0.71" fill="#8a73b7" opacity="0.9"/>
<circle cx="419.3" cy="207.8" r="0.71" fill="#7f68b0" opacity="0.9"/>
<circle cx="417.3" cy="209.4" r="0.75" fill="#745daa" opacity="0.9"/>
<circle cx="415.3" cy="209.0" r="0.81" fill="#7f68b0" opacity="0.9"/>
<circle cx="413.2" cy="207.2" r="0.99" fill="#8a73b7" opacity="0.9"/>
<circle cx="413.6" cy="205.5" r="0.76" fill="#7f68b0" opacity="0.9"/>
<circle cx="373.1" cy="169.7" r="2.2" fill="#d3bcdc" opacity="0.55"/>
<circle cx="369.8" cy="168.0" r="0.96" fill="#7f68b0" opacity="0.9"/>
<circle cx="370.8" cy="166.6" r="0.80" fill="#7f68b0" opacity="0.9"/>
<circle cx="373.5" cy="166.3" r="1.03" fill="#8a73b7" opacity="0.9"/>
<circle cx="376.0" cy="168.5" r="0.80" fill="#745daa" opacity="0.9"/>
<circle cx="376.2" cy="171.8" r="1.09" fill="#745daa" opacity="0.9"/>
<circle cx="374.6" cy="173.2" r="0.83" fill="#745daa" opacity="0.9"/>
<circle cx="372.5" cy="173.5" r="0.85" fill="#7f68b0" opacity="0.9"/>
<circle cx="370.4" cy="172.2" r="1.04" fill="#8a73b7" opacity="0.9"/>
<circle cx="370.1" cy="170.8" r="0.71" fill="#8a73b7" opacity="0.9"/>
<circle cx="324.2" cy="177.0" r="2.6" fill="#d3bcdc" opacity="0.55"/>
<circle cx="326.2" cy="180.8" r="0.96" fill="#8a73b7" opacity="0.9"/>
<circle cx="323.2" cy="181.3" r="1.05" fill="#8a73b7" opacity="0.9"/>
<circle cx="319.9" cy="176.9" r="0.78" fill="#8a73b7" opacity="0.9"/>
<circle cx="320.3" cy="175.9" r="0.77" fill="#8a73b7" opacity="0.9"/>
<circle cx="324.2" cy="173.0" r="0.74" fill="#7f68b0" opacity="0.9"/>
<circle cx="326.6" cy="174.1" r="0.73" fill="#7f68b0" opacity="0.9"/>
<circle cx="328.5" cy="177.7" r="0.80" fill="#745daa" opacity="0.9"/>
<circle cx="325.2" cy="192.8" r="2.1" fill="#d3bcdc" opacity="0.55"/>
<circle cx="326.0" cy="190.0" r="0.84" fill="#7f68b0" opacity="0.9"/>
<circle cx="328.6" cy="192.3" r="0.76" fill="#7f68b0" opacity="0.9"/>
<circle cx="327.8" cy="195.0" r="0.89" fill="#8a73b7" opacity="0.9"/>
<circle cx="326.5" cy="195.7" r="0.83" fill="#745daa" opacity="0.9"/>
<circle cx="322.1" cy="192.8" r="0.76" fill="#745daa" opacity="0.9"/>
<circle cx="322.9" cy="190.7" r="0.74" fill="#745daa" opacity="0.9"/>
<circle cx="323.9" cy="189.6" r="0.73" fill="#8a73b7" opacity="0.9"/>
<circle cx="318.4" cy="239.9" r="2.2" fill="#d3bcdc" opacity="0.55"/>
<circle cx="316.1" cy="243.2" r="0.95" fill="#745daa" opacity="0.9"/>
<circle cx="315.2" cy="241.1" r="0.92" fill="#745daa" opacity="0.9"/>
<circle cx="314.9" cy="239.1" r="0.88" fill="#745daa" opacity="0.9"/>
<circle cx="316.1" cy="237.0" r="0.77" fill="#8a73b7" opacity="0.9"/>
<circle cx="320.7" cy="237.5" r="0.81" fill="#745daa" opacity="0.9"/>
<circle cx="321.2" cy="238.6" r="1.05" fill="#745daa" opacity="0.9"/>
<circle cx="321.3" cy="241.3" r="0.93" fill="#8a73b7" opacity="0.9"/>
<circle cx="348.0" cy="163.7" r="2.0" fill="#d3bcdc" opacity="0.55"/>
<circle cx="345.3" cy="162.8" r="0.96" fill="#7f68b0" opacity="0.9"/>
<circle cx="345.8" cy="161.0" r="0.71" fill="#7f68b0" opacity="0.9"/>
<circle cx="347.4" cy="160.5" r="1.00" fill="#745daa" opacity="0.9"/>
<circle cx="351.4" cy="163.2" r="0.77" fill="#745daa" opacity="0.9"/>
<circle cx="350.7" cy="164.7" r="0.75" fill="#745daa" opacity="0.9"/>
<circle cx="349.8" cy="166.2" r="0.89" fill="#7f68b0" opacity="0.9"/>
<circle cx="346.5" cy="166.3" r="0.91" fill="#8a73b7" opacity="0.9"/>
<circle cx="344.6" cy="165.1" r="0.82" fill="#745daa" opacity="0.9"/>
<circle cx="328.1" cy="220.2" r="2.3" fill="#d3bcdc" opacity="0.55"/>
<circle cx="331.7" cy="219.7" r="0.82" fill="#7f68b0" opacity="0.9"/>
<circle cx="331.1" cy="221.9" r="1.00" fill="#745daa" opacity="0.9"/>
<circle cx="330.0" cy="223.7" r="0.91" fill="#8a73b7" opacity="0.9"/>
<circle cx="327.5" cy="223.9" r="1.04" fill="#745daa" opacity="0.9"/>
<circle cx="325.3" cy="222.5" r="0.89" fill="#745daa" opacity="0.9"/>
<circle cx="324.4" cy="221.9" r="1.08" fill="#7f68b0" opacity="0.9"/>
<circle cx="324.6" cy="219.6" r="0.96" fill="#7f68b0" opacity="0.9"/>
<circle cx="325.6" cy="217.4" r="0.77" fill="#8a73b7" opacity="0.9"/>
<circle cx="328.9" cy="216.8" r="0.96" fill="#7f68b0" opacity="0.9"/>
<circle cx="330.2" cy="217.7" r="0.98" fill="#745daa" opacity="0.9"/>
<circle cx="444.9" cy="231.2" r="2.1" fill="#d3bcdc" opacity="0.55"/>
<circle cx="448.5" cy="229.9" r="0.72" fill="#745daa" opacity="0.9"/>
<circle cx="448.6" cy="232.4" r="1.07" fill="#7f68b0" opacity="0.9"/>
<circle cx="447.3" cy="233.8" r="0.84" fill="#8a73b7" opacity="0.9"/>
<circle cx="445.1" cy="234.8" r="0.97" fill="#8a73b7" opacity="0.9"/>
<circle cx="443.9" cy="234.2" r="0.75" fill="#745daa" opacity="0.9"/>
<circle cx="442.0" cy="232.4" r="1.07" fill="#745daa" opacity="0.9"/>
<circle cx="441.8" cy="230.8" r="1.01" fill="#745daa" opacity="0.9"/>
<circle cx="442.2" cy="228.6" r="0.84" fill="#8a73b7" opacity="0.9"/>
<circle cx="444.7" cy="227.6" r="0.90" fill="#7f68b0" opacity="0.9"/>
<circle cx="446.8" cy="227.9" r="0.88" fill="#745daa" opacity="0.9"/>
<circle cx="428.9" cy="196.0" r="1.8" fill="#d3bcdc" opacity="0.55"/>
<circle cx="426.4" cy="197.6" r="1.03" fill="#7f68b0" opacity="0.9"/>
<circle cx="426.7" cy="193.9" r="0.75" fill="#7f68b0" opacity="0.9"/>
<circle cx="428.9" cy="193.5" r="1.01" fill="#8a73b7" opacity="0.9"/>
<circle cx="430.5" cy="194.0" r="0.87" fill="#8a73b7" opacity="0.9"/>
<circle cx="431.2" cy="195.1" r="0.91" fill="#8a73b7" opacity="0.9"/>
<circle cx="431.3" cy="197.0" r="1.02" fill="#7f68b0" opacity="0.9"/>
<circle cx="430.3" cy="198.9" r="0.88" fill="#7f68b0" opacity="0.9"/>
<circle cx="427.7" cy="198.2" r="0.81" fill="#8a73b7" opacity="0.9"/>
<circle cx="435.2" cy="274.5" r="2.2" fill="#d3bcdc" opacity="0.55"/>
<circle cx="437.7" cy="272.4" r="0.91" fill="#7f68b0" opacity="0.9"/>
<circle cx="438.5" cy="273.9" r="1.02" fill="#745daa" opacity="0.9"/>
<circle cx="438.5" cy="276.5" r="0.82" fill="#8a73b7" opacity="0.9"/>
<circle cx="436.6" cy="277.6" r="0.91" fill="#7f68b0" opacity="0.9"/>
<circle cx="434.2" cy="278.4" r="1.08" fill="#7f68b0" opacity="0.9"/>
<circle cx="432.7" cy="276.5" r="1.07" fill="#8a73b7" opacity="0.9"/>
<circle cx="433.2" cy="271.4" r="0.80" fill="#8a73b7" opacity="0.9"/>
<circle cx="349.0" cy="204.6" r="1.9" fill="#d3bcdc" opacity="0.55"/>
<circle cx="351.5" cy="202.4" r="0.94" fill="#8a73b7" opacity="0.9"/>
<circle cx="352.0" cy="204.4" r="0.78" fill="#745daa" opacity="0.9"/>
<circle cx="351.2" cy="206.8" r="0.99" fill="#7f68b0" opacity="0.9"/>
<circle cx="347.0" cy="206.8" r="0.89" fill="#7f68b0" opacity="0.9"/>
<circle cx="345.9" cy="205.3" r="0.91" fill="#745daa" opacity="0.9"/>
<circle cx="346.3" cy="204.0" r="1.03" fill="#8a73b7" opacity="0.9"/>
<circle cx="347.7" cy="201.8" r="1.02" fill="#7f68b0" opacity="0.9"/>
<circle cx="349.9" cy="201.9" r="0.91" fill="#7f68b0" opacity="0.9"/>
<circle cx="374.8" cy="244.2" r="1.8" fill="#d3bcdc" opacity="0.55"/>
<circle cx="377.6" cy="244.3" r="1.04" fill="#745daa" opacity="0.9"/>
<circle cx="377.4" cy="246.2" r="0.83" fill="#8a73b7" opacity="0.9"/>
<circle cx="374.8" cy="246.9" r="1.01" fill="#8a73b7" opacity="0.9"/>
<circle cx="371.9" cy="245.0" r="0.78" fill="#8a73b7" opacity="0.9"/>
<circle cx="371.9" cy="243.4" r="0.77" fill="#7f68b0" opacity="0.9"/>
<circle cx="373.7" cy="241.8" r="0.92" fill="#7f68b0" opacity="0.9"/>
<circle cx="376.7" cy="242.5" r="0.81" fill="#745daa" opacity="0.9"/>
<circle cx="406.8" cy="221.8" r="2.5" fill="#d3bcdc" opacity="0.55"/>
<circle cx="409.2" cy="218.8" r="0.86" fill="#745daa" opacity="0.9"/>
<circle cx="410.5" cy="219.5" r="0.98" fill="#7f68b0" opacity="0.9"/>
<circle cx="411.2" cy="222.4" r="1.00" fill="#8a73b7" opacity="0.9"/>
<circle cx="409.6" cy="224.6" r="0.96" fill="#745daa" opacity="0.9"/>
<circle cx="407.6" cy="225.9" r="0.79" fill="#7f68b0" opacity="0.9"/>
<circle cx="405.6" cy="225.5" r="0.98" fill="#7f68b0" opacity="0.9"/>
<circle cx="404.5" cy="225.3" r="0.97" fill="#7f68b0" opacity="0.9"/>
<circle cx="403.2" cy="220.5" r="0.77" fill="#8a73b7" opacity="0.9"/>
<circle cx="404.8" cy="217.8" r="0.94" fill="#745daa" opacity="0.9"/>
<circle cx="407.3" cy="218.0" r="0.97" fill="#7f68b0" opacity="0.9"/>
<circle cx="408.1" cy="260.8" r="2.0" fill="#d3bcdc" opacity="0.55"/>
<circle cx="405.6" cy="258.8" r="1.04" fill="#7f68b0" opacity="0.9"/>
<circle cx="409.5" cy="258.3" r="1.09" fill="#8a73b7" opacity="0.9"/>
<circle cx="410.5" cy="259.3" r="1.06" fill="#745daa" opacity="0.9"/>
<circle cx="411.5" cy="260.8" r="0.80" fill="#745daa" opacity="0.9"/>
<circle cx="410.3" cy="263.6" r="0.98" fill="#7f68b0" opacity="0.9"/>
<circle cx="408.8" cy="263.6" r="1.02" fill="#745daa" opacity="0.9"/>
<circle cx="407.2" cy="263.9" r="1.07" fill="#745daa" opacity="0.9"/>
<circle cx="405.1" cy="262.3" r="0.87" fill="#7f68b0" opacity="0.9"/>
<circle cx="304.6" cy="171.7" r="2.2" fill="#d3bcdc" opacity="0.55"/>
<circle cx="307.6" cy="170.8" r="0.99" fill="#7f68b0" opacity="0.9"/>
<circle cx="307.9" cy="171.6" r="0.86" fill="#8a73b7" opacity="0.9"/>
<circle cx="307.2" cy="174.7" r="1.02" fill="#8a73b7" opacity="0.9"/>
<circle cx="304.5" cy="175.3" r="0.98" fill="#7f68b0" opacity="0.9"/>
<circle cx="302.5" cy="174.9" r="0.92" fill="#8a73b7" opacity="0.9"/>
<circle cx="301.7" cy="173.2" r="1.05" fill="#7f68b0" opacity="0.9"/>
<circle cx="301.0" cy="171.8" r="0.97" fill="#745daa" opacity="0.9"/>
<circle cx="302.2" cy="169.3" r="1.08" fill="#8a73b7" opacity="0.9"/>
<circle cx="303.8" cy="168.6" r="1.06" fill="#7f68b0" opacity="0.9"/>
<circle cx="375.2" cy="201.1" r="1.8" fill="#d3bcdc" opacity="0.55"/>
<circle cx="374.3" cy="204.0" r="0.79" fill="#7f68b0" opacity="0.9"/>
<circle cx="372.0" cy="202.1" r="0.83" fill="#7f68b0" opacity="0.9"/>
<circle cx="373.9" cy="198.6" r="1.05" fill="#7f68b0" opacity="0.9"/>
<circle cx="375.9" cy="198.5" r="0.92" fill="#8a73b7" opacity="0.9"/>
<circle cx="377.8" cy="199.2" r="0.84" fill="#7f68b0" opacity="0.9"/>
<circle cx="378.1" cy="201.3" r="0.79" fill="#745daa" opacity="0.9"/>
<circle cx="378.1" cy="202.8" r="1.05" fill="#8a73b7" opacity="0.9"/>
<circle cx="375.5" cy="204.0" r="0.86" fill="#7f68b0" opacity="0.9"/>
<circle cx="381.2" cy="164.0" r="2.0" fill="#d3bcdc" opacity="0.55"/>
<circle cx="383.2" cy="161.2" r="0.82" fill="#7f68b0" opacity="0.9"/>
<circle cx="384.3" cy="163.0" r="0.83" fill="#7f68b0" opacity="0.9"/>
<circle cx="383.9" cy="165.2" r="0.79" fill="#8a73b7" opacity="0.9"/>
<circle cx="383.2" cy="166.2" r="1.07" fill="#7f68b0" opacity="0.9"/>
<circle cx="380.5" cy="167.5" r="0.87" fill="#7f68b0" opacity="0.9"/>
<circle cx="377.7" cy="164.8" r="1.08" fill="#8a73b7" opacity="0.9"/>
<circle cx="378.3" cy="163.2" r="0.80" fill="#7f68b0" opacity="0.9"/>
<circle cx="379.5" cy="161.0" r="0.98" fill="#7f68b0" opacity="0.9"/>
<circle cx="381.8" cy="160.3" r="0.73" fill="#8a73b7" opacity="0.9"/>
<circle cx="364.9" cy="265.3" r="2.4" fill="#d3bcdc" opacity="0.55"/>
<circle cx="368.8" cy="266.6" r="0.83" fill="#8a73b7" opacity="0.9"/>
<circle cx="367.3" cy="268.1" r="0.73" fill="#745daa" opacity="0.9"/>
<circle cx="363.3" cy="268.7" r="0.84" fill="#8a73b7" opacity="0.9"/>
<circle cx="361.6" cy="267.8" r="1.07" fill="#8a73b7" opacity="0.9"/>
<circle cx="361.0" cy="265.7" r="0.75" fill="#745daa" opacity="0.9"/>
<circle cx="362.2" cy="263.0" r="1.02" fill="#8a73b7" opacity="0.9"/>
<circle cx="363.7" cy="261.5" r="1.08" fill="#7f68b0" opacity="0.9"/>
<circle cx="365.9" cy="261.1" r="1.06" fill="#8a73b7" opacity="0.9"/>
<circle cx="367.2" cy="262.0" r="1.00" fill="#745daa" opacity="0.9"/>
<circle cx="368.3" cy="264.1" r="0.92" fill="#7f68b0" opacity="0.9"/>
<circle cx="441.1" cy="266.6" r="2.1" fill="#d3bcdc" opacity="0.55"/>
<circle cx="442.0" cy="263.4" r="0.78" fill="#7f68b0" opacity="0.9"/>
<circle cx="444.5" cy="267.7" r="0.87" fill="#745daa" opacity="0.9"/>
<circle cx="442.3" cy="270.2" r="0.81" fill="#745daa" opacity="0.9"/>
<circle cx="440.4" cy="270.1" r="0.76" fill="#7f68b0" opacity="0.9"/>
<circle cx="439.0" cy="269.7" r="0.90" fill="#7f68b0" opacity="0.9"/>
<circle cx="438.3" cy="267.2" r="0.71" fill="#8a73b7" opacity="0.9"/>
<circle cx="437.9" cy="265.2" r="0.90" fill="#745daa" opacity="0.9"/>
<circle cx="439.0" cy="263.7" r="1.06" fill="#745daa" opacity="0.9"/>
<circle cx="328.9" cy="210.3" r="2.4" fill="#d3bcdc" opacity="0.55"/>
<circle cx="328.5" cy="214.5" r="1.00" fill="#8a73b7" opacity="0.9"/>
<circle cx="326.6" cy="213.3" r="0.83" fill="#745daa" opacity="0.9"/>
<circle cx="325.4" cy="212.0" r="0.77" fill="#745daa" opacity="0.9"/>
<circle cx="325.2" cy="209.5" r="0.95" fill="#745daa" opacity="0.9"/>
<circle cx="326.4" cy="207.8" r="1.01" fill="#8a73b7" opacity="0.9"/>
<circle cx="328.5" cy="206.8" r="1.05" fill="#745daa" opacity="0.9"/>
<circle cx="329.6" cy="206.9" r="0.74" fill="#7f68b0" opacity="0.9"/>
<circle cx="332.3" cy="208.8" r="1.00" fill="#745daa" opacity="0.9"/>
<circle cx="332.4" cy="210.2" r="0.79" fill="#745daa" opacity="0.9"/>
<circle cx="332.7" cy="212.0" r="0.99" fill="#8a73b7" opacity="0.9"/>
<circle cx="391.4" cy="276.6" r="2.3" fill="#d3bcdc" opacity="0.55"/>
<circle cx="394.3" cy="279.6" r="0.88" fill="#8a73b7" opacity="0.9"/>
<circle cx="391.1" cy="280.0" r="1.09" fill="#745daa" opacity="0.9"/>
<circle cx="389.4" cy="279.3" r="0.77" fill="#8a73b7" opacity="0.9"/>
<circle cx="388.1" cy="278.5" r="0.72" fill="#7f68b0" opacity="0.9"/>
<circle cx="389.6" cy="273.7" r="0.74" fill="#8a73b7" opacity="0.9"/>
<circle cx="394.0" cy="273.9" r="0.79" fill="#7f68b0" opacity="0.9"/>
<circle cx="394.7" cy="275.4" r="0.89" fill="#8a73b7" opacity="0.9"/>
<circle cx="395.3" cy="278.1" r="1.09" fill="#8a73b7" opacity="0.9"/>
<circle cx="337.7" cy="227.6" r="1.8" fill="#d3bcdc" opacity="0.55"/>
<circle cx="339.2" cy="230.2" r="0.85" fill="#8a73b7" opacity="0.9"/>
<circle cx="337.0" cy="230.2" r="0.77" fill="#7f68b0" opacity="0.9"/>
<circle cx="335.5" cy="228.8" r="0.97" fill="#7f68b0" opacity="0.9"/>
<circle cx="334.6" cy="227.0" r="0.86" fill="#7f68b0" opacity="0.9"/>
<circle cx="337.5" cy="224.8" r="0.93" fill="#7f68b0" opacity="0.9"/>
<circle cx="338.8" cy="224.6" r="0.86" fill="#7f68b0" opacity="0.9"/>
<circle cx="340.1" cy="226.4" r="0.87" fill="#7f68b0" opacity="0.9"/>
<circle cx="340.3" cy="229.0" r="0.83" fill="#8a73b7" opacity="0.9"/>
<circle cx="383.1" cy="205.4" r="1.9" fill="#d3bcdc" opacity="0.55"/>
<circle cx="380.4" cy="205.7" r="0.78" fill="#745daa" opacity="0.9"/>
<circle cx="380.5" cy="204.5" r="0.82" fill="#8a73b7" opacity="0.9"/>
<circle cx="381.7" cy="202.7" r="1.03" fill="#8a73b7" opacity="0.9"/>
<circle cx="384.5" cy="202.4" r="0.75" fill="#7f68b0" opacity="0.9"/>
<circle cx="385.5" cy="203.0" r="1.00" fill="#7f68b0" opacity="0.9"/>
<circle cx="386.0" cy="205.5" r="1.10" fill="#8a73b7" opacity="0.9"/>
<circle cx="385.5" cy="207.5" r="1.01" fill="#745daa" opacity="0.9"/>
<circle cx="383.9" cy="208.7" r="0.97" fill="#7f68b0" opacity="0.9"/>
<circle cx="381.2" cy="207.4" r="0.88" fill="#745daa" opacity="0.9"/>
<circle cx="361.0" cy="235.0" r="1.9" fill="#d3bcdc" opacity="0.55"/>
<circle cx="363.7" cy="235.4" r="0.98" fill="#7f68b0" opacity="0.9"/>
<circle cx="362.8" cy="236.9" r="0.80" fill="#8a73b7" opacity="0.9"/>
<circle cx="361.8" cy="237.8" r="0.90" fill="#745daa" opacity="0.9"/>
<circle cx="359.5" cy="237.7" r="0.83" fill="#7f68b0" opacity="0.9"/>
<circle cx="358.7" cy="233.8" r="0.99" fill="#7f68b0" opacity="0.9"/>
<circle cx="359.4" cy="232.1" r="0.94" fill="#7f68b0" opacity="0.9"/>
<circle cx="419.2" cy="221.0" r="1.8" fill="#d3bcdc" opacity="0.55"/>
<circle cx="422.5" cy="220.3" r="0.71" fill="#8a73b7" opacity="0.9"/>
<circle cx="420.6" cy="223.5" r="0.98" fill="#7f68b0" opacity="0.9"/>
<circle cx="418.5" cy="224.0" r="0.89" fill="#7f68b0" opacity="0.9"/>
<circle cx="417.1" cy="222.8" r="1.02" fill="#745daa" opacity="0.9"/>
<circle cx="416.6" cy="220.9" r="0.81" fill="#745daa" opacity="0.9"/>
<circle cx="416.9" cy="219.3" r="0.85" fill="#745daa" opacity="0.9"/>
<circle cx="420.6" cy="218.4" r="0.79" fill="#745daa" opacity="0.9"/>
<circle cx="432.8" cy="229.3" r="2.5" fill="#d3bcdc" opacity="0.55"/>
<circle cx="436.7" cy="229.2" r="0.93" fill="#7f68b0" opacity="0.9"/>
<circle cx="436.1" cy="231.4" r="0.76" fill="#8a73b7" opacity="0.9"/>
<circle cx="432.0" cy="232.8" r="0.79" fill="#745daa" opacity="0.9"/>
<circle cx="429.9" cy="231.9" r="0.72" fill="#8a73b7" opacity="0.9"/>
<circle cx="429.3" cy="230.7" r="1.02" fill="#745daa" opacity="0.9"/>
<circle cx="429.1" cy="229.0" r="0.80" fill="#745daa" opacity="0.9"/>
<circle cx="432.2" cy="225.7" r="0.76" fill="#8a73b7" opacity="0.9"/>
<circle cx="316.0" cy="280.5" r="2.4" fill="#d3bcdc" opacity="0.55"/>
<circle cx="317.2" cy="276.3" r="0.78" fill="#7f68b0" opacity="0.9"/>
<circle cx="318.6" cy="277.7" r="0.85" fill="#8a73b7" opacity="0.9"/>
<circle cx="319.7" cy="280.2" r="1.07" fill="#7f68b0" opacity="0.9"/>
<circle cx="319.2" cy="282.4" r="0.91" fill="#7f68b0" opacity="0.9"/>
<circle cx="316.4" cy="284.8" r="1.05" fill="#8a73b7" opacity="0.9"/>
<circle cx="313.3" cy="283.1" r="0.95" fill="#745daa" opacity="0.9"/>
<circle cx="312.1" cy="281.8" r="0.79" fill="#745daa" opacity="0.9"/>
<circle cx="312.3" cy="280.3" r="1.05" fill="#7f68b0" opacity="0.9"/>
<circle cx="312.8" cy="278.3" r="0.98" fill="#7f68b0" opacity="0.9"/>
<circle cx="314.9" cy="277.1" r="0.84" fill="#7f68b0" opacity="0.9"/>
<circle cx="406.2" cy="199.3" r="1.7" fill="#d3bcdc" opacity="0.55"/>
<circle cx="403.6" cy="197.8" r="0.92" fill="#745daa" opacity="0.9"/>
<circle cx="405.6" cy="197.0" r="1.00" fill="#8a73b7" opacity="0.9"/>
<circle cx="407.3" cy="197.2" r="1.01" fill="#745daa" opacity="0.9"/>
<circle cx="408.7" cy="198.5" r="0.91" fill="#745daa" opacity="0.9"/>
<circle cx="408.6" cy="200.0" r="0.96" fill="#8a73b7" opacity="0.9"/>
<circle cx="407.6" cy="202.0" r="1.04" fill="#745daa" opacity="0.9"/>
<circle cx="404.3" cy="200.6" r="0.92" fill="#745daa" opacity="0.9"/>
<circle cx="403.2" cy="199.0" r="1.01" fill="#745daa" opacity="0.9"/>
<circle cx="424.4" cy="252.6" r="1.8" fill="#d3bcdc" opacity="0.55"/>
<circle cx="425.3" cy="250.3" r="0.90" fill="#745daa" opacity="0.9"/>
<circle cx="426.5" cy="251.6" r="0.95" fill="#8a73b7" opacity="0.9"/>
<circle cx="425.7" cy="255.2" r="0.87" fill="#745daa" opacity="0.9"/>
<circle cx="424.5" cy="255.9" r="0.75" fill="#745daa" opacity="0.9"/>
<circle cx="422.7" cy="254.7" r="0.92" fill="#745daa" opacity="0.9"/>
<circle cx="421.2" cy="252.5" r="0.80" fill="#745daa" opacity="0.9"/>
<circle cx="421.6" cy="251.0" r="0.80" fill="#8a73b7" opacity="0.9"/>
<circle cx="423.2" cy="249.9" r="1.03" fill="#7f68b0" opacity="0.9"/>
<circle cx="401.3" cy="185.7" r="1.8" fill="#d3bcdc" opacity="0.55"/>
<circle cx="398.9" cy="184.3" r="0.96" fill="#745daa" opacity="0.9"/>
<circle cx="399.9" cy="182.7" r="1.03" fill="#745daa" opacity="0.9"/>
<circle cx="402.3" cy="183.4" r="1.03" fill="#8a73b7" opacity="0.9"/>
<circle cx="404.1" cy="184.7" r="0.86" fill="#8a73b7" opacity="0.9"/>
<circle cx="404.4" cy="186.1" r="0.74" fill="#8a73b7" opacity="0.9"/>
<circle cx="403.2" cy="187.4" r="0.89" fill="#7f68b0" opacity="0.9"/>
<circle cx="401.6" cy="188.5" r="0.96" fill="#8a73b7" opacity="0.9"/>
<circle cx="398.8" cy="185.6" r="0.84" fill="#7f68b0" opacity="0.9"/>
<circle cx="424.7" cy="208.7" r="2.3" fill="#d3bcdc" opacity="0.55"/>
<circle cx="424.1" cy="212.8" r="0.81" fill="#8a73b7" opacity="0.9"/>
<circle cx="422.0" cy="211.1" r="1.01" fill="#8a73b7" opacity="0.9"/>
<circle cx="421.4" cy="209.6" r="0.86" fill="#745daa" opacity="0.9"/>
<circle cx="421.2" cy="208.1" r="0.85" fill="#7f68b0" opacity="0.9"/>
<circle cx="422.3" cy="205.6" r="1.06" fill="#745daa" opacity="0.9"/>
<circle cx="423.8" cy="204.7" r="1.03" fill="#745daa" opacity="0.9"/>
<circle cx="425.6" cy="204.9" r="0.71" fill="#745daa" opacity="0.9"/>
<circle cx="427.6" cy="206.4" r="0.73" fill="#7f68b0" opacity="0.9"/>
<circle cx="427.9" cy="210.5" r="1.06" fill="#8a73b7" opacity="0.9"/>
<circle cx="426.3" cy="211.9" r="0.77" fill="#8a73b7" opacity="0.9"/>
<circle cx="403.7" cy="238.6" r="1.9" fill="#d3bcdc" opacity="0.55"/>
<circle cx="401.6" cy="241.2" r="0.95" fill="#7f68b0" opacity="0.9"/>
<circle cx="402.4" cy="235.9" r="0.71" fill="#7f68b0" opacity="0.9"/>
<circle cx="403.7" cy="235.8" r="0.83" fill="#8a73b7" opacity="0.9"/>
<circle cx="406.0" cy="236.7" r="0.91" fill="#7f68b0" opacity="0.9"/>
<circle cx="406.8" cy="237.6" r="1.10" fill="#7f68b0" opacity="0.9"/>
<circle cx="406.5" cy="239.6" r="0.79" fill="#745daa" opacity="0.9"/>
<circle cx="405.1" cy="241.9" r="0.76" fill="#8a73b7" opacity="0.9"/>
<circle cx="403.7" cy="241.4" r="1.05" fill="#745daa" opacity="0.9"/>
<circle cx="316.3" cy="158.1" r="2.2" fill="#d3bcdc" opacity="0.55"/>
<circle cx="314.8" cy="161.5" r="0.95" fill="#8a73b7" opacity="0.9"/>
<circle cx="312.9" cy="158.4" r="0.92" fill="#7f68b0" opacity="0.9"/>
<circle cx="313.9" cy="155.1" r="1.02" fill="#745daa" opacity="0.9"/>
<circle cx="315.2" cy="154.8" r="1.06" fill="#8a73b7" opacity="0.9"/>
<circle cx="318.4" cy="155.2" r="0.90" fill="#745daa" opacity="0.9"/>
<circle cx="319.7" cy="159.1" r="0.78" fill="#8a73b7" opacity="0.9"/>
<circle cx="318.9" cy="161.0" r="0.74" fill="#7f68b0" opacity="0.9"/>
<circle cx="317.6" cy="161.1" r="1.00" fill="#7f68b0" opacity="0.9"/>
<circle cx="309.0" cy="231.7" r="2.2" fill="#d3bcdc" opacity="0.55"/>
<circle cx="312.3" cy="231.6" r="0.95" fill="#7f68b0" opacity="0.9"/>
<circle cx="310.1" cy="234.9" r="1.09" fill="#8a73b7" opacity="0.9"/>
<circle cx="308.7" cy="234.9" r="0.92" fill="#7f68b0" opacity="0.9"/>
<circle cx="305.9" cy="233.7" r="0.96" fill="#8a73b7" opacity="0.9"/>
<circle cx="305.4" cy="232.2" r="1.05" fill="#745daa" opacity="0.9"/>
<circle cx="305.3" cy="230.2" r="1.07" fill="#8a73b7" opacity="0.9"/>
<circle cx="308.2" cy="228.2" r="0.81" fill="#8a73b7" opacity="0.9"/>
<circle cx="310.4" cy="228.2" r="0.78" fill="#7f68b0" opacity="0.9"/>
<circle cx="311.5" cy="229.0" r="1.06" fill="#7f68b0" opacity="0.9"/>
<circle cx="406.5" cy="172.6" r="2.5" fill="#d3bcdc" opacity="0.55"/>
<circle cx="404.9" cy="175.9" r="0.95" fill="#7f68b0" opacity="0.9"/>
<circle cx="403.1" cy="174.8" r="0.79" fill="#7f68b0" opacity="0.9"/>
<circle cx="403.0" cy="172.8" r="1.07" fill="#745daa" opacity="0.9"/>
<circle cx="403.4" cy="170.5" r="0.88" fill="#8a73b7" opacity="0.9"/>
<circle cx="404.9" cy="169.4" r="0.83" fill="#745daa" opacity="0.9"/>
<circle cx="406.7" cy="169.0" r="1.02" fill="#7f68b0" opacity="0.9"/>
<circle cx="408.8" cy="169.7" r="0.84" fill="#8a73b7" opacity="0.9"/>
<circle cx="410.6" cy="173.4" r="0.88" fill="#8a73b7" opacity="0.9"/>
<circle cx="407.4" cy="176.3" r="0.88" fill="#745daa" opacity="0.9"/>
<circle cx="380.6" cy="215.3" r="1.8" fill="#d3bcdc" opacity="0.55"/>
<circle cx="378.6" cy="218.0" r="1.07" fill="#8a73b7" opacity="0.9"/>
<circle cx="377.6" cy="215.8" r="0.70" fill="#8a73b7" opacity="0.9"/>
<circle cx="377.6" cy="214.5" r="0.70" fill="#7f68b0" opacity="0.9"/>
<circle cx="381.0" cy="212.4" r="0.85" fill="#7f68b0" opacity="0.9"/>
<circle cx="383.4" cy="213.9" r="0.88" fill="#745daa" opacity="0.9"/>
<circle cx="383.7" cy="215.1" r="0.93" fill="#8a73b7" opacity="0.9"/>
<circle cx="382.7" cy="217.7" r="0.75" fill="#8a73b7" opacity="0.9"/>
<circle cx="380.4" cy="218.1" r="0.99" fill="#745daa" opacity="0.9"/>
<circle cx="344.8" cy="190.0" r="2.3" fill="#d3bcdc" opacity="0.55"/>
<circle cx="342.2" cy="192.1" r="0.80" fill="#7f68b0" opacity="0.9"/>
<circle cx="341.1" cy="191.1" r="0.70" fill="#745daa" opacity="0.9"/>
<circle cx="341.7" cy="188.6" r="0.73" fill="#745daa" opacity="0.9"/>
<circle cx="343.1" cy="187.2" r="0.83" fill="#8a73b7" opacity="0.9"/>
<circle cx="344.5" cy="186.3" r="0.87" fill="#7f68b0" opacity="0.9"/>
<circle cx="348.1" cy="189.6" r="0.99" fill="#7f68b0" opacity="0.9"/>
<circle cx="348.4" cy="191.1" r="0.70" fill="#7f68b0" opacity="0.9"/>
<circle cx="346.8" cy="192.8" r="1.07" fill="#745daa" opacity="0.9"/>
<circle cx="344.5" cy="193.7" r="0.76" fill="#745daa" opacity="0.9"/>
<circle cx="301.5" cy="195.0" r="1.8" fill="#d3bcdc" opacity="0.55"/>
<circle cx="303.4" cy="193.0" r="1.03" fill="#7f68b0" opacity="0.9"/>
<circle cx="304.0" cy="194.8" r="0.85" fill="#745daa" opacity="0.9"/>
<circle cx="304.0" cy="196.7" r="0.79" fill="#8a73b7" opacity="0.9"/>
<circle cx="303.1" cy="197.7" r="0.90" fill="#7f68b0" opacity="0.9"/>
<circle cx="300.1" cy="197.8" r="1.07" fill="#7f68b0" opacity="0.9"/>
<circle cx="298.8" cy="196.9" r="0.90" fill="#7f68b0" opacity="0.9"/>
<circle cx="298.2" cy="194.9" r="0.91" fill="#745daa" opacity="0.9"/>
<circle cx="299.5" cy="192.5" r="0.83" fill="#8a73b7" opacity="0.9"/>
<circle cx="300.9" cy="191.8" r="0.87" fill="#745daa" opacity="0.9"/>
<circle cx="375.0" cy="223.7" r="1.9" fill="#d3bcdc" opacity="0.55"/>
<circle cx="372.9" cy="226.0" r="1.01" fill="#8a73b7" opacity="0.9"/>
<circle cx="371.8" cy="223.7" r="1.03" fill="#8a73b7" opacity="0.9"/>
<circle cx="372.9" cy="221.8" r="0.86" fill="#8a73b7" opacity="0.9"/>
<circle cx="374.2" cy="220.9" r="0.95" fill="#7f68b0" opacity="0.9"/>
<circle cx="376.4" cy="221.4" r="1.09" fill="#745daa" opacity="0.9"/>
<circle cx="377.7" cy="222.8" r="0.96" fill="#7f68b0" opacity="0.9"/>
<circle cx="378.0" cy="224.9" r="0.87" fill="#7f68b0" opacity="0.9"/>
<circle cx="376.1" cy="227.0" r="0.91" fill="#8a73b7" opacity="0.9"/>
<circle cx="374.1" cy="226.8" r="0.88" fill="#745daa" opacity="0.9"/>
<circle cx="309.8" cy="221.8" r="2.2" fill="#d3bcdc" opacity="0.55"/>
<circle cx="307.2" cy="219.3" r="1.03" fill="#745daa" opacity="0.9"/>
<circle cx="308.9" cy="218.2" r="1.09" fill="#7f68b0" opacity="0.9"/>
<circle cx="313.0" cy="219.8" r="0.79" fill="#745daa" opacity="0.9"/>
<circle cx="312.8" cy="223.0" r="0.85" fill="#8a73b7" opacity="0.9"/>
<circle cx="312.8" cy="224.0" r="0.98" fill="#7f68b0" opacity="0.9"/>
<circle cx="310.3" cy="225.6" r="1.06" fill="#8a73b7" opacity="0.9"/>
<circle cx="308.4" cy="224.8" r="1.00" fill="#8a73b7" opacity="0.9"/>
<circle cx="306.6" cy="223.1" r="1.04" fill="#8a73b7" opacity="0.9"/>
<circle cx="305.9" cy="221.5" r="0.89" fill="#8a73b7" opacity="0.9"/>
<circle cx="416.3" cy="250.3" r="2.3" fill="#d3bcdc" opacity="0.55"/>
<circle cx="416.4" cy="247.0" r="0.92" fill="#7f68b0" opacity="0.9"/>
<circle cx="418.3" cy="247.5" r="0.99" fill="#745daa" opacity="0.9"/>
<circle cx="419.4" cy="251.8" r="1.01" fill="#8a73b7" opacity="0.9"/>
<circle cx="417.9" cy="253.6" r="1.07" fill="#7f68b0" opacity="0.9"/>
<circle cx="415.1" cy="254.2" r="0.71" fill="#8a73b7" opacity="0.9"/>
<circle cx="412.5" cy="251.1" r="0.72" fill="#7f68b0" opacity="0.9"/>
<circle cx="414.9" cy="246.4" r="0.91" fill="#8a73b7" opacity="0.9"/>
<circle cx="339.9" cy="160.6" r="1.8" fill="#d3bcdc" opacity="0.55"/>
<circle cx="341.0" cy="162.9" r="1.00" fill="#7f68b0" opacity="0.9"/>
<circle cx="338.8" cy="163.5" r="0.91" fill="#7f68b0" opacity="0.9"/>
<circle cx="336.9" cy="160.7" r="1.04" fill="#745daa" opacity="0.9"/>
<circle cx="337.7" cy="159.2" r="0.97" fill="#8a73b7" opacity="0.9"/>
<circle cx="339.0" cy="158.1" r="0.86" fill="#8a73b7" opacity="0.9"/>
<circle cx="341.6" cy="158.7" r="0.72" fill="#745daa" opacity="0.9"/>
<circle cx="342.8" cy="159.9" r="0.95" fill="#8a73b7" opacity="0.9"/>
<circle cx="342.6" cy="161.9" r="0.82" fill="#8a73b7" opacity="0.9"/>
<circle cx="409.5" cy="191.1" r="2.5" fill="#d3bcdc" opacity="0.55"/>
<circle cx="412.7" cy="188.4" r="1.02" fill="#745daa" opacity="0.9"/>
<circle cx="413.0" cy="190.6" r="1.00" fill="#7f68b0" opacity="0.9"/>
<circle cx="413.3" cy="193.2" r="0.73" fill="#7f68b0" opacity="0.9"/>
<circle cx="411.7" cy="194.5" r="1.03" fill="#8a73b7" opacity="0.9"/>
<circle cx="409.2" cy="195.5" r="1.02" fill="#8a73b7" opacity="0.9"/>
<circle cx="406.2" cy="192.7" r="1.00" fill="#745daa" opacity="0.9"/>
<circle cx="405.4" cy="190.8" r="0.74" fill="#8a73b7" opacity="0.9"/>
<circle cx="406.7" cy="188.9" r="0.86" fill="#745daa" opacity="0.9"/>
<circle cx="408.8" cy="187.5" r="1.00" fill="#7f68b0" opacity="0.9"/>
<circle cx="384.3" cy="263.3" r="2.0" fill="#d3bcdc" opacity="0.55"/>
<circle cx="384.7" cy="260.3" r="0.91" fill="#745daa" opacity="0.9"/>
<circle cx="385.5" cy="260.4" r="0.72" fill="#8a73b7" opacity="0.9"/>
<circle cx="387.2" cy="264.3" r="1.09" fill="#8a73b7" opacity="0.9"/>
<circle cx="385.6" cy="265.7" r="0.83" fill="#8a73b7" opacity="0.9"/>
<circle cx="382.5" cy="265.8" r="1.05" fill="#8a73b7" opacity="0.9"/>
<circle cx="381.4" cy="264.1" r="1.07" fill="#8a73b7" opacity="0.9"/>
<circle cx="381.8" cy="262.3" r="1.04" fill="#7f68b0" opacity="0.9"/>
<circle cx="382.1" cy="261.1" r="0.99" fill="#745daa" opacity="0.9"/>
<circle cx="354.2" cy="187.3" r="1.7" fill="#d3bcdc" opacity="0.55"/>
<circle cx="356.6" cy="185.9" r="0.93" fill="#745daa" opacity="0.9"/>
<circle cx="356.6" cy="188.4" r="0.79" fill="#7f68b0" opacity="0.9"/>
<circle cx="355.7" cy="189.6" r="0.95" fill="#8a73b7" opacity="0.9"/>
<circle cx="354.2" cy="190.3" r="0.79" fill="#7f68b0" opacity="0.9"/>
<circle cx="351.9" cy="188.9" r="0.87" fill="#745daa" opacity="0.9"/>
<circle cx="351.8" cy="187.3" r="0.80" fill="#745daa" opacity="0.9"/>
<circle cx="351.6" cy="186.1" r="1.10" fill="#8a73b7" opacity="0.9"/>
<circle cx="353.3" cy="184.9" r="0.82" fill="#7f68b0" opacity="0.9"/>
<circle cx="446.2" cy="185.5" r="2.1" fill="#d3bcdc" opacity="0.55"/>
<circle cx="446.6" cy="182.4" r="0.97" fill="#7f68b0" opacity="0.9"/>
<circle cx="449.9" cy="184.9" r="1.01" fill="#8a73b7" opacity="0.9"/>
<circle cx="449.1" cy="186.7" r="0.81" fill="#7f68b0" opacity="0.9"/>
<circle cx="448.4" cy="188.4" r="1.09" fill="#7f68b0" opacity="0.9"/>
<circle cx="444.2" cy="188.1" r="0.84" fill="#8a73b7" opacity="0.9"/>
<circle cx="442.9" cy="186.8" r="0.73" fill="#8a73b7" opacity="0.9"/>
<circle cx="443.0" cy="184.0" r="0.78" fill="#8a73b7" opacity="0.9"/>
<circle cx="444.2" cy="182.7" r="0.89" fill="#745daa" opacity="0.9"/>
<circle cx="367.4" cy="161.2" r="2.3" fill="#d3bcdc" opacity="0.55"/>
<circle cx="368.2" cy="158.0" r="0.86" fill="#7f68b0" opacity="0.9"/>
<circle cx="370.0" cy="158.6" r="0.87" fill="#7f68b0" opacity="0.9"/>
<circle cx="371.0" cy="161.2" r="0.74" fill="#745daa" opacity="0.9"/>
<circle cx="370.5" cy="162.3" r="0.83" fill="#8a73b7" opacity="0.9"/>
<circle cx="368.5" cy="164.7" r="0.86" fill="#7f68b0" opacity="0.9"/>
<circle cx="366.5" cy="164.8" r="0.92" fill="#8a73b7" opacity="0.9"/>
<circle cx="365.8" cy="164.3" r="0.94" fill="#8a73b7" opacity="0.9"/>
<circle cx="363.4" cy="162.1" r="1.05" fill="#7f68b0" opacity="0.9"/>
<circle cx="438.1" cy="203.4" r="2.0" fill="#d3bcdc" opacity="0.55"/>
<circle cx="441.7" cy="202.8" r="0.80" fill="#7f68b0" opacity="0.9"/>
<circle cx="441.0" cy="204.9" r="0.94" fill="#745daa" opacity="0.9"/>
<circle cx="439.7" cy="205.8" r="0.75" fill="#745daa" opacity="0.9"/>
<circle cx="437.8" cy="206.6" r="0.92" fill="#7f68b0" opacity="0.9"/>
<circle cx="436.5" cy="206.3" r="0.98" fill="#745daa" opacity="0.9"/>
<circle cx="435.2" cy="204.5" r="1.07" fill="#7f68b0" opacity="0.9"/>
<circle cx="435.1" cy="201.6" r="0.98" fill="#7f68b0" opacity="0.9"/>
<circle cx="436.8" cy="201.0" r="1.03" fill="#745daa" opacity="0.9"/>
<circle cx="438.5" cy="199.9" r="0.70" fill="#745daa" opacity="0.9"/>
<circle cx="440.7" cy="200.8" r="0.86" fill="#7f68b0" opacity="0.9"/>
<circle cx="322.7" cy="274.9" r="2.6" fill="#d3bcdc" opacity="0.55"/>
<circle cx="319.5" cy="272.3" r="1.09" fill="#745daa" opacity="0.9"/>
<circle cx="320.9" cy="271.3" r="0.73" fill="#8a73b7" opacity="0.9"/>
<circle cx="323.8" cy="271.0" r="0.92" fill="#8a73b7" opacity="0.9"/>
<circle cx="326.1" cy="272.5" r="0.82" fill="#745daa" opacity="0.9"/>
<circle cx="327.2" cy="274.1" r="0.94" fill="#8a73b7" opacity="0.9"/>
<circle cx="324.4" cy="278.2" r="0.87" fill="#7f68b0" opacity="0.9"/>
<circle cx="322.9" cy="279.1" r="0.79" fill="#8a73b7" opacity="0.9"/>
<circle cx="319.1" cy="276.2" r="0.90" fill="#745daa" opacity="0.9"/>
<circle cx="318.4" cy="274.7" r="0.75" fill="#745daa" opacity="0.9"/>
<circle cx="369.9" cy="279.8" r="2.2" fill="#d3bcdc" opacity="0.55"/>
<circle cx="368.6" cy="282.8" r="0.88" fill="#7f68b0" opacity="0.9"/>
<circle cx="367.2" cy="281.5" r="0.88" fill="#7f68b0" opacity="0.9"/>
<circle cx="366.4" cy="279.3" r="0.87" fill="#8a73b7" opacity="0.9"/>
<circle cx="367.0" cy="278.4" r="0.73" fill="#8a73b7" opacity="0.9"/>
<circle cx="369.0" cy="276.8" r="0.79" fill="#8a73b7" opacity="0.9"/>
<circle cx="371.3" cy="276.9" r="0.89" fill="#745daa" opacity="0.9"/>
<circle cx="372.0" cy="277.4" r="0.79" fill="#745daa" opacity="0.9"/>
<circle cx="373.3" cy="279.9" r="1.00" fill="#745daa" opacity="0.9"/>
<circle cx="372.7" cy="282.0" r="0.88" fill="#7f68b0" opacity="0.9"/>
<circle cx="371.6" cy="282.8" r="0.80" fill="#745daa" opacity="0.9"/>
<circle cx="390.1" cy="157.7" r="1.8" fill="#d3bcdc" opacity="0.55"/>
<circle cx="387.3" cy="155.9" r="0.82" fill="#7f68b0" opacity="0.9"/>
<circle cx="389.4" cy="155.2" r="0.81" fill="#7f68b0" opacity="0.9"/>
<circle cx="391.9" cy="155.4" r="0.95" fill="#8a73b7" opacity="0.9"/>
<circle cx="392.7" cy="158.2" r="0.88" fill="#7f68b0" opacity="0.9"/>
<circle cx="391.7" cy="160.5" r="1.01" fill="#8a73b7" opacity="0.9"/>
<circle cx="389.4" cy="160.8" r="0.88" fill="#7f68b0" opacity="0.9"/>
<circle cx="387.9" cy="159.7" r="0.99" fill="#7f68b0" opacity="0.9"/>
<circle cx="386.9" cy="157.7" r="0.86" fill="#745daa" opacity="0.9"/>
<circle cx="373.2" cy="178.1" r="1.8" fill="#d3bcdc" opacity="0.55"/>
<circle cx="375.8" cy="179.2" r="0.98" fill="#745daa" opacity="0.9"/>
<circle cx="372.4" cy="181.0" r="0.72" fill="#8a73b7" opacity="0.9"/>
<circle cx="371.4" cy="180.0" r="0.70" fill="#7f68b0" opacity="0.9"/>
<circle cx="370.7" cy="177.8" r="0.76" fill="#8a73b7" opacity="0.9"/>
<circle cx="371.2" cy="176.3" r="0.91" fill="#8a73b7" opacity="0.9"/>
<circle cx="374.5" cy="175.5" r="0.99" fill="#745daa" opacity="0.9"/>
<circle cx="375.7" cy="177.5" r="0.96" fill="#7f68b0" opacity="0.9"/>
<circle cx="312.6" cy="269.8" r="2.3" fill="#d3bcdc" opacity="0.55"/>
<circle cx="314.7" cy="267.2" r="0.76" fill="#8a73b7" opacity="0.9"/>
<circle cx="315.8" cy="268.8" r="1.02" fill="#8a73b7" opacity="0.9"/>
<circle cx="316.1" cy="270.7" r="0.81" fill="#745daa" opacity="0.9"/>
<circle cx="313.0" cy="274.0" r="1.03" fill="#7f68b0" opacity="0.9"/>
<circle cx="308.8" cy="271.1" r="0.89" fill="#7f68b0" opacity="0.9"/>
<circle cx="308.8" cy="268.1" r="0.97" fill="#7f68b0" opacity="0.9"/>
<circle cx="309.7" cy="266.9" r="0.98" fill="#8a73b7" opacity="0.9"/>
<circle cx="383.6" cy="243.8" r="1.9" fill="#d3bcdc" opacity="0.55"/>
<circle cx="384.4" cy="240.7" r="0.96" fill="#7f68b0" opacity="0.9"/>
<circle cx="386.0" cy="242.6" r="0.84" fill="#745daa" opacity="0.9"/>
<circle cx="386.8" cy="245.0" r="0.89" fill="#8a73b7" opacity="0.9"/>
<circle cx="381.6" cy="246.1" r="0.90" fill="#7f68b0" opacity="0.9"/>
<circle cx="380.7" cy="244.6" r="1.09" fill="#7f68b0" opacity="0.9"/>
<circle cx="381.6" cy="241.8" r="0.86" fill="#7f68b0" opacity="0.9"/>
<circle cx="385.0" cy="185.6" r="2.1" fill="#d3bcdc" opacity="0.55"/>
<circle cx="382.2" cy="183.5" r="0.71" fill="#745daa" opacity="0.9"/>
<circle cx="383.1" cy="182.4" r="1.06" fill="#7f68b0" opacity="0.9"/>
<circle cx="386.9" cy="182.8" r="0.72" fill="#745daa" opacity="0.9"/>
<circle cx="388.0" cy="184.6" r="1.08" fill="#7f68b0" opacity="0.9"/>
<circle cx="388.2" cy="186.3" r="0.79" fill="#8a73b7" opacity="0.9"/>
<circle cx="386.2" cy="188.8" r="0.79" fill="#745daa" opacity="0.9"/>
<circle cx="385.0" cy="188.6" r="0.84" fill="#7f68b0" opacity="0.9"/>
<circle cx="382.1" cy="187.8" r="0.75" fill="#8a73b7" opacity="0.9"/>
<circle cx="381.5" cy="186.2" r="0.79" fill="#7f68b0" opacity="0.9"/>
<circle cx="349.0" cy="248.3" r="2.5" fill="#d3bcdc" opacity="0.55"/>
<circle cx="347.7" cy="252.5" r="0.91" fill="#745daa" opacity="0.9"/>
<circle cx="345.6" cy="250.5" r="0.96" fill="#745daa" opacity="0.9"/>
<circle cx="345.9" cy="245.9" r="0.84" fill="#8a73b7" opacity="0.9"/>
<circle cx="347.2" cy="244.4" r="0.96" fill="#8a73b7" opacity="0.9"/>
<circle cx="349.4" cy="244.3" r="0.93" fill="#8a73b7" opacity="0.9"/>
<circle cx="351.4" cy="245.3" r="0.90" fill="#7f68b0" opacity="0.9"/>
<circle cx="353.1" cy="246.6" r="0.92" fill="#7f68b0" opacity="0.9"/>
<circle cx="351.7" cy="251.5" r="0.89" fill="#745daa" opacity="0.9"/>
<circle cx="349.8" cy="252.3" r="0.97" fill="#8a73b7" opacity="0.9"/>
<circle cx="440.1" cy="250.2" r="1.8" fill="#d3bcdc" opacity="0.55"/>
<circle cx="442.4" cy="251.2" r="0.96" fill="#7f68b0" opacity="0.9"/>
<circle cx="440.7" cy="253.3" r="1.00" fill="#745daa" opacity="0.9"/>
<circle cx="438.9" cy="252.4" r="0.87" fill="#745daa" opacity="0.9"/>
<circle cx="437.7" cy="251.3" r="0.71" fill="#745daa" opacity="0.9"/>
<circle cx="437.2" cy="249.9" r="1.10" fill="#8a73b7" opacity="0.9"/>
<circle cx="438.3" cy="247.5" r="1.06" fill="#8a73b7" opacity="0.9"/>
<circle cx="439.8" cy="247.6" r="0.76" fill="#745daa" opacity="0.9"/>
<circle cx="441.6" cy="247.7" r="0.94" fill="#8a73b7" opacity="0.9"/>
</g>
<g filter="url(#fb2)">
<ellipse cx="322" cy="225" rx="24" ry="60" fill="#9a80bd" opacity="0.16"/>
<ellipse cx="425" cy="225" rx="22" ry="20" fill="#e6d2e8" opacity="0.25"/>
<ellipse cx="440" cy="272" rx="18" ry="9" fill="#ead0e4" opacity="0.3"/>
<path d="M410.3 155L408 163L403.2 168.4L397.7 172.4L388 169L384 172L390 176L398.5 181.8L404.8 183.4L414.3 181.8L423.7 179.4L431.6 176.3L441 178.7L447.4 174.7L447 168L449.8 155Z" fill="#f0c8d8" opacity="0.98"/>
<path d="M451 170L458 168L458 262L452 258L449 245L451 225L450 205L451 185Z" fill="#e8c6dc" opacity="0.85"/>
<ellipse cx="448" cy="274" rx="10" ry="7" fill="#e2c8e0" opacity="0.7"/>
</g>
<g filter="url(#fb07)">
<path d="M412 156L409 164L404 170L400 174L405 180L414 179L424 176L432 173L441 175L445 171L445 166L447 156Z" fill="#efc4d5" opacity="0.9"/>
<path d="M416 158L412 166L408 172L414 175L424 172L434 168L440 160Z" fill="#e9adc5" opacity="0.55"/>
<ellipse cx="415.9" cy="196.8" rx="5.2" ry="5.2" fill="#e795b4" opacity="0.9"/>
<ellipse cx="341.2" cy="215.5" rx="8.2" ry="8.2" fill="#e388a9" opacity="0.95"/>
<ellipse cx="349.2" cy="230.5" rx="8.2" ry="8.4" fill="#ecaec6" opacity="0.88"/>
<ellipse cx="362.9" cy="217.4" rx="7.6" ry="6.3" fill="#e9b2cb" opacity="0.85"/>
<ellipse cx="385" cy="225.8" rx="7.7" ry="7.5" fill="#edc0d3" opacity="0.85"/>
<ellipse cx="376.8" cy="236.5" rx="5.6" ry="4.8" fill="#eebfd1" opacity="0.85"/>
<ellipse cx="391.8" cy="241.3" rx="4.6" ry="4.6" fill="#ebb0c8" opacity="0.85"/>
<ellipse cx="452.3" cy="244.8" rx="5.8" ry="12.5" fill="#eeb4ca" opacity="0.9"/>
<ellipse cx="433.2" cy="257.4" rx="7.2" ry="7" fill="#ebacc5" opacity="0.92"/>
<ellipse cx="404.8" cy="272.4" rx="7.7" ry="7.4" fill="#e99cb9" opacity="0.9"/>
<ellipse cx="382.7" cy="273.5" rx="6.6" ry="6.4" fill="#ecaec6" opacity="0.85"/>
<ellipse cx="423.7" cy="227.5" rx="4.2" ry="4.2" fill="#e8bcd2" opacity="0.7"/>
<ellipse cx="324" cy="262" rx="7" ry="6.5" fill="#d9bcd8" opacity="0.55"/>
<ellipse cx="356.4" cy="259.8" rx="6" ry="6" fill="#dcbcd6" opacity="0.55"/>
<ellipse cx="318" cy="196" rx="4" ry="3.5" fill="#d8aacb" opacity="0.5"/>
<ellipse cx="372" cy="268" rx="4.5" ry="4" fill="#e3b3cc" opacity="0.6"/>
<ellipse cx="335" cy="240" rx="4" ry="4" fill="#d9b6d4" opacity="0.5"/>
<ellipse cx="420" cy="268" rx="4" ry="3.5" fill="#e6b4cc" opacity="0.6"/>
<path d="M386 173L392 178L399 183.5L405 185L414.5 183.5L424 181L432 178L441 180.5L448 176.5L449 168L452 160" fill="none" stroke="#7a62ad" stroke-width="2.2" opacity="0.5"/>
<ellipse cx="357.9" cy="201" rx="4" ry="3" fill="#fbf8fc" opacity="0.95"/>
<ellipse cx="354.5" cy="205.5" rx="2.5" ry="2.2" fill="#fbf8fc" opacity="0.95"/>
<ellipse cx="364.2" cy="246" rx="2" ry="2" fill="#fbf8fc" opacity="0.95"/>
<ellipse cx="398.9" cy="232.6" rx="2.5" ry="2.2" fill="#fbf8fc" opacity="0.95"/>
<ellipse cx="412" cy="222.7" rx="2.2" ry="2.2" fill="#fbf8fc" opacity="0.95"/>
<ellipse cx="400" cy="233" rx="2.5" ry="1.6" fill="#fbf8fc" opacity="0.95"/>
<ellipse cx="390" cy="171" rx="5" ry="1.5" fill="#fbf8fc" opacity="0.95"/>
<ellipse cx="366" cy="208" rx="2" ry="1.5" fill="#fbf8fc" opacity="0.95"/>
<ellipse cx="340.5" cy="196.3" rx="6" ry="3.6" fill="#6a52a2" opacity="0.75"/>
<ellipse cx="305" cy="188.7" rx="3" ry="3" fill="#6a52a2" opacity="0.7"/>
<ellipse cx="371.3" cy="224" rx="1.6" ry="3.2" fill="#6a52a2" opacity="0.75"/>
<ellipse cx="389.4" cy="191.6" rx="5" ry="2" fill="#6a52a2" opacity="0.6"/>
<ellipse cx="453" cy="161" rx="3.5" ry="3.5" fill="#6a52a2" opacity="0.6"/>
<ellipse cx="330" cy="190" rx="2.5" ry="2" fill="#6a52a2" opacity="0.5"/>
<ellipse cx="436" cy="190" rx="6" ry="2" fill="#6a52a2" opacity="0.4"/>
<ellipse cx="425" cy="200" rx="3" ry="5" fill="#6a52a2" opacity="0.35"/>
</g>
</g>
<text x="331" y="151.2" font-size="10" text-anchor="start" fill="#1a1a1a" textLength="77.5" lengthAdjust="spacingAndGlyphs" stroke="#1a1a1a" stroke-width="0.28" >neutrophil infiltration</text>
<path d="M363.7 154.5L347.6 186.3" stroke="#111" stroke-width="1.0" fill="none"/>
<path d="M346.2 189.2L346.2 185.6L349.1 187.1Z" fill="#111"/>
<path d="M370.5 154.5L390.8 186.5" stroke="#111" stroke-width="1.0" fill="none"/>
<path d="M392.5 189.2L389.4 187.4L392.1 185.6Z" fill="#111"/>
<text x="459.2" y="214.2" font-size="10" text-anchor="start" fill="#1a1a1a" textLength="58.3" lengthAdjust="spacingAndGlyphs" stroke="#1a1a1a" stroke-width="0.28" >protein deposits</text>
<path d="M458.7 210.7L421.0 196.6" stroke="#111" stroke-width="1.0" fill="none"/>
<path d="M418.0 195.5L421.6 195.1L420.4 198.1Z" fill="#111"/>
<path d="M459.5 206.5L450.4 176.3" stroke="#111" stroke-width="1.0" fill="none"/>
<path d="M449.5 173.2L452.0 175.8L448.9 176.7Z" fill="#111"/>
<path d="M462.5 217.5L455.8 233.3" stroke="#111" stroke-width="1.0" fill="none"/>
<path d="M454.5 236.2L454.3 232.6L457.2 233.9Z" fill="#111"/>
<text x="327.5" y="291.2" font-size="10" text-anchor="start" fill="#1a1a1a" textLength="35" lengthAdjust="spacingAndGlyphs" stroke="#1a1a1a" stroke-width="0.28" >glomeruli</text>
<path d="M343.7 282.5L332.3 271.4" stroke="#111" stroke-width="1.0" fill="none"/>
<path d="M330.0 269.2L333.4 270.3L331.2 272.6Z" fill="#111"/>
<path d="M346.2 282.5L355.9 271.6" stroke="#111" stroke-width="1.0" fill="none"/>
<path d="M358.0 269.2L357.1 272.7L354.7 270.5Z" fill="#111"/>
<path d="M306.2 335.8V435.8" stroke="#141414" stroke-width="1.1" fill="none"/>
<path d="M305.7 435.8H456.2" stroke="#141414" stroke-width="1.5" fill="none"/>
<path d="M302.7 435.8H306.2" stroke="#141414" stroke-width="0.9"/>
<text x="301.0" y="438.3" font-size="6.8" text-anchor="end" fill="#1a1a1a" stroke="#1a1a1a" stroke-width="0.28" >0</text>
<path d="M302.7 410.9H306.2" stroke="#141414" stroke-width="0.9"/>
<text x="301.0" y="413.4" font-size="6.8" text-anchor="end" fill="#1a1a1a" stroke="#1a1a1a" stroke-width="0.28" >1</text>
<path d="M302.7 386.0H306.2" stroke="#141414" stroke-width="0.9"/>
<text x="301.0" y="388.5" font-size="6.8" text-anchor="end" fill="#1a1a1a" stroke="#1a1a1a" stroke-width="0.28" >2</text>
<path d="M302.7 361.1H306.2" stroke="#141414" stroke-width="0.9"/>
<text x="301.0" y="363.6" font-size="6.8" text-anchor="end" fill="#1a1a1a" stroke="#1a1a1a" stroke-width="0.28" >3</text>
<path d="M302.7 336.2H306.2" stroke="#141414" stroke-width="0.9"/>
<text x="301.0" y="338.7" font-size="6.8" text-anchor="end" fill="#1a1a1a" stroke="#1a1a1a" stroke-width="0.28" >4</text>
<path d="M324.8 435.8V439.1" stroke="#141414" stroke-width="1"/>
<path d="M362.5 435.8V439.1" stroke="#141414" stroke-width="1"/>
<path d="M400.2 435.8V439.1" stroke="#141414" stroke-width="1"/>
<path d="M438 435.8V439.1" stroke="#141414" stroke-width="1"/>
<text x="285" y="397.3" font-size="10" text-anchor="start" fill="#1a1a1a" textLength="23.3" lengthAdjust="spacingAndGlyphs" transform="rotate(-90 285 397.3)" stroke="#1a1a1a" stroke-width="0.28" >score</text>
<text x="313.7" y="449" font-size="10" text-anchor="start" fill="#1a1a1a" textLength="22.8" lengthAdjust="spacingAndGlyphs" stroke="#1a1a1a" stroke-width="0.28" >spleen</text>
<text x="347.4" y="449" font-size="10" text-anchor="start" fill="#1a1a1a" textLength="30.3" lengthAdjust="spacingAndGlyphs" stroke="#1a1a1a" stroke-width="0.28" >sternum</text>
<text x="393" y="449" font-size="10" text-anchor="start" fill="#1a1a1a" textLength="14.7" lengthAdjust="spacingAndGlyphs" stroke="#1a1a1a" stroke-width="0.28" >liver</text>
<text x="425.3" y="449" font-size="10" text-anchor="start" fill="#1a1a1a" textLength="23.9" lengthAdjust="spacingAndGlyphs" stroke="#1a1a1a" stroke-width="0.28" >kidney</text>
<path d="M316.6 347.8H333.4M354.3 347.8H371.1" stroke="#141414" stroke-width="1"/>
<text x="325.2" y="346.5" font-size="9" text-anchor="middle" fill="#1a1a1a" stroke="#1a1a1a" stroke-width="0.28" >*</text>
<text x="362.8" y="346.5" font-size="9" text-anchor="middle" fill="#1a1a1a" stroke="#1a1a1a" stroke-width="0.28" >**</text>
<path d="M318.4 430.8V435.0M315.7 430.8H321.1M315.7 435.0H321.1M313.8 432.8H323.0" stroke="#141414" stroke-width="0.8" fill="none"/>
<rect x="313.2" y="433.4" width="9.5" height="4.8" rx="2.4" fill="#141414"/>
<circle cx="318.4" cy="410.9" r="1.75" fill="#fff" stroke="#141414" stroke-width="1.0"/>
<path d="M332.2 404.4V420.5M329.5 404.4H334.9M329.5 420.5H334.9M327.6 411.0H336.8" stroke="#141414" stroke-width="0.8" fill="none"/>
<path d="M328.6 410.9L330.4 409.1L332.2 410.9L330.4 412.7Z" fill="#fff" stroke="#141414" stroke-width="1.05" stroke-linejoin="round"/>
<path d="M332.8 410.9L334.6 409.1L336.4 410.9L334.6 412.7Z" fill="#fff" stroke="#141414" stroke-width="1.05" stroke-linejoin="round"/>
<path d="M328.5 386.0L330.3 384.2L332.1 386.0L330.3 387.8Z" fill="#fff" stroke="#141414" stroke-width="1.05" stroke-linejoin="round"/>
<path d="M332.7 386.0L334.5 384.2L336.3 386.0L334.5 387.8Z" fill="#fff" stroke="#141414" stroke-width="1.05" stroke-linejoin="round"/>
<path d="M328.4 361.1L330.2 359.3L332.0 361.1L330.2 362.9Z" fill="#fff" stroke="#141414" stroke-width="1.05" stroke-linejoin="round"/>
<path d="M329.6 361.1L331.4 359.3L333.2 361.1L331.4 362.9Z" fill="#fff" stroke="#141414" stroke-width="1.05" stroke-linejoin="round"/>
<path d="M330.8 361.1L332.6 359.3L334.4 361.1L332.6 362.9Z" fill="#fff" stroke="#141414" stroke-width="1.05" stroke-linejoin="round"/>
<path d="M332.0 361.1L333.8 359.3L335.6 361.1L333.8 362.9Z" fill="#fff" stroke="#141414" stroke-width="1.05" stroke-linejoin="round"/>
<path d="M333.2 361.1L335.0 359.3L336.8 361.1L335.0 362.9Z" fill="#fff" stroke="#141414" stroke-width="1.05" stroke-linejoin="round"/>
<path d="M327.8 435.8L329.6 434.0L331.4 435.8L329.6 437.6Z" fill="#fff" stroke="#141414" stroke-width="1.05" stroke-linejoin="round"/>
<path d="M329.0 435.8L330.8 434.0L332.6 435.8L330.8 437.6Z" fill="#fff" stroke="#141414" stroke-width="1.05" stroke-linejoin="round"/>
<path d="M330.2 435.8L332.0 434.0L333.8 435.8L332.0 437.6Z" fill="#fff" stroke="#141414" stroke-width="1.05" stroke-linejoin="round"/>
<path d="M331.4 435.8L333.2 434.0L335.0 435.8L333.2 437.6Z" fill="#fff" stroke="#141414" stroke-width="1.05" stroke-linejoin="round"/>
<path d="M332.6 435.8L334.4 434.0L336.2 435.8L334.4 437.6Z" fill="#fff" stroke="#141414" stroke-width="1.05" stroke-linejoin="round"/>
<path d="M355.2 424.4V434.0M352.5 424.4H357.9M352.5 434.0H357.9M350.6 429.1H359.8" stroke="#141414" stroke-width="0.8" fill="none"/>
<rect x="351.2" y="433.4" width="8.7" height="4.8" rx="2.4" fill="#141414"/>
<circle cx="355.2" cy="410.9" r="1.75" fill="#fff" stroke="#141414" stroke-width="1.0"/>
<circle cx="355.2" cy="386.0" r="1.75" fill="#fff" stroke="#141414" stroke-width="1.0"/>
<path d="M369.4 385.9V405.4M366.7 385.9H372.1M366.7 405.4H372.1M364.8 395.4H374.0" stroke="#141414" stroke-width="0.8" fill="none"/>
<path d="M367.4 386.0L369.4 384.0L371.4 386.0L369.4 388.0Z" fill="#141414"/>
<path d="M367.6 410.9L369.4 409.1L371.2 410.9L369.4 412.7Z" fill="#fff" stroke="#141414" stroke-width="1.05" stroke-linejoin="round"/>
<path d="M365.0 361.1L366.8 359.3L368.6 361.1L366.8 362.9Z" fill="#fff" stroke="#141414" stroke-width="1.05" stroke-linejoin="round"/>
<path d="M366.5 361.1L368.3 359.3L370.1 361.1L368.3 362.9Z" fill="#fff" stroke="#141414" stroke-width="1.05" stroke-linejoin="round"/>
<path d="M368.8 361.1L370.6 359.3L372.4 361.1L370.6 362.9Z" fill="#fff" stroke="#141414" stroke-width="1.05" stroke-linejoin="round"/>
<path d="M371.0 361.1L372.8 359.3L374.6 361.1L372.8 362.9Z" fill="#fff" stroke="#141414" stroke-width="1.05" stroke-linejoin="round"/>
<path d="M366.0 435.8L367.8 434.0L369.6 435.8L367.8 437.6Z" fill="#fff" stroke="#141414" stroke-width="1.05" stroke-linejoin="round"/>
<path d="M367.6 435.8L369.4 434.0L371.2 435.8L369.4 437.6Z" fill="#fff" stroke="#141414" stroke-width="1.05" stroke-linejoin="round"/>
<path d="M369.2 435.8L371.0 434.0L372.8 435.8L371.0 437.6Z" fill="#fff" stroke="#141414" stroke-width="1.05" stroke-linejoin="round"/>
<rect x="388.7" y="433.4" width="8.6" height="4.8" rx="2.4" fill="#141414"/>
<path d="M407.2 415.4V428.7M404.5 415.4H409.9M404.5 428.7H409.9M402.6 422.2H411.8" stroke="#141414" stroke-width="0.8" fill="none"/>
<path d="M403.4 410.9L405.2 409.1L407.0 410.9L405.2 412.7Z" fill="#fff" stroke="#141414" stroke-width="1.05" stroke-linejoin="round"/>
<path d="M404.6 410.9L406.4 409.1L408.2 410.9L406.4 412.7Z" fill="#fff" stroke="#141414" stroke-width="1.05" stroke-linejoin="round"/>
<path d="M405.8 410.9L407.6 409.1L409.4 410.9L407.6 412.7Z" fill="#fff" stroke="#141414" stroke-width="1.05" stroke-linejoin="round"/>
<path d="M407.0 410.9L408.8 409.1L410.6 410.9L408.8 412.7Z" fill="#fff" stroke="#141414" stroke-width="1.05" stroke-linejoin="round"/>
<path d="M407.8 410.9L409.6 409.1L411.4 410.9L409.6 412.7Z" fill="#fff" stroke="#141414" stroke-width="1.05" stroke-linejoin="round"/>
<path d="M404.2 435.8L406.0 434.0L407.8 435.8L406.0 437.6Z" fill="#fff" stroke="#141414" stroke-width="1.05" stroke-linejoin="round"/>
<path d="M405.8 435.8L407.6 434.0L409.4 435.8L407.6 437.6Z" fill="#fff" stroke="#141414" stroke-width="1.05" stroke-linejoin="round"/>
<path d="M407.4 435.8L409.2 434.0L411.0 435.8L409.2 437.6Z" fill="#fff" stroke="#141414" stroke-width="1.05" stroke-linejoin="round"/>
<path d="M405.4 361.1L407.2 359.3L409.0 361.1L407.2 362.9Z" fill="#fff" stroke="#141414" stroke-width="1.05" stroke-linejoin="round"/>
<path d="M430.7 410.2V427.9M428.0 410.2H433.4M428.0 427.9H433.4M426.1 419.2H435.3" stroke="#141414" stroke-width="0.8" fill="none"/>
<rect x="426.7" y="433.4" width="8.3" height="4.8" rx="2.4" fill="#141414"/>
<circle cx="428.4" cy="361.1" r="1.9" fill="#fff" stroke="#141414" stroke-width="1.0"/>
<circle cx="433.1" cy="361.1" r="1.9" fill="#fff" stroke="#141414" stroke-width="1.0"/>
<circle cx="430.5" cy="386.0" r="1.9" fill="#fff" stroke="#141414" stroke-width="1.0"/>
<path d="M444.9 400.2V413.4M442.2 400.2H447.6M442.2 413.4H447.6M440.3 406.8H449.5" stroke="#141414" stroke-width="0.8" fill="none"/>
<rect x="441.4" y="408.8" width="7.5" height="4.2" rx="2.1" fill="#141414"/>
<path d="M442.0 435.8L443.8 434.0L445.6 435.8L443.8 437.6Z" fill="#fff" stroke="#141414" stroke-width="1.05" stroke-linejoin="round"/>
<path d="M444.2 435.8L446.0 434.0L447.8 435.8L446.0 437.6Z" fill="#fff" stroke="#141414" stroke-width="1.05" stroke-linejoin="round"/>
<path d="M440.5 361.1L442.3 359.3L444.1 361.1L442.3 362.9Z" fill="#fff" stroke="#141414" stroke-width="1.05" stroke-linejoin="round"/>
<path d="M445.3 361.1L447.1 359.3L448.9 361.1L447.1 362.9Z" fill="#fff" stroke="#141414" stroke-width="1.05" stroke-linejoin="round"/>
<path d="M443.1 386.0L444.9 384.2L446.7 386.0L444.9 387.8Z" fill="#fff" stroke="#141414" stroke-width="1.05" stroke-linejoin="round"/>
<circle cx="466.2" cy="342.5" r="2.0" fill="#fff" stroke="#141414" stroke-width="1.0"/>
<path d="M464.3 353.9L466.2 352.0L468.1 353.9L466.2 355.8Z" fill="#fff" stroke="#141414" stroke-width="1.05" stroke-linejoin="round"/>
<text x="475" y="345.3" font-size="10" text-anchor="start" fill="#1a1a1a" stroke="#1a1a1a" stroke-width="0.28" >v-<tspan font-style="italic">abl</tspan></text>
<text x="475" y="357.8" font-size="10" text-anchor="start" fill="#1a1a1a" stroke="#1a1a1a" stroke-width="0.28" ><tspan font-style="italic">bim</tspan><tspan font-size="6.8" dy="-3" font-style="italic">-/-</tspan><tspan dy="3">v-</tspan><tspan font-style="italic">abl</tspan></text>
<text x="341.2" y="489" font-size="10" text-anchor="start" fill="#1a1a1a" stroke="#1a1a1a" stroke-width="0.28" >v-<tspan font-style="italic">abl</tspan></text>
<text x="404.6" y="489" font-size="10" text-anchor="start" fill="#1a1a1a" stroke="#1a1a1a" stroke-width="0.28" ><tspan font-style="italic">bim</tspan><tspan font-size="6.8" dy="-3" font-style="italic">-/-</tspan><tspan dy="3">v-</tspan><tspan font-style="italic">abl</tspan></text>
<path d="M327.3 492.4H375.7M391.2 492.4H461.6" stroke="#141414" stroke-width="0.9"/>
<text x="304.2" y="504.3" font-size="9.4" text-anchor="start" fill="#1a1a1a" font-style="italic" textLength="9.6" lengthAdjust="spacingAndGlyphs" stroke="#1a1a1a" stroke-width="0.28" >wt</text>
<text x="323.5" y="504.2" font-size="9.2" text-anchor="start" fill="#1a1a1a" textLength="13.8" lengthAdjust="spacingAndGlyphs" stroke="#1a1a1a" stroke-width="0.28" >105</text>
<text x="345.4" y="504.2" font-size="9.2" text-anchor="start" fill="#1a1a1a" textLength="13.4" lengthAdjust="spacingAndGlyphs" stroke="#1a1a1a" stroke-width="0.28" >162</text>
<text x="365.8" y="504.2" font-size="9.2" text-anchor="start" fill="#1a1a1a" textLength="13.8" lengthAdjust="spacingAndGlyphs" stroke="#1a1a1a" stroke-width="0.28" >165</text>
<text x="387.3" y="504.2" font-size="9.2" text-anchor="start" fill="#1a1a1a" textLength="13.8" lengthAdjust="spacingAndGlyphs" stroke="#1a1a1a" stroke-width="0.28" >123</text>
<text x="408.5" y="504.2" font-size="9.2" text-anchor="start" fill="#1a1a1a" textLength="13.9" lengthAdjust="spacingAndGlyphs" stroke="#1a1a1a" stroke-width="0.28" >133</text>
<text x="430" y="504.2" font-size="9.2" text-anchor="start" fill="#1a1a1a" textLength="14.3" lengthAdjust="spacingAndGlyphs" stroke="#1a1a1a" stroke-width="0.28" >149</text>
<text x="451.2" y="504.2" font-size="9.2" text-anchor="start" fill="#1a1a1a" textLength="13.9" lengthAdjust="spacingAndGlyphs" stroke="#1a1a1a" stroke-width="0.28" >186</text>
<defs><filter id="bl" x="-20%" y="-20%" width="140%" height="140%"><feGaussianBlur stdDeviation="1.2 1.0"/></filter></defs>
<rect x="296.4" y="507.9" width="171.8" height="62.3" fill="#e7e7e8"/>
<g filter="url(#bl)">
<rect x="303.9" y="519.0" width="10.5" height="11.0" fill="#96969f" opacity="0.3"/>
<rect x="303.9" y="530.0" width="10.5" height="28.0" fill="#96969f" opacity="0.6"/>
<rect x="303.7" y="521.1" width="11.0" height="3.0" rx="1.5" fill="#bababf" opacity="1"/>
<rect x="303.7" y="525.0" width="11.0" height="3.0" rx="1.5" fill="#bababf" opacity="1"/>
<rect x="303.4" y="531.2" width="11.5" height="4.0" rx="1.5" fill="#72727e" opacity="0.9"/>
<rect x="303.4" y="538.5" width="11.5" height="3.5" rx="1.5" fill="#96969f" opacity="1"/>
<rect x="303.4" y="544.8" width="11.5" height="3.5" rx="1.5" fill="#72727e" opacity="0.85"/>
<rect x="303.2" y="552.9" width="12.0" height="6.0" rx="1.5" fill="#4c4c58" opacity="0.9"/>
<rect x="325.5" y="530.0" width="9.0" height="28.0" fill="#bababf" opacity="0.68"/>
<rect x="325.0" y="531.3" width="10.0" height="3.4" rx="1.5" fill="#72727e" opacity="0.75"/>
<rect x="325.0" y="535.4" width="10.0" height="3.2" rx="1.5" fill="#72727e" opacity="0.7"/>
<rect x="325.2" y="540.0" width="9.5" height="3.0" rx="1.5" fill="#bababf" opacity="1"/>
<rect x="325.2" y="545.0" width="9.5" height="3.0" rx="1.5" fill="#bababf" opacity="0.9"/>
<rect x="325.0" y="554.0" width="10.0" height="4.5" rx="1.5" fill="#96969f" opacity="0.95"/>
<rect x="346.1" y="520.0" width="11.0" height="39.0" fill="#96969f" opacity="0.74"/>
<rect x="345.6" y="521.0" width="12.0" height="3.0" rx="1.5" fill="#72727e" opacity="0.9"/>
<rect x="345.4" y="523.8" width="12.4" height="5.0" rx="1.5" fill="#4c4c58" opacity="1"/>
<rect x="345.9" y="531.5" width="11.5" height="3.5" rx="1.5" fill="#72727e" opacity="0.8"/>
<rect x="345.9" y="537.6" width="11.5" height="3.5" rx="1.5" fill="#72727e" opacity="0.7"/>
<rect x="345.9" y="543.9" width="11.5" height="3.5" rx="1.5" fill="#72727e" opacity="0.8"/>
<rect x="345.6" y="552.3" width="12.0" height="6.0" rx="1.5" fill="#4c4c58" opacity="0.85"/>
<rect x="367.4" y="520.0" width="11.0" height="39.0" fill="#96969f" opacity="0.81"/>
<rect x="366.6" y="519.5" width="12.5" height="3.6" rx="1.5" fill="#33333f" opacity="1"/>
<rect x="367.1" y="525.0" width="11.5" height="4.0" rx="1.5" fill="#72727e" opacity="0.6"/>
<rect x="367.1" y="530.5" width="11.5" height="4.0" rx="1.5" fill="#72727e" opacity="0.6"/>
<rect x="367.1" y="537.6" width="11.5" height="3.5" rx="1.5" fill="#72727e" opacity="0.6"/>
<rect x="367.1" y="544.8" width="11.5" height="3.5" rx="1.5" fill="#72727e" opacity="0.7"/>
<rect x="366.9" y="552.9" width="12.0" height="6.0" rx="1.5" fill="#4c4c58" opacity="0.85"/>
<rect x="388.6" y="528.0" width="10.5" height="31.0" fill="#96969f" opacity="0.94"/>
<rect x="389.3" y="519.7" width="9.0" height="4.0" rx="1.5" fill="#bababf" opacity="0.9"/>
<rect x="388.1" y="529.8" width="11.5" height="5.0" rx="1.5" fill="#4c4c58" opacity="0.8"/>
<rect x="388.1" y="536.5" width="11.5" height="4.0" rx="1.5" fill="#72727e" opacity="0.7"/>
<rect x="388.1" y="543.0" width="11.5" height="4.0" rx="1.5" fill="#72727e" opacity="0.7"/>
<rect x="387.8" y="553.7" width="12.0" height="6.0" rx="1.5" fill="#4c4c58" opacity="0.9"/>
<rect x="409.4" y="521.0" width="11.0" height="38.0" fill="#96969f" opacity="0.74"/>
<rect x="408.9" y="522.2" width="12.0" height="4.4" rx="1.5" fill="#4c4c58" opacity="0.85"/>
<rect x="409.1" y="530.5" width="11.5" height="3.5" rx="1.5" fill="#72727e" opacity="0.7"/>
<rect x="409.1" y="537.6" width="11.5" height="3.5" rx="1.5" fill="#72727e" opacity="0.7"/>
<rect x="409.1" y="544.8" width="11.5" height="3.5" rx="1.5" fill="#72727e" opacity="0.7"/>
<rect x="408.9" y="553.2" width="12.0" height="6.0" rx="1.5" fill="#4c4c58" opacity="0.85"/>
<rect x="430.8" y="519.0" width="11.0" height="40.0" fill="#96969f" opacity="0.81"/>
<rect x="430.1" y="518.8" width="12.4" height="4.0" rx="1.5" fill="#33333f" opacity="1"/>
<rect x="430.6" y="524.5" width="11.5" height="3.0" rx="1.5" fill="#96969f" opacity="0.9"/>
<rect x="430.3" y="530.0" width="12.0" height="4.6" rx="1.5" fill="#4c4c58" opacity="0.9"/>
<rect x="430.6" y="537.8" width="11.5" height="3.5" rx="1.5" fill="#72727e" opacity="0.7"/>
<rect x="430.6" y="544.8" width="11.5" height="3.5" rx="1.5" fill="#72727e" opacity="0.7"/>
<rect x="430.3" y="552.9" width="12.0" height="6.0" rx="1.5" fill="#4c4c58" opacity="0.85"/>
<rect x="452.6" y="520.0" width="9.5" height="10.0" fill="#96969f" opacity="0.35"/>
<rect x="452.6" y="530.0" width="9.5" height="28.0" fill="#96969f" opacity="0.68"/>
<rect x="452.8" y="520.5" width="9.0" height="4.0" rx="1.5" fill="#bababf" opacity="0.8"/>
<rect x="452.1" y="529.5" width="10.5" height="4.0" rx="1.5" fill="#72727e" opacity="0.6"/>
<rect x="451.8" y="533.5" width="11.0" height="5.0" rx="1.5" fill="#4c4c58" opacity="0.75"/>
<rect x="452.3" y="540.2" width="10.0" height="3.5" rx="1.5" fill="#72727e" opacity="0.6"/>
<rect x="452.3" y="545.8" width="10.0" height="3.5" rx="1.5" fill="#96969f" opacity="0.8"/>
<rect x="452.1" y="553.4" width="10.5" height="5.0" rx="1.5" fill="#72727e" opacity="0.95"/>
</g>
<rect x="296.4" y="507.9" width="171.8" height="62.3" fill="none" stroke="#3a3a3a" stroke-width="1.1"/>
<path d="M338.2 537.3H342.4" stroke="#141414" stroke-width="1"/>
<path d="M336.2 537.3L339.2 535.4L339.2 539.2Z" fill="#141414"/>
<path d="M360.4 526.5H364.6" stroke="#141414" stroke-width="1"/>
<path d="M358.4 526.5L361.4 524.6L361.4 528.4Z" fill="#141414"/>
<path d="M381.0 521.3H385.3" stroke="#141414" stroke-width="1"/>
<path d="M379.0 521.3L382.0 519.4L382.0 523.2Z" fill="#141414"/>
<path d="M402.0 532.8H406.5" stroke="#141414" stroke-width="1"/>
<path d="M400.0 532.8L403.0 530.9L403.0 534.7Z" fill="#141414"/>
<path d="M423.6 524.7H428.1" stroke="#141414" stroke-width="1"/>
<path d="M421.6 524.7L424.6 522.8L424.6 526.6Z" fill="#141414"/>
<path d="M445.2 520.8H449.6" stroke="#141414" stroke-width="1"/>
<path d="M443.2 520.8L446.2 518.9L446.2 522.7Z" fill="#141414"/>
<path d="M445.2 532.8H449.6" stroke="#141414" stroke-width="1"/>
<path d="M443.2 532.8L446.2 530.9L446.2 534.7Z" fill="#141414"/>
<path d="M466.0 536.2H470.6" stroke="#141414" stroke-width="1"/>
<path d="M464.0 536.2L467.0 534.3L467.0 538.1Z" fill="#141414"/>
</svg></body></html>
